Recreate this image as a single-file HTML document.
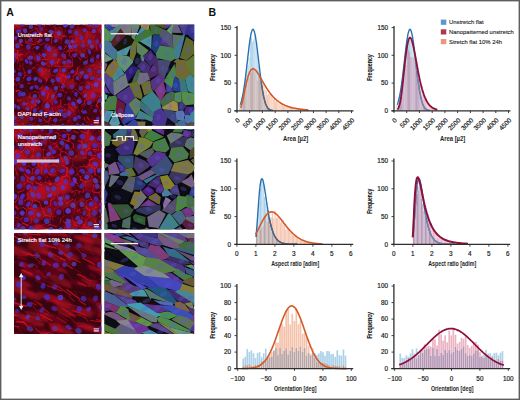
<!DOCTYPE html>
<html><head><meta charset="utf-8"><style>
html,body{margin:0;padding:0;background:#fff;width:520px;height:400px;overflow:hidden;font-family:"Liberation Sans",sans-serif}
svg{display:block}
</style></head><body>
<svg width="520" height="400" viewBox="0 0 520 400">
<defs><clipPath id="cp0"><rect x="14" y="24.5" width="87.6" height="101.2"/></clipPath><clipPath id="cq0"><rect x="104.4" y="24.5" width="89.9" height="101.2"/></clipPath><clipPath id="cp1"><rect x="14" y="129" width="87.6" height="100.6"/></clipPath><clipPath id="cq1"><rect x="104.4" y="129" width="89.9" height="100.6"/></clipPath><clipPath id="cp2"><rect x="14" y="233" width="87.6" height="101"/></clipPath><clipPath id="cq2"><rect x="104.4" y="233" width="89.9" height="101"/></clipPath><clipPath id="uc1"><path d="M239.5,110.8 L239.5,109.2 L240.7,109.2 L240.7,106.1 L241.8,106.1 L241.8,102.2 L243,102.2 L243,98.4 L244.1,98.4 L244.1,91 L245.3,91 L245.3,90.2 L246.4,90.2 L246.4,84.4 L247.6,84.4 L247.6,76.6 L248.7,76.6 L248.7,78.2 L249.9,78.2 L249.9,72.2 L251,72.2 L251,72.2 L252.1,72.2 L252.1,67.5 L253.3,67.5 L253.3,67 L254.4,67 L254.4,71.1 L255.6,71.1 L255.6,71.2 L256.7,71.2 L256.7,80.2 L257.9,80.2 L257.9,75.5 L259,75.5 L259,75.9 L260.2,75.9 L260.2,82.3 L261.3,82.3 L261.3,82.7 L262.4,82.7 L262.4,85.1 L263.6,85.1 L263.6,83.1 L264.7,83.1 L264.7,89.9 L265.9,89.9 L265.9,90.9 L267,90.9 L267,94.9 L268.2,94.9 L268.2,93.7 L269.3,93.7 L269.3,94 L270.5,94 L270.5,93.9 L271.6,93.9 L271.6,95.3 L272.8,95.3 L272.8,99.1 L273.9,99.1 L273.9,97.6 L275,97.6 L275,101.5 L276.2,101.5 L276.2,100.3 L277.3,100.3 L277.3,103.1 L278.5,103.1 L278.5,103.1 L279.6,103.1 L279.6,104.6 L280.8,104.6 L280.8,103.4 L281.9,103.4 L281.9,104.1 L283.1,104.1 L283.1,106 L284.2,106 L284.2,105.7 L285.4,105.7 L285.4,106.6 L286.5,106.6 L286.5,106.6 L287.6,106.6 L287.6,106.9 L288.8,106.9 L288.8,107.8 L289.9,107.8 L289.9,107.2 L291.1,107.2 L291.1,108.1 L292.2,108.1 L292.2,108.2 L293.4,108.2 L293.4,108.7 L294.5,108.7 L294.5,108.9 L295.7,108.9 L295.7,109 L296.8,109 L296.8,109 L298,109 L298,108.9 L299.1,108.9 L299.1,109 L300.2,109 L300.2,109.4 L301.4,109.4 L301.4,109.5 L302.5,109.5 L302.5,109.5 L303.7,109.5 L303.7,109.6 L304.8,109.6 L304.8,109.9 L306,109.9 L306,109.8 L307.1,109.8 L307.1,110 L308.3,110 L308.3,110 L309.4,110 L309.4,110 L310.6,110 L310.6,110.1 L311.7,110.1 L311.7,110.2 L312.8,110.2 L312.8,110.8Z"/></clipPath><clipPath id="uc2"><path d="M396.5,110.8 L396.5,110.2 L397.7,110.2 L397.7,108.7 L398.8,108.7 L398.8,105.1 L400,105.1 L400,101.9 L401.1,101.9 L401.1,92.6 L402.3,92.6 L402.3,87.3 L403.4,87.3 L403.4,79.1 L404.6,79.1 L404.6,68.6 L405.7,68.6 L405.7,64.8 L406.9,64.8 L406.9,42.3 L408,42.3 L408,49.6 L409.1,49.6 L409.1,52.1 L410.3,52.1 L410.3,56.4 L411.4,56.4 L411.4,57.1 L412.6,57.1 L412.6,57.4 L413.7,57.4 L413.7,58.2 L414.9,58.2 L414.9,60.5 L416,60.5 L416,61 L417.2,61 L417.2,68.6 L418.3,68.6 L418.3,81.5 L419.4,81.5 L419.4,82.6 L420.6,82.6 L420.6,84.8 L421.7,84.8 L421.7,94.4 L422.9,94.4 L422.9,93.3 L424,93.3 L424,98.5 L425.2,98.5 L425.2,99.4 L426.3,99.4 L426.3,102.9 L427.5,102.9 L427.5,103.8 L428.6,103.8 L428.6,105.4 L429.8,105.4 L429.8,107 L430.9,107 L430.9,107.1 L432,107.1 L432,107.8 L433.2,107.8 L433.2,108.7 L434.3,108.7 L434.3,109.2 L435.5,109.2 L435.5,109.3 L436.6,109.3 L436.6,109.8 L437.8,109.8 L437.8,109.9 L438.9,109.9 L438.9,110.2 L440.1,110.2 L440.1,110.3 L441.2,110.3 L441.2,110.4 L442.4,110.4 L442.4,110.5 L443.5,110.5 L443.5,110.6 L444.6,110.6 L444.6,110.6 L445.8,110.6 L445.8,110.7 L446.9,110.7 L446.9,110.7 L448.1,110.7 L448.1,110.7 L449.2,110.7 L449.2,110.7 L450.4,110.7 L450.4,110.8 L451.5,110.8 L451.5,110.8 L452.7,110.8 L452.7,110.8 L453.8,110.8 L453.8,110.8 L455,110.8 L455,110.8 L456.1,110.8 L456.1,110.8 L457.2,110.8 L457.2,110.8 L458.4,110.8 L458.4,110.8 L459.5,110.8 L459.5,110.8 L460.7,110.8 L460.7,110.8 L461.8,110.8 L461.8,110.8 L463,110.8 L463,110.8 L464.1,110.8 L464.1,110.8 L465.3,110.8 L465.3,110.8 L466.4,110.8 L466.4,110.8 L467.6,110.8 L467.6,110.8 L468.7,110.8 L468.7,110.8 L469.8,110.8 L469.8,110.8Z"/></clipPath><clipPath id="uc3"><path d="M255.9,244.4 L255.9,232.2 L257.2,232.2 L257.2,232.5 L258.6,232.5 L258.6,226.7 L259.9,226.7 L259.9,229.6 L261.2,229.6 L261.2,227.2 L262.6,227.2 L262.6,225.3 L263.9,225.3 L263.9,215.3 L265.2,215.3 L265.2,214.5 L266.5,214.5 L266.5,221.4 L267.9,221.4 L267.9,210.5 L269.2,210.5 L269.2,217.7 L270.5,217.7 L270.5,217 L271.9,217 L271.9,213.5 L273.2,213.5 L273.2,218.2 L274.5,218.2 L274.5,210.4 L275.9,210.4 L275.9,218 L277.2,218 L277.2,217.1 L278.5,217.1 L278.5,218.5 L279.8,218.5 L279.8,222.6 L281.2,222.6 L281.2,220.2 L282.5,220.2 L282.5,219.9 L283.8,219.9 L283.8,224.7 L285.2,224.7 L285.2,229.7 L286.5,229.7 L286.5,226.7 L287.8,226.7 L287.8,229.1 L289.2,229.1 L289.2,231.5 L290.5,231.5 L290.5,232.1 L291.8,232.1 L291.8,234.9 L293.1,234.9 L293.1,235.8 L294.5,235.8 L294.5,236.1 L295.8,236.1 L295.8,238.3 L297.1,238.3 L297.1,237.8 L298.5,237.8 L298.5,239.5 L299.8,239.5 L299.8,239.9 L301.1,239.9 L301.1,239.5 L302.5,239.5 L302.5,240.5 L303.8,240.5 L303.8,241.5 L305.1,241.5 L305.1,241.4 L306.4,241.4 L306.4,241.5 L307.8,241.5 L307.8,242 L309.1,242 L309.1,242.4 L310.4,242.4 L310.4,243 L311.8,243 L311.8,243 L313.1,243 L313.1,243.2 L314.4,243.2 L314.4,243.6 L315.8,243.6 L315.8,243.5 L317.1,243.5 L317.1,243.7 L318.4,243.7 L318.4,243.8 L319.7,243.8 L319.7,243.8 L321.1,243.8 L321.1,244 L322.4,244 L322.4,244.1 L323.7,244.1 L323.7,244.4Z"/></clipPath><clipPath id="uc4"><path d="M412.9,244.4 L412.9,226.1 L414.2,226.1 L414.2,202.6 L415.6,202.6 L415.6,186.4 L416.9,186.4 L416.9,184.1 L418.2,184.1 L418.2,190.6 L419.5,190.6 L419.5,183.9 L420.9,183.9 L420.9,188.1 L422.2,188.1 L422.2,205 L423.5,205 L423.5,210.9 L424.9,210.9 L424.9,210.9 L426.2,210.9 L426.2,219.5 L427.5,219.5 L427.5,215.5 L428.9,215.5 L428.9,220.2 L430.2,220.2 L430.2,223.6 L431.5,223.6 L431.5,229 L432.9,229 L432.9,229.1 L434.2,229.1 L434.2,232.9 L435.5,232.9 L435.5,234.2 L436.8,234.2 L436.8,236.7 L438.2,236.7 L438.2,237.9 L439.5,237.9 L439.5,237.1 L440.8,237.1 L440.8,239.1 L442.2,239.1 L442.2,238.2 L443.5,238.2 L443.5,239.6 L444.8,239.6 L444.8,240.2 L446.2,240.2 L446.2,240.2 L447.5,240.2 L447.5,241.4 L448.8,241.4 L448.8,242.1 L450.1,242.1 L450.1,242.2 L451.5,242.2 L451.5,242.2 L452.8,242.2 L452.8,242.7 L454.1,242.7 L454.1,242.8 L455.5,242.8 L455.5,242.7 L456.8,242.7 L456.8,243 L458.1,243 L458.1,243.2 L459.5,243.2 L459.5,243.4 L460.8,243.4 L460.8,243.4 L462.1,243.4 L462.1,243.3 L463.4,243.3 L463.4,243.7 L464.8,243.7 L464.8,243.5 L466.1,243.5 L466.1,243.6 L467.4,243.6 L467.4,243.8 L468.8,243.8 L468.8,243.8 L470.1,243.8 L470.1,243.9 L471.4,243.9 L471.4,244 L472.8,244 L472.8,244 L474.1,244 L474.1,243.9 L475.4,243.9 L475.4,244 L476.7,244 L476.7,244.1 L478.1,244.1 L478.1,244.1 L479.4,244.1 L479.4,244.1 L480.7,244.1 L480.7,244.4Z"/></clipPath><filter id="bl1" x="-10%" y="-10%" width="120%" height="120%"><feGaussianBlur stdDeviation="0.7"/></filter><filter id="bl3" x="-20%" y="-20%" width="140%" height="140%"><feGaussianBlur stdDeviation="1.6"/></filter><filter id="bl4" x="-5%" y="-5%" width="110%" height="110%"><feGaussianBlur stdDeviation="0.75"/></filter><filter id="bl2" x="-20%" y="-20%" width="140%" height="140%"><feGaussianBlur stdDeviation="0.6"/></filter></defs>
<rect width="520" height="400" fill="#fff"/>
<g clip-path="url(#cp0)">
<rect x="14" y="24.5" width="87.6" height="101.2" fill="#3e0512"/>
<g filter="url(#bl3)">
<circle cx="67.3" cy="112.9" r="4.2" fill="rgb(199,17,39)" fill-opacity="0.5"/>
<circle cx="45.3" cy="107.7" r="3.2" fill="rgb(180,16,36)" fill-opacity="0.5"/>
<circle cx="68.7" cy="128.4" r="5.7" fill="rgb(174,15,34)" fill-opacity="0.3"/>
<circle cx="104.1" cy="27.5" r="7.2" fill="rgb(202,18,40)" fill-opacity="0.5"/>
<circle cx="103.5" cy="65.1" r="4" fill="rgb(213,19,42)" fill-opacity="0.4"/>
<circle cx="11.1" cy="122.8" r="5.7" fill="rgb(207,18,41)" fill-opacity="0.3"/>
<circle cx="53.8" cy="108.6" r="7.9" fill="rgb(179,16,35)" fill-opacity="0.4"/>
<circle cx="89.1" cy="34.8" r="4" fill="rgb(214,19,42)" fill-opacity="0.5"/>
<circle cx="90.6" cy="23.4" r="5.2" fill="rgb(218,19,43)" fill-opacity="0.5"/>
<circle cx="18.4" cy="98.3" r="4.1" fill="rgb(165,14,33)" fill-opacity="0.3"/>
<circle cx="98.7" cy="46.5" r="5.3" fill="rgb(203,18,40)" fill-opacity="0.3"/>
<circle cx="82" cy="35.2" r="7.4" fill="rgb(181,16,36)" fill-opacity="0.5"/>
<circle cx="75.8" cy="31.9" r="3.7" fill="rgb(210,18,42)" fill-opacity="0.4"/>
<circle cx="50" cy="53.5" r="7.3" fill="rgb(170,15,34)" fill-opacity="0.4"/>
<circle cx="91.7" cy="44.5" r="5" fill="rgb(199,17,39)" fill-opacity="0.4"/>
<circle cx="100.1" cy="34.3" r="4" fill="rgb(165,14,33)" fill-opacity="0.4"/>
<circle cx="13.7" cy="48.9" r="8" fill="rgb(169,15,33)" fill-opacity="0.4"/>
<circle cx="100.1" cy="76.2" r="7.4" fill="rgb(224,20,44)" fill-opacity="0.4"/>
<circle cx="81.7" cy="88" r="3.1" fill="rgb(210,18,42)" fill-opacity="0.3"/>
<circle cx="27.5" cy="53.3" r="6.4" fill="rgb(163,14,32)" fill-opacity="0.4"/>
<circle cx="90.6" cy="96.8" r="5.9" fill="rgb(217,19,43)" fill-opacity="0.4"/>
<circle cx="18" cy="56.5" r="4.3" fill="rgb(205,18,41)" fill-opacity="0.5"/>
<circle cx="58.6" cy="33.1" r="5.2" fill="rgb(216,19,43)" fill-opacity="0.4"/>
<circle cx="97.4" cy="128.1" r="3.7" fill="rgb(220,19,44)" fill-opacity="0.3"/>
<circle cx="55.8" cy="57.4" r="7.6" fill="rgb(185,16,37)" fill-opacity="0.4"/>
<circle cx="100.3" cy="40.7" r="4.3" fill="rgb(192,17,38)" fill-opacity="0.3"/>
<circle cx="58.4" cy="36.2" r="4.6" fill="rgb(207,18,41)" fill-opacity="0.4"/>
<circle cx="37.7" cy="58" r="4.2" fill="rgb(215,19,43)" fill-opacity="0.5"/>
<circle cx="18.4" cy="28.7" r="5.1" fill="rgb(182,16,36)" fill-opacity="0.4"/>
<circle cx="52.6" cy="51.6" r="5.8" fill="rgb(197,17,39)" fill-opacity="0.4"/>
<circle cx="98.8" cy="85.2" r="6.7" fill="rgb(221,19,44)" fill-opacity="0.5"/>
<circle cx="90.1" cy="81.4" r="6.3" fill="rgb(178,16,35)" fill-opacity="0.4"/>
<circle cx="57.2" cy="62.7" r="5" fill="rgb(199,17,39)" fill-opacity="0.3"/>
<circle cx="43.8" cy="89.3" r="3.9" fill="rgb(171,15,34)" fill-opacity="0.5"/>
<circle cx="22.5" cy="128" r="3.2" fill="rgb(165,14,33)" fill-opacity="0.4"/>
<circle cx="76.1" cy="38.2" r="5.2" fill="rgb(195,17,39)" fill-opacity="0.4"/>
<circle cx="90.4" cy="39.9" r="7.5" fill="rgb(161,14,32)" fill-opacity="0.5"/>
<circle cx="71.9" cy="85" r="4.5" fill="rgb(162,14,32)" fill-opacity="0.4"/>
<circle cx="97.6" cy="92.6" r="7" fill="rgb(185,16,37)" fill-opacity="0.5"/>
<circle cx="104.9" cy="62.8" r="6.2" fill="rgb(179,16,35)" fill-opacity="0.4"/>
<circle cx="16.7" cy="21.1" r="6.9" fill="rgb(164,14,32)" fill-opacity="0.5"/>
<circle cx="72.9" cy="108.2" r="4.4" fill="rgb(214,19,42)" fill-opacity="0.5"/>
<circle cx="61" cy="77.9" r="5.9" fill="rgb(214,19,42)" fill-opacity="0.5"/>
<circle cx="69.4" cy="83.9" r="5.7" fill="rgb(192,17,38)" fill-opacity="0.5"/>
<circle cx="32.9" cy="104.2" r="3.3" fill="rgb(220,19,44)" fill-opacity="0.5"/>
<circle cx="71.7" cy="115.4" r="5.9" fill="rgb(166,14,33)" fill-opacity="0.4"/>
<circle cx="99.1" cy="29.4" r="3.2" fill="rgb(224,20,44)" fill-opacity="0.3"/>
<circle cx="11.3" cy="22.7" r="7.4" fill="rgb(161,14,32)" fill-opacity="0.5"/>
<circle cx="78.9" cy="72.7" r="5.4" fill="rgb(221,19,44)" fill-opacity="0.3"/>
<circle cx="14.3" cy="21.4" r="5.9" fill="rgb(185,16,37)" fill-opacity="0.5"/>
<circle cx="80.1" cy="48" r="7.6" fill="rgb(195,17,39)" fill-opacity="0.4"/>
<circle cx="45.4" cy="73.8" r="6.1" fill="rgb(224,20,44)" fill-opacity="0.5"/>
<circle cx="67.5" cy="65" r="4.3" fill="rgb(224,20,44)" fill-opacity="0.5"/>
<circle cx="41.4" cy="70.5" r="4.6" fill="rgb(224,20,44)" fill-opacity="0.4"/>
<circle cx="50.9" cy="61.2" r="6.3" fill="rgb(170,15,34)" fill-opacity="0.5"/>
<circle cx="62.6" cy="74.4" r="6.7" fill="rgb(219,19,43)" fill-opacity="0.3"/>
<circle cx="22.5" cy="119" r="7.6" fill="rgb(210,18,42)" fill-opacity="0.4"/>
<circle cx="42.6" cy="129" r="3.7" fill="rgb(223,20,44)" fill-opacity="0.3"/>
<circle cx="105.4" cy="114.5" r="4.1" fill="rgb(219,19,43)" fill-opacity="0.5"/>
<circle cx="93.9" cy="125.9" r="7.6" fill="rgb(187,16,37)" fill-opacity="0.4"/>
<circle cx="41.8" cy="31.1" r="5.3" fill="rgb(173,15,34)" fill-opacity="0.4"/>
<circle cx="88.6" cy="23" r="3.1" fill="rgb(215,19,43)" fill-opacity="0.5"/>
<circle cx="89.8" cy="70.7" r="6.8" fill="rgb(168,15,33)" fill-opacity="0.5"/>
<circle cx="77.6" cy="42.6" r="5.5" fill="rgb(167,15,33)" fill-opacity="0.4"/>
<circle cx="88.6" cy="94.1" r="6.1" fill="rgb(213,19,42)" fill-opacity="0.5"/>
<circle cx="47.5" cy="95.5" r="7.7" fill="rgb(198,17,39)" fill-opacity="0.5"/>
<circle cx="98.1" cy="65.8" r="4.6" fill="rgb(223,20,44)" fill-opacity="0.4"/>
<circle cx="88.5" cy="85.3" r="4" fill="rgb(174,15,34)" fill-opacity="0.4"/>
<circle cx="28" cy="102.9" r="8" fill="rgb(197,17,39)" fill-opacity="0.4"/>
<circle cx="51.7" cy="94.4" r="6.3" fill="rgb(184,16,36)" fill-opacity="0.3"/>
</g>
<g filter="url(#bl1)">
<path d="M110.5 115.8l-0.1 5.6M34.2 67.8l2.7 -3.5M110.5 115.8l-3.8 -2.4M108.2 125.2l0.5 2.8M36 125l10.2 -2.5M89.9 111.9l-0.4 -3M27.6 98.7l1.4 5.6M96.5 75.7l7 -0.7M97.9 35.4l3 1.7M94 73l0.9 -6.7M87.2 35.9l1.6 -0.7M69 119.5l4.9 -5.4M40.3 34.7l-3.9 -6M100.9 37.1l5 -1.9M16.7 53.1l-2.1 3.3M39.3 78l0.2 2.7M73.5 79l-0.8 1.5M85.7 42.9l1.5 2.6M37.1 71.7l1.5 0.9M34.1 81.4l1.2 1.5M34.7 111.1l0.9 1.5M20.4 36.6l2.4 0.9M69.9 43.9l-1.6 2.2M68.6 59.7l1.5 3M96.9 87.9l3.6 1.3M35.2 22.3l-2.4 2.8M83.6 82.9l-2.4 0M37.9 98.6l3.4 0.1" stroke="rgb(220,17,39)" stroke-width="0.9" stroke-opacity="0.4" stroke-linecap="round" fill="none"/>
<path d="M9.6 56.9l-0.3 -2.3M15.2 49.9l2.6 0.8M17.8 50.8l4.8 -1.2M18.5 21.7l-6.1 -4.4M97.2 126.3l6.5 4M9.6 82.5l-1.9 8.3M48.6 93.3l2.8 -2.1M42 50.2l3.5 0.9M45.5 33.6l-2.2 1.3M46.6 110.6l6.6 -3.4M103.3 69.3l4.2 -3M36.9 68.2l-2.9 2.3M47.5 115.6l1.4 0.8M95.2 97.7l-1.1 3.6M65.1 112.9l0.8 3.8M71.1 66.6l-0.7 1.3M24.3 84.4l-1.4 0.4M95.7 120.1l-0.2 2.2M65.7 119.2l-3.3 0.8M93.1 62.2l1 3.8M46.9 53l-1 3.9" stroke="rgb(200,16,36)" stroke-width="0.6" stroke-opacity="0.6" stroke-linecap="round" fill="none"/>
<path d="M9.3 54.6l6 -4.7M13.3 32.9l-0.2 -4.8M97.7 105.6l2.9 8M41.4 45l-6.3 -2.5M58.8 84.3l1.6 5.9M54.2 75.8l-2.1 -0.6M58 60.4l0.9 -1.1M59.4 66.1l8.1 0.3M41.6 116.3l4.5 -5.8M52.1 37l2.3 -1.2M69.6 20.6l3.2 -1.4M65 46.5l4.8 -3.1M69.1 52.8l3.9 -2.2M23.4 60.1l-1.5 0.4M40.9 108.4l2.4 1.6M93.7 67.8l3.8 1.3M29.8 79.3l0.2 1.8M52.8 20.6l-0.7 2.5M71.9 91l3.1 2.5M98.8 24.6l-0.7 2.8M47 54.4l-1.7 1.7M93 111.3l3.4 1M51.1 81l1.4 2.1M29.3 52.3l-3.2 1.7M41.5 68.4l-1.4 1.2M46.9 78l-0.8 2M90.7 103.6l-2.2 0.2M39.3 68.1l1.8 0.7M73 54l-1.6 3.4M53 113.1l-1.9 1.8M45.5 120.2l-1.5 0.5M11 121.8l1.6 2.8M67 120.6l2.3 1" stroke="rgb(200,16,36)" stroke-width="0.9" stroke-opacity="0.6" stroke-linecap="round" fill="none"/>
<path d="M11.6 43l3.7 6.9M13.1 28.1l4.2 -2.2M108 107.6l-4.8 -4M28.8 97.1l0.8 -3.8M95.7 19.6l-1.6 0.6M35.2 123.4l1.3 -7.4M30.4 113.5l-3.4 1.3M35.2 123.4l-9.2 -1.9M84.4 50.3l3.3 6.7M50.4 118.2l-3.8 -7.5M8.4 106.4l5.3 6M61.7 38.7l-0.3 3.7M55.5 40.7l3.4 0.9M31.3 62.6l-1.9 2.9M72.7 72.7l3.8 0.7M61.3 46.2l-1.7 1M91.8 73.6l-3.3 0.4M23.1 54.4l1.7 2" stroke="rgb(180,14,32)" stroke-width="0.6" stroke-opacity="0.8" stroke-linecap="round" fill="none"/>
<path d="M10.9 42.7l-1.9 -4.4M10.1 73.6l4.9 2.2M10 57.3l6.9 0.8M39.9 75.4l2.4 -0.1M35.5 130.5l0.5 -5.5M81.7 77.1l-4.8 -3.7M89.7 19.3l4.3 0.8M41.8 88.4l6.8 4.9M41.4 45l2.8 -2.4M75.9 89.3l5 4.2M72.6 80.9l0.8 -4.7M72.6 65.9l-3.9 1.3M56.8 97.8l-6.7 3.2M110.9 38.4l-5 -3.1M26.5 132.4l-6.1 -3.9M81.2 33.2l-4.8 5M69.6 36.9l2.6 -0.7M35.8 99.3l0.8 2.5M54.3 22.9l-0.2 1.7M89.2 43.8l-1.6 2.2M97 110.1l-3.3 1.9M27.1 41.1l3.8 1.1M48 30.9l1.5 1.7M95.4 21.4l3.1 0.8M46.5 23.7l-2.3 2M16.4 25.1l1.8 2M84.2 101.5l1.3 3.5M33 123.4l0.7 2.7M20.3 26.4l-1.7 1.9M93.3 82.5l-1 3.2M63.7 74.8l-3 1.3M28.4 106.7l-0.4 3.2M81.4 75.1l1.9 0.6M38.6 60l2.3 0.1M34.8 117.1l-0.5 1.9M36.3 104l-2.2 0.4M70.5 73.1l-1.9 0M71.1 126.6l1.7 0.4M61.3 119l-2.2 1.9M62.3 114.9l-1.4 1.4M49.4 46.6l1.2 2.5M56.6 96.5l-0.9 1.5" stroke="rgb(200,16,36)" stroke-width="0.9" stroke-opacity="0.8" stroke-linecap="round" fill="none"/>
<path d="M9 38.2l-20.8 -7.2M55.3 108l3.9 -2.2M35.1 42.5l0.1 -3.7M110.4 83.6l-4.3 -5.3M49.2 120.6l-2.7 1.3M45.4 25.3l-1.5 2.2M102.9 78.9l1.8 1.2M90.9 66.4l-0.7 1.5M85.4 86.2l1.3 1.4M79.5 38.8l2.9 0.9M58.5 27l3.7 1.3M57.8 96.1l1.2 1.1M49.9 60.6l-0.1 2.1M25.4 40.1l1.8 2.8M28.6 50.7l1.1 1.3M86.4 112.4l2 1.5" stroke="rgb(220,17,39)" stroke-width="0.6" stroke-opacity="0.8" stroke-linecap="round" fill="none"/>
<path d="M35.2 131.1l0.4 -0.5M86.7 130.1l0.8 0.9M23.3 67.8l-3.2 -1.7M26.5 26.5l1.3 -4.3M21.7 99l-3.7 1.4M18 100.6l5.1 7.6M36.5 116l-6.1 -2.5M56.3 83.7l-4.8 2.1M80.9 93.5l4.2 -2.6M70.1 92.5l5.8 -3.2M59.4 66.1l0.6 8.1M92.8 27.3l5.5 2.2M109.8 54.4l-2.1 4.7M84.8 41l-6.3 1.3M23.1 125.4l2 1M35 34.8l-3 0.2M60.6 67l-0.1 3.3M12.4 113.9l2.3 2.2M19.1 82.9l0.8 3.2M51.2 61.7l1.5 3.4M16 38.8l-0.2 1.8M67.6 51.1l-2 2.2M96.8 127.3l1.4 1M73.2 83.8l-1.7 3.1M58.3 68.2l-1.3 2.5M48.9 119.3l3 1.3M47.4 121.3l2.5 2" stroke="rgb(240,19,43)" stroke-width="0.6" stroke-opacity="0.6" stroke-linecap="round" fill="none"/>
<path d="M32.2 75.4l-7 -0.4M74.1 98.8l-5.2 4.3M89.7 19.3l-4.2 -13.2M8.4 106.4l1.7 -4.8M60.4 90.2l5.7 2.2M45.4 51.1l4 3.5M75 114.1l-1 -0M111.5 74.4l0.2 -6.1M18.3 121l-6.2 0.9M72.5 44.6l5.3 -2.9M76.3 38.2l1.4 3.5M73 105.6l0.9 1.2M14.9 126.6l1.6 0.3M78.3 109.5l1 3.8M96 41.7l0.8 3.8M57.6 61.8l-2.3 1.9M71.2 48.3l-0.8 1.4M19.9 100.3l1.9 0.4M19.9 65.1l0 3.7M14 72.9l-2.2 1.4M13.7 39.8l2 0.2M27.5 104.9l2.6 2.9M47.5 63.6l-3.2 0.6" stroke="rgb(200,16,36)" stroke-width="0.6" stroke-opacity="0.8" stroke-linecap="round" fill="none"/>
<path d="M25.2 75l-1.8 3.5M17.8 50.8l-0.9 7.3M25.6 42.7l7.6 1.7M111.3 99.2l-3.5 -1.3M73.3 76.2l3.6 -2.9M78.8 57.6l2.1 2.5M96.7 46.3l0.1 3.9M48.6 93.3l-1.7 5.8M21.3 111l-1.6 3.3M51.8 24.4l-2.3 0.8M58.7 66.1l-3.6 0.2M44.9 88.8l-0.2 1.7M17.7 99.8l1.1 1.8M30.1 83.3l-2.3 0.1M87.4 59.8l-0.5 2.6M52.3 62l-0.6 3.6M26.4 115.4l3.1 2.2M65.6 47.5l-1.8 1.8M91.8 74l-3 1.1M76.6 40.1l-2.3 2.1M68.8 49.3l-1.8 2.6M49.8 69.2l-0.8 2.3M25.5 103.2l2.2 2.7M15 82.9l-0.7 2.4M96.3 105.1l-0.1 2M53.8 41.3l1.9 1M18.6 123.7l-1.1 3.3M94.1 64.7l-3.1 1M34.5 67.3l-2.8 1.9M11.9 103.8l-0.7 3.7M103.5 108.1l0.5 1.7" stroke="rgb(240,19,43)" stroke-width="0.9" stroke-opacity="0.8" stroke-linecap="round" fill="none"/>
<path d="M33.9 83.3l-1.5 -0.6M18.5 21.7l3.2 -2.5M84.4 50.3l-4.9 -0.1" stroke="rgb(180,14,32)" stroke-width="0.9" stroke-opacity="0.3" stroke-linecap="round" fill="none"/>
<path d="M26.4 89.3l3.2 4.1M63.8 98.6l2.3 -6.1M56.4 114.6l-1.1 -6.5M30 31.8l-0.7 2.8M82.7 82.3l-5.6 1.7M86.3 22l-0.7 3.3M106.5 60l1 6.3M72.3 123.7l1.1 5.5M55.6 33l-3.5 0.5M10.7 85.2l1.5 0.7M51.5 94.4l-0.7 2.8M23.9 70.5l-1.2 1.8M41.3 42.5l0.8 1.4M95.7 65.3l0.8 3.6M45.2 35.1l1.7 0.5" stroke="rgb(180,14,32)" stroke-width="0.6" stroke-opacity="0.6" stroke-linecap="round" fill="none"/>
<path d="M34.6 91.6l-5 1.8M16.2 84.8l7.3 -4.1M110.4 121.3l-2.2 3.9M93.5 132.2l-5.9 -1.2M26.1 53l-0.7 3M23 46l-6.2 -4.3M36.8 64.3l7.6 4M74.9 99l2.8 6.4M25.6 42.7l-0.6 -6M43.3 34.9l-3 -0.2M72.6 80.9l-4.8 1.5M93.2 36.9l-4.4 -1.7M98.3 29.5l2.9 -3.1M22.6 111.7l-5.3 1.6M46.1 110.6l-4.5 -4.3M28.8 36.3l-1.6 0.7M90.9 105l0.6 3.6M66.7 35.7l-0.9 3.2M83.9 57.3l1.3 1.1M16.8 120.2l1.8 0.1M72.9 30.5l-2.6 0.4M53.7 99.1l-1.4 1.9M54.1 29l1.1 2.8M51.8 118.4l-2.5 0.3M84.3 57.3l1.5 0.9M83.5 118.5l-1.8 0.4" stroke="rgb(180,14,32)" stroke-width="0.9" stroke-opacity="0.6" stroke-linecap="round" fill="none"/>
<path d="M15.5 75.4l7.9 3.1M34.2 67.8l-7.3 -1M93.1 121.4l-5.6 1M12.4 17.3l-3.7 3.3M16.2 84.8l0.5 4.4M34.4 60.3l0.3 -7.2M21.7 19.2l-1.2 -50.3M58.8 84.3l5.2 -4M87.1 47.6l8.1 3.6M93.2 36.9l4.7 -1.5M55.3 108l-2.1 -0.8M59 116.2l2.3 4.4M69 119.5l-0.4 1.2M70.1 132.7l-4.9 -4.2M75 114.1l3.9 7.4M70.1 132.7l3.2 -3.5M61.3 42.4l3.7 4.1M73.7 30l4.2 -2.7M59.3 99.6l-1.4 1.7M47.6 121.8l0.7 2.3M99.8 70.5l-0.4 1.9M63.6 106.3l-3.3 1.3M100.8 67.2l-2.1 0.8M66.8 63.5l-2.8 2.1M82.6 93.8l-0 3.8M49.2 26.5l-3 0.1M72.4 69.1l2.6 2.9M86 103.3l-3.7 1.3M33.9 41l-3.1 2.1" stroke="rgb(200,16,36)" stroke-width="0.6" stroke-opacity="0.4" stroke-linecap="round" fill="none"/>
<path d="M23.3 67.8l2 7.2M33.2 44.4l1.9 -1.9M18 100.6l-0 -0.1M29 104.3l2.9 2.1M67.4 91.9l-1.3 0.6M30 31.8l5.7 -3.4M64.8 35.6l-3.2 3.1M44.9 76.1l0.7 3M51.6 46.2l2.2 1.8M97.3 58.2l1.6 0.6M49 120.4l0 3.6M96.1 99.7l1.7 2.7M66.2 113.5l-3.4 0.4M70.6 113.4l-2.6 0.9M69.8 42.7l0.1 2.9M78.1 122.2l-1.7 1.4M38.5 108.1l-2.3 0.8M69.8 30.1l1.1 3M82.9 89.7l1.1 3.5M89.4 72.9l0.2 1.6M13.7 87.9l1.1 3.5M76 94.6l0.6 1.9" stroke="rgb(180,14,32)" stroke-width="0.9" stroke-opacity="0.8" stroke-linecap="round" fill="none"/>
<path d="M33.9 83.3l2.6 -0.4M58 64.7l0 -4.3M21.6 28.3l0.6 7.2M51.4 91.2l4.5 1.6M54.2 75.8l5.8 -1.6M105.3 49.5l1.4 -4.2M87.4 57.8l0.4 -0.8M84.5 68.1l5.5 -2.9M89.4 28.9l-0.5 6.3M64.1 30.8l0.8 4.8M59.8 27.2l-3.9 1.5" stroke="rgb(180,14,32)" stroke-width="0.6" stroke-opacity="0.4" stroke-linecap="round" fill="none"/>
<path d="M108.2 125.2l-6.4 -3.7M20.2 61.7l-0.2 4.4M42.6 59.3l-3.6 -6.6M94.5 100.9l-5.1 -2.9M89.7 19.3l-3.5 2.7M63.8 98.6l-3.2 1.7M55.9 92.8l4.4 -2.5M89.1 92.2l-4 -1.3M93 55.4l4.5 6.7M102.2 59.3l-4.7 2.8M54.4 35.8l1.4 -7.1M108.2 44.6l-1.6 0.8M27.9 110.2l0.6 2.9M68 65.2l-1.7 0.7M93.2 60.4l1.4 3.1" stroke="rgb(220,17,39)" stroke-width="0.6" stroke-opacity="0.4" stroke-linecap="round" fill="none"/>
<path d="M8.7 68l-12.8 -2.3M84.3 119.7l0.1 -2.2M89.3 98l-4.9 2.8M22.6 111.7l4.4 3.1M59.2 105.8l6.6 3.2M46.4 81.9l0 -3.1M103.5 75l2.6 2.7M72.6 65.9l-0.4 -7.3M35.7 105.6l-0.2 -6M33.2 44.2l-2.1 1.9M66.5 59.8l-2.3 3.1M33.9 32.7l-0.1 2.2M50.6 115.3l2 0.1M46.6 65l2.8 1.5M79.6 51.8l2.1 1.9M87.5 31l-0.7 3.9M41.6 73.2l1.8 0.3M52.5 83.6l1 1.2M81.4 86.6l2.5 0.7M10.6 49.4l3.8 0.2M14.4 112.8l0.5 3.8M93.6 32.3l2.9 0.6M92.9 27.1l1.4 0.7M48 45.1l1.8 0.4M60.8 82.8l3.3 1.3M55.1 53.3l-0.2 3M42.4 69.5l-0.3 2.3M35 125.1l-0.9 2.8M65.1 50.7l-2.4 2.4M12.3 103.1l-0 3" stroke="rgb(240,19,43)" stroke-width="0.9" stroke-opacity="0.6" stroke-linecap="round" fill="none"/>
<path d="M16.9 58.1l3.3 3.6M25.8 121.6l-4.4 2.2M81.2 33.2l-1.9 -5.2" stroke="rgb(180,14,32)" stroke-width="0.6" stroke-opacity="0.3" stroke-linecap="round" fill="none"/>
<path d="M13.1 28.1l-0.3 -0.2M74.9 99l-0.8 -0.2M86.3 22l-5.9 -4.2M10 101.6l5.2 -2.5M44.3 42.6l5.8 1.2M89.8 74.7l-3.9 -2.2M92.8 27.3l-3.4 1.6M100.7 22.9l0.5 3.5M36.9 115.7l2.2 -8.8M21.4 123.8l-1.1 4.8M12.2 121.9l-0.6 8.3M109.8 54.4l4.9 -1.5M65.4 24.2l-3.2 0.2M65.4 28.9l-0.2 2.7M59.2 47.9l-1.5 1.8M46.6 53.5l0.9 3.7M70 122.2l2.3 0.7M94.5 91.8l-2.6 2.6M29.8 39.3l1.6 0.2M13.9 84.3l-1 1.4M68.5 103.8l-1 1.2M54.8 53.4l1.1 1.3M62.6 119.2l-1.5 2.5M31.2 53.1l3 1.4M59 90.6l2.4 1.8M69.4 120.4l2.2 0.1M22.7 86.3l-3.7 1.4M57.5 68.9l2.4 3.2" stroke="rgb(200,16,36)" stroke-width="0.9" stroke-opacity="0.4" stroke-linecap="round" fill="none"/>
<path d="M103.2 103.6l-5.5 2M47.1 59.6l2.3 -2.6M58 64.7l-7.2 3.1M21.6 28.3l4.9 -1.8M14.4 92.6l0.8 6.6M42 86l4.4 -4.1M106.1 78.3l-0 -0.6M100.9 37.1l0.7 4.5M45.5 33.6l1.1 -4.4M54.4 46.4l6.9 -4M106.5 60l1.1 -0.9M82.5 64.5l3.6 0.6M65.9 125.8l-1.1 2.7" stroke="rgb(180,14,32)" stroke-width="0.9" stroke-opacity="0.4" stroke-linecap="round" fill="none"/>
<path d="M87.5 122.4l-3.2 -2.7M38.1 92.3l-3.5 -0.7M70.2 108.1l-1.3 -0.6M84.5 100.9l-0.7 5M91.3 83l1.9 6.7M30.4 113.5l1.4 -7.1M72.2 58.5l-3 -3M58.9 59.4l6.9 -0.7M103.3 69.3l-7.3 -3.6M85.6 25.3l3.8 3.6M84.8 41l2.4 -5.1M41.5 106.3l3.1 -6.5M35.6 99.6l4.2 -2.8M38.1 92.3l1.6 4.5M86.7 48.4l2.8 1.3M32.3 86.3l-2.4 2.2M30.3 94.6l-0.7 3.7M56.7 22l-2.2 0.7M58.1 86.5l-3.4 0.7" stroke="rgb(240,19,43)" stroke-width="0.6" stroke-opacity="0.8" stroke-linecap="round" fill="none"/>
<path d="M41.8 88.4l0.2 -2.4M50.4 118.2l-1.2 2.4" stroke="rgb(240,19,43)" stroke-width="0.9" stroke-opacity="0.3" stroke-linecap="round" fill="none"/>
<path d="M47.1 59.6l-4.5 -0.3M68.9 103.1l-0 4.4M98.6 95.6l5.1 5.8M77.6 67.5l-0.7 5.9M46.6 121.9l-5 -5.5M51.1 43.7l1 -6.7M69.2 55.5l-0 -2.7M28.8 97.1l6.7 2.5M72.5 44.6l0.5 6.1M64.9 80.6l-1.4 3.3M22.7 58.5l-2.5 1.7M71.1 107.8l1.9 3.3M12.2 113l-0.6 2.4M88.9 76.8l-1.7 1.5M34.6 85.4l2.2 1M13.2 75.1l-2.2 0.5M11.5 47.6l0 1.9M48 101.4l-1.8 2.9M30.6 111.7l1.4 3.2M78.8 97.6l2.6 1.1M15.3 56.5l0.6 1.7M71 48l2.1 0.6M92.6 71.4l-1.2 1.7M60.2 103.5l1.3 2.4M72 41.7l-2.5 0.8M63.1 57.6l1.9 0.9M39.8 53.6l0.3 1.7M36.3 46.2l-2.4 1.6M99 99.4l-1.1 3.8M30.9 38.1l2.1 0.7M65.7 104.7l-1.9 0M69.1 48.1l1.1 1.7M37.8 57.9l-0.1 3.3M36.5 105.5l-3.5 1.8M78.8 100.4l-2.6 0.1" stroke="rgb(220,17,39)" stroke-width="0.9" stroke-opacity="0.8" stroke-linecap="round" fill="none"/>
<path d="M32.6 51.7l2.1 1.4M17.3 25.9l4.3 2.5M27.8 22.2l-6.1 -3M95.8 80.5l5 3.3M95.2 51.2l-2.2 4.2M64.3 19.8l-3.6 2.5M69.6 20.6l-5.3 -0.8M97.4 112.9l0.7 1.9M96.9 77.1l-2.1 1.5M78.3 25.8l0.6 3.9M71.3 41.2l-1.6 2.2" stroke="rgb(240,19,43)" stroke-width="0.6" stroke-opacity="0.4" stroke-linecap="round" fill="none"/>
<path d="M100.8 90.6l-1.3 0.8M99.5 91.4l-6.3 -1.7M41.6 116.3l-4.6 -0.6M30.9 20.8l3.7 2.2M47.7 19.3l3.7 0.9M54.4 35.8l7.2 2.9M69.8 43.4l2.6 1.2M49.4 58l-0.8 2M75.3 105.4l1.4 1.5M56.7 49.5l-3.6 1.7M75.2 83.3l1.4 0.8M35 35.8l-0.5 2.6M71.2 36l1.7 1.3M70.8 104.1l-1.2 3M91.2 22.2l-3.1 1.7M46.5 103l1.3 3.3M55.6 123.9l-2.6 1.5M97.9 106.1l-1.1 3.5M73.2 53.6l-1.1 1.4M34.1 47.3l-1.6 1.5M92.4 58.7l-1.7 0.2M47.4 62.6l-2.2 2M42.3 60.5l-0.9 3.9M85.3 57.1l1.7 0.5M102.7 82l1.9 2.1M83 103.5l-1.7 2.1M13.6 49.7l1.2 2.8M78.6 44.4l-2.5 0.5M54.4 37.6l1.6 0M74.7 48.6l2.2 1.9M36.8 38.5l-0.4 1.7" stroke="rgb(220,17,39)" stroke-width="0.9" stroke-opacity="0.6" stroke-linecap="round" fill="none"/>
<path d="M97.7 105.6l-2.5 -1.2M40.3 34.7l-5.1 4.1M109.8 88.5l0.6 -4.8M46.6 29.2l5.5 -2.1" stroke="rgb(200,16,36)" stroke-width="0.6" stroke-opacity="0.3" stroke-linecap="round" fill="none"/>
<path d="M81.1 107.1l2.7 -1.2M79.8 66.4l-2.2 1.1M46.2 122.5l0.4 -0.6M93.2 36.9l0.1 5.8M70.5 40.3l-3.1 1.4M61.6 113.8l-2.3 1.1M52.3 32.8l2.7 2.5M99.6 90.7l0.5 1.5M49.5 107.1l-2.8 1.6M64.9 46.2l2.4 0.9M54.4 125.3l3.1 1.6" stroke="rgb(240,19,43)" stroke-width="0.9" stroke-opacity="0.4" stroke-linecap="round" fill="none"/>
<path d="M96.5 75.7l-0.7 4.8M46.4 78.7l5.7 -3.5M93.3 42.7l3.4 3.6M84.8 41l2.6 4.7M55.8 28.7l-3.7 -1.6M44.1 25.5l-7.7 3.2M75.1 20.2l2.8 7.1M69.8 43.4l-0.3 -6.5M73 50.7l5.9 0.1M105.1 120.2l-2.7 0.5M92 28.1l2.1 0M68.9 104.2l-3.1 1.1M77.1 56.3l-1.6 1.3M71.2 63l-2.6 0.5" stroke="rgb(220,17,39)" stroke-width="0.6" stroke-opacity="0.6" stroke-linecap="round" fill="none"/>
<path d="M73.3 76.2l-5.5 -4M60 130.3l-3 -2.9" stroke="rgb(220,17,39)" stroke-width="0.6" stroke-opacity="0.3" stroke-linecap="round" fill="none"/>
<path d="M94.1 20.2l-1.3 7.1M100.7 22.9l6 -4.6M61.3 120.5l-4.3 5.3" stroke="rgb(240,19,43)" stroke-width="0.6" stroke-opacity="0.3" stroke-linecap="round" fill="none"/>
<path d="M52.2 130.9l4.8 -3.5" stroke="rgb(160,12,28)" stroke-width="0.6" stroke-opacity="0.4" stroke-linecap="round" fill="none"/>
<path d="M40.9 20l-6.4 3" stroke="rgb(200,16,36)" stroke-width="0.9" stroke-opacity="0.3" stroke-linecap="round" fill="none"/>
<path d="M110 19.7l1.9 6.9M85.6 25.3l-6.3 2.7" stroke="rgb(160,12,28)" stroke-width="0.6" stroke-opacity="0.8" stroke-linecap="round" fill="none"/>
<path d="M78.9 50.8l0.7 -0.5" stroke="rgb(160,12,28)" stroke-width="0.9" stroke-opacity="0.4" stroke-linecap="round" fill="none"/>
<path d="M45 57.2l-0.2 2.3M37.7 22.1l-1.2 3.7M29 36.6l1.5 2.4M39.8 41.9l-2.4 1.5M83.3 45l1.8 1.1M82.7 109.4l-1.4 2.5M69.2 62.3l2.7 0.1M103.5 121.1l-1.2 1.5M91.8 56.3l2 1.9M85.2 87.6l1.6 0.7M60.4 93.8l-2.5 0.9M54.1 26.3l2 2.3" stroke="rgb(220,17,39)" stroke-width="0.9" stroke-opacity="0.9" stroke-linecap="round" fill="none"/>
<path d="M61 76.8l-2 2.2M31.4 38.9l0.9 2.4M98 101.6l-1.6 3.2M61.5 87.3l1.8 3.3M52.1 124.4l-0.8 1.5M58.5 60.6l-1.1 2.8M62 36l3.2 0.2M41.3 87.6l-2.2 1.7M27.5 57.4l2 2.9M50.3 117.2l-0.4 1.6M27.9 103.2l-3.2 1.4M65.3 74.9l0.9 3.8M37.6 34.6l1.8 0.9" stroke="rgb(240,19,43)" stroke-width="0.9" stroke-opacity="0.9" stroke-linecap="round" fill="none"/>
<path d="M22.3 54.1l-3.6 1M71.6 50.8l-2.9 0.2M65.7 55l-1.5 2.4M17.9 90.2l-1.6 1.3M39.5 41.1l-2.3 0.5" stroke="rgb(240,19,43)" stroke-width="1.2" stroke-opacity="0.8" stroke-linecap="round" fill="none"/>
<path d="M99.4 38.8l-2.3 0.1M68.8 120.3l-1.9 3M13.7 24.3l-3 1.7" stroke="rgb(200,16,36)" stroke-width="1.2" stroke-opacity="0.4" stroke-linecap="round" fill="none"/>
<path d="M104.9 115.3l-3.5 0.2M88.5 42.9l2.7 2.3M93.9 92.2l-3.5 1.8M47.8 44.3l-2.7 0.5M46.5 69.7l-1 2M79.1 85.6l1.7 1.8M56.9 91l-1.9 1.9M38.5 117.3l1 1.8M34.8 27.4l3 2.5M52.4 60.9l1.5 2.3" stroke="rgb(200,16,36)" stroke-width="1.2" stroke-opacity="0.6" stroke-linecap="round" fill="none"/>
<path d="M80.7 76.9l-1.1 3.6M50.9 46.5l-1.7 2.4M28.5 45.5l0.7 2.2M19.7 43.6l2.6 1.8M102.3 34.1l-1 1.6M48.4 109.9l-0.6 3.5M92.5 96l-2.1 1.5M77.7 107.3l-3.4 0.2M103 97.6l-1.3 2.7" stroke="rgb(220,17,39)" stroke-width="0.6" stroke-opacity="0.9" stroke-linecap="round" fill="none"/>
<path d="M29 76.7l-0.3 3.1M35.6 44.2l-1.7 0.5M13.1 55.9l-3 0.9M18.4 59.9l-0.8 3.2M65.3 71.3l-2.9 2.1M51.1 78.3l1.1 1.1M12.1 101.3l2.1 0.5M60 106.6l-2.7 2.5M48.1 127.8l-1.5 1.6" stroke="rgb(200,16,36)" stroke-width="0.9" stroke-opacity="0.9" stroke-linecap="round" fill="none"/>
<path d="M27.5 36.7l1.8 1M44.2 127.7l2.7 0.9M82.1 57.6l-1.4 1.4M61.8 74.5l3.1 2.3" stroke="rgb(240,19,43)" stroke-width="0.6" stroke-opacity="0.9" stroke-linecap="round" fill="none"/>
<path d="M17.4 68.8l3.4 1.2M81 94.1l1.3 0.8M37.9 106l1.1 1.9M39.1 77.8l2.7 2.6M25.8 72.5l-2.8 1.1M53.2 79.6l2.5 0.6M73.9 32.7l-1 1.3M42.1 90.5l-2.3 0.7" stroke="rgb(200,16,36)" stroke-width="0.6" stroke-opacity="0.9" stroke-linecap="round" fill="none"/>
<path d="M23.3 123.5l-0.6 1.5M94 30.1l2.2 1.2M47.5 79.8l-1.5 1.3M60.7 100.2l0.2 3M60.7 78.1l0.7 3.4" stroke="rgb(240,19,43)" stroke-width="1.2" stroke-opacity="0.6" stroke-linecap="round" fill="none"/>
<path d="M87.9 82.5l1.9 2M52.2 102.2l-0 2.3M19.2 43.2l3.3 2.2M14.7 78.7l-1.1 2.2M65.1 110.2l-2.7 0.1" stroke="rgb(220,17,39)" stroke-width="1.2" stroke-opacity="0.8" stroke-linecap="round" fill="none"/>
<path d="M37.6 21.5l-1.4 1.7M67.6 110.8l1.8 0M54.1 59.5l-2.7 0.9M81.8 39.8l2 2.8" stroke="rgb(240,19,43)" stroke-width="1.2" stroke-opacity="0.4" stroke-linecap="round" fill="none"/>
<path d="M58.7 110.5l-2.7 0.8M62 84.1l0.8 2.6" stroke="rgb(220,17,39)" stroke-width="1.2" stroke-opacity="0.6" stroke-linecap="round" fill="none"/>
<path d="M49.4 87.6l1.5 2M23 63.4l-0.2 2.2M97.3 59.4l-1.4 2.8M95.3 34.3l-1 2.8M59.2 33.7l-0 2" stroke="rgb(180,14,32)" stroke-width="0.9" stroke-opacity="0.9" stroke-linecap="round" fill="none"/>
<path d="M58.6 66l2.4 0.7M91 104.9l1.7 0.8M38.4 76.8l0.6 3.1M89.5 31.6l2.8 2.7" stroke="rgb(180,14,32)" stroke-width="0.6" stroke-opacity="0.9" stroke-linecap="round" fill="none"/>
<path d="M42 34.2l-2.2 1.2M47.9 89.4l0.1 1.9" stroke="rgb(180,14,32)" stroke-width="1.2" stroke-opacity="0.6" stroke-linecap="round" fill="none"/>
<path d="M39.4 38.9l0.1 1.7M13.4 75.2l-0 3.2" stroke="rgb(180,14,32)" stroke-width="1.2" stroke-opacity="0.8" stroke-linecap="round" fill="none"/>
<path d="M52.1 108.2l1.5 3.4M38.6 32l2.8 0.1M19.8 90.3l-3.8 0.7M65.6 56.1l-0.2 2.2" stroke="rgb(200,16,36)" stroke-width="1.2" stroke-opacity="0.8" stroke-linecap="round" fill="none"/>
<path d="M55.4 32.1l1.3 1.7M63.2 65.7l-1 1.8" stroke="rgb(180,14,32)" stroke-width="1.2" stroke-opacity="0.4" stroke-linecap="round" fill="none"/>
<path d="M87 116.8l2.3 3.2" stroke="rgb(200,16,36)" stroke-width="1.2" stroke-opacity="0.9" stroke-linecap="round" fill="none"/>
</g>
<g filter="url(#bl2)">
<path d="M8.9 17.4A1.9 1.9 67 1 0 7.4 13.8A1.9 1.9 67 1 0 8.9 17.4ZM87 18.5A2.2 1.8 32 1 0 83.3 16.1A2.2 1.8 32 1 0 87 18.5ZM83.1 63.1A2.3 2 167 1 0 87.7 62.2A2.3 2 167 1 0 83.1 63.1ZM97.8 101A2.2 1.9 173 1 0 102.2 100.4A2.2 1.9 173 1 0 97.8 101ZM43.1 113.5A2.3 1.5 38 1 0 39.6 110.6A2.3 1.5 38 1 0 43.1 113.5ZM74.8 121.4A2.4 2.1 97 1 0 75.5 116.6A2.4 2.1 97 1 0 74.8 121.4ZM29.7 128A2 1.7 94 1 0 30 124A2 1.7 94 1 0 29.7 128ZM16.3 137.6A2.4 1.8 61 1 0 14.1 133.4A2.4 1.8 61 1 0 16.3 137.6ZM80.8 135.5A2.2 2.1 156 1 0 84.9 133.7A2.2 2.1 156 1 0 80.8 135.5Z" fill="rgb(75, 60, 195)" fill-opacity="0.80"/>
<path d="M17.4 19A1.9 1.9 78 1 0 16.6 15.2A1.9 1.9 78 1 0 17.4 19ZM23.5 26.1A2.1 1.7 64 1 0 21.8 22.4A2.1 1.7 64 1 0 23.5 26.1ZM67.9 32.2A2 2.1 157 1 0 71.7 30.7A2 2.1 157 1 0 67.9 32.2ZM21.3 96.3A2.6 2.1 69 1 0 19.5 91.5A2.6 2.1 69 1 0 21.3 96.3Z" fill="rgb(75, 45, 210)" fill-opacity="0.80"/>
<path d="M24.9 18.7A2.3 1.5 125 1 0 27.6 15A2.3 1.5 125 1 0 24.9 18.7ZM42.9 17.9A2.2 1.9 123 1 0 45.3 14.1A2.2 1.9 123 1 0 42.9 17.9ZM16.2 32.2A2.6 1.7 158 1 0 21 30.4A2.6 1.7 158 1 0 16.2 32.2ZM77.1 35.6A2.5 1.6 76 1 0 75.9 30.8A2.5 1.6 76 1 0 77.1 35.6ZM90.2 54.4A2.5 1.5 72 1 0 88.7 49.5A2.5 1.5 72 1 0 90.2 54.4ZM119.5 66.9A2.3 1.6 96 1 0 120 62.4A2.3 1.6 96 1 0 119.5 66.9ZM89.8 88.5A2.3 2 41 1 0 86.3 85.4A2.3 2 41 1 0 89.8 88.5ZM104.4 133.8A2 1.5 172 1 0 108.4 133.3A2 1.5 172 1 0 104.4 133.8Z" fill="rgb(75, 45, 180)" fill-opacity="0.90"/>
<path d="M35.6 19.9A2.1 1.5 107 1 0 36.9 16A2.1 1.5 107 1 0 35.6 19.9ZM36 49.2A2.1 1.6 134 1 0 39 46.2A2.1 1.6 134 1 0 36 49.2ZM45.4 56.2A2 1.8 34 1 0 42.2 53.9A2 1.8 34 1 0 45.4 56.2ZM110.2 65.1A2.4 1.7 124 1 0 112.9 61.1A2.4 1.7 124 1 0 110.2 65.1ZM61.4 70.7A2.3 1.9 165 1 0 66 69.5A2.3 1.9 165 1 0 61.4 70.7ZM17.6 81.5A2.3 1.8 98 1 0 18.2 77.1A2.3 1.8 98 1 0 17.6 81.5ZM33.6 79.9A2.2 1.8 150 1 0 37.4 77.7A2.2 1.8 150 1 0 33.6 79.9ZM104.7 87A2.4 1.8 106 1 0 106.1 82.3A2.4 1.8 106 1 0 104.7 87ZM10.7 125.4A2.1 1.9 31 1 0 7.1 123.2A2.1 1.9 31 1 0 10.7 125.4Z" fill="rgb(75, 60, 195)" fill-opacity="0.90"/>
<path d="M49 17.1A2.4 1.8 135 1 0 52.4 13.8A2.4 1.8 135 1 0 49 17.1ZM11.3 22A2.4 1.9 173 1 0 16 21.5A2.4 1.9 173 1 0 11.3 22ZM38.9 60.5A2.5 1.8 78 1 0 37.9 55.5A2.5 1.8 78 1 0 38.9 60.5ZM6.9 64.2A2.3 1.8 118 1 0 9.2 60.2A2.3 1.8 118 1 0 6.9 64.2ZM27.7 63.5A2.4 1.6 62 1 0 25.5 59.2A2.4 1.6 62 1 0 27.7 63.5ZM54.3 63.1A2.4 1.7 18 1 0 49.8 61.6A2.4 1.7 18 1 0 54.3 63.1ZM26.8 80A2.5 1.7 153 1 0 31.2 77.8A2.5 1.7 153 1 0 26.8 80ZM58.9 81.8A2.5 1.8 70 1 0 57.2 77.1A2.5 1.8 70 1 0 58.9 81.8ZM69.4 78.5A1.9 1.9 68 1 0 68 74.9A1.9 1.9 68 1 0 69.4 78.5ZM48.2 90A2.2 1.7 58 1 0 45.8 86.3A2.2 1.7 58 1 0 48.2 90ZM89.7 128.1A2.4 1.7 133 1 0 92.9 124.6A2.4 1.7 133 1 0 89.7 128.1Z" fill="rgb(75, 45, 210)" fill-opacity="0.90"/>
<path d="M61.2 18.1A2.1 1.7 44 1 0 58.2 15.1A2.1 1.7 44 1 0 61.2 18.1ZM91 43.5A2.4 2 51 1 0 87.9 39.7A2.4 2 51 1 0 91 43.5ZM18.3 48.1A2.5 1.9 71 1 0 16.7 43.4A2.5 1.9 71 1 0 18.3 48.1ZM118.3 50.9A2.4 1.8 97 1 0 119 46.1A2.4 1.8 97 1 0 118.3 50.9ZM14.6 73.1A2.1 2.1 57 1 0 12.3 69.6A2.1 2.1 57 1 0 14.6 73.1ZM53.8 88.3A2.1 1.8 177 1 0 57.9 88.1A2.1 1.8 177 1 0 53.8 88.3ZM12.5 120.2A2.5 1.7 132 1 0 15.8 116.5A2.5 1.7 132 1 0 12.5 120.2ZM23.8 118.1A2.3 1.6 20 1 0 19.4 116.5A2.3 1.6 20 1 0 23.8 118.1ZM63.6 128.7A2.6 2.1 74 1 0 62.2 123.7A2.6 2.1 74 1 0 63.6 128.7Z" fill="rgb(75, 60, 180)" fill-opacity="0.90"/>
<path d="M65.9 16.9A2.3 1.6 122 1 0 68.4 13.1A2.3 1.6 122 1 0 65.9 16.9ZM119.3 20.6A2.6 1.7 68 1 0 117.4 15.8A2.6 1.7 68 1 0 119.3 20.6ZM93.5 33.2A2.2 2 95 1 0 93.9 28.7A2.2 2 95 1 0 93.5 33.2ZM108.5 49.3A1.9 1.8 171 1 0 112.3 48.7A1.9 1.8 171 1 0 108.5 49.3ZM45.5 64.8A2.5 2 27 1 0 41 62.5A2.5 2 27 1 0 45.5 64.8ZM101.4 66A2 1.8 131 1 0 104 62.9A2 1.8 131 1 0 101.4 66ZM84 97.4A2 1.5 126 1 0 86.4 94.2A2 1.5 126 1 0 84 97.4ZM66.1 128.2A2.4 1.5 163 1 0 70.6 126.8A2.4 1.5 163 1 0 66.1 128.2ZM82.9 127.9A2.4 1.5 92 1 0 83.1 123.1A2.4 1.5 92 1 0 82.9 127.9Z" fill="rgb(90, 60, 210)" fill-opacity="0.80"/>
<path d="M75.9 15.3A2.1 1.8 137 1 0 79 12.5A2.1 1.8 137 1 0 75.9 15.3ZM104 41.7A2.4 2 142 1 0 107.9 38.7A2.4 2 142 1 0 104 41.7ZM99.3 46.4A2.3 2.1 171 1 0 103.8 45.8A2.3 2.1 171 1 0 99.3 46.4ZM97 58.4A2.2 1.6 111 1 0 98.6 54.3A2.2 1.6 111 1 0 97 58.4ZM41.3 94A2.1 1.9 162 1 0 45.2 92.8A2.1 1.9 162 1 0 41.3 94ZM74.9 105.9A2.5 2 55 1 0 72 101.8A2.5 2 55 1 0 74.9 105.9ZM121.3 110.4A2.2 1.6 11 1 0 117 109.5A2.2 1.6 11 1 0 121.3 110.4ZM97.6 121.4A2.4 1.7 94 1 0 98 116.6A2.4 1.7 94 1 0 97.6 121.4Z" fill="rgb(90, 45, 210)" fill-opacity="0.90"/>
<path d="M91.5 17.4A2.5 1.7 108 1 0 93.1 12.7A2.5 1.7 108 1 0 91.5 17.4ZM5.4 27.4A2.6 1.9 131 1 0 8.8 23.5A2.6 1.9 131 1 0 5.4 27.4ZM96.5 43.5A2.1 1.6 106 1 0 97.7 39.5A2.1 1.6 106 1 0 96.5 43.5ZM12.9 62.8A2.1 1.8 118 1 0 14.9 59.1A2.1 1.8 118 1 0 12.9 62.8ZM71.3 61.7A2.4 2.1 7 1 0 66.5 61A2.4 2.1 7 1 0 71.3 61.7ZM21.2 76.1A2.4 1.8 54 1 0 18.5 72.3A2.4 1.8 54 1 0 21.2 76.1ZM97.6 73A2 1.6 139 1 0 100.6 70.4A2 1.6 139 1 0 97.6 73ZM90.1 78.4A2.3 1.7 169 1 0 94.6 77.6A2.3 1.7 169 1 0 90.1 78.4ZM38.3 88.9A2.3 1.7 46 1 0 35.1 85.5A2.3 1.7 46 1 0 38.3 88.9ZM116.5 87.4A2.3 1.9 46 1 0 113.4 84.1A2.3 1.9 46 1 0 116.5 87.4ZM75.3 96.3A2.3 1.8 108 1 0 76.8 91.9A2.3 1.8 108 1 0 75.3 96.3ZM56.9 103.3A2.2 1.6 52 1 0 54.2 99.9A2.2 1.6 52 1 0 56.9 103.3ZM42.4 120.5A2.1 1.7 1 1 0 38.1 120.3A2.1 1.7 1 1 0 42.4 120.5ZM80.5 118.4A2 1.7 42 1 0 77.5 115.6A2 1.7 42 1 0 80.5 118.4Z" fill="rgb(75, 45, 195)" fill-opacity="0.80"/>
<path d="M100.4 20.1A2.5 1.9 106 1 0 101.8 15.2A2.5 1.9 106 1 0 100.4 20.1ZM32.7 28.1A2.2 1.8 35 1 0 29.2 25.6A2.2 1.8 35 1 0 32.7 28.1ZM70.7 28.4A2.5 2.1 123 1 0 73.4 24.1A2.5 2.1 123 1 0 70.7 28.4ZM90.7 48.2A2.1 1.9 123 1 0 93 44.7A2.1 1.9 123 1 0 90.7 48.2ZM79.4 73.5A2.4 1.7 163 1 0 84 72.1A2.4 1.7 163 1 0 79.4 73.5ZM9.7 79.8A2.4 2 114 1 0 11.7 75.4A2.4 2 114 1 0 9.7 79.8ZM35.8 98.1A2 2.1 60 1 0 33.9 94.6A2 2.1 60 1 0 35.8 98.1ZM52.2 98.6A2.4 1.5 110 1 0 53.9 94A2.4 1.5 110 1 0 52.2 98.6ZM108.8 96.3A2.5 1.9 126 1 0 111.8 92.3A2.5 1.9 126 1 0 108.8 96.3ZM100.6 126.6A2.4 1.9 169 1 0 105.4 125.7A2.4 1.9 169 1 0 100.6 126.6ZM27.4 136.5A2.4 2 170 1 0 32.2 135.7A2.4 2 170 1 0 27.4 136.5Z" fill="rgb(90, 60, 180)" fill-opacity="0.80"/>
<path d="M110.1 16.1A2.2 2.1 97 1 0 110.7 11.7A2.2 2.1 97 1 0 110.1 16.1ZM4.8 88.3A2.5 1.9 126 1 0 7.8 84.3A2.5 1.9 126 1 0 4.8 88.3ZM14.8 127A2.3 1.7 95 1 0 15.3 122.5A2.3 1.7 95 1 0 14.8 127Z" fill="rgb(75, 60, 165)" fill-opacity="0.80"/>
<path d="M37.8 26.3A2.2 1.7 140 1 0 41.2 23.5A2.2 1.7 140 1 0 37.8 26.3ZM6.2 43.4A2.3 1.9 18 1 0 1.9 42A2.3 1.9 18 1 0 6.2 43.4ZM5.6 113A2.2 1.8 157 1 0 9.8 111.3A2.2 1.8 157 1 0 5.6 113Z" fill="rgb(75, 45, 165)" fill-opacity="0.80"/>
<path d="M53.3 25.1A2.4 1.7 134 1 0 56.7 21.7A2.4 1.7 134 1 0 53.3 25.1ZM116.9 31.7A1.9 2.1 169 1 0 120.7 31A1.9 2.1 169 1 0 116.9 31.7ZM20.5 43.3A2.3 2 96 1 0 21.1 38.7A2.3 2 96 1 0 20.5 43.3ZM73.4 43.3A2 1.7 62 1 0 71.6 39.7A2 1.7 62 1 0 73.4 43.3ZM102.4 99.3A2 2 123 1 0 104.6 96.1A2 2 123 1 0 102.4 99.3ZM47.2 108.1A2.4 2.1 91 1 0 47.4 103.4A2.4 2.1 91 1 0 47.2 108.1ZM78 103.1A2.3 2 126 1 0 80.7 99.5A2.3 2 126 1 0 78 103.1ZM8.9 118.9A2.5 1.6 23 1 0 4.2 116.9A2.5 1.6 23 1 0 8.9 118.9ZM43.4 136.1A2.5 2 52 1 0 40.3 132.1A2.5 2 52 1 0 43.4 136.1ZM90.4 138.6A2.2 1.6 55 1 0 87.9 134.9A2.2 1.6 55 1 0 90.4 138.6Z" fill="rgb(90, 60, 195)" fill-opacity="0.90"/>
<path d="M63.4 26.5A2.5 1.9 149 1 0 67.7 24A2.5 1.9 149 1 0 63.4 26.5ZM100.1 31.8A2.6 1.7 174 1 0 105.2 31.3A2.6 1.7 174 1 0 100.1 31.8ZM53.5 72A2.5 1.8 148 1 0 57.8 69.4A2.5 1.8 148 1 0 53.5 72ZM100.9 133.6A2.3 2 57 1 0 98.4 129.7A2.3 2 57 1 0 100.9 133.6Z" fill="rgb(75, 60, 210)" fill-opacity="0.90"/>
<path d="M82 25A2.6 2 77 1 0 80.9 20A2.6 2 77 1 0 82 25ZM97.6 26.9A2.3 2 44 1 0 94.4 23.7A2.3 2 44 1 0 97.6 26.9ZM117.8 22.6A2.5 1.6 33 1 0 113.6 19.8A2.5 1.6 33 1 0 117.8 22.6ZM39.2 29.3A2 1.9 175 1 0 43.2 29A2 1.9 175 1 0 39.2 29.3ZM32.1 40.2A2.2 1.7 0 1 0 27.7 40.1A2.2 1.7 0 1 0 32.1 40.2ZM81.6 40.5A2.6 1.9 84 1 0 81.1 35.3A2.6 1.9 84 1 0 81.6 40.5ZM45.2 49A2.2 1.5 106 1 0 46.5 44.7A2.2 1.5 106 1 0 45.2 49ZM38.7 71.5A2 2 126 1 0 41.1 68.3A2 2 126 1 0 38.7 71.5ZM72.4 89A2.4 2 78 1 0 71.4 84.2A2.4 2 78 1 0 72.4 89ZM60.6 113.3A2.2 2 98 1 0 61.2 109A2.2 2 98 1 0 60.6 113.3ZM28.7 128.1A2.1 1.6 16 1 0 24.8 126.9A2.1 1.6 16 1 0 28.7 128.1ZM114.6 139A2.1 1.6 63 1 0 112.7 135.2A2.1 1.6 63 1 0 114.6 139Z" fill="rgb(75, 45, 180)" fill-opacity="0.80"/>
<path d="M92 26A2.3 2 48 1 0 89 22.6A2.3 2 48 1 0 92 26ZM65.7 55.9A2.4 2 10 1 0 61 54.9A2.4 2 10 1 0 65.7 55.9ZM115.2 58.7A2 1.9 3 1 0 111.3 58.5A2 1.9 3 1 0 115.2 58.7ZM81.1 90.5A1.9 2 77 1 0 80.3 86.8A1.9 2 77 1 0 81.1 90.5ZM65.6 117.7A2.6 1.8 59 1 0 63 113.3A2.6 1.8 59 1 0 65.6 117.7Z" fill="rgb(75, 45, 165)" fill-opacity="0.90"/>
<path d="M9 33.5A2.2 1.9 59 1 0 6.8 29.8A2.2 1.9 59 1 0 9 33.5ZM69.1 42.5A2.3 2 20 1 0 64.9 40.9A2.3 2 20 1 0 69.1 42.5ZM52.7 55.2A2.3 1.7 173 1 0 57.3 54.6A2.3 1.7 173 1 0 52.7 55.2ZM63.6 64.4A2 1.8 103 1 0 64.5 60.4A2 1.8 103 1 0 63.6 64.4ZM108.5 73.7A2.4 1.7 70 1 0 106.9 69.2A2.4 1.7 70 1 0 108.5 73.7ZM54.2 82.3A2.1 1.8 42 1 0 51.1 79.5A2.1 1.8 42 1 0 54.2 82.3ZM24.7 95.7A2 2 53 1 0 22.4 92.5A2 2 53 1 0 24.7 95.7ZM116.5 92.8A2.1 1.9 158 1 0 120.4 91.2A2.1 1.9 158 1 0 116.5 92.8ZM43.4 128.7A2.2 1.7 47 1 0 40.5 125.5A2.2 1.7 47 1 0 43.4 128.7ZM118.6 127.8A2 1.7 120 1 0 120.6 124.3A2 1.7 120 1 0 118.6 127.8Z" fill="rgb(75, 60, 180)" fill-opacity="0.80"/>
<path d="M25.7 32.9A2.3 1.6 73 1 0 24.5 28.6A2.3 1.6 73 1 0 25.7 32.9ZM53.6 32.8A2.5 1.8 26 1 0 49.1 30.7A2.5 1.8 26 1 0 53.6 32.8ZM6.3 56.9A2.3 1.8 20 1 0 2 55.3A2.3 1.8 20 1 0 6.3 56.9ZM85.2 55.5A2.5 2.1 4 1 0 80.1 55.1A2.5 2.1 4 1 0 85.2 55.5ZM5 75.2A2.3 1.5 117 1 0 7.1 71.2A2.3 1.5 117 1 0 5 75.2ZM10.3 89.4A2.1 1.8 110 1 0 11.8 85.4A2.1 1.8 110 1 0 10.3 89.4ZM45.9 117.8A2.4 1.5 86 1 0 45.6 113.1A2.4 1.5 86 1 0 45.9 117.8ZM62.8 133.2A2.4 1.7 143 1 0 66.7 130.3A2.4 1.7 143 1 0 62.8 133.2Z" fill="rgb(90, 60, 180)" fill-opacity="0.90"/>
<path d="M32.6 34.2A2.4 1.6 158 1 0 37.1 32.4A2.4 1.6 158 1 0 32.6 34.2ZM61.7 49.4A2.2 1.5 42 1 0 58.5 46.5A2.2 1.5 42 1 0 61.7 49.4ZM30.3 89.2A2.1 1.5 133 1 0 33.2 86.1A2.1 1.5 133 1 0 30.3 89.2ZM10.3 97.3A2.4 1.9 54 1 0 7.5 93.4A2.4 1.9 54 1 0 10.3 97.3ZM5.2 104.5A2.2 2 50 1 0 2.4 101.1A2.2 2 50 1 0 5.2 104.5ZM115.9 122.1A2.1 1.6 49 1 0 113.1 118.9A2.1 1.6 49 1 0 115.9 122.1ZM51 128.5A2 2 90 1 0 51.1 124.5A2 2 90 1 0 51 128.5Z" fill="rgb(90, 45, 210)" fill-opacity="0.80"/>
<path d="M60.3 35.1A2.4 1.7 51 1 0 57.4 31.4A2.4 1.7 51 1 0 60.3 35.1ZM28.3 57.8A2.4 1.8 178 1 0 33 57.6A2.4 1.8 178 1 0 28.3 57.8ZM36.5 102.3A2 2 153 1 0 40.1 100.6A2 2 153 1 0 36.5 102.3ZM101.8 109.9A2.1 1.8 112 1 0 103.4 106A2.1 1.8 112 1 0 101.8 109.9ZM3.3 136.7A2.1 1.8 104 1 0 4.4 132.5A2.1 1.8 104 1 0 3.3 136.7Z" fill="rgb(90, 60, 195)" fill-opacity="0.80"/>
<path d="M82.8 30.3A2 1.7 178 1 0 86.7 30.1A2 1.7 178 1 0 82.8 30.3ZM108 33.4A2.4 1.9 171 1 0 112.7 32.8A2.4 1.9 171 1 0 108 33.4ZM92.4 97.7A2.4 2.1 111 1 0 94.2 93.3A2.4 2.1 111 1 0 92.4 97.7ZM15.2 108.3A2.2 2.1 62 1 0 13.2 104.5A2.2 2.1 62 1 0 15.2 108.3ZM34.6 112.9A2.5 2 96 1 0 35.1 107.9A2.5 2 96 1 0 34.6 112.9ZM97.2 111.2A1.9 1.7 20 1 0 93.5 109.9A1.9 1.7 20 1 0 97.2 111.2ZM29.4 119A2 2.1 175 1 0 33.4 118.6A2 2.1 175 1 0 29.4 119ZM53.4 121.3A2.3 1.7 149 1 0 57.3 119A2.3 1.7 149 1 0 53.4 121.3ZM79 126.9A2 1.8 37 1 0 75.9 124.6A2 1.8 37 1 0 79 126.9ZM21.3 136.6A1.9 2 113 1 0 22.9 133A1.9 2 113 1 0 21.3 136.6Z" fill="rgb(90, 45, 195)" fill-opacity="0.80"/>
<path d="M14.5 39.4A1.9 1.7 125 1 0 16.8 36.3A1.9 1.7 125 1 0 14.5 39.4ZM73.2 57.1A2.5 1.6 133 1 0 76.7 53.4A2.5 1.6 133 1 0 73.2 57.1ZM92.3 62.6A2.3 2.1 83 1 0 91.7 58A2.3 2.1 83 1 0 92.3 62.6ZM114.3 79.8A2.1 1.7 23 1 0 110.5 78.2A2.1 1.7 23 1 0 114.3 79.8ZM62.1 95.1A2.3 1.7 0 1 0 57.6 95.1A2.3 1.7 0 1 0 62.1 95.1ZM86.8 103.6A2.6 2 161 1 0 91.7 101.9A2.6 2 161 1 0 86.8 103.6ZM49.2 114.2A2.3 2.1 142 1 0 52.8 111.4A2.3 2.1 142 1 0 49.2 114.2ZM82.1 112.5A2.3 1.5 170 1 0 86.6 111.7A2.3 1.5 170 1 0 82.1 112.5Z" fill="rgb(75, 45, 195)" fill-opacity="0.90"/>
<path d="M38.5 40.8A2 1.5 165 1 0 42.4 39.8A2 1.5 165 1 0 38.5 40.8ZM32.2 63.9A1.9 1.8 33 1 0 29 61.7A1.9 1.8 33 1 0 32.2 63.9ZM42.3 81.8A2.3 1.6 22 1 0 38.1 80A2.3 1.6 22 1 0 42.3 81.8ZM76.3 79.7A2 1.6 128 1 0 78.8 76.6A2 1.6 128 1 0 76.3 79.7ZM22.2 88.3A2.1 2 79 1 0 21.4 84.1A2.1 2 79 1 0 22.2 88.3ZM61.8 87.7A2.1 1.7 135 1 0 64.8 84.8A2.1 1.7 135 1 0 61.8 87.7ZM29.8 109.7A2.3 1.7 20 1 0 25.4 108.1A2.3 1.7 20 1 0 29.8 109.7Z" fill="rgb(90, 45, 180)" fill-opacity="0.80"/>
<path d="M45 39.6A2.4 2 176 1 0 49.8 39.2A2.4 2 176 1 0 45 39.6ZM54.8 42.6A2.2 1.7 119 1 0 57 38.8A2.2 1.7 119 1 0 54.8 42.6ZM15.6 56.4A2 1.7 58 1 0 13.6 53A2 1.7 58 1 0 15.6 56.4ZM28.5 73.7A2.3 2 114 1 0 30.4 69.5A2.3 2 114 1 0 28.5 73.7ZM117 73.3A2.2 1.7 42 1 0 113.8 70.3A2.2 1.7 42 1 0 117 73.3ZM22.2 103.9A2 1.7 175 1 0 26.2 103.6A2 1.7 175 1 0 22.2 103.9ZM32 103.4A2 1.8 117 1 0 33.9 99.8A2 1.8 117 1 0 32 103.4ZM19.4 109.6A2.2 1.7 69 1 0 17.8 105.5A2.2 1.7 69 1 0 19.4 109.6ZM67.6 115.4A2.5 2 123 1 0 70.4 111.3A2.5 2 123 1 0 67.6 115.4ZM49.3 133.6A1.9 2 43 1 0 46.5 131A1.9 2 43 1 0 49.3 133.6ZM75.5 136.6A2.4 2.1 87 1 0 75.3 131.7A2.4 2.1 87 1 0 75.5 136.6Z" fill="rgb(90, 45, 180)" fill-opacity="0.90"/>
<path d="M10.6 51.8A2.4 1.8 87 1 0 10.4 47.1A2.4 1.8 87 1 0 10.6 51.8ZM48.6 51.5A2.6 2.1 102 1 0 49.7 46.5A2.6 2.1 102 1 0 48.6 51.5ZM73.6 47.7A2.1 1.7 134 1 0 76.5 44.7A2.1 1.7 134 1 0 73.6 47.7ZM102.7 55.8A2.1 1.5 143 1 0 106.1 53.3A2.1 1.5 143 1 0 102.7 55.8ZM70.4 72.2A2 1.8 165 1 0 74.3 71.2A2 1.8 165 1 0 70.4 72.2ZM84.7 78.7A2.5 2 122 1 0 87.3 74.5A2.5 2 122 1 0 84.7 78.7ZM97.4 79.6A2.4 1.5 169 1 0 102.2 78.7A2.4 1.5 169 1 0 97.4 79.6ZM113.3 101.8A2.4 2 175 1 0 118.1 101.4A2.4 2 175 1 0 113.3 101.8ZM105.4 122.6A2.4 2 113 1 0 107.4 118.1A2.4 2 113 1 0 105.4 122.6Z" fill="rgb(90, 45, 195)" fill-opacity="0.90"/>
<path d="M26.2 47.2A2.3 2.1 172 1 0 30.6 46.6A2.3 2.1 172 1 0 26.2 47.2ZM84 47.2A2.3 1.8 60 1 0 81.8 43.2A2.3 1.8 60 1 0 84 47.2ZM91 71.9A2.1 2 44 1 0 88 69A2.1 2 44 1 0 91 71.9ZM70.2 100.4A2.2 1.9 56 1 0 67.8 96.7A2.2 1.9 56 1 0 70.2 100.4ZM114.1 112A2.3 1.8 56 1 0 111.5 108.1A2.3 1.8 56 1 0 114.1 112ZM54.8 135.5A2.5 1.9 120 1 0 57.3 131.2A2.5 1.9 120 1 0 54.8 135.5Z" fill="rgb(90, 45, 165)" fill-opacity="0.80"/>
<path d="M71.6 48.4A2.3 1.6 51 1 0 68.8 44.8A2.3 1.6 51 1 0 71.6 48.4ZM95.7 86.8A2.2 2 102 1 0 96.6 82.6A2.2 2 102 1 0 95.7 86.8Z" fill="rgb(90, 60, 210)" fill-opacity="0.90"/>
<path d="M109.2 103.6A2.3 2 34 1 0 105.4 100.9A2.3 2 34 1 0 109.2 103.6Z" fill="rgb(90, 45, 165)" fill-opacity="0.90"/>
</g>
</g>
<g clip-path="url(#cq0)">
<rect x="104.4" y="24.5" width="89.9" height="101.2" fill="#0a0814"/>
<g filter="url(#bl4)">
<path d="M174.2,75.7 L175.9,62.8 L173.2,62.1 L177.9,58.1 L179,59.4 L187.5,60.6 L190.6,74.9 L185.4,79.6 L179.3,79.4Z" fill="rgb(111,105,49)"/>
<path d="M136,40.9 L137.2,52.5 L141.7,56.4 L144.1,55.2 L148.7,50.6 L138.2,42.6Z" fill="rgb(89,139,73)"/>
<path d="M194.5,41.2 L199.7,35.1 L200.4,10.5 L189.8,18.8 L184.1,35 L187.6,34.5Z" fill="rgb(51,51,140)"/>
<path d="M175,26.5 L172.9,25.4 L170.2,17.6 L177,19.5 L176.8,23.5Z" fill="rgb(101,84,59)"/>
<path d="M91.4,91 L90.4,88.7 L99.8,75.2 L104.2,85.4Z" fill="rgb(117,51,90)"/>
<path d="M233.3,44.9 L232.2,23 L222.1,4.8 L209.6,-5.5 L201.8,11.1 L199.2,37.5 L199.6,36.8Z" fill="rgb(58,123,114)"/>
<path d="M185.5,132.4 L184.9,135.4 L177.4,138.8 L175.3,128.5 L175.2,122.2 L177.4,122.9Z" fill="rgb(116,119,39)"/>
<path d="M178.2,78.3 L185.1,79.3 L188,92.1 L182.8,93.8 L180.3,91.6Z" fill="rgb(56,121,119)"/>
<path d="M98.1,55.4 L105.9,62.2 L113.1,59.1 L101.2,50.7Z" fill="rgb(107,153,117)"/>
<path d="M153.4,91.8 L144.2,95.6 L140.6,83.1 L149.8,80.6 L152.2,90.7Z" fill="rgb(107,110,50)"/>
<path d="M136.3,18 L132.8,20.7 L126.5,14.6 L119.5,-29.3 L123.8,-29.4 L138.4,-32.5 L143.1,-32 L145.4,2.5Z" fill="rgb(12,10,18)"/>
<path d="M194.4,139.6 L199.2,132.9 L218.4,119.9 L230.4,124 L229.7,136.7 L225.7,157.1 L211.5,170.8 L201.2,173.8 L195.4,150.5Z" fill="rgb(78,161,165)"/>
<path d="M161.9,77.8 L162.2,78.1 L165.3,79.8 L173.5,63 L171.7,60.7 L172.7,61.5Z" fill="rgb(12,10,18)"/>
<path d="M184.4,116.6 L191.6,114 L198,107.1 L198.2,106.6 L185.9,106.8 L184.2,112Z" fill="rgb(68,42,129)"/>
<path d="M148,22.1 L148.5,22.5 L140,22.9 L136.4,19.2 L145.7,1.3 L150.5,14.2Z" fill="rgb(108,106,51)"/>
<path d="M111.7,77.8 L119,64.8 L123.9,72.7 L125.1,73.3 L114,81.6Z" fill="rgb(65,141,140)"/>
<path d="M160.4,73.4 L147.8,79.5 L147.5,72.8 L151.3,68 L156.5,58.8 L157.8,60.9Z" fill="rgb(78,41,101)"/>
<path d="M74.8,148.3 L90.2,165.3 L94.7,165.7 L101.1,131.1 L99.3,123 L72.1,133.3Z" fill="rgb(124,38,51)"/>
<path d="M190.3,74.1 L185.2,79.3 L187.9,91 L195.7,95.1 L197.4,82.3 L198,81Z" fill="rgb(63,136,145)"/>
<path d="M163.8,80 L171.1,60.4 L157.3,59.7 L159.1,73.3Z" fill="rgb(70,72,113)"/>
<path d="M183.4,34.1 L172,50.3 L174.9,59.3 L179.2,58.3 L184.7,36.3 L184.8,32.9 L183.4,34.4Z" fill="rgb(65,124,147)"/>
<path d="M136.5,42.6 L136.5,52.2 L132.5,62.9 L129.8,56.7 L130.3,44.9 L134.2,40.4 L132.7,39.1Z" fill="rgb(111,111,47)"/>
<path d="M208.7,62.3 L214.6,64 L235.3,66 L237.1,71.7 L236.4,89.3 L198.2,83.1 L195.6,79.6Z" fill="rgb(79,124,150)"/>
<path d="M196.5,52.9 L185.3,62.1 L190.8,74.5 L196.4,79 L207.8,63.3Z" fill="rgb(95,120,55)"/>
<path d="M190.9,19.2 L176.8,4.5 L178.3,17.4Z" fill="rgb(107,65,147)"/>
<path d="M108.8,123.4 L114.5,129.5 L120.1,123.6 L114.9,108.1 L114.5,111.9Z" fill="rgb(85,156,166)"/>
<path d="M145.9,120.6 L153.1,121 L152.5,123.8 L146.1,149 L142,138.7Z" fill="rgb(12,10,18)"/>
<path d="M99.5,12.3 L100.1,22.2 L99.6,39.7 L67.8,39 L63.1,38 L63.8,34.7 L66.5,13.3 L76.4,-4.9 L88.3,-12.8 L99.5,12.4Z" fill="rgb(72,41,89)"/>
<path d="M110.5,92.4 L115.8,96.6 L113.6,81 L111.8,77.2 L105.2,72.9 L102.2,74.6 L102.1,75.7 L106.4,85.9Z" fill="rgb(79,68,139)"/>
<path d="M170.4,17.9 L172.5,25 L166.5,28.5 L165.5,28.8 L163.3,27.6 L164.6,18.9 L167,15Z" fill="rgb(86,54,137)"/>
<path d="M174.2,100.5 L174.3,92.7 L180.3,92.1 L181.7,92.2 L181.8,101.7 L178.2,102.8Z" fill="rgb(79,144,73)"/>
<path d="M234.2,46.2 L198.2,38.2 L215.4,62.4 L236.7,64 L237.2,47.7Z" fill="rgb(60,112,64)"/>
<path d="M131,85.2 L116.8,94.6 L116.1,97.3 L125.7,103.6 L127,106 L135.8,96.6Z" fill="rgb(76,49,135)"/>
<path d="M135.5,97.3 L128.1,104.4 L135.7,116.7 L140.2,109.2 L140.7,101.3 L138.4,99.7Z" fill="rgb(96,127,91)"/>
<path d="M152.3,118 L155.9,113.5 L140.4,100.6 L139.3,108Z" fill="rgb(60,111,115)"/>
<path d="M111,27.6 L112.4,27.5 L119.2,26.4 L117.6,23.2 L117,21.2 L111.2,17.7Z" fill="rgb(155,127,155)"/>
<path d="M102.7,120.3 L101.6,120.2 L99,124.6 L100.6,129.8 L112.7,137.7 L114.3,129.9 L108.8,122.5Z" fill="rgb(80,44,42)"/>
<path d="M151,34.2 L151.8,34.9 L151.3,49.8 L149.9,47.5 L138.1,40.4Z" fill="rgb(76,151,151)"/>
<path d="M117.3,20.2 L105.4,-25.5 L104.9,-25.9 L119.6,-29.4 L124.5,13.7 L118.5,23.2Z" fill="rgb(116,105,61)"/>
<path d="M165.3,83.1 L163.7,80.9 L164.8,79 L165,78.7 L174.5,77.3 L172.2,89Z" fill="rgb(74,142,62)"/>
<path d="M139.5,56.2 L141.3,61.6 L144.3,61.1 L143.9,55.4Z" fill="rgb(91,146,72)"/>
<path d="M184.7,121 L187.2,124.5 L192,122.1 L191,115.2 L185,115Z" fill="rgb(74,126,176)"/>
<path d="M176.6,112.2 L162.6,108.3 L165.2,116 L176.1,124.6 L175.9,123.8 L178.2,121.1Z" fill="rgb(58,70,120)"/>
<path d="M131.6,44.7 L116.7,51.4 L116.8,54.7 L126.7,55.4Z" fill="rgb(76,151,153)"/>
<path d="M185.1,131 L184.9,134.2 L195.7,153.8 L193.4,138.6 L192,130 L187.7,126.5Z" fill="rgb(134,128,119)"/>
<path d="M194.8,53.3 L193.3,41.3 L186.1,36.7 L179.8,58 L186.7,60.6Z" fill="rgb(95,103,46)"/>
<path d="M129.7,85.1 L131,84.2 L137.3,68.8 L140.9,70.1 L136.7,82Z" fill="rgb(59,105,52)"/>
<path d="M134.1,39.4 L131.6,34.2 L123.2,32.6 L113.1,46.1 L117.5,51.5 L131.7,44.9Z" fill="rgb(19,19,14)"/>
<path d="M175.8,137.7 L166.9,170.5 L163.8,133.2 L175.6,128.3Z" fill="rgb(124,90,62)"/>
<path d="M100,22.6 L100.7,38.3 L101.3,39.7 L109.5,42 L110.6,32.6Z" fill="rgb(84,149,71)"/>
<path d="M100.4,12.3 L89.8,-11.7 L90.9,-16.6 L104.2,-26 L115.9,22 L111,18.5Z" fill="rgb(91,148,116)"/>
<path d="M94.1,70.8 L60.5,77.2 L57.9,57.1 L64.7,38.1 L66.2,39.3 L89.1,56.4Z" fill="rgb(53,60,128)"/>
<path d="M184.3,133.3 L195.7,150.7 L200.5,174.5 L195.4,178.8 L177.5,181 L167.2,178.8 L166.6,171.3 L175.9,138Z" fill="rgb(76,52,154)"/>
<path d="M175.9,125.7 L165.8,117.4 L165.6,131.9 L163,133 L175.5,126.5Z" fill="rgb(24,14,33)"/>
<path d="M178.2,111.5 L177.7,102.9 L173.6,100.2 L160.9,107.2 L161.8,106.7 L162.4,108.7 L176.8,111.5Z" fill="rgb(160,141,69)"/>
<path d="M178.4,121 L176.4,124.7 L186.2,129.5 L187.9,128.1 L185.7,123.4 L185,118.5Z" fill="rgb(64,111,141)"/>
<path d="M145.7,121.6 L135.9,121.6 L142.8,137.7Z" fill="rgb(123,119,54)"/>
<path d="M152.7,91.2 L164.6,80.4 L165.6,80.3 L164.1,78.2 L160.5,72.9 L149.9,81.6 L149.7,79.8Z" fill="rgb(84,54,129)"/>
<path d="M111.4,42.3 L112.7,46 L117.5,50.9 L117,52.3 L116.6,57.9 L114.4,60.5 L102.5,50 L100.5,40.1 L110.5,41.4Z" fill="rgb(68,118,146)"/>
<path d="M102.2,121.2 L101.7,120.9 L93.3,107 L102.1,103.4 L107.1,111.8Z" fill="rgb(136,59,154)"/>
<path d="M162.3,107.3 L160.2,101.1 L166.1,93.9 L171.5,91.3 L174.2,92.1 L173.9,100.2Z" fill="rgb(68,105,74)"/>
<path d="M150.5,50.2 L151,50.6 L153.7,54.6 L158.7,59.5 L150.6,66.6 L144.7,59.3 L142.5,56.1Z" fill="rgb(67,42,110)"/>
<path d="M165.4,20.1 L149.4,11.8 L150.1,23.2 L164.7,28.8Z" fill="rgb(81,81,29)"/>
<path d="M178,109.7 L178.3,103.3 L181.5,101.2 L186.6,105.7 L182.6,111.1Z" fill="rgb(56,51,110)"/>
<path d="M172.7,48 L159.5,44.5 L161.2,33.8 L162.1,35.1Z" fill="rgb(78,51,132)"/>
<path d="M144.5,147.7 L148.2,176.2 L148.1,178 L159.7,179.3 L163.6,180 L165.4,170.8 L162.2,131.6 L163,131.5 L152.5,124.4Z" fill="rgb(78,67,180)"/>
<path d="M152.8,35 L161.8,35.3 L160.2,45.2 L155.5,54 L151.6,49.1Z" fill="rgb(35,59,130)"/>
<path d="M119.3,27 L118.1,29.1 L124.7,34.7 L130.9,35.4 L131.8,21.3 L125.6,15.6 L117.8,23.9Z" fill="rgb(125,121,126)"/>
<path d="M95.7,108.4 L100.3,119.9 L99.9,124.4 L71.3,133.5 L66,126 L62.5,103.1 L65,97.6 L77,96.6 L83.3,100.1Z" fill="rgb(128,130,47)"/>
<path d="M146.4,28.9 L141.4,27 L135.2,37.8Z" fill="rgb(65,155,149)"/>
<path d="M113.4,28.3 L109.5,30.1 L109.7,40.4 L111.9,42.2 L121.7,26.5 L119.1,25.2Z" fill="rgb(81,134,122)"/>
<path d="M142.6,95.7 L141.6,99.6 L134.7,96.7 L129,84.7 L130,83.3 L138.6,81 L139.7,85.2Z" fill="rgb(105,109,47)"/>
<path d="M186.8,127.7 L193.5,129.4 L194.7,127.2 L198,122.3 L192.1,121.5 L185.9,124Z" fill="rgb(91,71,50)"/>
<path d="M120.7,28.3 L125.7,36 L114.2,47.1 L110.5,42.2Z" fill="rgb(83,32,37)"/>
<path d="M94.9,57.1 L99.4,55.3 L102.5,51.1 L101.1,39.7 L99.5,38.5 L68.2,40.4 L90.2,53.9Z" fill="rgb(80,68,109)"/>
<path d="M122.1,122.8 L114.4,108.7 L117,98.6 L125.1,103.8 L123,123.6Z" fill="rgb(108,24,58)"/>
<path d="M117.6,176.5 L126.1,179.8 L142.6,180.7 L147.5,179.1 L146.2,174.8 L126.8,126.3 L125.1,124.2Z" fill="rgb(74,124,137)"/>
<path d="M176.2,76.9 L174.5,63.8 L165.3,78.6 L174,78.2Z" fill="rgb(75,132,76)"/>
<path d="M151.8,33.8 L152.3,34.5 L161.1,34.8 L162.8,35 L163.2,30.3 L163,29 L150.9,23.2 L150.1,23.2 L150.2,29.3Z" fill="rgb(61,109,49)"/>
<path d="M190.1,17 L178.1,6.8 L171.6,-29.7 L171.3,-29.7 L189.5,-24.4 L204.1,-10.6 L209.1,-6.3 L199.6,7.9 L189.1,17.9Z" fill="rgb(81,42,137)"/>
<path d="M164.9,29.8 L172.4,33.2 L173.2,48.6 L172.8,49.4 L159.5,35.7 L162,28.8Z" fill="rgb(83,86,109)"/>
<path d="M135.2,37.2 L135.3,39.9 L133.1,39 L131.5,37.2 L131,22.6 L136.7,18.6 L139.3,22.4 L139.5,26.8Z" fill="rgb(108,134,114)"/>
<path d="M199.3,104 L195.6,93.9 L186.7,91.9 L181.7,92.5 L182.3,101.9 L185.7,105.3Z" fill="rgb(86,143,73)"/>
<path d="M100,14.2 L100.3,22.4 L109.1,31.2 L113.9,29 L111.9,26.3Z" fill="rgb(50,62,157)"/>
<path d="M99.6,73.7 L101.3,75 L100.7,76 L90.4,88.3 L79.6,95.1 L64.4,94.8 L61.1,78.1 L61.8,77.7 L92.6,71.9Z" fill="rgb(71,70,154)"/>
<path d="M95.5,108.2 L103.1,104.3 L105.9,98.6 L81.3,97.4Z" fill="rgb(75,150,173)"/>
<path d="M173.3,90.5 L175,91.6 L180.4,91.7 L179.9,82 L175.1,75.8 L173.7,78.8 L172.3,87.8Z" fill="rgb(38,63,149)"/>
<path d="M145.3,29.4 L148.8,28.1 L153.2,34.4 L137.9,42.3 L135.4,42.6 L133.9,40.3 L135,38.1Z" fill="rgb(65,117,50)"/>
<path d="M103.3,120.5 L105.9,111.1 L113.9,111 L108.1,122.5Z" fill="rgb(72,154,159)"/>
<path d="M160.7,105.9 L160.7,100.8 L152.6,91 L143.6,97 L140.8,100.4 L140.6,100.3 L154.5,113.4 L161.7,108.7Z" fill="rgb(59,129,136)"/>
<path d="M106.1,110.9 L103.2,105.3 L107.9,98.1 L109.4,95.6 L109.6,96.4 L115.1,95.6 L115.5,95.8 L117.1,98.6 L115.7,109.8 L113.1,110Z" fill="rgb(71,127,61)"/>
<path d="M175.2,24.5 L171.7,25.1 L166.6,30.4 L171.5,34.2 L172,33.1Z" fill="rgb(97,168,88)"/>
<path d="M146.3,29.9 L149.1,29 L149.9,22 L140,22.9 L140.9,27.1Z" fill="rgb(158,143,44)"/>
<path d="M142.3,139.5 L146,147.8 L145.8,174.9 L126.6,125.3 L133.5,119.1 L136.7,120.7Z" fill="rgb(56,66,161)"/>
<path d="M129.2,56.6 L117,53.9 L116.1,59.3 L117.8,64.7 L124.6,72.2 L132.9,62.8 L133.2,61.7Z" fill="rgb(98,144,116)"/>
<path d="M171.7,47.7 L173.5,47.7 L159.9,45.2 L155.7,53.7 L157.3,60.3 L157.1,58.3 L171.5,61.2 L173.7,59.5 L175,59.2 L174.3,49.4Z" fill="rgb(73,131,90)"/>
<path d="M127.3,82.4 L124.4,73.2 L124.6,72.5 L133.7,63.2 L135.3,65.9 L138.9,68.4Z" fill="rgb(46,27,116)"/>
<path d="M82,99.3 L78.3,96.4 L91,89.9 L94.4,90.6 L107.5,95.1 L106.8,99.4Z" fill="rgb(78,167,150)"/>
<path d="M111.3,173.6 L108.7,173.3 L97,166.2 L101.9,130.7 L113.2,137.1Z" fill="rgb(106,65,168)"/>
<path d="M196.9,54.4 L194.9,39.8 L199.2,35.8 L200.4,37.8 L216.4,62.3 L206.7,62.7Z" fill="rgb(111,132,53)"/>
<path d="M197.9,132.9 L220.2,117.7 L208.9,113.5 L199.1,122.9 L195.3,128.3Z" fill="rgb(98,126,117)"/>
<path d="M169.6,17 L177.9,20.5 L179.5,18.2 L176.9,5 L172.3,-30.6 L164.8,-30.1 L167.7,15.4Z" fill="rgb(72,103,83)"/>
<path d="M130.3,84 L127.9,83.2 L125.5,73.6 L113.1,81.9 L114.2,95.3 L115.6,94.8 L129.3,85Z" fill="rgb(111,122,125)"/>
<path d="M198,105.6 L208.3,112 L218.1,117.3 L232.2,120.5 L233.6,115.2 L238.8,92.7 L236.7,90.2 L196.5,83 L196,95.1 L198.6,104.9Z" fill="rgb(68,124,79)"/>
<path d="M182.6,33.4 L184.3,35.1 L190.2,18.6 L189.1,19.1 L177.8,18.1 L178.4,20.8 L177.6,22.5Z" fill="rgb(76,64,142)"/>
<path d="M181.9,33 L171.1,32.7 L173.6,25.1 L176.9,22.3 L182.1,33.9Z" fill="rgb(104,101,108)"/>
<path d="M139.4,61.8 L137.1,66.4 L139.6,68.8 L139.9,71 L147.7,73.7 L150.9,67.1 L145,60.9Z" fill="rgb(68,46,115)"/>
<path d="M122.8,124.6 L114.5,130.6 L113.5,137.9 L114.8,175.2 L119.3,176.9 L124.3,124.4 L124.4,124.5Z" fill="rgb(10,14,29)"/>
<path d="M109.3,93.6 L93.4,90.2 L105.1,85.6 L110.7,94.4Z" fill="rgb(87,52,140)"/>
<path d="M195.6,139.6 L199.8,133.3 L194.7,128.7 L192.9,130.2Z" fill="rgb(64,139,57)"/>
<path d="M145.6,119.5 L152.3,122 L153.6,117.9 L139.3,109.9 L136.1,117.7 L133.9,119 L136.9,119.1Z" fill="rgb(63,132,129)"/>
<path d="M108.3,65.7 L104.7,72.5 L112.3,78.2 L119.1,65.4 L115.4,59.2 L114.4,59.2Z" fill="rgb(130,113,48)"/>
<path d="M135.9,116.4 L128.3,104.1 L125.9,104.6 L122.3,123.3 L124.4,125.3 L125.2,123.7 L135.7,118.3Z" fill="rgb(50,63,160)"/>
<path d="M167.2,15.8 L164.1,-30.2 L156.5,-31.7 L142.3,-31.4 L146,1.8 L150,13.7 L165,20Z" fill="rgb(133,123,57)"/>
<path d="M99.6,13.8 L111.4,27 L112.6,17.9 L98,12.8Z" fill="rgb(58,136,134)"/>
<path d="M190.1,113.8 L198.7,106 L208.2,114.4 L197.8,122 L191.5,122.2Z" fill="rgb(61,135,152)"/>
<path d="M177.7,110.8 L183.2,110.6 L184.8,114.6 L183.7,120.5 L176.7,119.8 L175.7,112.3Z" fill="rgb(89,121,172)"/>
<path d="M182.9,35.5 L173.7,49.9 L173.1,46.3 L172.5,33.9 L172.6,34.5Z" fill="rgb(87,118,97)"/>
<path d="M150.8,79.1 L150,80 L147.6,72.9 L139.6,72.3 L136.7,81.5 L139.1,85.3Z" fill="rgb(112,108,122)"/>
<path d="M166,91.8 L160.5,101.6 L154.8,90.9 L153.8,90.7 L163.8,80.6 L163.8,83.1Z" fill="rgb(127,56,128)"/>
<path d="M162.4,107.2 L153.8,111.6 L153.4,118 L151.7,121.3 L152.3,123.6 L163.3,132 L167.6,117 L161.9,108.9Z" fill="rgb(74,52,141)"/>
<path d="M166.2,92.7 L173.8,90.8 L171.1,87.4 L166,83.7Z" fill="rgb(61,60,153)"/>
<path d="M99.5,75.3 L99.3,75.7 L104.7,71.7 L107.4,64.3 L99,56.2 L94.5,56.2Z" fill="rgb(109,91,112)"/>
<path d="M134.6,63.7 L132.1,65.6 L136,67 L141.8,60.8 L140.3,55.2 L137.5,53Z" fill="rgb(17,25,26)"/>
<path d="M98.7,73.7 L95.9,57.9 L91.2,57.5 L93.7,69.9Z" fill="rgb(15,10,10)"/>
<path d="M180.8 65.2A3 1.8 100 1 0 179.8 71A3 1.8 100 1 0 180.8 65.2ZM141.5 46.5A3.2 2.1 100 1 0 140.4 52.9A3.2 2.1 100 1 0 141.5 46.5ZM193.3 25.7A3.6 1.9 100 1 0 192.1 32.7A3.6 1.9 100 1 0 193.3 25.7ZM175 19A3.6 1.7 100 1 0 173.8 26A3.6 1.7 100 1 0 175 19ZM97 81.7A3.4 2.2 100 1 0 95.9 88.4A3.4 2.2 100 1 0 97 81.7ZM214.6 18.5A3.3 2 100 1 0 213.4 25.1A3.3 2 100 1 0 214.6 18.5ZM179.8 127.2A2.9 2.2 100 1 0 178.8 132.8A2.9 2.2 100 1 0 179.8 127.2ZM183.3 84.5A2.5 1.6 100 1 0 182.4 89.5A2.5 1.6 100 1 0 183.3 84.5ZM105.1 54.2A2.7 2.1 100 1 0 104.1 59.5A2.7 2.1 100 1 0 105.1 54.2ZM148.6 85.2A3.2 1.7 100 1 0 147.5 91.5A3.2 1.7 100 1 0 148.6 85.2ZM133.8 -11.4A3 1.9 100 1 0 132.7 -5.5A3 1.9 100 1 0 133.8 -11.4ZM212.3 142.2A2.9 1.7 100 1 0 211.3 147.9A2.9 1.7 100 1 0 212.3 142.2ZM168.4 67.5A2.7 2 100 1 0 167.4 72.9A2.7 2 100 1 0 168.4 67.5ZM190.9 107.7A2.8 1.9 100 1 0 189.9 113.3A2.8 1.9 100 1 0 190.9 107.7ZM145.4 13.9A3.2 2.2 100 1 0 144.3 20.2A3.2 2.2 100 1 0 145.4 13.9ZM119.4 70.4A3.6 2 100 1 0 118.1 77.6A3.6 2 100 1 0 119.4 70.4ZM154.1 65.9A3.1 2.3 100 1 0 153 71.9A3.1 2.3 100 1 0 154.1 65.9ZM89.2 141.9A2.6 1.8 100 1 0 88.3 147A2.6 1.8 100 1 0 89.2 141.9ZM192.9 81.2A2.6 1.8 100 1 0 191.9 86.4A2.6 1.8 100 1 0 192.9 81.2ZM163.3 65.9A2.5 1.9 100 1 0 162.4 70.8A2.5 1.9 100 1 0 163.3 65.9ZM181 40.3A3.4 2.1 100 1 0 179.8 47A3.4 2.1 100 1 0 181 40.3ZM133.6 45.9A2.6 1.7 100 1 0 132.7 50.9A2.6 1.7 100 1 0 133.6 45.9ZM218.6 70.4A3.3 1.8 100 1 0 217.4 76.9A3.3 1.8 100 1 0 218.6 70.4ZM196 63A3.5 1.6 100 1 0 194.8 69.8A3.5 1.6 100 1 0 196 63ZM182.6 10.3A3.4 2 100 1 0 181.4 17.1A3.4 2 100 1 0 182.6 10.3ZM115 116.6A2.7 2 100 1 0 114.1 122A2.7 2 100 1 0 115 116.6ZM148.5 127.5A3.2 1.8 100 1 0 147.4 133.7A3.2 1.8 100 1 0 148.5 127.5ZM83.1 15.9A3.5 1.9 100 1 0 81.9 22.8A3.5 1.9 100 1 0 83.1 15.9ZM109.1 78.5A3.6 1.9 100 1 0 107.8 85.6A3.6 1.9 100 1 0 109.1 78.5ZM167.7 19.9A3.3 1.9 100 1 0 166.6 26.3A3.3 1.9 100 1 0 167.7 19.9ZM178.9 94.3A2.7 2.2 100 1 0 178 99.6A2.7 2.2 100 1 0 178.9 94.3ZM224.8 49A2.8 2.1 100 1 0 223.8 54.5A2.8 2.1 100 1 0 224.8 49ZM125.9 94.6A2.7 2 100 1 0 124.9 99.9A2.7 2 100 1 0 125.9 94.6ZM136.9 101.9A2.9 2.2 100 1 0 135.9 107.6A2.9 2.2 100 1 0 136.9 101.9ZM147.5 107.1A3 2.2 100 1 0 146.5 112.9A3 2.2 100 1 0 147.5 107.1ZM115.3 20.4A3.6 1.9 100 1 0 114.1 27.5A3.6 1.9 100 1 0 115.3 20.4ZM106.2 123.7A2.8 2.1 100 1 0 105.2 129.2A2.8 2.1 100 1 0 106.2 123.7ZM148.9 38.9A2.5 1.9 100 1 0 148 43.9A2.5 1.9 100 1 0 148.9 38.9ZM115.6 -6.9A3 1.8 100 1 0 114.5 -1A3 1.8 100 1 0 115.6 -6.9ZM168.1 78.7A2.7 1.9 100 1 0 167.1 84A2.7 1.9 100 1 0 168.1 78.7ZM142.8 55.4A3.3 2.1 100 1 0 141.7 61.8A3.3 2.1 100 1 0 142.8 55.4ZM188.6 116.2A3.4 1.9 100 1 0 187.4 122.9A3.4 1.9 100 1 0 188.6 116.2ZM173 114.3A3.4 1.7 100 1 0 171.8 121.1A3.4 1.7 100 1 0 173 114.3ZM123.5 48.2A3.4 1.9 100 1 0 122.3 55A3.4 1.9 100 1 0 123.5 48.2ZM190.4 132.6A3.2 1.9 100 1 0 189.3 138.8A3.2 1.9 100 1 0 190.4 132.6ZM188.7 46.5A3.5 1.9 100 1 0 187.5 53.4A3.5 1.9 100 1 0 188.7 46.5ZM135.6 75.2A2.9 1.8 100 1 0 134.6 80.9A2.9 1.8 100 1 0 135.6 75.2ZM125.8 38.1A3.4 1.7 100 1 0 124.6 44.8A3.4 1.7 100 1 0 125.8 38.1ZM171.1 138.9A3.6 2.3 100 1 0 169.9 145.9A3.6 2.3 100 1 0 171.1 138.9ZM104.9 32.3A2.8 2.2 100 1 0 104 37.8A2.8 2.2 100 1 0 104.9 32.3ZM102.5 -3.1A2.9 2.2 100 1 0 101.5 2.6A2.9 2.2 100 1 0 102.5 -3.1ZM72.6 53.3A3.2 1.9 100 1 0 71.5 59.6A3.2 1.9 100 1 0 72.6 53.3ZM183.3 160.7A2.6 2.3 100 1 0 182.4 165.9A2.6 2.3 100 1 0 183.3 160.7ZM169.6 124.4A2.6 2.3 100 1 0 168.7 129.4A2.6 2.3 100 1 0 169.6 124.4ZM170.8 103.4A3.6 1.7 100 1 0 169.6 110.5A3.6 1.7 100 1 0 170.8 103.4ZM183.7 121.5A2.7 2.3 100 1 0 182.8 126.9A2.7 2.3 100 1 0 183.7 121.5ZM141.9 124.3A2.7 2.2 100 1 0 141 129.6A2.7 2.2 100 1 0 141.9 124.3ZM158.6 78.1A2.6 1.9 100 1 0 157.7 83.2A2.6 1.9 100 1 0 158.6 78.1ZM112 45.8A3.3 2.1 100 1 0 110.9 52.3A3.3 2.1 100 1 0 112 45.8ZM101.7 110.2A2.7 1.7 100 1 0 100.8 115.5A2.7 1.7 100 1 0 101.7 110.2ZM168.6 94.7A3 2.2 100 1 0 167.5 100.6A3 2.2 100 1 0 168.6 94.7ZM150.9 53.2A3.5 2.2 100 1 0 149.6 60.2A3.5 2.2 100 1 0 150.9 53.2ZM158 17.5A3.5 2.2 100 1 0 156.8 24.4A3.5 2.2 100 1 0 158 17.5ZM182 102.8A3.4 1.8 100 1 0 180.8 109.6A3.4 1.8 100 1 0 182 102.8ZM164.4 37.6A2.8 1.6 100 1 0 163.4 43.1A2.8 1.6 100 1 0 164.4 37.6ZM156.9 154.7A3 1.7 100 1 0 155.8 160.7A3 1.7 100 1 0 156.9 154.7ZM156.9 40.5A3.2 2.1 100 1 0 155.8 46.9A3.2 2.1 100 1 0 156.9 40.5ZM124.5 24A2.8 2 100 1 0 123.6 29.5A2.8 2 100 1 0 124.5 24ZM80.7 108.6A3.6 2.2 100 1 0 79.5 115.8A3.6 2.2 100 1 0 80.7 108.6ZM141.6 27.8A3.5 1.6 100 1 0 140.4 34.7A3.5 1.6 100 1 0 141.6 27.8ZM114.8 29A3.2 1.7 100 1 0 113.6 35.3A3.2 1.7 100 1 0 114.8 29ZM137.2 86A3.5 2 100 1 0 136 92.9A3.5 2 100 1 0 137.2 86ZM192.4 121.9A3.5 1.8 100 1 0 191.2 128.8A3.5 1.8 100 1 0 192.4 121.9ZM118.3 35.4A3 2.1 100 1 0 117.3 41.4A3 2.1 100 1 0 118.3 35.4ZM94.2 45.3A2.8 1.7 100 1 0 93.2 50.7A2.8 1.7 100 1 0 94.2 45.3ZM120.9 108.2A3.4 2.2 100 1 0 119.7 114.8A3.4 2.2 100 1 0 120.9 108.2ZM133.6 160.3A2.8 1.8 100 1 0 132.6 165.8A2.8 1.8 100 1 0 133.6 160.3ZM173 71.9A2.5 1.8 100 1 0 172.1 76.9A2.5 1.8 100 1 0 173 71.9ZM156.7 27.3A3.1 1.8 100 1 0 155.6 33.4A3.1 1.8 100 1 0 156.7 27.3ZM189.8 -9.2A3.6 1.6 100 1 0 188.5 -2.1A3.6 1.6 100 1 0 189.8 -9.2ZM168 34.6A3 2 100 1 0 166.9 40.6A3 2 100 1 0 168 34.6ZM135.7 27.9A2.6 1.9 100 1 0 134.8 33A2.6 1.9 100 1 0 135.7 27.9ZM189.1 95.3A3 2 100 1 0 188 101.2A3 2 100 1 0 189.1 95.3ZM107.6 21.7A3 1.7 100 1 0 106.5 27.6A3 1.7 100 1 0 107.6 21.7ZM84 78.4A2.8 2 100 1 0 83 83.9A2.8 2 100 1 0 84 78.4ZM97 99.3A2.9 1.6 100 1 0 96 104.9A2.9 1.6 100 1 0 97 99.3ZM176.1 82.8A2.7 2.2 100 1 0 175.2 88.1A2.7 2.2 100 1 0 176.1 82.8ZM141.9 33.6A2.9 1.8 100 1 0 140.9 39.4A2.9 1.8 100 1 0 141.9 33.6ZM108.4 112.9A3.4 2.2 100 1 0 107.2 119.6A3.4 2.2 100 1 0 108.4 112.9ZM152.4 99.2A3 1.8 100 1 0 151.4 105.1A3 1.8 100 1 0 152.4 99.2ZM111.7 99.1A2.6 2 100 1 0 110.8 104.2A2.6 2 100 1 0 111.7 99.1ZM171.9 26.9A2.6 1.7 100 1 0 171 32A2.6 1.7 100 1 0 171.9 26.9ZM145.8 22.9A3.4 2.2 100 1 0 144.6 29.5A3.4 2.2 100 1 0 145.8 22.9ZM139 134.8A3.1 2.2 100 1 0 137.9 140.9A3.1 2.2 100 1 0 139 134.8ZM125 58.2A3.5 2.1 100 1 0 123.8 65A3.5 2.1 100 1 0 125 58.2ZM167.5 51.3A3 2 100 1 0 166.4 57.2A3 2 100 1 0 167.5 51.3ZM131.3 67.8A3.2 1.9 100 1 0 130.2 74.1A3.2 1.9 100 1 0 131.3 67.8ZM93.8 92.6A2.5 1.6 100 1 0 92.9 97.6A2.5 1.6 100 1 0 93.8 92.6ZM106.9 153.3A2.9 2 100 1 0 105.9 159.1A2.9 2 100 1 0 106.9 153.3ZM202.9 46.3A2.6 2 100 1 0 202 51.4A2.6 2 100 1 0 202.9 46.3ZM204.8 120.2A2.9 2.3 100 1 0 203.7 125.9A2.9 2.3 100 1 0 204.8 120.2ZM173.2 -1.1A3.3 2 100 1 0 172.1 5.5A3.3 2 100 1 0 173.2 -1.1ZM122.8 82.2A3.2 2 100 1 0 121.7 88.6A3.2 2 100 1 0 122.8 82.2ZM216.2 100.8A2.9 2.2 100 1 0 215.2 106.5A2.9 2.2 100 1 0 216.2 100.8ZM183.4 20.9A3.1 2 100 1 0 182.3 27A3.1 2 100 1 0 183.4 20.9ZM177.7 25.9A3.5 2.2 100 1 0 176.5 32.9A3.5 2.2 100 1 0 177.7 25.9ZM143.4 63.9A3.2 2.3 100 1 0 142.3 70.3A3.2 2.3 100 1 0 143.4 63.9ZM119.6 138.9A3.2 2.1 100 1 0 118.5 145.2A3.2 2.1 100 1 0 119.6 138.9ZM105.1 88.2A2.8 2.2 100 1 0 104.1 93.8A2.8 2.2 100 1 0 105.1 88.2ZM196.4 129.6A3.4 1.9 100 1 0 195.2 136.3A3.4 1.9 100 1 0 196.4 129.6ZM143.1 114.8A3.1 1.9 100 1 0 142 120.9A3.1 1.9 100 1 0 143.1 114.8ZM113 63.2A3.6 1.9 100 1 0 111.8 70.2A3.6 1.9 100 1 0 113 63.2ZM128.8 113.2A3.4 1.8 100 1 0 127.7 119.8A3.4 1.8 100 1 0 128.8 113.2ZM156.5 -9.4A3.4 2.1 100 1 0 155.3 -2.6A3.4 2.1 100 1 0 156.5 -9.4ZM106 14.5A3.4 1.8 100 1 0 104.8 21.3A3.4 1.8 100 1 0 106 14.5ZM197.7 113.1A2.6 2.2 100 1 0 196.8 118.3A2.6 2.2 100 1 0 197.7 113.1ZM180.9 111.3A3.6 1.7 100 1 0 179.7 118.3A3.6 1.7 100 1 0 180.9 111.3ZM175.4 37.4A2.6 1.7 100 1 0 174.5 42.6A2.6 1.7 100 1 0 175.4 37.4ZM144.5 75.5A3.1 1.6 100 1 0 143.4 81.6A3.1 1.6 100 1 0 144.5 75.5ZM161 86.2A3.6 2.3 100 1 0 159.8 93.3A3.6 2.3 100 1 0 161 86.2ZM158.9 114.1A3.4 1.9 100 1 0 157.7 120.8A3.4 1.9 100 1 0 158.9 114.1ZM169.8 85.7A3 2 100 1 0 168.7 91.6A3 2 100 1 0 169.8 85.7ZM101.2 64A2.6 1.7 100 1 0 100.2 69.2A2.6 1.7 100 1 0 101.2 64ZM137.6 57.8A3.2 2.1 100 1 0 136.5 64A3.2 2.1 100 1 0 137.6 57.8ZM95.4 61.5A3.3 2 100 1 0 94.3 68A3.3 2 100 1 0 95.4 61.5Z" fill="rgb(95,85,220)" fill-opacity="0.3"/>
</g>
</g>
<g clip-path="url(#cp1)">
<rect x="14" y="129" width="87.6" height="100.6" fill="#440616"/>
<g filter="url(#bl3)">
<circle cx="42.8" cy="187.5" r="5.4" fill="rgb(206,18,41)" fill-opacity="0.5"/>
<circle cx="91" cy="167.1" r="4.9" fill="rgb(220,19,44)" fill-opacity="0.4"/>
<circle cx="86.5" cy="135.1" r="5.3" fill="rgb(193,17,38)" fill-opacity="0.5"/>
<circle cx="93.9" cy="141.6" r="6.1" fill="rgb(200,18,40)" fill-opacity="0.3"/>
<circle cx="89.7" cy="185.1" r="7.8" fill="rgb(172,15,34)" fill-opacity="0.4"/>
<circle cx="40.9" cy="194.8" r="6" fill="rgb(193,17,38)" fill-opacity="0.4"/>
<circle cx="58.2" cy="165.4" r="7.5" fill="rgb(189,17,37)" fill-opacity="0.4"/>
<circle cx="34.7" cy="152.6" r="7.8" fill="rgb(180,16,36)" fill-opacity="0.5"/>
<circle cx="66.9" cy="231.5" r="3.8" fill="rgb(221,19,44)" fill-opacity="0.5"/>
<circle cx="64.3" cy="202" r="6.6" fill="rgb(189,17,37)" fill-opacity="0.5"/>
<circle cx="31.9" cy="127.3" r="6.4" fill="rgb(190,17,38)" fill-opacity="0.5"/>
<circle cx="35.2" cy="213.8" r="7.9" fill="rgb(218,19,43)" fill-opacity="0.5"/>
<circle cx="25.2" cy="142.9" r="4.1" fill="rgb(183,16,36)" fill-opacity="0.3"/>
<circle cx="24.4" cy="127" r="7.7" fill="rgb(183,16,36)" fill-opacity="0.5"/>
<circle cx="53.5" cy="205.7" r="7" fill="rgb(184,16,36)" fill-opacity="0.4"/>
<circle cx="19.3" cy="156" r="4.1" fill="rgb(180,16,36)" fill-opacity="0.4"/>
<circle cx="65" cy="161.1" r="4.6" fill="rgb(214,19,42)" fill-opacity="0.3"/>
<circle cx="10.5" cy="131.2" r="7.3" fill="rgb(201,18,40)" fill-opacity="0.5"/>
<circle cx="101.6" cy="148.7" r="7.6" fill="rgb(175,15,35)" fill-opacity="0.4"/>
<circle cx="75.1" cy="211.6" r="4.2" fill="rgb(191,17,38)" fill-opacity="0.3"/>
<circle cx="37.5" cy="231.5" r="7.5" fill="rgb(197,17,39)" fill-opacity="0.5"/>
<circle cx="96.3" cy="161" r="7.9" fill="rgb(189,17,37)" fill-opacity="0.3"/>
<circle cx="60.7" cy="189.5" r="6.5" fill="rgb(203,18,40)" fill-opacity="0.3"/>
<circle cx="71.1" cy="225.1" r="6.4" fill="rgb(223,20,44)" fill-opacity="0.4"/>
<circle cx="87.5" cy="140.2" r="7.5" fill="rgb(188,16,37)" fill-opacity="0.5"/>
<circle cx="40.7" cy="192.8" r="7.2" fill="rgb(206,18,41)" fill-opacity="0.5"/>
<circle cx="102.8" cy="134.6" r="3.5" fill="rgb(195,17,39)" fill-opacity="0.5"/>
<circle cx="75.6" cy="158.6" r="3.5" fill="rgb(189,17,37)" fill-opacity="0.4"/>
<circle cx="54.8" cy="192.3" r="4.4" fill="rgb(217,19,43)" fill-opacity="0.4"/>
<circle cx="20.2" cy="162.9" r="7.7" fill="rgb(170,15,34)" fill-opacity="0.4"/>
<circle cx="98.6" cy="162.8" r="7.2" fill="rgb(162,14,32)" fill-opacity="0.5"/>
<circle cx="32.7" cy="144.6" r="6.7" fill="rgb(224,20,44)" fill-opacity="0.5"/>
<circle cx="81.9" cy="224.3" r="7.9" fill="rgb(195,17,39)" fill-opacity="0.3"/>
<circle cx="91.2" cy="168" r="4.6" fill="rgb(192,17,38)" fill-opacity="0.3"/>
<circle cx="11.8" cy="153.7" r="6" fill="rgb(208,18,41)" fill-opacity="0.5"/>
<circle cx="88.2" cy="227.2" r="6.2" fill="rgb(207,18,41)" fill-opacity="0.4"/>
<circle cx="17.8" cy="131.7" r="6.8" fill="rgb(173,15,34)" fill-opacity="0.5"/>
<circle cx="54.4" cy="125.8" r="5.8" fill="rgb(188,16,37)" fill-opacity="0.3"/>
<circle cx="35" cy="158.3" r="4.7" fill="rgb(205,18,41)" fill-opacity="0.3"/>
<circle cx="52.4" cy="190.9" r="7.7" fill="rgb(167,15,33)" fill-opacity="0.3"/>
<circle cx="28.3" cy="149" r="3.8" fill="rgb(164,14,32)" fill-opacity="0.4"/>
<circle cx="31.4" cy="177.1" r="6.2" fill="rgb(183,16,36)" fill-opacity="0.3"/>
<circle cx="19.1" cy="153.6" r="3.9" fill="rgb(191,17,38)" fill-opacity="0.5"/>
<circle cx="78.5" cy="147.1" r="3.2" fill="rgb(164,14,32)" fill-opacity="0.4"/>
<circle cx="44.8" cy="199.1" r="3.4" fill="rgb(176,15,35)" fill-opacity="0.5"/>
<circle cx="64.3" cy="181.1" r="7.5" fill="rgb(167,15,33)" fill-opacity="0.3"/>
<circle cx="64.1" cy="186.4" r="7.9" fill="rgb(223,20,44)" fill-opacity="0.4"/>
<circle cx="82.5" cy="200.7" r="3.7" fill="rgb(199,17,39)" fill-opacity="0.4"/>
<circle cx="44.3" cy="142" r="3" fill="rgb(215,19,43)" fill-opacity="0.5"/>
<circle cx="81.9" cy="156.3" r="5.1" fill="rgb(171,15,34)" fill-opacity="0.5"/>
<circle cx="90.2" cy="209.6" r="7.7" fill="rgb(176,15,35)" fill-opacity="0.5"/>
<circle cx="22.1" cy="183.2" r="3.6" fill="rgb(195,17,39)" fill-opacity="0.4"/>
<circle cx="43.2" cy="163" r="6.6" fill="rgb(191,17,38)" fill-opacity="0.4"/>
<circle cx="20.8" cy="155.7" r="7.2" fill="rgb(223,20,44)" fill-opacity="0.4"/>
<circle cx="93.2" cy="219.9" r="4.1" fill="rgb(177,15,35)" fill-opacity="0.5"/>
<circle cx="39.3" cy="228.7" r="4.8" fill="rgb(207,18,41)" fill-opacity="0.5"/>
<circle cx="30.4" cy="219" r="4.6" fill="rgb(167,15,33)" fill-opacity="0.3"/>
<circle cx="53.2" cy="193.7" r="4.4" fill="rgb(214,19,42)" fill-opacity="0.4"/>
<circle cx="91" cy="128.6" r="4.3" fill="rgb(170,15,34)" fill-opacity="0.4"/>
<circle cx="43.5" cy="167.9" r="7.3" fill="rgb(197,17,39)" fill-opacity="0.5"/>
<circle cx="47.3" cy="212.8" r="5.5" fill="rgb(208,18,41)" fill-opacity="0.5"/>
<circle cx="68.5" cy="172.3" r="4.3" fill="rgb(219,19,43)" fill-opacity="0.5"/>
<circle cx="86.4" cy="149" r="5.2" fill="rgb(217,19,43)" fill-opacity="0.4"/>
<circle cx="87.8" cy="183.5" r="4.1" fill="rgb(184,16,36)" fill-opacity="0.3"/>
<circle cx="74.3" cy="203.9" r="3.1" fill="rgb(179,16,35)" fill-opacity="0.5"/>
<circle cx="29.2" cy="183.3" r="7" fill="rgb(197,17,39)" fill-opacity="0.3"/>
<circle cx="96.9" cy="206.1" r="5.8" fill="rgb(181,16,36)" fill-opacity="0.4"/>
<circle cx="47.4" cy="137.9" r="3.6" fill="rgb(162,14,32)" fill-opacity="0.3"/>
<circle cx="33.5" cy="194" r="5.9" fill="rgb(198,17,39)" fill-opacity="0.5"/>
<circle cx="19.1" cy="167.2" r="3.4" fill="rgb(187,16,37)" fill-opacity="0.3"/>
<circle cx="16.3" cy="136.3" r="4.9" fill="rgb(209,18,41)" fill-opacity="0.4"/>
<circle cx="80.9" cy="150.3" r="4.4" fill="rgb(190,17,38)" fill-opacity="0.3"/>
<circle cx="52.9" cy="188.4" r="7.1" fill="rgb(163,14,32)" fill-opacity="0.5"/>
<circle cx="64.5" cy="187.8" r="3.3" fill="rgb(217,19,43)" fill-opacity="0.4"/>
<circle cx="62.2" cy="183.5" r="7.6" fill="rgb(199,17,39)" fill-opacity="0.5"/>
<circle cx="32.2" cy="196.9" r="5.9" fill="rgb(193,17,38)" fill-opacity="0.5"/>
<circle cx="62.6" cy="161.6" r="6.2" fill="rgb(165,14,33)" fill-opacity="0.4"/>
<circle cx="53.3" cy="148.2" r="5.8" fill="rgb(203,18,40)" fill-opacity="0.3"/>
<circle cx="38.4" cy="131.7" r="6" fill="rgb(165,14,33)" fill-opacity="0.4"/>
<circle cx="52.8" cy="174.1" r="3.2" fill="rgb(221,19,44)" fill-opacity="0.4"/>
</g>
<g filter="url(#bl1)">
<path d="M18.1 129.3l-3.6 4.7M86.7 140.5l3.1 2.8M62.6 176.9l-5.4 -3.4M32.7 173.4l3.1 2.3M99.6 161l-5.4 -2.9M92.1 228.7l3.3 -6.2M19.4 228.9l-5.9 -3.9M32.7 173.4l-5.1 3.3M25.3 200.4l-1.8 7.1M106.8 166.3l-3.2 0.9M48 215l-1.9 1.4M71.1 151.7l3 1.3M36.6 128.4l-3.1 1.8M72.8 168.4l-2.7 0.1" stroke="rgb(180,14,32)" stroke-width="0.9" stroke-opacity="0.4" stroke-linecap="round" fill="none"/>
<path d="M18.1 129.3l-0.1 -3.1M25.1 134l-7.1 -4.6M15.8 206.9l-5.4 1.9M22.8 140.7l4.7 4.1M18.3 198.6l-0.2 -6.5M20.4 233.9l-7.5 0.3M31.9 157.1l1.8 -7M76.1 190.3l-3.2 1.4M96.7 207.8l-0.6 -0.5M77.4 174.4l3.1 2.9M98.5 150.1l-2.8 1.3M84.4 227l1.5 -7.7M62.9 193.2l1.7 7.5M82.4 217.7l-8.2 5.5M34.2 216.7l-2.6 1.8M51 200.6l-6.7 -3.5M51.1 191.7l-6.9 1.8M58.9 192.4l-3.1 2.1M61.9 209.1l-1.4 3M93.8 193.7l0.4 3.3M95.9 205.4l-1.1 3.4M55.5 143.4l-3.2 0.9M52.6 213.9l1.5 0.9M20 154.4l-1.9 3M19.6 187.9l2.1 1.4M91.8 155.5l0.6 2.6M103 169.4l-0.7 3.5M66.3 183.9l-1.5 2M81.2 170.1l3.5 1.4M41 158.7l1.7 2.8M33.1 172.8l-2 0.6" stroke="rgb(200,16,36)" stroke-width="0.9" stroke-opacity="0.6" stroke-linecap="round" fill="none"/>
<path d="M15.7 124.1l-7.3 2.5M82 141.8l4.7 -1.3M72.2 159l-1.4 -0.6M95.2 233.7l0.3 -0.1M77.9 210.1l-0.8 -8.1M31.6 218.5l-5 -3.5M91.8 150.3l-1.8 3.2M76.3 190.3l-1.6 2.6M90.8 168.5l-3 0.5" stroke="rgb(200,16,36)" stroke-width="0.6" stroke-opacity="0.4" stroke-linecap="round" fill="none"/>
<path d="M15.7 124.1l2.3 2.1M55.4 143.8l1 2.4M73.2 126.6l4.2 -4.9M107.6 211.3l-0.4 3.1M77.4 174.4l-0.3 -6.1M28.1 198.3l4.8 2.3M36.2 182.6l-0.4 -7M41.7 173.7l4.1 3.8M77 202.1l-4.2 -2.8M63.1 208.5l0.9 7.5M27.1 225l-0.2 7.5M57.8 201l-3.1 -3M103.3 188.7l6.8 6.2M91.1 175.7l-1.5 1.1M15.9 177.6l-1.5 0.4M43.8 208.3l2.3 0.4M94.4 189.5l0.3 2.1M84.6 205.6l1.9 1.3M96.2 138.7l1.3 1.1M26.4 139.6l-3.5 0.5M46.2 133.6l2.8 1.3M63 146.5l-2 3.3M66.6 157.3l3.1 0.3M104.4 227.9l0.2 1.8" stroke="rgb(220,17,39)" stroke-width="0.9" stroke-opacity="0.4" stroke-linecap="round" fill="none"/>
<path d="M8.4 126.6l-1.5 6.2M43.7 156.9l-0.5 -6.8M55.4 143.8l-5.4 -1.8M72.2 159l4.7 -3.3M72.4 165.6l-0.2 -6.6M21.5 234.6l12.6 907.4M10.4 208.8l-0 7.2M28.8 166l3.9 3M108.1 144.9l-3.5 -4.2M86.7 167l0.2 5.6M104 151.9l-5.6 -1.8M100.8 226.4l-5.4 -3.8M31.1 190.6l5.2 1.6M17.9 174.5l-0.2 6.4M82.4 217.7l-5.1 -6.8M61.1 219.1l2.9 -3.2M19.9 219.1l6.7 -4.1M66.9 160l3.6 0.6M15 224.8l2.1 3M70.1 147.8l-0.7 3.8M29.3 140.3l0.9 3.8M94.8 220.3l-0 1.7" stroke="rgb(180,14,32)" stroke-width="0.9" stroke-opacity="0.6" stroke-linecap="round" fill="none"/>
<path d="M23.7 123.6l-0.5 -139.8M58.6 133.7l0.6 4.8M63.3 130.7l5.7 3.8M15.3 202l-7 -4.3M39.5 138.2l0.2 -3.5M50.6 123.6l2.8 1.7M8.6 148.3l1.6 -5.2M73.2 143.9l-5 -3.2M107.1 214.4l-3.2 2.4M32.7 168.9l6.1 -2.6M57.8 184.8l1 7.6M111.4 134.5l-2.4 -1.1M85.8 235.3l8.6 -2.4M26.6 215l-0 -5.3M55.4 232.8l-4.3 2.2M55.4 232.8l0.6 -6.2M83.1 164.4l2.7 2.6M36.9 185.9l2.4 0.5M51.8 156.1l-2 1.8M45.9 139.9l1.7 2.3M104.5 161.4l-1.6 0.1M18.7 197.7l1.7 3.1M35 188.5l-0.2 1.8M41.8 141.3l-1.5 3.6M82.3 225l3.7 1" stroke="rgb(180,14,32)" stroke-width="0.9" stroke-opacity="0.8" stroke-linecap="round" fill="none"/>
<path d="M14.5 134l2 7.4" stroke="rgb(160,12,28)" stroke-width="1.2" stroke-opacity="0.8" stroke-linecap="round" fill="none"/>
<path d="M22.8 140.7l-6.4 0.7M56.5 146.1l-6 5.2M85.9 157.4l0.6 -6.8M25.3 200.4l2.8 -2.1M23.8 157.1l5.3 1.6M60.7 182.8l-2.9 2M79.9 166.7l6.8 0.3M110.1 160.5l3.1 -1.1M27.6 176.7l0 4.6M93.9 192.3l-1.1 -1.2M23.5 207.5l3.1 2.1M92.8 191.2l0.7 -6.8M51.1 234.9l-10.9 136M109.6 183.7l-0.1 -6.9M36.3 228.8l3.3 1.1M68.2 134.5l-3.9 0.1M47.5 188.2l0.8 1.6M21.3 158.1l3.2 2M82.1 182.6l2.1 1.4M17.4 221.9l-0.5 2.4M68.5 171.5l2.2 2.9M55.4 127.7l2.7 2.9M13.7 174.9l0.8 3.2M78.3 230.9l-2.7 0.3M22.6 217.3l-1.4 2.3M73.3 230.1l2.8 2.6M92.9 181.4l1.8 1.4M51.2 195.8l0 4M36.3 157.7l2.7 1M45.9 157l3.7 1M25.5 173.9l0.6 2.9M26.3 208.1l-1.9 0.4M76 199l-1.2 1.4M56.4 215.2l-1.5 1.5M18.9 223.3l-1.7 3.1M17.5 135.5l-3.6 0M88.6 214.3l-2.9 2.5M73.5 127.8l-1.4 1.4M41.1 181.2l-1.6 3.4M33.6 157.3l-2.5 0.4" stroke="rgb(200,16,36)" stroke-width="0.9" stroke-opacity="0.8" stroke-linecap="round" fill="none"/>
<path d="M67.8 124.3l-3.8 1.7M16.5 141.4l-0.3 0.4M89 164.9l5.8 3.7M11.1 226l2.4 -1M74.2 223.2l-0.2 -0.2M54.8 198l-3.8 2.6M51.1 234.9l-7.1 -4M101.6 151.4l-0.8 1.5M49 180.3l1.4 3.5M95.2 155.5l-3.8 0" stroke="rgb(200,16,36)" stroke-width="1.2" stroke-opacity="0.8" stroke-linecap="round" fill="none"/>
<path d="M64 126l-3.3 -2.6" stroke="rgb(160,12,28)" stroke-width="1.2" stroke-opacity="0.6" stroke-linecap="round" fill="none"/>
<path d="M58.6 133.7l4.7 -3M89.7 143.4l0.3 4.7M27 133.2l1.2 -8.2M36.8 132.2l2.9 2.6M69 134.5l5.3 -3.3M95.7 141l0 -7.2M23.8 157.1l-2.1 -5.1M19 165.2l0.9 -4.8M86.3 201l0.3 6.8M85.8 235.3l-3.4 -3M79.9 166.7l-2.8 1.6M94.2 158.1l1.5 -6.7M25.8 167.5l-1.9 6.3M66.9 203.3l-0.3 1.7M54.4 208.9l-3.9 -3.7M41.4 189.5l2.8 3.9M24.7 200.2l0.4 1.6M23 213.8l0.6 1.7M26.1 131.6l-1.1 3.5M26.2 158l-0.8 1.8M71.8 149l0.4 2.1M21.4 126.5l0.2 2.2M20.2 126.3l-0.8 3M87.7 197l-1.4 1.1M101.1 142.4l0.3 3.5M65.3 200.6l1.7 2.8M33.2 193.5l-1.1 1.5M43.1 227.7l-3 1.7" stroke="rgb(200,16,36)" stroke-width="0.9" stroke-opacity="0.4" stroke-linecap="round" fill="none"/>
<path d="M69 134.5l-0.8 6.1M59.9 154.4l2.8 7.1M21.7 152.1l5.9 -6.7M87.7 133.4l1.5 -7.4M108.4 149.3l-4.4 2.7M36.2 182.6l5.5 2.5M77.9 210.1l-0.6 0.8M70.4 138.1l-2.2 3.3M92 165.5l-0.9 2.9" stroke="rgb(220,17,39)" stroke-width="1.2" stroke-opacity="0.8" stroke-linecap="round" fill="none"/>
<path d="M68.2 140.7l-0.6 0.2M89.7 143.4l5.9 -2.4M104.9 207.8l-8.2 0M85.9 157.4l3.8 3M23.2 223.4l-3.8 5.5M27.1 225l4 -2.2M50.5 205.3l-8.1 3.4M38.1 192.6l-1.7 2.4M47.7 168.3l-2.2 0.6M70.6 187.7l1.9 2.7M14.3 222.1l-0.9 2.9M59.9 192l-2 0.3M94.4 147.5l-0.3 1.6M28.5 170.6l-3.3 0.5M44.5 164.7l1.2 2.8M39.2 146.1l1.3 3.5M89.8 213.9l-3.2 1.8" stroke="rgb(200,16,36)" stroke-width="0.6" stroke-opacity="0.8" stroke-linecap="round" fill="none"/>
<path d="M59.2 138.5l8.4 2.4M82 141.8l0.2 7.2M31.3 140.7l6.1 -0.1M41.3 167.8l0.4 5.9M35 200.2l4.6 1.8M45.3 182.3l5.3 2.1M86.9 172.7l5.3 3.7M58.4 234.5l-3 -1.8M70.3 220l-1 2.8M16.1 206.1l1.1 3.1M46.2 155l2.1 2M94.3 180.1l1.8 1.4M62.9 220.9l2.6 2.5M52 216.1l1.6 1M102.5 187l-2.8 1" stroke="rgb(240,19,43)" stroke-width="0.9" stroke-opacity="0.8" stroke-linecap="round" fill="none"/>
<path d="M73.3 147.3l3.5 4.2M98.3 125.4l0.6 6.1M108.4 149.3l3.9 1.9" stroke="rgb(240,19,43)" stroke-width="1.2" stroke-opacity="0.3" stroke-linecap="round" fill="none"/>
<path d="M73.3 147.3l-0.1 -3.4M78.1 140.7l3.9 1.1M23.7 123.6l4.5 1.4M45.2 157.9l1.2 8M91.1 199l5.2 5.1M89.2 209.8l0.2 7.5M82.3 232.4l-3 2.3M84.4 227l7.7 1.7M20.4 233.9l-1.1 -5M54.6 175l-5.2 -0.2M93.9 192.3l4.9 0.4M61.1 219.1l-0.4 0.3M42.3 208.6l2.7 6.5M92.3 227.6l0.1 2.5" stroke="rgb(240,19,43)" stroke-width="1.2" stroke-opacity="0.6" stroke-linecap="round" fill="none"/>
<path d="M82.2 149l4.3 1.6M36.9 148.9l0.5 -8.3M49.1 135.4l-3.5 -2.5M10.1 143.1l6 -1.3M98.9 131.4l6.6 3.5M41.7 185.1l-0.3 4.4M19 165.2l-4 3.2M92.2 176.3l2.9 -1.3M60.7 219.5l-7.5 -4.3M78.7 215.4l-0.6 1.9M45.1 195l-1.9 1.9M19.5 177.5l0.8 3" stroke="rgb(180,14,32)" stroke-width="0.6" stroke-opacity="0.4" stroke-linecap="round" fill="none"/>
<path d="M86.5 150.6l3.6 -2.5M67.3 168.1l-0.6 7.5M66.8 175.6l-4.1 1.3M81.1 179.7l4.2 2.4M89.6 160.4l4.5 -2.3M23.2 223.4l3.9 1.6M94.8 168.6l0.3 6.4M48.3 173l2.3 1.4" stroke="rgb(240,19,43)" stroke-width="1.2" stroke-opacity="0.8" stroke-linecap="round" fill="none"/>
<path d="M103.3 121.9l7.4 3.8M27 133.2l3.8 1.1M43.9 149.6l2.3 -5.4M36.9 148.9l6.4 1.2M60.7 123.4l-7.3 1.9M53.4 157.7l0.5 7.1M104.6 140.7l0.9 -5.8M69.1 233.2l0.8 -0.5M104.9 207.8l0.5 -7.1M101.6 199.1l3.9 1.6M26.9 232.5l4.9 2.1" stroke="rgb(200,16,36)" stroke-width="1.2" stroke-opacity="0.4" stroke-linecap="round" fill="none"/>
<path d="M15.3 202l0.5 4.9M77.5 132.9l3.9 -1.5M82.3 192.2l3.7 -2.3M16.8 173.4l-9.2 4.5M58.3 207.4l-0.5 -6.4M64 216l7.9 -0.1M63.6 226.1l7.4 -2.9M18.7 206.8l-3.1 0.1M52.7 169.7l0.1 3.4M99.5 176.7l-0.9 2.7M93.5 146l-1.7 3.4" stroke="rgb(220,17,39)" stroke-width="0.6" stroke-opacity="0.4" stroke-linecap="round" fill="none"/>
<path d="M13 234.2l-2.4 -1.9M67.6 140.8l-6.8 9.3M17.2 150.5l4.5 1.6M110.7 125.7l-1.7 7.6M89.4 217.3l-3.5 2M70 232.7l4.6 -8.3M31.8 234.6l3.8 -8.6M109.5 176.8l-6.5 -2.4M85.5 224.1l-2.5 2M101.7 212.3l-1.5 2.9M96.5 163.9l-0.1 3.8M62.8 179.1l0.5 3.8M94.5 127.3l-1.2 2.6M81.9 182.4l2.4 2.9M89.5 225.5l-2.5 1.6M48.2 224.5l1.3 1.2M29.8 177.8l2.5 1.2M103.1 137.4l-0.9 1.3M43.8 207.7l-1 1.3" stroke="rgb(240,19,43)" stroke-width="0.6" stroke-opacity="0.6" stroke-linecap="round" fill="none"/>
<path d="M59.2 138.5l-3.7 5.3M80.5 177.2l6.4 -4.6M100.8 165.4l-6 3.2M17.9 208.3l5.6 -0.8M106.8 166.3l5.9 4.1M29.7 131.3l0.9 2.5M33.2 208.1l-1.4 1.7M34.5 193.2l-3.2 1.3M38.4 179l0.3 1.8M81.7 199.3l-2.7 2.1M31.7 176.8l-2.3 2.1M88.4 218.3l-1.8 2.9M88.7 144.9l0.1 2.4" stroke="rgb(220,17,39)" stroke-width="0.6" stroke-opacity="0.8" stroke-linecap="round" fill="none"/>
<path d="M60.8 150.2l-4.3 -4M8.7 159.1l3.6 -2.3M38.8 166.4l-1 -6.3M33.7 150.1l-6.1 -4.8M35.4 211l-4.9 -2.6M31.6 218.5l-0.6 4.3M98.8 192.8l2.8 6.3M41.6 234l2.3 -3.1M98.8 192.8l4.5 -4M21.5 141.4l0.6 1.7" stroke="rgb(240,19,43)" stroke-width="1.2" stroke-opacity="0.4" stroke-linecap="round" fill="none"/>
<path d="M53.2 157.6l-2.7 -6.2M31.3 140.7l-0.5 -6.4M28.1 198.3l-0.9 -5.6M87.7 133.4l-6.3 -2M69.2 190.2l3.7 1.5M91.1 199l-4.7 2M108.4 149.3l-0.3 -4.3M32.6 183.5l-1.5 7.1M45 215.1l5.2 1.2M28.1 207.8l2.6 1M79.2 209.1l1.2 3.6M29.7 188.6l-2.7 1.2M73.7 192.1l-2.7 0.3M83.3 224.5l0.1 1.8M50.2 182.4l1.5 2.5M64.1 174.2l-1.4 0.7M77.4 185l1.9 1.2M50.1 218l-0 1.5M53.7 189.2l1.6 0M45.3 224.9l-2.6 0.2M95.9 222.9l2 1.8M31.3 191.1l0.4 3.1" stroke="rgb(240,19,43)" stroke-width="0.9" stroke-opacity="0.6" stroke-linecap="round" fill="none"/>
<path d="M53.2 157.6l-8.1 0.3M103.3 121.9l-5 3.5M74.3 131.2l3.3 1.7M19.9 160.3l-7.7 -3.5M66.8 175.6l2.6 1.6M57.8 184.8l-3.2 -1.2M90.7 127.4l-3.6 0.3M36.8 170.9l-2.2 3.1" stroke="rgb(180,14,32)" stroke-width="1.2" stroke-opacity="0.8" stroke-linecap="round" fill="none"/>
<path d="M43.7 156.9l1.4 1.1M58.6 133.7l-2.7 -1.4M18.3 198.6l-3 3.4M17.2 150.5l-3 1.9M12.3 156.8l1.9 -4.5M67.3 168.1l-5.3 -2.9M53.9 164.8l3.6 2.2M18.2 192.1l5.6 -1.6M69.4 177.2l0.6 3M86.1 123.4l-4 1.2M89.2 209.8l-2.6 -2M15 168.4l1.8 5M8.7 159.1l-0.6 6.6M32.6 183.5l-5 -2.2M72.9 199.3l-6 4M10.4 216.1l7.5 1.8M85.3 182.1l5.1 -1.6M104 186.4l-3.7 -4.2" stroke="rgb(220,17,39)" stroke-width="1.2" stroke-opacity="0.6" stroke-linecap="round" fill="none"/>
<path d="M43.3 150l0.6 -0.5M61.4 151.6l4.3 0.6M70.8 158.4l-8.1 3.1M60.8 150.2l0.6 1.5M32.8 200.6l-2.3 7.8M41.6 208.2l-2 -6.2M15.8 206.9l2.1 1.4M50.5 205.3l0.5 -4.7M56 226.5l-6 -2M104 186.4l5.6 -2.7M61 134.8l-1.8 1.1M33.3 228l-1.4 1.9M11.6 178.2l-1.1 2.5M49.5 152.4l-1.7 2.3M61.8 177.1l-0.4 2.8M27.5 193.8l-1.1 1.1M51 212.9l-0 3.8M83.2 189.5l0.2 2.6M91.6 157.9l1.8 0.6M56.7 175.4l1.4 1.4M27.1 177.4l3.3 1.4M21.2 224l-2.2 3.2M32 156.3l2.1 0.4" stroke="rgb(220,17,39)" stroke-width="0.9" stroke-opacity="0.8" stroke-linecap="round" fill="none"/>
<path d="M50.5 151.4l-6.6 -1.8M32 123.5l-3.8 1.5M43.7 156.9l-6 3.2M74.3 131.2l-1 -4.6M10.6 232.4l0.5 -6.3M41.4 189.5l-5.1 2.7M50.6 184.4l4.1 -0.8M83.5 199.2l-6.5 2.9M30.6 208.4l-3.9 1.2M31.8 234.6l9.8 -0.6M95.1 175l4.5 1.5" stroke="rgb(180,14,32)" stroke-width="1.2" stroke-opacity="0.4" stroke-linecap="round" fill="none"/>
<path d="M36.3 126.6l-4.3 -3.1M53.9 164.8l-5.2 1.8M61.4 151.6l-1.4 2.8M65.6 152.3l5.1 6.2M32.7 173.4l0.1 -4.5M81.1 179.7l-0.6 -2.5M89.6 160.4l-0.6 4.5M99.6 161l1.2 4.3M95 219.5l0.4 3M23.9 173.8l3.6 2.9M16.8 173.4l1.1 1.1M83.1 228.1l-8.5 -3.6M90.5 180.5l1.8 -4.2M41.7 219.3l3.4 -4.2" stroke="rgb(200,16,36)" stroke-width="1.2" stroke-opacity="0.6" stroke-linecap="round" fill="none"/>
<path d="M25.1 134l1.9 -0.8" stroke="rgb(240,19,43)" stroke-width="0.6" stroke-opacity="0.3" stroke-linecap="round" fill="none"/>
<path d="M31.3 140.7l-3.8 4.2M106.9 230.3l0.1 -2.6M14.3 183.6l3.4 -2.8M41.7 185.1l3.6 -2.8M56 226.5l4.3 -3.6M50.7 161l1.1 2.6M93.3 138.7l1.6 0.2M14.6 220.2l3.8 0.3M66.3 160.3l0.8 1.9" stroke="rgb(180,14,32)" stroke-width="0.6" stroke-opacity="0.6" stroke-linecap="round" fill="none"/>
<path d="M43 122.6l-6.7 4M99.3 216.6l4.7 0.2M18.3 198.6l6.9 1.8M99.2 143.2l-3.6 -2.1M23.8 190.5l0.5 -6.9M64.6 200.8l-6.8 0.2M60.7 219.5l-0.4 3.5M93 165.2l-0.8 1.6" stroke="rgb(180,14,32)" stroke-width="1.2" stroke-opacity="0.6" stroke-linecap="round" fill="none"/>
<path d="M46.2 144.1l-6.7 -5.9M47.6 124.6l-1.9 8.3M8.4 197.8l1.8 -4.8M73.3 147.3l-7.6 5M86 189.9l-0.7 -7.8M27.1 192.7l4 -2.1M24.3 183.6l3.3 -2.3M79.4 234.7l-9.4 -1.9M71.9 215.9l2.1 7.1M35.4 211l-1.2 5.7M21.5 234.6l5.4 -2.1M58.3 207.4l-3.9 1.5M50 224.6l0.2 -8.3M85.5 153.4l-1.7 2.1M46.6 185.3l-0.2 2.7M58.7 168.3l-0.3 3.2M62.4 228.4l0.5 1.6" stroke="rgb(240,19,43)" stroke-width="0.9" stroke-opacity="0.4" stroke-linecap="round" fill="none"/>
<path d="M50.6 123.6l-3 1M85.9 157.4l-5.3 0.4M53.4 157.7l6.5 -3.3M25.8 167.5l3 -1.5M89.2 126l-3.1 -2.7M70 180.2l7.4 3.7M89 164.9l-2.3 2.1M82.3 232.4l0.7 -4.2M57.2 173.5l-2.6 1.5M85.9 219.3l-3.5 -1.6M50 224.6l-6.5 3.4M103.3 188.7l0.7 -2.3" stroke="rgb(220,17,39)" stroke-width="1.2" stroke-opacity="0.4" stroke-linecap="round" fill="none"/>
<path d="M55.9 132.4l-6.8 3M41.3 167.8l5 -1.9M27.5 144.8l0.1 0.5M87.8 133.6l-0.1 -0.2M81.1 179.7l-3.6 4.2M45.8 177.5l-0.5 4.7M73.7 186.2l1.4 1.6M26.8 169.3l-2.2 1.5M58.5 142.3l0.8 1.4M77 225.4l-0.6 3.6M67.3 125.1l-1.2 2.9M91.1 212.9l-3.2 1.3M31.6 204.7l-3 1.9" stroke="rgb(220,17,39)" stroke-width="0.6" stroke-opacity="0.6" stroke-linecap="round" fill="none"/>
<path d="M43 122.6l4.6 2M16.2 141.8l1 8.7M77.4 121.7l4.7 2.9M86.6 207.8l-8.8 2.3M103.6 152.5l-0.6 1.5M32.4 160.2l2.3 2.3" stroke="rgb(240,19,43)" stroke-width="0.6" stroke-opacity="0.4" stroke-linecap="round" fill="none"/>
<path d="M39.7 134.7l6 -1.8" stroke="rgb(160,12,28)" stroke-width="0.9" stroke-opacity="0.6" stroke-linecap="round" fill="none"/>
<path d="M50 142l-0.9 -6.6M62.6 176.9l-1.9 5.9M95.9 124.1l-6.8 1.9M96.1 207.3l-6.8 2.5M108.1 144.9l5.4 -3M82.3 192.2l-6.2 -1.9M8 165.7l-7.2 4.8M66.8 231.9l-3.2 -5.8M23.2 223.4l-3.2 -4.3M41.6 208.2l0.8 0.5M96.2 204l5.3 -4.9M108.6 199.5l-3.1 1.2M35.6 226l5.9 -0.2M33.5 190.3l0.5 3.7M65.4 144.1l1.5 1.3M93.6 149.4l1 2.6M14.9 152.2l2.6 0.1M28.4 207.2l-0.5 2.2M37.8 226.6l-0.8 2.7M20.6 130l0.5 3.4M96.6 126.1l-0.9 2.9M67.6 167.2l-2.9 1.5M76.7 223.1l-1.5 3.2M93.4 209.3l2.2 2.5" stroke="rgb(220,17,39)" stroke-width="0.9" stroke-opacity="0.6" stroke-linecap="round" fill="none"/>
<path d="M18.2 192.1l-3 -1.5M19.9 160.3l3.9 -3.2M110.1 160.5l-5.9 -3.6M63.1 208.5l3.6 -3.5M66.7 204.9l8.4 6.8" stroke="rgb(180,14,32)" stroke-width="1.2" stroke-opacity="0.3" stroke-linecap="round" fill="none"/>
<path d="M62.1 165.2l0.6 -3.7M68 186.6l2 -6.4M72.4 165.6l4.7 2.7M18 217.9l0.6 0.9M18 217.9l-0.1 -9.6M86.9 211.4l1.8 0.8M23.4 143.1l-0.5 2.4M47.8 181.2l1.6 2" stroke="rgb(180,14,32)" stroke-width="0.6" stroke-opacity="0.8" stroke-linecap="round" fill="none"/>
<path d="M86.7 140.5l1.2 -6.9M96.2 204l-0.2 3.3M100.3 182.2l-0.7 -5.7" stroke="rgb(200,16,36)" stroke-width="0.9" stroke-opacity="0.3" stroke-linecap="round" fill="none"/>
<path d="M20.4 233.9l1 0.7" stroke="rgb(220,17,39)" stroke-width="0.6" stroke-opacity="0.3" stroke-linecap="round" fill="none"/>
<path d="M107 227.6l-1.3 -1.2M50.6 184.4l0.5 7.3M54.4 208.9l-1.2 6.2" stroke="rgb(200,16,36)" stroke-width="1.2" stroke-opacity="0.3" stroke-linecap="round" fill="none"/>
<path d="M31.9 157.1l-2.8 1.6M99.2 143.2l-0.8 6.9M95.5 233.6l5.3 -7.3M55.8 194.5l-4.7 -2.8M31.8 234.6l7.8 115.4M29 225.2l-2.8 0.2M102.1 158.4l-0.8 3M24.1 167.4l1.7 3.1M51.5 184l-2.1 0.5M75.7 192.7l-1.8 3.2M89.7 139.6l-2 0.6" stroke="rgb(240,19,43)" stroke-width="0.6" stroke-opacity="0.8" stroke-linecap="round" fill="none"/>
<path d="M28.8 166l0.3 -7.3" stroke="rgb(180,14,32)" stroke-width="0.6" stroke-opacity="0.3" stroke-linecap="round" fill="none"/>
<path d="M60.7 182.8l7.3 3.8M81.4 131.5l0.7 -6.9M95.2 233.7l-0.9 -0.7" stroke="rgb(240,19,43)" stroke-width="0.9" stroke-opacity="0.3" stroke-linecap="round" fill="none"/>
<path d="M35.8 175.7l6 -1.9M99.3 216.6l-4.3 2.9" stroke="rgb(180,14,32)" stroke-width="0.9" stroke-opacity="0.3" stroke-linecap="round" fill="none"/>
<path d="M95.7 133.8l3.2 -2.4M84.4 227l-1.4 1.1M8.6 181.9l-1 -4M19.9 219.1l-1.4 -0.4M100.8 165.4l2.8 1.9M85.2 146.3l3.2 0.8M43.3 134.5l-0.7 2.3M70.9 186.9l-1.5 1.4M44.7 209.8l-0.6 2.2M48.5 184.6l1.3 0.8M45.5 189.1l0.8 3M31.8 186.6l1.4 0.9M16.9 174.7l-0.6 1.5M104.8 227.5l-3 0.9" stroke="rgb(200,16,36)" stroke-width="0.6" stroke-opacity="0.6" stroke-linecap="round" fill="none"/>
<path d="M99.2 143.2l5.3 -2.4" stroke="rgb(160,12,28)" stroke-width="0.9" stroke-opacity="0.8" stroke-linecap="round" fill="none"/>
<path d="M90.1 148l5.6 3.3M69.1 233.2l-2.4 -1.2" stroke="rgb(200,16,36)" stroke-width="0.6" stroke-opacity="0.3" stroke-linecap="round" fill="none"/>
<path d="M64.6 200.8l2.3 2.5M71.9 215.9l3.1 -4.1" stroke="rgb(220,17,39)" stroke-width="0.9" stroke-opacity="0.3" stroke-linecap="round" fill="none"/>
<path d="M86 189.9l6.8 1.3" stroke="rgb(220,17,39)" stroke-width="1.2" stroke-opacity="0.3" stroke-linecap="round" fill="none"/>
<path d="M80.6 176.7l-0.4 3.6M57.1 143.7l-0.1 2.4M49.9 133.2l-3.3 1.3M78.4 173.8l-2.6 1.7M60.5 212.1l-0.8 2.3M24.6 145.7l1.9 3M71.2 225.4l-2.5 1.6M61.4 202l2.5 2M27.1 155.5l-0.9 1.3" stroke="rgb(200,16,36)" stroke-width="0.9" stroke-opacity="0.9" stroke-linecap="round" fill="none"/>
<path d="M79.4 191.3l-0.6 2.3M26 145l2.8 0.9M46.6 176.3l1.4 1.3M48.5 228.2l-3.2 0.2M20.4 129.4l1.6 1.1M22.2 146.2l-2.2 0M52 218.5l1.6 1.8M80.2 169.9l-1 1.7" stroke="rgb(220,17,39)" stroke-width="0.9" stroke-opacity="0.9" stroke-linecap="round" fill="none"/>
<path d="M89.9 201.4l1.1 1.5M25.2 230.7l1 1.2M22.7 131.6l1.8 1.7M72.3 220.2l0.9 1.2M70.8 165.7l1.3 3.1" stroke="rgb(200,16,36)" stroke-width="0.6" stroke-opacity="0.9" stroke-linecap="round" fill="none"/>
<path d="M89.9 195.9l0.8 1.9M57.7 195.5l-0.6 3.5M76.4 178.2l-2 0.7" stroke="rgb(180,14,32)" stroke-width="0.9" stroke-opacity="0.9" stroke-linecap="round" fill="none"/>
<path d="M76.7 155.9l-1.2 1M74.7 182.2l2.8 1.3M13 155.6l1 2.2M96.6 149.3l-3.8 0.6M86.1 206.6l1.6 2.7" stroke="rgb(240,19,43)" stroke-width="0.9" stroke-opacity="0.9" stroke-linecap="round" fill="none"/>
<path d="M71.6 126.1l-0 3.7M100 204.2l-2.5 2.4M13 195.4l3.3 0.9M55.3 170.5l-0.3 2.4" stroke="rgb(240,19,43)" stroke-width="0.6" stroke-opacity="0.9" stroke-linecap="round" fill="none"/>
<path d="M65.3 147.2l0.4 2.5M103.9 142.2l-1.3 2.1M42.8 187.2l0.2 2.3M81.9 221.1l-0.1 1.5" stroke="rgb(180,14,32)" stroke-width="0.6" stroke-opacity="0.9" stroke-linecap="round" fill="none"/>
<path d="M74.9 205.4l0.1 3.8M21.2 131.2l2.1 0.8" stroke="rgb(200,16,36)" stroke-width="1.2" stroke-opacity="0.9" stroke-linecap="round" fill="none"/>
<path d="M12.3 166.9l-1.8 2.5" stroke="rgb(220,17,39)" stroke-width="0.6" stroke-opacity="0.9" stroke-linecap="round" fill="none"/>
</g>
<g filter="url(#bl2)">
<path d="M9.3 125.2A2.6 2.1 95 1 0 9.8 120.1A2.6 2.1 95 1 0 9.3 125.2ZM3.3 129.5A2.5 2.2 113 1 0 5.3 124.9A2.5 2.2 113 1 0 3.3 129.5ZM51.5 138.9A2.8 2.2 146 1 0 56.2 135.8A2.8 2.2 146 1 0 51.5 138.9ZM98.1 188.5A2.5 2.1 68 1 0 96.3 183.9A2.5 2.1 68 1 0 98.1 188.5ZM86.9 198.2A2.8 2.4 102 1 0 88.2 192.6A2.8 2.4 102 1 0 86.9 198.2ZM65.1 223.8A2.5 1.8 162 1 0 69.9 222.2A2.5 1.8 162 1 0 65.1 223.8ZM99 241A2.9 1.9 104 1 0 100.4 235.4A2.9 1.9 104 1 0 99 241Z" fill="rgb(75, 60, 180)" fill-opacity="0.80"/>
<path d="M17.5 119.9A2.8 1.8 179 1 0 23.2 119.8A2.8 1.8 179 1 0 17.5 119.9ZM63.6 145.1A2.6 1.8 52 1 0 60.5 141A2.6 1.8 52 1 0 63.6 145.1ZM111.7 147.8A2.8 2.1 129 1 0 115.2 143.4A2.8 2.1 129 1 0 111.7 147.8ZM55.5 190.5A2.6 2.2 47 1 0 52 186.7A2.6 2.2 47 1 0 55.5 190.5ZM34.5 197A2.9 1.8 54 1 0 31.2 192.3A2.9 1.8 54 1 0 34.5 197ZM115.8 206A2.8 2.2 92 1 0 116 200.5A2.8 2.2 92 1 0 115.8 206ZM9.9 221.9A2.7 2.3 137 1 0 14 218.2A2.7 2.3 137 1 0 9.9 221.9ZM87.7 224A2.5 2.1 179 1 0 92.7 223.9A2.5 2.1 179 1 0 87.7 224ZM18.7 230.2A2.8 1.8 10 1 0 13.2 229.2A2.8 1.8 10 1 0 18.7 230.2ZM79.3 231A2.7 1.8 15 1 0 74 229.5A2.7 1.8 15 1 0 79.3 231ZM38.9 239.1A2.2 1.9 41 1 0 35.5 236.2A2.2 1.9 41 1 0 38.9 239.1Z" fill="rgb(75, 60, 180)" fill-opacity="0.90"/>
<path d="M24.5 120A2.5 2 177 1 0 29.6 119.7A2.5 2 177 1 0 24.5 120ZM54.5 121.1A2.4 1.9 164 1 0 59.2 119.9A2.4 1.9 164 1 0 54.5 121.1ZM110.7 142.3A2.2 1.8 83 1 0 110.1 137.8A2.2 1.8 83 1 0 110.7 142.3ZM7.8 147.6A2.9 1.9 42 1 0 3.6 143.6A2.9 1.9 42 1 0 7.8 147.6ZM56.2 161.5A2.2 2.2 159 1 0 60.3 160A2.2 2.2 159 1 0 56.2 161.5ZM10.2 178.6A2.7 2 168 1 0 15.5 177.6A2.7 2 168 1 0 10.2 178.6ZM115.5 181.7A2.5 2.1 65 1 0 113.4 177.2A2.5 2.1 65 1 0 115.5 181.7ZM27.1 189.1A2.7 2.2 124 1 0 30.2 184.6A2.7 2.2 124 1 0 27.1 189.1ZM28.3 213.4A2.8 2.1 173 1 0 33.8 212.8A2.8 2.1 173 1 0 28.3 213.4ZM71 226.4A2.6 2.4 15 1 0 66.1 225A2.6 2.4 15 1 0 71 226.4Z" fill="rgb(90, 45, 180)" fill-opacity="0.90"/>
<path d="M39.6 121.6A2.4 2.1 24 1 0 35.1 119.5A2.4 2.1 24 1 0 39.6 121.6ZM69.3 122.1A2.8 2 164 1 0 74.6 120.6A2.8 2 164 1 0 69.3 122.1ZM90.4 139.9A2.4 1.9 135 1 0 93.8 136.6A2.4 1.9 135 1 0 90.4 139.9ZM106.4 157.5A2.9 2 137 1 0 110.7 153.5A2.9 2 137 1 0 106.4 157.5ZM13.9 164.2A3 2.4 116 1 0 16.5 158.9A3 2.4 116 1 0 13.9 164.2ZM88.9 178.1A2.4 2.1 26 1 0 84.7 176A2.4 2.1 26 1 0 88.9 178.1ZM60.9 232.8A2.7 2.4 82 1 0 60.2 227.4A2.7 2.4 82 1 0 60.9 232.8ZM103 231.7A2.7 2 31 1 0 98.4 228.9A2.7 2 31 1 0 103 231.7Z" fill="rgb(90, 60, 195)" fill-opacity="0.90"/>
<path d="M43.9 118.8A2.9 2.1 161 1 0 49.4 116.9A2.9 2.1 161 1 0 43.9 118.8ZM84.6 122.5A2.9 1.8 49 1 0 80.9 118.1A2.9 1.8 49 1 0 84.6 122.5ZM76 182.4A2.8 1.8 62 1 0 73.4 177.4A2.8 1.8 62 1 0 76 182.4ZM110.1 192.3A2.2 2.2 81 1 0 109.4 187.9A2.2 2.2 81 1 0 110.1 192.3ZM5.1 195.6A2.5 1.8 78 1 0 4.1 190.6A2.5 1.8 78 1 0 5.1 195.6ZM47.2 196.6A2.7 1.9 154 1 0 52.1 194.3A2.7 1.9 154 1 0 47.2 196.6ZM62.7 199.5A2.4 2.1 23 1 0 58.3 197.6A2.4 2.1 23 1 0 62.7 199.5ZM66.4 212.9A2.7 2.4 133 1 0 70 209A2.7 2.4 133 1 0 66.4 212.9Z" fill="rgb(90, 60, 210)" fill-opacity="0.90"/>
<path d="M88.4 123.8A2.8 2 130 1 0 92.1 119.5A2.8 2 130 1 0 88.4 123.8ZM59.7 129.7A2.2 2 62 1 0 57.7 125.8A2.2 2 62 1 0 59.7 129.7ZM10.8 149.9A2.8 2.2 127 1 0 14.2 145.4A2.8 2.2 127 1 0 10.8 149.9ZM51.6 152.2A2.2 2.1 172 1 0 56 151.6A2.2 2.1 172 1 0 51.6 152.2ZM32.8 165.7A2.3 2.2 120 1 0 35.1 161.7A2.3 2.2 120 1 0 32.8 165.7ZM8.5 189.5A2.6 2.3 124 1 0 11.5 185.3A2.6 2.3 124 1 0 8.5 189.5ZM20.6 198.8A3 1.8 125 1 0 24.1 194A3 1.8 125 1 0 20.6 198.8ZM92.7 205.7A2.2 2.4 48 1 0 89.7 202.4A2.2 2.4 48 1 0 92.7 205.7ZM119 239.4A3 1.9 36 1 0 114.2 235.9A3 1.9 36 1 0 119 239.4Z" fill="rgb(75, 45, 210)" fill-opacity="0.90"/>
<path d="M100.1 119.6A2.3 2.1 33 1 0 96.3 117.1A2.3 2.1 33 1 0 100.1 119.6ZM105.5 171.9A2.3 2.2 167 1 0 110 171A2.3 2.2 167 1 0 105.5 171.9ZM77.7 223.5A2.9 2 149 1 0 82.6 220.6A2.9 2 149 1 0 77.7 223.5ZM20.7 229.7A2.6 2 146 1 0 25 226.8A2.6 2 146 1 0 20.7 229.7Z" fill="rgb(90, 60, 195)" fill-opacity="0.80"/>
<path d="M107.3 120.9A2.3 2 144 1 0 110.9 118.3A2.3 2 144 1 0 107.3 120.9ZM43 131.3A2.9 1.9 70 1 0 41.1 125.8A2.9 1.9 70 1 0 43 131.3ZM88.1 154.8A2.3 2.1 147 1 0 92.1 152.3A2.3 2.1 147 1 0 88.1 154.8ZM0.5 181.2A2.6 2.1 166 1 0 5.5 180A2.6 2.1 166 1 0 0.5 181.2ZM67.6 183.4A2.4 2.3 36 1 0 63.7 180.5A2.4 2.3 36 1 0 67.6 183.4ZM102 180.6A2.9 2.3 159 1 0 107.4 178.6A2.9 2.3 159 1 0 102 180.6ZM108.1 195.3A2.9 2.3 6 1 0 102.3 194.7A2.9 2.3 6 1 0 108.1 195.3ZM21.1 205.2A2.8 2.4 83 1 0 20.5 199.7A2.8 2.4 83 1 0 21.1 205.2ZM114.6 215.1A2.6 2.4 68 1 0 112.7 210.2A2.6 2.4 68 1 0 114.6 215.1ZM92.5 237.5A3 2 15 1 0 86.8 235.9A3 2 15 1 0 92.5 237.5Z" fill="rgb(90, 45, 180)" fill-opacity="0.80"/>
<path d="M112.4 120.3A2.4 1.9 159 1 0 116.9 118.6A2.4 1.9 159 1 0 112.4 120.3ZM39.5 157A2.3 2.3 64 1 0 37.5 152.8A2.3 2.3 64 1 0 39.5 157ZM36.9 189.5A2.4 2 33 1 0 32.8 186.8A2.4 2 33 1 0 36.9 189.5ZM18.5 227.7A2.3 1.8 96 1 0 19 223.1A2.3 1.8 96 1 0 18.5 227.7ZM60.2 237.4A2.6 2.1 168 1 0 65.2 236.4A2.6 2.1 168 1 0 60.2 237.4ZM75.1 240.3A2.6 1.7 90 1 0 75.1 235A2.6 1.7 90 1 0 75.1 240.3ZM85.5 240A3 2.1 33 1 0 80.5 236.8A3 2.1 33 1 0 85.5 240ZM112 236.2A2.6 2.3 6 1 0 106.9 235.6A2.6 2.3 6 1 0 112 236.2Z" fill="rgb(75, 45, 180)" fill-opacity="0.90"/>
<path d="M12.6 131.1A2.2 2 68 1 0 11 127A2.2 2 68 1 0 12.6 131.1ZM33 130.4A2.3 2 21 1 0 28.7 128.7A2.3 2 21 1 0 33 130.4ZM68.2 149.5A2.9 2.2 67 1 0 66 144.1A2.9 2.2 67 1 0 68.2 149.5ZM100.6 147.3A2.5 2.1 157 1 0 105.2 145.4A2.5 2.1 157 1 0 100.6 147.3ZM46.8 162.5A2.4 2.1 152 1 0 51.1 160.3A2.4 2.1 152 1 0 46.8 162.5ZM50.8 173.1A2.9 1.9 119 1 0 53.7 168.1A2.9 1.9 119 1 0 50.8 173.1ZM69.4 172.8A2.6 2.3 155 1 0 74.1 170.7A2.6 2.3 155 1 0 69.4 172.8ZM108.7 223.9A2.9 2.2 90 1 0 108.8 218.1A2.9 2.2 90 1 0 108.7 223.9Z" fill="rgb(75, 45, 195)" fill-opacity="0.90"/>
<path d="M26.3 130.5A2.7 1.7 44 1 0 22.4 126.8A2.7 1.7 44 1 0 26.3 130.5ZM85.2 129.9A2.2 2 85 1 0 84.8 125.6A2.2 2 85 1 0 85.2 129.9ZM33.8 140.3A2.4 2 91 1 0 33.9 135.5A2.4 2 91 1 0 33.8 140.3ZM100.9 139.8A2.2 2.4 41 1 0 97.6 136.9A2.2 2.4 41 1 0 100.9 139.8ZM24 171.2A2.8 1.9 34 1 0 19.4 168A2.8 1.9 34 1 0 24 171.2ZM36.4 174.5A3 2.2 107 1 0 38.2 168.8A3 2.2 107 1 0 36.4 174.5ZM39.1 198.4A2.8 1.8 83 1 0 38.5 192.9A2.8 1.8 83 1 0 39.1 198.4ZM65.7 198.9A2.5 2 132 1 0 69 195.2A2.5 2 132 1 0 65.7 198.9ZM9.6 206.1A2.7 2 100 1 0 10.5 200.8A2.7 2 100 1 0 9.6 206.1ZM26.2 206.4A2.9 1.9 134 1 0 30.3 202.2A2.9 1.9 134 1 0 26.2 206.4ZM103.5 205.2A2.3 1.9 15 1 0 99 203.9A2.3 1.9 15 1 0 103.5 205.2ZM11.1 214.7A2.9 1.9 149 1 0 16 211.8A2.9 1.9 149 1 0 11.1 214.7ZM120 224.5A2.5 1.7 37 1 0 116.1 221.5A2.5 1.7 37 1 0 120 224.5ZM90.8 232.8A2.4 2.2 13 1 0 86.1 231.6A2.4 2.2 13 1 0 90.8 232.8Z" fill="rgb(90, 45, 195)" fill-opacity="0.80"/>
<path d="M50.7 133.4A2.9 1.8 92 1 0 51 127.7A2.9 1.8 92 1 0 50.7 133.4ZM104.2 130.5A2.7 1.9 103 1 0 105.4 125.3A2.7 1.9 103 1 0 104.2 130.5ZM43.7 140.5A2.4 2 125 1 0 46.6 136.6A2.4 2 125 1 0 43.7 140.5ZM84.3 138.5A2.8 2.4 43 1 0 80.2 134.6A2.8 2.4 43 1 0 84.3 138.5ZM92.8 146.9A2.6 2.4 146 1 0 97.1 144A2.6 2.4 146 1 0 92.8 146.9ZM12.9 174.6A2.5 2.2 24 1 0 8.4 172.6A2.5 2.2 24 1 0 12.9 174.6ZM84.8 173.4A2.9 2.1 44 1 0 80.6 169.3A2.9 2.1 44 1 0 84.8 173.4ZM41.6 178.6A2.2 1.9 15 1 0 37.2 177.3A2.2 1.9 15 1 0 41.6 178.6ZM16.9 187.3A2.8 2.3 157 1 0 22 185.1A2.8 2.3 157 1 0 16.9 187.3ZM74.5 185.6A2.4 2.4 38 1 0 70.7 182.6A2.4 2.4 38 1 0 74.5 185.6ZM97.1 201.6A2.7 2.2 69 1 0 95.1 196.4A2.7 2.2 69 1 0 97.1 201.6ZM111.7 198.3A2.2 1.9 168 1 0 116.1 197.4A2.2 1.9 168 1 0 111.7 198.3ZM56.6 206.1A2.7 1.7 63 1 0 54.2 201.2A2.7 1.7 63 1 0 56.6 206.1ZM29 219.8A2.7 2.2 2 1 0 23.7 219.6A2.7 2.2 2 1 0 29 219.8Z" fill="rgb(75, 45, 195)" fill-opacity="0.80"/>
<path d="M66.1 129.9A2.5 2 168 1 0 70.9 128.9A2.5 2 168 1 0 66.1 129.9ZM113.8 132.7A2.8 1.8 118 1 0 116.4 127.8A2.8 1.8 118 1 0 113.8 132.7ZM82.9 147.4A2.3 2.4 147 1 0 86.9 144.9A2.3 2.4 147 1 0 82.9 147.4ZM46.4 155.1A2.4 2.2 158 1 0 50.9 153.3A2.4 2.2 158 1 0 46.4 155.1ZM71.6 207.6A2.7 2 119 1 0 74.2 203A2.7 2 119 1 0 71.6 207.6Z" fill="rgb(90, 60, 180)" fill-opacity="0.90"/>
<path d="M79.5 129.8A2.8 1.8 73 1 0 77.8 124.3A2.8 1.8 73 1 0 79.5 129.8ZM36.4 144.1A2.6 2.2 17 1 0 31.5 142.6A2.6 2.2 17 1 0 36.4 144.1ZM67.6 158.5A2.2 1.8 14 1 0 63.4 157.4A2.2 1.8 14 1 0 67.6 158.5ZM82.5 207A2.7 2.2 74 1 0 81 201.8A2.7 2.2 74 1 0 82.5 207ZM70.5 222.7A2.8 2 40 1 0 66.2 219.1A2.8 2 40 1 0 70.5 222.7ZM98.9 223.3A2.2 2.2 156 1 0 102.9 221.5A2.2 2.2 156 1 0 98.9 223.3ZM37.9 233.1A2.4 2.1 63 1 0 35.7 228.8A2.4 2.1 63 1 0 37.9 233.1Z" fill="rgb(90, 60, 180)" fill-opacity="0.80"/>
<path d="M12.6 139.7A2.8 2.2 39 1 0 8.3 136.2A2.8 2.2 39 1 0 12.6 139.7ZM24.2 166.1A2.8 2.2 83 1 0 23.6 160.5A2.8 2.2 83 1 0 24.2 166.1ZM67.8 164.5A2.2 1.9 72 1 0 66.5 160.2A2.2 1.9 72 1 0 67.8 164.5ZM119.7 172.6A2.4 2 20 1 0 115.3 170.9A2.4 2 20 1 0 119.7 172.6ZM55.2 181.4A2.9 1.9 132 1 0 59.3 177.1A2.9 1.9 132 1 0 55.2 181.4ZM12.7 198.9A2.8 2.4 124 1 0 15.8 194.3A2.8 2.4 124 1 0 12.7 198.9ZM37.2 206.4A2.5 2.2 6 1 0 32.2 205.9A2.5 2.2 6 1 0 37.2 206.4ZM61.4 205.4A2.3 1.9 70 1 0 59.9 201.2A2.3 1.9 70 1 0 61.4 205.4ZM102.2 213.2A2.4 1.8 68 1 0 100.4 208.8A2.4 1.8 68 1 0 102.2 213.2ZM48.6 229.2A2.3 1.7 178 1 0 53.1 229.1A2.3 1.7 178 1 0 48.6 229.2ZM14.5 240A2.4 2.1 139 1 0 18 236.9A2.4 2.1 139 1 0 14.5 240Z" fill="rgb(75, 60, 195)" fill-opacity="0.90"/>
<path d="M22.8 135.5A2.9 2 2 1 0 17.1 135.2A2.9 2 2 1 0 22.8 135.5ZM19.3 157.9A2.5 2.3 51 1 0 16.2 153.9A2.5 2.3 51 1 0 19.3 157.9ZM97.8 165.1A2.6 2.2 23 1 0 92.9 163.1A2.6 2.2 23 1 0 97.8 165.1ZM49.1 191.3A2.5 1.8 64 1 0 47 186.7A2.5 1.8 64 1 0 49.1 191.3ZM3.6 230.3A2.6 1.7 147 1 0 8 227.5A2.6 1.7 147 1 0 3.6 230.3ZM46.2 240.4A2.6 2.1 84 1 0 45.7 235.2A2.6 2.1 84 1 0 46.2 240.4Z" fill="rgb(90, 45, 195)" fill-opacity="0.90"/>
<path d="M25.8 138.6A2.6 2.2 173 1 0 31 138A2.6 2.2 173 1 0 25.8 138.6ZM30 173.5A2.7 2.1 45 1 0 26.2 169.6A2.7 2.1 45 1 0 30 173.5Z" fill="rgb(90, 45, 210)" fill-opacity="0.90"/>
<path d="M62.2 137.7A2.4 2.2 138 1 0 65.8 134.5A2.4 2.2 138 1 0 62.2 137.7ZM116.8 140.5A2.4 2.1 48 1 0 113.5 136.9A2.4 2.1 48 1 0 116.8 140.5ZM84 154.9A2.6 1.9 51 1 0 80.8 150.8A2.6 1.9 51 1 0 84 154.9ZM101 158.4A3 2 64 1 0 98.5 153.1A3 2 64 1 0 101 158.4ZM110.9 231.4A2.2 2.3 167 1 0 115.2 230.4A2.2 2.3 167 1 0 110.9 231.4Z" fill="rgb(90, 45, 210)" fill-opacity="0.80"/>
<path d="M75.5 137.6A2.2 2.3 11 1 0 71.2 136.8A2.2 2.3 11 1 0 75.5 137.6ZM97.5 182.9A3 1.9 46 1 0 93.4 178.6A3 1.9 46 1 0 97.5 182.9ZM9.7 214.5A2.7 2.1 27 1 0 4.9 211.9A2.7 2.1 27 1 0 9.7 214.5Z" fill="rgb(90, 60, 165)" fill-opacity="0.90"/>
<path d="M21.3 149.2A2.7 1.9 86 1 0 20.9 143.9A2.7 1.9 86 1 0 21.3 149.2ZM80.3 188.3A2.7 2.2 123 1 0 83.3 183.8A2.7 2.2 123 1 0 80.3 188.3ZM83.6 215.7A2.5 1.8 101 1 0 84.6 210.7A2.5 1.8 101 1 0 83.6 215.7Z" fill="rgb(75, 45, 165)" fill-opacity="0.80"/>
<path d="M43.2 144.1A2.7 2 6 1 0 37.9 143.5A2.7 2 6 1 0 43.2 144.1ZM11.9 238.4A2.6 1.8 5 1 0 6.7 237.9A2.6 1.8 5 1 0 11.9 238.4Z" fill="rgb(75, 45, 165)" fill-opacity="0.90"/>
<path d="M51.7 150.5A2.8 1.7 60 1 0 49 145.5A2.8 1.7 60 1 0 51.7 150.5Z" fill="rgb(90, 45, 165)" fill-opacity="0.90"/>
<path d="M78.3 149A2.8 2 112 1 0 80.4 143.8A2.8 2 112 1 0 78.3 149ZM47 173A2.2 2.1 58 1 0 44.7 169.2A2.2 2.1 58 1 0 47 173ZM60.2 172.4A2.6 1.8 149 1 0 64.6 169.7A2.6 1.8 149 1 0 60.2 172.4ZM31.5 231.2A2.8 2.2 82 1 0 30.8 225.7A2.8 2.2 82 1 0 31.5 231.2ZM25.8 240.6A2.5 2.1 115 1 0 27.9 236.1A2.5 2.1 115 1 0 25.8 240.6Z" fill="rgb(75, 45, 210)" fill-opacity="0.80"/>
<path d="M11.8 152.6A2.7 2.4 9 1 0 6.5 151.8A2.7 2.4 9 1 0 11.8 152.6ZM115.8 156.9A2.5 1.8 114 1 0 117.9 152.3A2.5 1.8 114 1 0 115.8 156.9ZM93 173.1A3 2.4 46 1 0 88.9 168.9A3 2.4 46 1 0 93 173.1ZM23.5 181A2.8 1.9 72 1 0 21.9 175.7A2.8 1.9 72 1 0 23.5 181ZM117.7 191.8A2.6 2.3 84 1 0 117.2 186.6A2.6 2.3 84 1 0 117.7 191.8ZM48.8 212.6A2.3 1.8 100 1 0 49.7 208A2.3 1.8 100 1 0 48.8 212.6ZM56.9 214A2.6 2.2 132 1 0 60.4 210.2A2.6 2.2 132 1 0 56.9 214ZM96.9 214A2.6 2.4 23 1 0 92.2 211.9A2.6 2.4 23 1 0 96.9 214ZM34.3 222.1A2.4 2.3 152 1 0 38.6 219.9A2.4 2.3 152 1 0 34.3 222.1Z" fill="rgb(75, 45, 180)" fill-opacity="0.80"/>
<path d="M29.2 153.6A2.6 2.2 40 1 0 25.3 150.3A2.6 2.2 40 1 0 29.2 153.6Z" fill="rgb(90, 45, 165)" fill-opacity="0.80"/>
<path d="M74.1 153.2A2.9 2.4 1 1 0 68.4 153.1A2.9 2.4 1 1 0 74.1 153.2Z" fill="rgb(75, 60, 165)" fill-opacity="0.80"/>
<path d="M3 162.3A2.3 2.3 59 1 0 0.6 158.3A2.3 2.3 59 1 0 3 162.3ZM43.4 164.6A2.4 1.8 68 1 0 41.6 160.1A2.4 1.8 68 1 0 43.4 164.6ZM98.7 173.1A2.5 1.8 93 1 0 99 168.1A2.5 1.8 93 1 0 98.7 173.1ZM43.7 202.7A2.3 2 177 1 0 48.3 202.5A2.3 2 177 1 0 43.7 202.7ZM20.7 214.9A2.4 2 133 1 0 23.9 211.4A2.4 2 133 1 0 20.7 214.9ZM99.8 228.2A2.8 1.9 10 1 0 94.4 227.2A2.8 1.9 10 1 0 99.8 228.2Z" fill="rgb(75, 60, 210)" fill-opacity="0.90"/>
<path d="M107.6 162.1A2.8 1.9 11 1 0 102.1 161A2.8 1.9 11 1 0 107.6 162.1ZM110.5 206.9A2.3 2.4 48 1 0 107.4 203.4A2.3 2.4 48 1 0 110.5 206.9ZM75.6 219.6A2.4 1.9 144 1 0 79.6 216.7A2.4 1.9 144 1 0 75.6 219.6ZM44.3 222A2.6 2.4 163 1 0 49.2 220.5A2.6 2.4 163 1 0 44.3 222ZM57.7 239.9A2.4 2.1 32 1 0 53.6 237.2A2.4 2.1 32 1 0 57.7 239.9Z" fill="rgb(75, 60, 195)" fill-opacity="0.80"/>
<path d="M109.1 165.8A2.8 2.3 173 1 0 114.7 165.2A2.8 2.3 173 1 0 109.1 165.8ZM30.7 180.3A2.6 2 131 1 0 34.2 176.4A2.6 2 131 1 0 30.7 180.3ZM63.3 190A2.6 1.9 78 1 0 62.3 184.8A2.6 1.9 78 1 0 63.3 190Z" fill="rgb(75, 60, 210)" fill-opacity="0.80"/>
<path d="M40.6 216.2A2.5 2 37 1 0 36.6 213.2A2.5 2 37 1 0 40.6 216.2Z" fill="rgb(90, 60, 210)" fill-opacity="0.80"/>
</g>
</g>
<g clip-path="url(#cq1)">
<rect x="104.4" y="129" width="89.9" height="100.6" fill="#0a0814"/>
<g filter="url(#bl4)">
<path d="M172.5,194.8 L167.5,189.3 L164.6,189.2 L161.6,193.2 L162.5,196.6 L167.4,196.3Z" fill="rgb(67,137,149)"/>
<path d="M101.6,171.6 L94,182.5 L74.5,183.2 L94.6,170.5Z" fill="rgb(62,127,129)"/>
<path d="M104.7,204.8 L106.7,202.4 L105.5,200.3 L55,198.9 L55.1,206 L58.7,220.8 L62.8,224.4 L89.3,215.6Z" fill="rgb(45,58,123)"/>
<path d="M196.3,213.8 L186.4,217.8 L181.3,210.2 L186.5,207.7 L188.5,206.3Z" fill="rgb(115,52,121)"/>
<path d="M160.5,193.5 L155.8,192.1 L155.8,189.8 L160.1,183 L166,188.4Z" fill="rgb(83,47,124)"/>
<path d="M108.7,186.1 L110.9,175.1 L119.5,176.2 L120.6,176.8 L110.2,187.2Z" fill="rgb(103,112,110)"/>
<path d="M170.4,231.9 L184.9,249.1 L188.7,234.8 L179.6,226 L179.9,226.8Z" fill="rgb(93,87,109)"/>
<path d="M122,186.5 L111,189.2 L111.1,187.5 L120.5,175.1 L126.3,177.3 L128.2,179.1Z" fill="rgb(12,10,18)"/>
<path d="M140.7,189.7 L133.3,189.9 L136.3,175.7 L139.2,177.1 L138.3,175.9 L141.5,180.8 L146.3,184.5 L141.5,190.1Z" fill="rgb(41,54,111)"/>
<path d="M135.3,232.8 L144.2,247.3 L155.2,231.9 L146.5,227.6 L143.2,229.3Z" fill="rgb(111,105,109)"/>
<path d="M186.8,252.9 L206.5,232 L205.1,260 L192.5,263.2 L186.1,261.8Z" fill="rgb(66,94,66)"/>
<path d="M199.1,203.2 L200,194.4 L193.2,196.6 L198.3,203.8Z" fill="rgb(12,10,18)"/>
<path d="M124.5,169.5 L126.3,169 L118.5,161.7 L116.4,161.9 L120.7,171.5Z" fill="rgb(69,50,138)"/>
<path d="M112.7,134.4 L123.1,126 L127.6,126.4 L127,135.6 L113.7,138.4Z" fill="rgb(55,107,116)"/>
<path d="M139.1,129.7 L134.6,125.4 L131.9,124 L133.2,124.3 L141.5,124.5 L141.7,127Z" fill="rgb(49,95,115)"/>
<path d="M93.9,144.8 L61.4,141.2 L52.3,155.2 L51.3,159.3 L97.2,153.6 L101,148.1Z" fill="rgb(66,50,112)"/>
<path d="M123.4,122.8 L129.1,123.5 L129.6,122.6 L131,121.4 L130.7,121.7 L133.6,89 L127.2,88.1 L125.2,88.2 L119.8,120.4Z" fill="rgb(88,80,85)"/>
<path d="M195.8,229.9 L195.8,227.6 L209.4,218.7 L237,214.7 L236.9,221.5 L207.7,231.5Z" fill="rgb(63,55,133)"/>
<path d="M186.5,139.3 L184.3,146.1 L191,150.7 L199.2,140.5 L190.7,137.3Z" fill="rgb(92,118,102)"/>
<path d="M144,136.9 L148.3,132 L151.7,130.2 L163.8,136.7 L164.8,136.6 L152.8,141.6Z" fill="rgb(64,129,56)"/>
<path d="M142.1,180.8 L156.8,172.6 L150.7,169.5 L137.7,176.4Z" fill="rgb(112,87,122)"/>
<path d="M199.4,204.5 L201,196.1 L206.2,189.4 L205.8,190.6 L238.1,188.6 L234.9,201.6 L204.5,205Z" fill="rgb(78,91,86)"/>
<path d="M163.9,118.1 L153.1,106.1 L152.4,110.8 L152,117.8 L151.5,118.4 L161.9,120.4Z" fill="rgb(118,130,56)"/>
<path d="M197.3,128 L201.8,140.6 L203.3,139.4 L206.8,121.5 L197.4,126.4Z" fill="rgb(81,41,126)"/>
<path d="M205.7,256.3 L214.1,256.3 L228.9,243.2 L234.1,226.4 L233.3,221.5 L207.4,233.3 L207.6,233.9Z" fill="rgb(36,56,117)"/>
<path d="M95.7,185.5 L105.2,189.1 L106.2,190.2 L107.8,193.8 L105.8,200.1 L56.3,196.3 L56.9,190.5 L56.6,188.8 L76.4,185Z" fill="rgb(50,53,124)"/>
<path d="M103.6,239.7 L110.5,234.1 L107.6,231.8 L94.7,235.4Z" fill="rgb(56,129,120)"/>
<path d="M169.4,143.5 L181.7,136 L187.4,138.2 L183.5,146.7 L169.6,147.4Z" fill="rgb(56,51,84)"/>
<path d="M108.9,221.2 L105.7,207.7 L90.4,218.1 L106.4,223.4Z" fill="rgb(86,101,87)"/>
<path d="M131.3,140.1 L126.1,136.1 L127.9,123.9 L131.1,123.1 L131.9,126.6Z" fill="rgb(61,49,113)"/>
<path d="M112.1,202.3 L127,203.5 L131.8,191.9 L120.5,190.2 L111.2,191.8 L110.3,198.8 L110.9,202.6Z" fill="rgb(12,10,18)"/>
<path d="M165.9,214.1 L157.1,230.8 L157.6,228 L148.9,226.7 L147.2,217.1 L159,210.1 L161.7,211.5Z" fill="rgb(112,103,130)"/>
<path d="M94.2,144.1 L59.8,138.9 L60.6,134.9 L71.8,121.5 L84.6,109 L95.1,118.4 L101.6,126.7Z" fill="rgb(117,105,130)"/>
<path d="M144.7,127.2 L149.1,120.5 L139.5,123.5 L142.7,128Z" fill="rgb(98,93,117)"/>
<path d="M158.8,195.5 L155.7,192.8 L148.9,196.4 L148.3,198.3 L158.5,204.3 L159.7,204.5 L160.8,197.3Z" fill="rgb(113,105,43)"/>
<path d="M102,170.9 L107.3,170.6 L109.1,177.5 L105.3,185.7 L96.4,180.9Z" fill="rgb(70,88,126)"/>
<path d="M133.3,190.9 L132,192.8 L121.4,188.5 L128.6,177 L135.8,176.8Z" fill="rgb(85,93,99)"/>
<path d="M148.3,199.2 L139.7,206.4 L158.2,205.8Z" fill="rgb(111,54,124)"/>
<path d="M130.6,220.6 L130.7,216.6 L122.8,220.1 L121.7,227.3 L130.7,228.8Z" fill="rgb(75,110,83)"/>
<path d="M140.1,190.8 L133.4,208.2 L135.3,209.3 L138.4,207.5 L146.6,197.5 L148,198.5 L140.4,189.8Z" fill="rgb(114,114,109)"/>
<path d="M144.8,225.3 L145.1,225.4 L145.5,217.1 L135,214.1 L132.9,216.7 L134,221.2Z" fill="rgb(45,93,40)"/>
<path d="M103.9,240.1 L110.3,269.5 L107.2,269 L86.9,267.4 L71,255.3 L64.8,240.1 L92.1,234.4Z" fill="rgb(12,10,18)"/>
<path d="M162.4,234.2 L164.7,266.5 L152.2,268.2 L143.9,267.4 L147,248 L158.5,232.3 L159.1,233.6Z" fill="rgb(91,36,108)"/>
<path d="M101.4,170.4 L107.9,166.4 L108.8,164.5 L97.2,159.7 L92.9,162.9 L96,168.3Z" fill="rgb(92,113,111)"/>
<path d="M152,148.5 L153.5,142 L163.8,138.2 L164.9,137.7 L167.5,143.8 L169.6,148.7 L165.6,152.5 L155.9,150.9Z" fill="rgb(71,126,64)"/>
<path d="M93,235.7 L64.1,240.1 L62,237.9 L61.1,226 L89.2,216.8 L107.3,223.7 L108.7,229.8Z" fill="rgb(77,119,97)"/>
<path d="M156.9,151.1 L165.6,153.6 L166,157.3 L151.9,167 L146.3,159.9Z" fill="rgb(85,53,145)"/>
<path d="M194.8,215.7 L185.8,216.9 L185.8,220.9 L194.6,224.2 L196.4,218.6 L195.8,215.3Z" fill="rgb(101,109,113)"/>
<path d="M130.9,139.7 L116.9,146.8 L112,143.7 L112.4,140.4 L124.9,135.8 L130.1,140.2Z" fill="rgb(110,96,29)"/>
<path d="M94.9,144.8 L101.1,127.9 L111.3,135.9 L111,138.5 L109.4,145.4 L99.9,147.3Z" fill="rgb(75,123,69)"/>
<path d="M125.1,168.9 L125.3,168.8 L131.8,167.7 L135.5,174.2 L135.7,175.6 L128.8,177.3 L126.7,175.9 L125.1,170.9Z" fill="rgb(98,113,30)"/>
<path d="M138.1,157.8 L135,155.9 L133.7,167.6 L138.4,174.2 L137.6,175.2 L148.4,167.4 L150.6,165.1 L144.6,160.4Z" fill="rgb(71,56,101)"/>
<path d="M168.1,122 L164.7,129.8 L158.7,126.4 L161.6,121.6Z" fill="rgb(57,57,118)"/>
<path d="M103,239 L112.4,268.5 L110,270.7 L118.4,244.2 L114.2,233.2 L112.2,232.4Z" fill="rgb(88,91,102)"/>
<path d="M96.2,158.4 L94.8,155.3 L59.2,157.5 L59.2,166.1 L92.4,161.8Z" fill="rgb(83,55,127)"/>
<path d="M191.7,130.2 L196,127.8 L196.9,125.2 L185.9,123.1 L185.6,129.4Z" fill="rgb(49,111,111)"/>
<path d="M150,147 L153.3,141.9 L144.3,137.4 L138.8,137.3 L137.9,142.6 L133.3,154.1 L135.1,154.6 L137.1,155.5Z" fill="rgb(117,130,57)"/>
<path d="M161.8,123 L158.4,126.1 L153.8,125.1 L150.6,119.1 L160.9,121.9Z" fill="rgb(99,43,54)"/>
<path d="M181.4,194.4 L178.1,184.2 L181.8,182.4 L190.9,187.3 L184.9,195.6Z" fill="rgb(12,10,18)"/>
<path d="M171.7,215 L180.2,225.6 L178.7,225.6 L185.8,221.7 L186,217.5 L181.6,211.1 L177.8,210.5Z" fill="rgb(66,104,122)"/>
<path d="M189.7,208 L184.9,206.5 L186.6,194.6 L192,196 L198.2,204.1Z" fill="rgb(67,113,60)"/>
<path d="M134.4,155.4 L118.6,155.6 L117.8,159.8 L125.7,168.2 L133.6,167.8 L133.6,155.7Z" fill="rgb(51,81,104)"/>
<path d="M110,222 L120.7,219.6 L111.2,203.6 L108.4,202.6 L107.9,204.6Z" fill="rgb(131,61,120)"/>
<path d="M95.5,170.6 L90.8,162.7 L55.1,169.5 L54.7,172.4 L57,186.2 L74.5,182.8Z" fill="rgb(64,51,101)"/>
<path d="M130.8,120.9 L134.4,92.6 L146.5,90 L151.6,92.6 L148.9,108.6 L148.2,110.5Z" fill="rgb(105,125,45)"/>
<path d="M150.2,169.1 L150.3,169.1 L156.7,174.7 L157.8,176.4 L161,174.9 L168.4,174.1 L170.5,169.6 L172.7,164.8 L166.4,155.8Z" fill="rgb(61,80,120)"/>
<path d="M159.5,127.2 L153.4,125.5 L151.5,128.6 L163.7,135.2 L165,130.7Z" fill="rgb(97,42,127)"/>
<path d="M190.1,135.9 L200.5,139.7 L200.3,140.5 L197.8,128.2 L192.5,130.5Z" fill="rgb(46,47,86)"/>
<path d="M186.7,138.3 L181.8,135 L183.7,131.6 L182,129 L191.7,131.6 L190.3,136.8Z" fill="rgb(89,46,136)"/>
<path d="M151.8,147.8 L138.5,154.1 L148.1,159.1 L154.6,151.9Z" fill="rgb(83,91,88)"/>
<path d="M114.8,157.9 L116.4,156.6 L111.8,148.8 L109.5,147.3 L100.8,148.8 L98.6,155.3 L98.1,158.5 L108.1,163.1 L114.6,161.6Z" fill="rgb(12,10,18)"/>
<path d="M152.9,189.4 L146.7,184.9 L147.7,186 L142,191 L148.2,196.4 L154.3,192.5Z" fill="rgb(83,31,127)"/>
<path d="M186.8,252.1 L184.1,249.1 L190.2,234 L195.4,231 L208.6,231.2 L207.5,233.4Z" fill="rgb(82,47,123)"/>
<path d="M188.5,194.5 L192.2,196.8 L198.4,193.9 L204.8,188.7 L195.9,185.8 L191.4,187.4 L188.5,196.6Z" fill="rgb(49,66,146)"/>
<path d="M167.9,214 L158.5,229.5 L163.5,231.9 L168.8,231.9 L179.1,225.6 L170.2,213.6Z" fill="rgb(62,130,133)"/>
<path d="M182.1,251 L183.1,248.5 L169.8,235 L163.5,234.1 L166.9,264.8 L170.7,265.3 L182.5,259.5Z" fill="rgb(83,95,152)"/>
<path d="M188.5,177.7 L180.7,181.8 L191.7,187.7 L195.4,184.9 L191.5,174.2Z" fill="rgb(120,99,121)"/>
<path d="M169,122.2 L164.2,131.5 L164.5,135.7 L166.4,136.4 L164,135.5 L173,132.6 L180.2,118.1 L181.3,117.8 L174.3,119.8Z" fill="rgb(12,10,18)"/>
<path d="M169.6,122.5 L160.9,120.3 L160.1,123.5 L162.8,117.3 L174.3,119.2Z" fill="rgb(84,112,100)"/>
<path d="M133.5,232.8 L145.1,228.5 L131.2,221.2 L129.3,230.9 L133.5,232.8Z" fill="rgb(12,10,18)"/>
<path d="M141.4,192.2 L134.4,206.2 L129.9,203.6 L134.4,191.7 L135.2,191.6Z" fill="rgb(129,117,43)"/>
<path d="M158.2,175.1 L157.3,174 L143.2,180.5 L146.8,183.8 L145.8,184.3Z" fill="rgb(45,120,125)"/>
<path d="M195.2,215.1 L190,207 L199.3,204.6 L200,204.5 L203.1,206.1 L196,213.4Z" fill="rgb(90,118,103)"/>
<path d="M173.9,120.4 L181.1,115.7 L191.6,91.2 L191.4,89.7 L170.8,86.1 L155.5,87.3 L153.9,105.4 L163.9,117.3Z" fill="rgb(63,49,110)"/>
<path d="M194.2,223.7 L194.7,225.4 L195,228.4 L189.3,232.4 L181.8,223.6 L185.4,219.3Z" fill="rgb(90,27,58)"/>
<path d="M147,215.2 L160.7,209.4 L160.6,205.8 L158.6,204.9 L140.1,207.4 L136.6,209.6 L135.9,211.2Z" fill="rgb(51,53,91)"/>
<path d="M156.1,188.6 L147.5,185.1 L156.9,176.8 L159.7,176.2 L160.9,182.9Z" fill="rgb(69,43,109)"/>
<path d="M167.7,212.9 L171,214.4 L176,211.1 L176.7,197.5 L173.6,200 L161.6,210.3Z" fill="rgb(83,78,104)"/>
<path d="M179.7,195.5 L171,193.4 L169.2,187.3 L176.1,184.5 L177.2,184.2 L180.3,195Z" fill="rgb(72,63,119)"/>
<path d="M119.8,172.3 L115.4,161.6 L108,165.7 L108.5,169.9 L108.5,175.1 L117.8,173.7 L118.5,174.1Z" fill="rgb(120,86,126)"/>
<path d="M194.1,173.3 L196.4,170 L200.9,169.6 L206.4,187.3 L207,185.8 L196.3,185Z" fill="rgb(35,123,127)"/>
<path d="M119.6,119.2 L124.6,89.5 L108,94.4 L89.6,104.5 L87.8,111.6 L96.5,116.7Z" fill="rgb(113,117,121)"/>
<path d="M163.7,209.4 L163.5,208 L163.1,204.5 L165.5,197.1 L168.1,198.3 L171.3,200.5Z" fill="rgb(140,117,146)"/>
<path d="M133.9,232.8 L145,250.1 L141.6,270.6 L128.7,271.7 L113.6,269.5 L118.9,244.6 L134.1,233.7Z" fill="rgb(80,111,88)"/>
<path d="M125.6,170.7 L120.3,171.9 L120.4,172.3 L124.2,169.2Z" fill="rgb(101,41,99)"/>
<path d="M205.1,141.1 L207,120.5 L222.1,104.4 L226.1,104.7 L239.9,118.1 L246.4,134.7 L242.7,145.7 L221.9,144.4Z" fill="rgb(52,70,139)"/>
<path d="M175.8,196.4 L178.2,196.1 L170.6,194.8 L168.8,195.3 L171.6,198.6Z" fill="rgb(12,10,18)"/>
<path d="M126.9,170.6 L127.1,175.9 L120.4,175.8 L119.5,174.2 L121,173.1Z" fill="rgb(53,117,135)"/>
<path d="M166.7,135.5 L171.2,132.4 L180.5,133.6 L183.4,135.3 L170.4,143.7Z" fill="rgb(103,123,108)"/>
<path d="M188.4,174.7 L171.9,169.1 L169,176.3 L175.7,184.6 L178.5,183.4 L181.7,181.9Z" fill="rgb(59,52,95)"/>
<path d="M138.3,137.8 L136,131.6 L132.5,126.7 L130.2,138.8 L132.4,138.3 L136.8,141.2Z" fill="rgb(115,114,48)"/>
<path d="M195.9,223.2 L195.5,224.6 L208.2,218.5 L196.7,217.9Z" fill="rgb(78,58,113)"/>
<path d="M206,185.6 L238.4,186.1 L239.1,183.7 L240.6,169.6 L239.3,163.7 L200,170.3Z" fill="rgb(64,81,142)"/>
<path d="M133.3,210.2 L134,208.3 L132.1,208.9 L128,204.2 L111.1,204.6 L120,217 L121.5,219.1 L129.9,216Z" fill="rgb(53,85,52)"/>
<path d="M181.7,116.9 L182.5,121.9 L183.3,129 L181.9,132.4 L172.4,132.2Z" fill="rgb(63,117,62)"/>
<path d="M112,134.6 L123.5,126.1 L119.8,121.1 L95.8,118.9 L102.5,127.3Z" fill="rgb(12,10,18)"/>
<path d="M111.5,229.6 L115.8,231 L120.6,228.8 L121,221.3 L118.5,220 L111.2,222.3 L108.3,224.5 L107.4,228.5Z" fill="rgb(12,10,18)"/>
<path d="M188.2,174.5 L170.7,170.9 L174.3,163.1 L188,159.9 L196.2,167.6 L192,172.5Z" fill="rgb(124,119,65)"/>
<path d="M197.1,214.8 L196.8,216.9 L209.5,219.6 L237.5,214.2 L241.4,205 L239.6,205.2 L206.1,206.4Z" fill="rgb(44,102,106)"/>
<path d="M153.4,126.4 L151.4,130.7 L147.5,132.3 L143.4,128.9 L148.4,120.7 L151.2,118.9 L150.8,119.3Z" fill="rgb(142,134,60)"/>
<path d="M132.3,154.5 L120.3,155.2 L115.3,148.9 L130.3,138.5 L134.9,142.1Z" fill="rgb(64,46,124)"/>
<path d="M132.7,232.9 L119.3,244.8 L114.6,233.5 L121.4,228.8 L132.4,229.7Z" fill="rgb(58,54,109)"/>
<path d="M142.1,138.3 L139.1,132.3 L140.9,126.4 L144.7,127.6 L148.5,130.5 L143.7,136.7Z" fill="rgb(107,101,49)"/>
<path d="M164.5,190.1 L161.5,182 L159.8,176.6 L167.6,174.9 L174.8,185.2 L170.3,188.9Z" fill="rgb(134,130,42)"/>
<path d="M189.7,150.9 L189.7,159.1 L220,144.1 L204.7,140.3 L200.9,141.3 L201.1,141.9Z" fill="rgb(77,73,35)"/>
<path d="M169.4,154.6 L171.2,147.6 L183,146.8 L188.9,153.8 L187.6,158.4 L188.6,158.3 L174.3,162.6 L168.4,156.6Z" fill="rgb(76,121,74)"/>
<path d="M183,116.8 L185.7,120.7 L196.9,125.4 L206.6,120.9 L220.6,104.2 L210.2,95.7 L192.1,92.3 L183.1,117.2Z" fill="rgb(100,90,48)"/>
<path d="M175.6,211.8 L180.3,210.2 L186.8,206 L186.8,196 L185.3,196.4 L180.6,195.9 L178.4,195 L176.6,197.6Z" fill="rgb(76,131,65)"/>
<path d="M147.7,120.3 L141.2,122.5 L132.1,121.7 L131.9,122.4 L150.9,111.8 L149.6,119.2Z" fill="rgb(82,102,83)"/>
<path d="M192.6,159.1 L190.7,160.2 L197.5,168.4 L199.5,168 L240.3,160.3 L242.2,153.7 L239.5,148.2 L219.4,146.1Z" fill="rgb(95,100,54)"/>
<path d="M168.9 194.3A3.1 2.1 20 1 0 163.1 192.2A3.1 2.1 20 1 0 168.9 194.3ZM93.9 177.9A2.9 1.8 20 1 0 88.5 176A2.9 1.8 20 1 0 93.9 177.9ZM83 210.3A3.5 2.2 20 1 0 76.4 208A3.5 2.2 20 1 0 83 210.3ZM190.8 212.3A3.2 1.8 20 1 0 184.8 210.1A3.2 1.8 20 1 0 190.8 212.3ZM162.9 190.5A3.4 2 20 1 0 156.4 188.2A3.4 2 20 1 0 162.9 190.5ZM116.3 181.2A2.5 1.8 20 1 0 111.6 179.4A2.5 1.8 20 1 0 116.3 181.2ZM183.2 234.6A2.6 1.8 20 1 0 178.3 232.8A2.6 1.8 20 1 0 183.2 234.6ZM123.1 183.6A3.5 2.2 20 1 0 116.6 181.3A3.5 2.2 20 1 0 123.1 183.6ZM142.5 184A3.1 1.9 20 1 0 136.7 181.9A3.1 1.9 20 1 0 142.5 184ZM147.6 234.8A2.9 2.3 20 1 0 142.2 232.8A2.9 2.3 20 1 0 147.6 234.8ZM198 254.9A2.8 2.1 20 1 0 192.7 253A2.8 2.1 20 1 0 198 254.9ZM200.2 200.4A2.8 1.7 20 1 0 195.1 198.6A2.8 1.7 20 1 0 200.2 200.4ZM123.8 167.7A2.7 1.9 20 1 0 118.7 165.8A2.7 1.9 20 1 0 123.8 167.7ZM123.9 133.3A3.3 1.9 20 1 0 117.8 131A3.3 1.9 20 1 0 123.9 133.3ZM139.5 126.7A2.7 2.3 20 1 0 134.5 124.9A2.7 2.3 20 1 0 139.5 126.7ZM78.9 151.4A2.9 2 20 1 0 73.4 149.4A2.9 2 20 1 0 78.9 151.4ZM130.5 111.9A3 2 20 1 0 124.9 109.9A3 2 20 1 0 130.5 111.9ZM216.4 224.9A2.8 1.9 20 1 0 211.2 223A2.8 1.9 20 1 0 216.4 224.9ZM193.1 143.8A3 2.1 20 1 0 187.5 141.8A3 2.1 20 1 0 193.1 143.8ZM156.9 136.6A2.8 1.7 20 1 0 151.6 134.7A2.8 1.7 20 1 0 156.9 136.6ZM149.6 175.8A3 2.1 20 1 0 144 173.8A3 2.1 20 1 0 149.6 175.8ZM215.2 197.4A2.5 1.7 20 1 0 210.5 195.7A2.5 1.7 20 1 0 215.2 197.4ZM159 116.5A3.4 2.3 20 1 0 152.6 114.1A3.4 2.3 20 1 0 159 116.5ZM204.4 132.3A3.3 2.3 20 1 0 198.2 130.1A3.3 2.3 20 1 0 204.4 132.3ZM222 239.9A3.4 2.2 20 1 0 215.5 237.5A3.4 2.2 20 1 0 222 239.9ZM88.2 192.1A3.1 1.6 20 1 0 82.3 189.9A3.1 1.6 20 1 0 88.2 192.1ZM106.5 236.1A2.5 2.1 20 1 0 101.8 234.4A2.5 2.1 20 1 0 106.5 236.1ZM181.4 143.4A3.2 1.8 20 1 0 175.3 141.2A3.2 1.8 20 1 0 181.4 143.4ZM105.1 218.4A2.4 2.3 20 1 0 100.6 216.8A2.4 2.3 20 1 0 105.1 218.4ZM132 130.8A2.5 1.8 20 1 0 127.3 129.1A2.5 1.8 20 1 0 132 130.8ZM120.9 198.4A3.4 2.1 20 1 0 114.5 196.1A3.4 2.1 20 1 0 120.9 198.4ZM159.9 220.9A3.3 1.6 20 1 0 153.6 218.6A3.3 1.6 20 1 0 159.9 220.9ZM84 128.7A3.1 1.6 20 1 0 78.2 126.6A3.1 1.6 20 1 0 84 128.7ZM146.9 125.9A3.1 2.2 20 1 0 141.1 123.8A3.1 2.2 20 1 0 146.9 125.9ZM158.5 199.4A2.9 2.1 20 1 0 153.1 197.5A2.9 2.1 20 1 0 158.5 199.4ZM106.6 178.1A2.8 1.9 20 1 0 101.4 176.2A2.8 1.9 20 1 0 106.6 178.1ZM133.4 186.3A3.4 1.9 20 1 0 127 184A3.4 1.9 20 1 0 133.4 186.3ZM151 204.6A2.4 1.9 20 1 0 146.5 203A2.4 1.9 20 1 0 151 204.6ZM130.1 223.7A3 1.6 20 1 0 124.5 221.7A3 1.6 20 1 0 130.1 223.7ZM142.9 201.2A2.8 1.7 20 1 0 137.7 199.3A2.8 1.7 20 1 0 142.9 201.2ZM142.5 221A3.1 2 20 1 0 136.6 218.9A3.1 2 20 1 0 142.5 221ZM93.3 254.6A2.5 2 20 1 0 88.5 252.8A2.5 2 20 1 0 93.3 254.6ZM158.5 251.2A3.3 1.9 20 1 0 152.3 248.9A3.3 1.9 20 1 0 158.5 251.2ZM103.9 166.5A3.4 1.9 20 1 0 97.5 164.2A3.4 1.9 20 1 0 103.9 166.5ZM164 146.2A2.6 2 20 1 0 159.2 144.4A2.6 2 20 1 0 164 146.2ZM86.9 231.2A3.4 1.6 20 1 0 80.4 228.8A3.4 1.6 20 1 0 86.9 231.2ZM159.8 158.7A2.6 2.2 20 1 0 154.9 156.9A2.6 2.2 20 1 0 159.8 158.7ZM195.1 219.6A3.1 1.8 20 1 0 189.3 217.5A3.1 1.8 20 1 0 195.1 219.6ZM124.1 142.1A3.1 2.1 20 1 0 118.3 140.1A3.1 2.1 20 1 0 124.1 142.1ZM107 140.8A2.5 2.3 20 1 0 102.2 139.1A2.5 2.3 20 1 0 107 140.8ZM132.5 173.6A3.5 2.2 20 1 0 126 171.2A3.5 2.2 20 1 0 132.5 173.6ZM143.4 166.4A2.8 2.2 20 1 0 138.2 164.5A2.8 2.2 20 1 0 143.4 166.4ZM165.6 125.8A2.5 1.7 20 1 0 161 124.1A2.5 1.7 20 1 0 165.6 125.8ZM114.4 249A2.9 1.7 20 1 0 109 247A2.9 1.7 20 1 0 114.4 249ZM83 160.8A2.8 1.9 20 1 0 77.7 158.8A2.8 1.9 20 1 0 83 160.8ZM193.8 128.1A2.7 2.1 20 1 0 188.7 126.2A2.7 2.1 20 1 0 193.8 128.1ZM144.4 147.4A3.4 2.1 20 1 0 138.1 145.1A3.4 2.1 20 1 0 144.4 147.4ZM160.4 124.2A3.5 1.9 20 1 0 153.8 121.8A3.5 1.9 20 1 0 160.4 124.2ZM186.4 189.9A3.2 1.9 20 1 0 180.4 187.7A3.2 1.9 20 1 0 186.4 189.9ZM183.2 219.2A3.1 2.2 20 1 0 177.3 217.1A3.1 2.2 20 1 0 183.2 219.2ZM192.9 202.8A2.7 1.8 20 1 0 187.7 200.9A2.7 1.8 20 1 0 192.9 202.8ZM130.2 161.5A3.1 1.8 20 1 0 124.4 159.4A3.1 1.8 20 1 0 130.2 161.5ZM114.1 211.4A2.6 1.7 20 1 0 109.2 209.6A2.6 1.7 20 1 0 114.1 211.4ZM74.4 175.2A3.4 1.6 20 1 0 68.1 172.9A3.4 1.6 20 1 0 74.4 175.2ZM145.8 103.4A2.5 2.2 20 1 0 141.1 101.7A2.5 2.2 20 1 0 145.8 103.4ZM164.2 170.8A2.8 2.1 20 1 0 158.9 168.9A2.8 2.1 20 1 0 164.2 170.8ZM161.2 130.4A2.8 2.3 20 1 0 156 128.5A2.8 2.3 20 1 0 161.2 130.4ZM199 135.9A2.9 2.1 20 1 0 193.5 133.9A2.9 2.1 20 1 0 199 135.9ZM188.7 134.7A2.9 2 20 1 0 183.3 132.7A2.9 2 20 1 0 188.7 134.7ZM150.6 154.1A2.5 1.8 20 1 0 145.9 152.4A2.5 1.8 20 1 0 150.6 154.1ZM110.6 156.2A2.7 1.8 20 1 0 105.6 154.4A2.7 1.8 20 1 0 110.6 156.2ZM151.7 191.1A3.2 1.8 20 1 0 145.6 188.9A3.2 1.8 20 1 0 151.7 191.1ZM198.2 239.5A2.9 1.9 20 1 0 192.7 237.5A2.9 1.9 20 1 0 198.2 239.5ZM196.9 192.9A2.8 2.2 20 1 0 191.6 191A2.8 2.2 20 1 0 196.9 192.9ZM170.8 225.5A3 2.3 20 1 0 165.1 223.4A3 2.3 20 1 0 170.8 225.5ZM177.3 252.3A3.4 1.9 20 1 0 170.9 250A3.4 1.9 20 1 0 177.3 252.3ZM192.7 182.4A3.3 1.7 20 1 0 186.4 180.1A3.3 1.7 20 1 0 192.7 182.4ZM173.9 128.9A3.3 1.7 20 1 0 167.7 126.6A3.3 1.7 20 1 0 173.9 128.9ZM167.9 121.4A2.5 2.1 20 1 0 163.2 119.7A2.5 2.1 20 1 0 167.9 121.4ZM137 230.1A2.6 2.1 20 1 0 132 228.3A2.6 2.1 20 1 0 137 230.1ZM137.8 198.1A2.9 2 20 1 0 132.3 196.1A2.9 2 20 1 0 137.8 198.1ZM152.8 180.5A2.7 2.2 20 1 0 147.7 178.6A2.7 2.2 20 1 0 152.8 180.5ZM199.8 209.4A2.7 1.7 20 1 0 194.7 207.5A2.7 1.7 20 1 0 199.8 209.4ZM175.4 102.6A2.9 1.7 20 1 0 170.1 100.7A2.9 1.7 20 1 0 175.4 102.6ZM192.6 226.4A2.7 1.7 20 1 0 187.5 224.5A2.7 1.7 20 1 0 192.6 226.4ZM151.6 210.2A3.3 2.3 20 1 0 145.4 207.9A3.3 2.3 20 1 0 151.6 210.2ZM159.3 183.1A3.3 2.2 20 1 0 153.1 180.8A3.3 2.2 20 1 0 159.3 183.1ZM174.1 208.8A3.2 2.2 20 1 0 168.1 206.6A3.2 2.2 20 1 0 174.1 208.8ZM178.4 191A3 2.1 20 1 0 172.8 189A3 2.1 20 1 0 178.4 191ZM116.9 171.5A3.3 2.1 20 1 0 110.6 169.2A3.3 2.1 20 1 0 116.9 171.5ZM203 179.5A3 2.1 20 1 0 197.4 177.5A3 2.1 20 1 0 203 179.5ZM106.6 106.8A2.4 1.8 20 1 0 102.1 105.2A2.4 1.8 20 1 0 106.6 106.8ZM168.8 204A3.2 2.1 20 1 0 162.9 201.9A3.2 2.1 20 1 0 168.8 204ZM133.4 254.2A2.7 2.1 20 1 0 128.3 252.4A2.7 2.1 20 1 0 133.4 254.2ZM125.9 172.2A3.5 1.7 20 1 0 119.4 169.8A3.5 1.7 20 1 0 125.9 172.2ZM229.2 127.7A3 1.7 20 1 0 223.5 125.7A3 1.7 20 1 0 229.2 127.7ZM176 197.3A3.2 1.8 20 1 0 170 195.2A3.2 1.8 20 1 0 176 197.3ZM125.6 174.9A2.8 1.9 20 1 0 120.4 173A2.8 1.9 20 1 0 125.6 174.9ZM177.4 137.2A3.2 2.3 20 1 0 171.5 135A3.2 2.3 20 1 0 177.4 137.2ZM180.5 179.4A3.2 1.7 20 1 0 174.5 177.3A3.2 1.7 20 1 0 180.5 179.4ZM137.5 136.9A3.3 2 20 1 0 131.2 134.6A3.3 2 20 1 0 137.5 136.9ZM201.4 221.9A2.5 2.2 20 1 0 196.7 220.2A2.5 2.2 20 1 0 201.4 221.9ZM229.9 177.5A2.9 1.9 20 1 0 224.5 175.5A2.9 1.9 20 1 0 229.9 177.5ZM128.7 211.9A2.6 2 20 1 0 123.8 210.1A2.6 2 20 1 0 128.7 211.9ZM183.4 127.6A3.3 2.1 20 1 0 177.3 125.4A3.3 2.1 20 1 0 183.4 127.6ZM113 126.4A2.5 2.2 20 1 0 108.4 124.7A2.5 2.2 20 1 0 113 126.4ZM117.1 226.8A2.9 1.7 20 1 0 111.5 224.8A2.9 1.7 20 1 0 117.1 226.8ZM187.6 169.1A2.9 1.8 20 1 0 182.2 167.1A2.9 1.8 20 1 0 187.6 169.1ZM221.1 212.8A3 1.6 20 1 0 215.5 210.7A3 1.6 20 1 0 221.1 212.8ZM151.8 126.2A2.5 2 20 1 0 147.1 124.5A2.5 2 20 1 0 151.8 126.2ZM129.1 148.7A2.7 1.7 20 1 0 124.1 146.9A2.7 1.7 20 1 0 129.1 148.7ZM126.8 234.9A2.9 2.2 20 1 0 121.3 232.9A2.9 2.2 20 1 0 126.8 234.9ZM146.3 133.1A3.3 1.9 20 1 0 140.1 130.8A3.3 1.9 20 1 0 146.3 133.1ZM168.8 183.8A2.5 1.9 20 1 0 164 182.1A2.5 1.9 20 1 0 168.8 183.8ZM203.4 147.1A2.5 1.8 20 1 0 198.6 145.4A2.5 1.8 20 1 0 203.4 147.1ZM182 156A3.3 2.1 20 1 0 175.8 153.7A3.3 2.1 20 1 0 182 156ZM200.2 112.7A3.2 1.7 20 1 0 194.3 110.6A3.2 1.7 20 1 0 200.2 112.7ZM183.6 202A2.5 1.8 20 1 0 179 200.3A2.5 1.8 20 1 0 183.6 202ZM145.1 120.7A3.1 2 20 1 0 139.3 118.6A3.1 2 20 1 0 145.1 120.7ZM218 159A3 1.8 20 1 0 212.4 157A3 1.8 20 1 0 218 159Z" fill="rgb(95,85,220)" fill-opacity="0.3"/>
</g>
</g>
<g clip-path="url(#cp2)">
<rect x="14" y="233" width="87.6" height="101" fill="#360510"/>
<g filter="url(#bl3)">
<ellipse cx="75.3" cy="337.5" rx="12.5" ry="3.5" transform="rotate(22 75.3 337.5)" fill="rgb(213,19,42)" fill-opacity="0.5"/>
<ellipse cx="14.4" cy="336.9" rx="12.3" ry="3.4" transform="rotate(22 14.4 336.9)" fill="rgb(165,14,33)" fill-opacity="0.5"/>
<ellipse cx="77.8" cy="283.3" rx="8.1" ry="2.3" transform="rotate(22 77.8 283.3)" fill="rgb(195,17,39)" fill-opacity="0.3"/>
<ellipse cx="47.6" cy="297" rx="11.8" ry="3.3" transform="rotate(22 47.6 297)" fill="rgb(195,17,39)" fill-opacity="0.5"/>
<ellipse cx="95.4" cy="328.2" rx="10.7" ry="3" transform="rotate(22 95.4 328.2)" fill="rgb(176,15,35)" fill-opacity="0.3"/>
<ellipse cx="65.4" cy="285.3" rx="5.4" ry="1.5" transform="rotate(22 65.4 285.3)" fill="rgb(169,15,33)" fill-opacity="0.5"/>
<ellipse cx="81.8" cy="327.6" rx="8.3" ry="2.3" transform="rotate(22 81.8 327.6)" fill="rgb(188,16,37)" fill-opacity="0.4"/>
<ellipse cx="48.5" cy="232.4" rx="9.6" ry="2.7" transform="rotate(22 48.5 232.4)" fill="rgb(203,18,40)" fill-opacity="0.4"/>
<ellipse cx="98.3" cy="330.7" rx="5.7" ry="1.6" transform="rotate(22 98.3 330.7)" fill="rgb(187,16,37)" fill-opacity="0.5"/>
<ellipse cx="49" cy="335.6" rx="8.1" ry="2.3" transform="rotate(22 49 335.6)" fill="rgb(218,19,43)" fill-opacity="0.4"/>
<ellipse cx="94.8" cy="240" rx="13.1" ry="3.6" transform="rotate(22 94.8 240)" fill="rgb(214,19,42)" fill-opacity="0.4"/>
<ellipse cx="39.1" cy="271.5" rx="6.5" ry="1.8" transform="rotate(22 39.1 271.5)" fill="rgb(178,16,35)" fill-opacity="0.4"/>
<ellipse cx="59.9" cy="280.3" rx="13.3" ry="3.7" transform="rotate(22 59.9 280.3)" fill="rgb(173,15,34)" fill-opacity="0.5"/>
<ellipse cx="92.4" cy="267.7" rx="5.9" ry="1.6" transform="rotate(22 92.4 267.7)" fill="rgb(213,19,42)" fill-opacity="0.5"/>
<ellipse cx="56.3" cy="329.9" rx="7.7" ry="2.2" transform="rotate(22 56.3 329.9)" fill="rgb(207,18,41)" fill-opacity="0.5"/>
<ellipse cx="47" cy="313.9" rx="6.4" ry="1.8" transform="rotate(22 47 313.9)" fill="rgb(180,16,36)" fill-opacity="0.4"/>
<ellipse cx="102.2" cy="312.1" rx="5.9" ry="1.6" transform="rotate(22 102.2 312.1)" fill="rgb(200,18,40)" fill-opacity="0.3"/>
<ellipse cx="47.3" cy="334.1" rx="7.9" ry="2.2" transform="rotate(22 47.3 334.1)" fill="rgb(166,14,33)" fill-opacity="0.5"/>
<ellipse cx="30.4" cy="293.1" rx="7.8" ry="2.2" transform="rotate(22 30.4 293.1)" fill="rgb(221,19,44)" fill-opacity="0.5"/>
<ellipse cx="86.5" cy="240.1" rx="8.7" ry="2.4" transform="rotate(22 86.5 240.1)" fill="rgb(215,19,43)" fill-opacity="0.4"/>
<ellipse cx="20.3" cy="322.3" rx="7.8" ry="2.2" transform="rotate(22 20.3 322.3)" fill="rgb(198,17,39)" fill-opacity="0.3"/>
<ellipse cx="21.6" cy="282.7" rx="11.2" ry="3.1" transform="rotate(22 21.6 282.7)" fill="rgb(210,18,42)" fill-opacity="0.5"/>
<ellipse cx="59.7" cy="303.9" rx="8.2" ry="2.3" transform="rotate(22 59.7 303.9)" fill="rgb(218,19,43)" fill-opacity="0.4"/>
<ellipse cx="13.6" cy="251.9" rx="6.7" ry="1.9" transform="rotate(22 13.6 251.9)" fill="rgb(201,18,40)" fill-opacity="0.3"/>
<ellipse cx="53.6" cy="264.8" rx="12.6" ry="3.5" transform="rotate(22 53.6 264.8)" fill="rgb(178,16,35)" fill-opacity="0.4"/>
<ellipse cx="37.6" cy="249.8" rx="11.3" ry="3.1" transform="rotate(22 37.6 249.8)" fill="rgb(193,17,38)" fill-opacity="0.5"/>
<ellipse cx="21.1" cy="316.4" rx="10.3" ry="2.9" transform="rotate(22 21.1 316.4)" fill="rgb(223,20,44)" fill-opacity="0.5"/>
<ellipse cx="11.4" cy="294.6" rx="7.7" ry="2.1" transform="rotate(22 11.4 294.6)" fill="rgb(205,18,41)" fill-opacity="0.3"/>
<ellipse cx="64.2" cy="312" rx="10.5" ry="2.9" transform="rotate(22 64.2 312)" fill="rgb(179,16,35)" fill-opacity="0.5"/>
<ellipse cx="99.3" cy="259.1" rx="6.4" ry="1.8" transform="rotate(22 99.3 259.1)" fill="rgb(185,16,37)" fill-opacity="0.4"/>
<ellipse cx="47.5" cy="332.4" rx="7.6" ry="2.1" transform="rotate(22 47.5 332.4)" fill="rgb(163,14,32)" fill-opacity="0.3"/>
<ellipse cx="56.1" cy="258.3" rx="9.8" ry="2.7" transform="rotate(22 56.1 258.3)" fill="rgb(205,18,41)" fill-opacity="0.4"/>
<ellipse cx="22.4" cy="328.4" rx="7.1" ry="2" transform="rotate(22 22.4 328.4)" fill="rgb(180,16,36)" fill-opacity="0.3"/>
<ellipse cx="68.5" cy="255" rx="12.1" ry="3.4" transform="rotate(22 68.5 255)" fill="rgb(187,16,37)" fill-opacity="0.5"/>
<ellipse cx="42" cy="314.1" rx="6" ry="1.7" transform="rotate(22 42 314.1)" fill="rgb(183,16,36)" fill-opacity="0.4"/>
<ellipse cx="49" cy="252.7" rx="8" ry="2.2" transform="rotate(22 49 252.7)" fill="rgb(223,20,44)" fill-opacity="0.3"/>
<ellipse cx="57.4" cy="327.7" rx="9.6" ry="2.7" transform="rotate(22 57.4 327.7)" fill="rgb(188,16,37)" fill-opacity="0.4"/>
<ellipse cx="22.8" cy="250.8" rx="11.7" ry="3.3" transform="rotate(22 22.8 250.8)" fill="rgb(198,17,39)" fill-opacity="0.4"/>
<ellipse cx="56" cy="336.5" rx="7.2" ry="2" transform="rotate(22 56 336.5)" fill="rgb(211,18,42)" fill-opacity="0.5"/>
<ellipse cx="61.7" cy="246.6" rx="9.7" ry="2.7" transform="rotate(22 61.7 246.6)" fill="rgb(210,18,42)" fill-opacity="0.5"/>
<ellipse cx="90.5" cy="283.8" rx="5.5" ry="1.5" transform="rotate(22 90.5 283.8)" fill="rgb(162,14,32)" fill-opacity="0.5"/>
<ellipse cx="61.3" cy="328.1" rx="13" ry="3.6" transform="rotate(22 61.3 328.1)" fill="rgb(201,18,40)" fill-opacity="0.4"/>
<ellipse cx="84.1" cy="247.6" rx="8.7" ry="2.4" transform="rotate(22 84.1 247.6)" fill="rgb(201,18,40)" fill-opacity="0.4"/>
<ellipse cx="25.9" cy="264.4" rx="6.6" ry="1.8" transform="rotate(22 25.9 264.4)" fill="rgb(214,19,42)" fill-opacity="0.3"/>
<ellipse cx="72" cy="247.4" rx="6.5" ry="1.8" transform="rotate(22 72 247.4)" fill="rgb(162,14,32)" fill-opacity="0.4"/>
<ellipse cx="90" cy="328.1" rx="10.2" ry="2.8" transform="rotate(22 90 328.1)" fill="rgb(216,19,43)" fill-opacity="0.5"/>
<ellipse cx="101.6" cy="251.8" rx="7.7" ry="2.1" transform="rotate(22 101.6 251.8)" fill="rgb(177,15,35)" fill-opacity="0.5"/>
<ellipse cx="99.5" cy="313.5" rx="14.1" ry="3.9" transform="rotate(22 99.5 313.5)" fill="rgb(160,14,32)" fill-opacity="0.3"/>
<ellipse cx="24.6" cy="265" rx="8.7" ry="2.4" transform="rotate(22 24.6 265)" fill="rgb(186,16,37)" fill-opacity="0.3"/>
<ellipse cx="60.2" cy="300.7" rx="12.7" ry="3.5" transform="rotate(22 60.2 300.7)" fill="rgb(169,15,33)" fill-opacity="0.5"/>
<ellipse cx="34.7" cy="274.5" rx="13.5" ry="3.8" transform="rotate(22 34.7 274.5)" fill="rgb(169,15,33)" fill-opacity="0.4"/>
<ellipse cx="43.6" cy="238.6" rx="5.8" ry="1.6" transform="rotate(22 43.6 238.6)" fill="rgb(173,15,34)" fill-opacity="0.4"/>
<ellipse cx="14.4" cy="250.8" rx="13.9" ry="3.9" transform="rotate(22 14.4 250.8)" fill="rgb(191,17,38)" fill-opacity="0.4"/>
<ellipse cx="103.7" cy="306.9" rx="8.5" ry="2.4" transform="rotate(22 103.7 306.9)" fill="rgb(214,19,42)" fill-opacity="0.3"/>
<ellipse cx="40.3" cy="332.7" rx="10.1" ry="2.8" transform="rotate(22 40.3 332.7)" fill="rgb(166,14,33)" fill-opacity="0.3"/>
<ellipse cx="100" cy="270.5" rx="13.4" ry="3.7" transform="rotate(22 100 270.5)" fill="rgb(176,15,35)" fill-opacity="0.4"/>
<ellipse cx="32.6" cy="321.5" rx="12.5" ry="3.5" transform="rotate(22 32.6 321.5)" fill="rgb(223,20,44)" fill-opacity="0.4"/>
<ellipse cx="83" cy="239.1" rx="10.9" ry="3" transform="rotate(22 83 239.1)" fill="rgb(208,18,41)" fill-opacity="0.5"/>
<ellipse cx="36.6" cy="230.8" rx="10.9" ry="3" transform="rotate(22 36.6 230.8)" fill="rgb(209,18,41)" fill-opacity="0.4"/>
<ellipse cx="27.1" cy="273.1" rx="7.4" ry="2.1" transform="rotate(22 27.1 273.1)" fill="rgb(217,19,43)" fill-opacity="0.5"/>
<ellipse cx="68.4" cy="307.5" rx="14.3" ry="4" transform="rotate(22 68.4 307.5)" fill="rgb(222,19,44)" fill-opacity="0.3"/>
<ellipse cx="14.4" cy="337.5" rx="8.7" ry="2.4" transform="rotate(22 14.4 337.5)" fill="rgb(207,18,41)" fill-opacity="0.4"/>
<ellipse cx="86.1" cy="310.8" rx="8.1" ry="2.2" transform="rotate(22 86.1 310.8)" fill="rgb(207,18,41)" fill-opacity="0.3"/>
<ellipse cx="14.4" cy="284.9" rx="13.7" ry="3.8" transform="rotate(22 14.4 284.9)" fill="rgb(224,20,44)" fill-opacity="0.3"/>
<ellipse cx="41.4" cy="243.4" rx="13.4" ry="3.7" transform="rotate(22 41.4 243.4)" fill="rgb(185,16,37)" fill-opacity="0.4"/>
<ellipse cx="51.7" cy="271" rx="10.1" ry="2.8" transform="rotate(22 51.7 271)" fill="rgb(165,14,33)" fill-opacity="0.3"/>
<ellipse cx="35.5" cy="242.3" rx="14.1" ry="3.9" transform="rotate(22 35.5 242.3)" fill="rgb(170,15,34)" fill-opacity="0.5"/>
<ellipse cx="38.8" cy="337.2" rx="6.7" ry="1.9" transform="rotate(22 38.8 337.2)" fill="rgb(197,17,39)" fill-opacity="0.5"/>
<ellipse cx="12.5" cy="288.8" rx="9.9" ry="2.7" transform="rotate(22 12.5 288.8)" fill="rgb(212,19,42)" fill-opacity="0.4"/>
<ellipse cx="57.2" cy="231.8" rx="11.6" ry="3.2" transform="rotate(22 57.2 231.8)" fill="rgb(222,19,44)" fill-opacity="0.5"/>
<ellipse cx="86.3" cy="311.2" rx="7.5" ry="2.1" transform="rotate(22 86.3 311.2)" fill="rgb(221,19,44)" fill-opacity="0.3"/>
<ellipse cx="55.4" cy="318.5" rx="12" ry="3.3" transform="rotate(22 55.4 318.5)" fill="rgb(175,15,35)" fill-opacity="0.4"/>
<ellipse cx="61.7" cy="270.5" rx="6.7" ry="1.9" transform="rotate(22 61.7 270.5)" fill="rgb(177,15,35)" fill-opacity="0.5"/>
<ellipse cx="53.7" cy="284.6" rx="6.5" ry="1.8" transform="rotate(22 53.7 284.6)" fill="rgb(161,14,32)" fill-opacity="0.5"/>
<ellipse cx="90.8" cy="282.6" rx="11.3" ry="3.1" transform="rotate(22 90.8 282.6)" fill="rgb(203,18,40)" fill-opacity="0.4"/>
<ellipse cx="19.6" cy="231.5" rx="12.1" ry="3.4" transform="rotate(22 19.6 231.5)" fill="rgb(213,19,42)" fill-opacity="0.3"/>
<ellipse cx="87.7" cy="231.1" rx="13.3" ry="3.7" transform="rotate(22 87.7 231.1)" fill="rgb(192,17,38)" fill-opacity="0.4"/>
<ellipse cx="105.2" cy="309.7" rx="10.2" ry="2.8" transform="rotate(22 105.2 309.7)" fill="rgb(215,19,43)" fill-opacity="0.4"/>
<ellipse cx="37.1" cy="316.6" rx="12.8" ry="3.6" transform="rotate(22 37.1 316.6)" fill="rgb(199,17,39)" fill-opacity="0.4"/>
<ellipse cx="104.1" cy="317.4" rx="6.9" ry="1.9" transform="rotate(22 104.1 317.4)" fill="rgb(202,18,40)" fill-opacity="0.4"/>
<ellipse cx="14.2" cy="303" rx="6.2" ry="1.7" transform="rotate(22 14.2 303)" fill="rgb(203,18,40)" fill-opacity="0.5"/>
<ellipse cx="94.4" cy="260.6" rx="10.6" ry="2.9" transform="rotate(22 94.4 260.6)" fill="rgb(207,18,41)" fill-opacity="0.3"/>
<ellipse cx="28.8" cy="294.5" rx="13.1" ry="3.6" transform="rotate(22 28.8 294.5)" fill="rgb(187,16,37)" fill-opacity="0.5"/>
<ellipse cx="105.1" cy="272" rx="8.7" ry="2.4" transform="rotate(22 105.1 272)" fill="rgb(202,18,40)" fill-opacity="0.5"/>
<ellipse cx="97.3" cy="250.8" rx="13.7" ry="3.8" transform="rotate(22 97.3 250.8)" fill="rgb(190,17,38)" fill-opacity="0.4"/>
<ellipse cx="47.1" cy="252.4" rx="8" ry="2.2" transform="rotate(22 47.1 252.4)" fill="rgb(209,18,41)" fill-opacity="0.4"/>
<ellipse cx="95" cy="301.7" rx="9" ry="2.5" transform="rotate(22 95 301.7)" fill="rgb(186,16,37)" fill-opacity="0.4"/>
<ellipse cx="67.7" cy="262.5" rx="5.6" ry="1.6" transform="rotate(22 67.7 262.5)" fill="rgb(196,17,39)" fill-opacity="0.4"/>
<ellipse cx="84.2" cy="325.7" rx="8.5" ry="2.4" transform="rotate(22 84.2 325.7)" fill="rgb(183,16,36)" fill-opacity="0.5"/>
<ellipse cx="85.5" cy="314.4" rx="7.6" ry="2.1" transform="rotate(22 85.5 314.4)" fill="rgb(220,19,44)" fill-opacity="0.4"/>
</g>
<g filter="url(#bl1)">
<path d="M48.9 252.5l11.3 5M31.6 302.6l4.7 2.5M2.9 264.6l8.9 8.1M28.1 315.8l12.5 4.5M54.7 241.9l8.5 3.9M104.5 306.3l3.3 2.7M37.7 253.4l2.5 4" stroke="rgb(200,16,30)" stroke-width="1.2" stroke-opacity="0.6" stroke-linecap="round" fill="none"/>
<path d="M64.7 227.5l2.9 4.8M82.6 313.4l5.6 8.3M34.5 327.5l7.4 6.5M15.8 232.4l5 3.5M46.5 301.2l10.7 -0.4M79.7 274.2l11.6 7.5M28.8 252.6l11.4 9.8" stroke="rgb(240,19,36)" stroke-width="0.8" stroke-opacity="0.6" stroke-linecap="round" fill="none"/>
<path d="M56.1 302.2l4.1 1.4M52.3 257l11.3 8.5M38 227.8l12.6 8M24.5 264.7l8.5 2.4M46.6 293.6l4.9 2.3M85.1 244.5l4.5 1.8M18.2 305.3l4.1 -0.2M79.4 230.8l11.1 4.7" stroke="rgb(240,19,36)" stroke-width="0.8" stroke-opacity="0.4" stroke-linecap="round" fill="none"/>
<path d="M44.1 281.3l4.5 0.4M33.9 268.9l4.9 2.2M73 268.6l8.4 4.4M22.3 309.6l5.5 3.5M77.4 275.6l13.6 5.5M17.6 229.7l5 5.7" stroke="rgb(200,16,30)" stroke-width="0.8" stroke-opacity="0.4" stroke-linecap="round" fill="none"/>
<path d="M25.2 254.5l15 1.5M5.5 233.6l7.8 2.5" stroke="rgb(220,17,33)" stroke-width="0.8" stroke-opacity="0.8" stroke-linecap="round" fill="none"/>
<path d="M78.7 248.9l10 4.2M53.5 246l5.7 3.9" stroke="rgb(160,12,24)" stroke-width="1.2" stroke-opacity="0.4" stroke-linecap="round" fill="none"/>
<path d="M74.4 237.9l9.5 0.8M74 290.5l3.6 4.7M63.7 270.1l8.2 9.2M9 332.3l14.1 2.4M30.1 226.3l5.9 4.5" stroke="rgb(220,17,33)" stroke-width="0.8" stroke-opacity="0.4" stroke-linecap="round" fill="none"/>
<path d="M24.4 233.3l15.8 1.7M10.4 234.2l10.6 5.9M60.4 258.1l4.9 2.2M16.1 321.7l8.3 1" stroke="rgb(240,19,36)" stroke-width="1.2" stroke-opacity="0.8" stroke-linecap="round" fill="none"/>
<path d="M47.6 285.8l14.6 5.2M79.1 300.4l6.3 4.4M21.8 251.7l13.4 4M11.2 325.7l7.4 1.1M42 337.2l10.3 3.5M43.5 244.9l12.3 3.3M96.6 319.6l13 2.6" stroke="rgb(240,19,36)" stroke-width="1.2" stroke-opacity="0.6" stroke-linecap="round" fill="none"/>
<path d="M87.8 284.1l13.4 7.9M54.3 326.5l9.3 6.5M65.8 314.1l11.3 9.5M58 294.4l7.1 4.3M90.2 252.9l4.5 1.7M99.5 274l9.3 8.3M90.8 280.1l6.5 1.3M40.4 317l10.3 7.1" stroke="rgb(200,16,30)" stroke-width="1.2" stroke-opacity="0.4" stroke-linecap="round" fill="none"/>
<path d="M25.9 324.2l7.1 2.2M39.5 336.3l6.9 3.8M18.6 255.2l10.3 -0.3M66.4 283.6l5.3 4.4M16.7 326.1l5.9 8.3" stroke="rgb(180,14,27)" stroke-width="1.2" stroke-opacity="0.4" stroke-linecap="round" fill="none"/>
<path d="M78.7 226.8l2.9 4.3" stroke="rgb(180,14,27)" stroke-width="1.2" stroke-opacity="0.8" stroke-linecap="round" fill="none"/>
<path d="M99.6 333.7l12.3 7.9M3.8 313.5l13.9 2.2M3.9 280.5l5.2 9M64.7 254.7l6.1 5M57.6 286l12.8 9.3M102.2 243.8l5.1 8.1M72.4 310.5l14 4.8M34.5 335.1l13 -1.6M84.6 229.4l3.1 5.2M62.5 308.6l13 8.3" stroke="rgb(220,17,33)" stroke-width="1.2" stroke-opacity="0.6" stroke-linecap="round" fill="none"/>
<path d="M90.8 274.1l4.9 3.5" stroke="rgb(160,12,24)" stroke-width="1.6" stroke-opacity="0.4" stroke-linecap="round" fill="none"/>
<path d="M57.6 313.1l10.7 7.9M44.9 271.2l9.4 5.4M38.1 232.1l13.1 2.1M90.2 235l12 5.8M94.1 337.1l6.8 3.4M38.4 270.4l5.5 6.2" stroke="rgb(180,14,27)" stroke-width="0.8" stroke-opacity="0.6" stroke-linecap="round" fill="none"/>
<path d="M9.9 244.4l4.8 2.7" stroke="rgb(220,17,33)" stroke-width="1.6" stroke-opacity="0.4" stroke-linecap="round" fill="none"/>
<path d="M88.6 260.8l7.8 9.2M22.6 324.6l12.4 1.6M76.5 291.7l8.1 2.1M63 313.9l7.4 3.3M71.6 320.7l6.9 4.4" stroke="rgb(180,14,27)" stroke-width="0.8" stroke-opacity="0.4" stroke-linecap="round" fill="none"/>
<path d="M32.8 305.7l6 8.3M35.9 329.3l9.8 6.8M68.5 304.1l13 3.4M6.9 232.6l6 9.1M96.2 269l5.8 1.7M77.4 281.5l7.4 3.7M45.1 333.6l14 -4.1M58.5 324l3.5 7.8M77.5 283.7l4.3 1.4" stroke="rgb(220,17,33)" stroke-width="0.8" stroke-opacity="0.6" stroke-linecap="round" fill="none"/>
<path d="M42.4 317.4l9.8 3.2M67.2 327.8l8.7 1.6M79.2 314.7l6.1 4.1M59.6 232.3l11.1 3.6M38 262.6l6.4 3.5M34.4 323.8l9.9 0.6M54.5 334.4l5.7 -0.1M81.1 252.8l5.1 2" stroke="rgb(200,16,30)" stroke-width="0.8" stroke-opacity="0.6" stroke-linecap="round" fill="none"/>
<path d="M67.8 256.5l12.5 6M81.6 283.4l4 3.2M90.7 320.5l14 2M19.1 265.2l6.5 1.9" stroke="rgb(240,19,36)" stroke-width="0.8" stroke-opacity="0.8" stroke-linecap="round" fill="none"/>
<path d="M23.2 321.6l4.5 5.4M22.2 270.1l9.2 3.9M40.6 314.5l11.2 6" stroke="rgb(220,17,33)" stroke-width="1.6" stroke-opacity="0.6" stroke-linecap="round" fill="none"/>
<path d="M34.4 264.1l3.1 3.5M5.9 308l9.3 4.2M34.8 301l7.6 4M77 326.2l13.8 1.5M59.6 312.4l7.4 4.2" stroke="rgb(180,14,27)" stroke-width="1.2" stroke-opacity="0.6" stroke-linecap="round" fill="none"/>
<path d="M43.7 275.9l3.3 2.4M65.8 258.3l9.1 4.9M1.8 268.4l10.9 7.4M73.8 311.2l8.3 2.2M37.1 310l10.4 4.4M61.1 229.8l3.6 2.5M15.7 319.2l11.5 5" stroke="rgb(220,17,33)" stroke-width="1.2" stroke-opacity="0.4" stroke-linecap="round" fill="none"/>
<path d="M11.1 334.5l4.5 2.9M36.1 280.4l8.5 3.8" stroke="rgb(180,14,27)" stroke-width="1.6" stroke-opacity="0.4" stroke-linecap="round" fill="none"/>
<path d="M7.2 258.2l8.2 4.3M8.6 237.7l6.3 3M37 240.5l5.4 3.5M24.6 235l6.7 1.4M88.5 260.6l5.1 2.9" stroke="rgb(180,14,27)" stroke-width="0.8" stroke-opacity="0.8" stroke-linecap="round" fill="none"/>
<path d="M102.9 299.8l12.4 4.9M56.8 317.6l9.3 5.4M64.1 306l4.9 1.7M37.2 302.5l11.5 10.2M75.1 246.9l6.8 7" stroke="rgb(160,12,24)" stroke-width="1.2" stroke-opacity="0.8" stroke-linecap="round" fill="none"/>
<path d="M48.6 235l5.5 5.5M11.6 276.8l8.3 2M5.8 327l5.9 2.1M83.9 243.3l5.4 2.9M6.5 238.3l9.5 2.7M59.2 335.7l6.2 -0.9" stroke="rgb(160,12,24)" stroke-width="0.8" stroke-opacity="0.4" stroke-linecap="round" fill="none"/>
<path d="M11.2 301.9l15.2 4.3M66.8 264.8l5.4 3.8M7.5 318.9l5.5 2.5M3.9 283.7l3.4 2.7" stroke="rgb(220,17,33)" stroke-width="1.2" stroke-opacity="0.8" stroke-linecap="round" fill="none"/>
<path d="M3.7 312.7l10.8 2.6" stroke="rgb(240,19,36)" stroke-width="1.6" stroke-opacity="0.8" stroke-linecap="round" fill="none"/>
<path d="M69.2 296.3l4.9 4.9M23.4 333.9l10.1 7.7M29.6 237.5l6.7 3.4M69 314.5l12.7 0.9M4 321l9.6 2.8M57.8 247.7l10.7 9.3" stroke="rgb(240,19,36)" stroke-width="1.2" stroke-opacity="0.4" stroke-linecap="round" fill="none"/>
<path d="M57.3 233l13.5 4.5M98.7 279l7.1 2.5" stroke="rgb(160,12,24)" stroke-width="0.8" stroke-opacity="0.8" stroke-linecap="round" fill="none"/>
<path d="M78.4 283.1l11.3 3.5" stroke="rgb(200,16,30)" stroke-width="0.8" stroke-opacity="0.8" stroke-linecap="round" fill="none"/>
<path d="M67.1 289.9l12.5 8.9" stroke="rgb(240,19,36)" stroke-width="1.6" stroke-opacity="0.6" stroke-linecap="round" fill="none"/>
<path d="M39.2 261.3l7.2 3.2" stroke="rgb(160,12,24)" stroke-width="1.2" stroke-opacity="0.6" stroke-linecap="round" fill="none"/>
<path d="M19.6 337.2l5.4 1.6M39.9 258.7l10.9 6.6" stroke="rgb(200,16,30)" stroke-width="1.6" stroke-opacity="0.6" stroke-linecap="round" fill="none"/>
<path d="M18.1 257.3l8.1 2" stroke="rgb(200,16,30)" stroke-width="1.6" stroke-opacity="0.4" stroke-linecap="round" fill="none"/>
<path d="M82.6 258.1l12 6.4M77.3 274.1l8.3 3.4" stroke="rgb(200,16,30)" stroke-width="1.2" stroke-opacity="0.8" stroke-linecap="round" fill="none"/>
</g>
<g filter="url(#bl2)">
<path d="M5.9 225A2.6 2.4 154 1 0 10.5 222.7A2.6 2.4 154 1 0 5.9 225ZM10.2 232.7A3 2.3 168 1 0 16 231.5A3 2.3 168 1 0 10.2 232.7ZM39.8 233.1A3 2.5 56 1 0 36.5 228.1A3 2.5 56 1 0 39.8 233.1ZM46.5 276A2.6 1.8 138 1 0 50.4 272.5A2.6 1.8 138 1 0 46.5 276ZM71.2 329.2A3.2 1.9 36 1 0 66.1 325.4A3.2 1.9 36 1 0 71.2 329.2Z" fill="rgb(90, 45, 180)" fill-opacity="0.70"/>
<path d="M23.2 224.9A2.8 2.3 33 1 0 18.6 221.9A2.8 2.3 33 1 0 23.2 224.9ZM19.9 287.5A3.2 2.5 69 1 0 17.7 281.6A3.2 2.5 69 1 0 19.9 287.5ZM32.2 305.3A2.8 2.1 17 1 0 26.9 303.7A2.8 2.1 17 1 0 32.2 305.3Z" fill="rgb(75, 45, 195)" fill-opacity="0.80"/>
<path d="M32.1 222.5A2.5 2.4 129 1 0 35.3 218.5A2.5 2.4 129 1 0 32.1 222.5ZM97.2 236.2A2.6 2.1 10 1 0 92.1 235.3A2.6 2.1 10 1 0 97.2 236.2ZM26.1 318.6A2.4 1.9 133 1 0 29.4 315.1A2.4 1.9 133 1 0 26.1 318.6Z" fill="rgb(75, 60, 195)" fill-opacity="0.80"/>
<path d="M39.1 221.6A3 2.5 155 1 0 44.6 219.1A3 2.5 155 1 0 39.1 221.6ZM68.3 232.6A3 2 179 1 0 74.3 232.6A3 2 179 1 0 68.3 232.6ZM55.7 289.2A2.4 2.3 65 1 0 53.7 284.9A2.4 2.3 65 1 0 55.7 289.2ZM57 309.4A2.9 2.3 19 1 0 51.4 307.5A2.9 2.3 19 1 0 57 309.4Z" fill="rgb(90, 45, 195)" fill-opacity="0.60"/>
<path d="M54.8 226.7A3 2 76 1 0 53.4 220.9A3 2 76 1 0 54.8 226.7ZM115.6 289A2.9 2.5 38 1 0 111.1 285.3A2.9 2.5 38 1 0 115.6 289ZM32.6 330.4A3.1 2.2 30 1 0 27.3 327.3A3.1 2.2 30 1 0 32.6 330.4Z" fill="rgb(90, 60, 195)" fill-opacity="0.60"/>
<path d="M64.2 224.9A2.4 1.9 129 1 0 67.3 221.2A2.4 1.9 129 1 0 64.2 224.9ZM86.2 227.5A2.8 2 115 1 0 88.6 222.5A2.8 2 115 1 0 86.2 227.5ZM52.7 265.6A3.1 2.3 173 1 0 58.8 264.8A3.1 2.3 173 1 0 52.7 265.6Z" fill="rgb(90, 45, 195)" fill-opacity="0.80"/>
<path d="M99.6 226.3A3.2 2.3 127 1 0 103.6 221.2A3.2 2.3 127 1 0 99.6 226.3ZM20.6 278.7A2.7 2.4 160 1 0 25.7 276.9A2.7 2.4 160 1 0 20.6 278.7Z" fill="rgb(90, 45, 210)" fill-opacity="0.80"/>
<path d="M112.8 226.3A3.2 2.5 69 1 0 110.5 220.2A3.2 2.5 69 1 0 112.8 226.3ZM76.4 246.6A2.8 2.3 154 1 0 81.4 244.3A2.8 2.3 154 1 0 76.4 246.6Z" fill="rgb(75, 45, 165)" fill-opacity="0.60"/>
<path d="M27.2 233.4A2.6 2.5 35 1 0 23 230.4A2.6 2.5 35 1 0 27.2 233.4ZM114.9 277.1A2.6 2.1 91 1 0 115.1 271.8A2.6 2.1 91 1 0 114.9 277.1ZM69.8 344.9A2.9 2 138 1 0 74.1 341.1A2.9 2 138 1 0 69.8 344.9Z" fill="rgb(90, 60, 195)" fill-opacity="0.80"/>
<path d="M49.1 234.7A2.7 2.1 104 1 0 50.4 229.4A2.7 2.1 104 1 0 49.1 234.7ZM123.6 244.1A3.2 2 32 1 0 118.2 240.6A3.2 2 32 1 0 123.6 244.1ZM104.4 253A3 1.9 155 1 0 110 250.5A3 1.9 155 1 0 104.4 253ZM107.6 275.8A2.4 2.3 5 1 0 102.8 275.4A2.4 2.3 5 1 0 107.6 275.8ZM99 331.2A2.7 2.3 112 1 0 101.1 326.2A2.7 2.3 112 1 0 99 331.2Z" fill="rgb(75, 45, 180)" fill-opacity="0.60"/>
<path d="M61.7 232.2A2.8 1.9 25 1 0 56.7 229.8A2.8 1.9 25 1 0 61.7 232.2ZM65 246.3A2.6 2.3 175 1 0 70.2 245.9A2.6 2.3 175 1 0 65 246.3ZM16.3 300.1A2.7 1.9 20 1 0 11.1 298.1A2.7 1.9 20 1 0 16.3 300.1ZM26.3 297.3A2.5 2 1 1 0 21.3 297.2A2.5 2 1 1 0 26.3 297.3Z" fill="rgb(75, 60, 180)" fill-opacity="0.60"/>
<path d="M85.6 234.2A3 2.1 40 1 0 81 230.2A3 2.1 40 1 0 85.6 234.2ZM63.4 253.3A2.5 2.1 12 1 0 58.4 252.2A2.5 2.1 12 1 0 63.4 253.3Z" fill="rgb(90, 45, 180)" fill-opacity="0.80"/>
<path d="M8.3 247A2.5 2.4 109 1 0 10 242.2A2.5 2.4 109 1 0 8.3 247ZM7.7 265.1A2.7 2.4 122 1 0 10.6 260.5A2.7 2.4 122 1 0 7.7 265.1ZM94.5 301.3A3 2.5 108 1 0 96.5 295.6A3 2.5 108 1 0 94.5 301.3ZM115.8 326.6A3 2 16 1 0 110.1 324.9A3 2 16 1 0 115.8 326.6ZM94.3 343.3A3.2 2.2 70 1 0 92.2 337.2A3.2 2.2 70 1 0 94.3 343.3Z" fill="rgb(75, 45, 195)" fill-opacity="0.60"/>
<path d="M17.1 243A3 2.3 132 1 0 21.2 238.6A3 2.3 132 1 0 17.1 243ZM104.6 318.5A2.5 1.9 155 1 0 109 316.4A2.5 1.9 155 1 0 104.6 318.5ZM59.3 345A3 2.3 124 1 0 62.8 340A3 2.3 124 1 0 59.3 345Z" fill="rgb(90, 60, 210)" fill-opacity="0.60"/>
<path d="M43.4 246.8A2.8 2.1 63 1 0 41 241.9A2.8 2.1 63 1 0 43.4 246.8Z" fill="rgb(75, 45, 180)" fill-opacity="0.80"/>
<path d="M58.4 243.2A2.7 2.3 5 1 0 53.1 242.6A2.7 2.3 5 1 0 58.4 243.2ZM27.9 266.6A3.2 1.8 159 1 0 33.9 264.4A3.2 1.8 159 1 0 27.9 266.6Z" fill="rgb(75, 60, 195)" fill-opacity="0.60"/>
<path d="M114.5 244.3A2.7 1.9 45 1 0 110.8 240.4A2.7 1.9 45 1 0 114.5 244.3Z" fill="rgb(75, 60, 210)" fill-opacity="0.70"/>
<path d="M0.7 256.8A2.9 1.9 144 1 0 5.4 253.4A2.9 1.9 144 1 0 0.7 256.8Z" fill="rgb(75, 60, 210)" fill-opacity="0.60"/>
<path d="M38.5 258.1A3.1 2.1 59 1 0 35.3 252.7A3.1 2.1 59 1 0 38.5 258.1Z" fill="rgb(75, 45, 165)" fill-opacity="0.70"/>
<path d="M51.6 257A2.6 1.9 61 1 0 49.1 252.5A2.6 1.9 61 1 0 51.6 257ZM60.7 279.7A2.9 2.2 102 1 0 62 274.1A2.9 2.2 102 1 0 60.7 279.7Z" fill="rgb(90, 45, 195)" fill-opacity="0.70"/>
<path d="M66.9 256A3.1 2.2 155 1 0 72.5 253.5A3.1 2.2 155 1 0 66.9 256ZM86.4 256.6A2.6 2.1 24 1 0 81.6 254.4A2.6 2.1 24 1 0 86.4 256.6ZM39.7 311.9A2.8 2.1 140 1 0 44.1 308.3A2.8 2.1 140 1 0 39.7 311.9ZM104.8 308.8A3.2 2.5 22 1 0 98.9 306.3A3.2 2.5 22 1 0 104.8 308.8ZM120.1 320.5A2.7 2.2 43 1 0 116.1 316.8A2.7 2.2 43 1 0 120.1 320.5Z" fill="rgb(75, 45, 180)" fill-opacity="0.70"/>
<path d="M114.8 256.9A2.5 2.2 131 1 0 118 253.2A2.5 2.2 131 1 0 114.8 256.9ZM81.7 300.5A2.7 2.5 134 1 0 85.4 296.7A2.7 2.5 134 1 0 81.7 300.5ZM112.5 311.1A2.9 2 83 1 0 111.8 305.4A2.9 2 83 1 0 112.5 311.1ZM115.4 342.8A2.6 2.2 165 1 0 120.4 341.5A2.6 2.2 165 1 0 115.4 342.8Z" fill="rgb(75, 45, 195)" fill-opacity="0.70"/>
<path d="M19.6 265.8A2.4 2.4 144 1 0 23.5 263A2.4 2.4 144 1 0 19.6 265.8ZM43.4 265.5A2.6 1.9 100 1 0 44.3 260.4A2.6 1.9 100 1 0 43.4 265.5ZM64.4 267.1A2.4 2.3 95 1 0 64.8 262.3A2.4 2.3 95 1 0 64.4 267.1ZM99.6 289.8A3.1 2.3 67 1 0 97.4 284.1A3.1 2.3 67 1 0 99.6 289.8ZM86.3 310.1A2.5 2.2 159 1 0 91 308.3A2.5 2.2 159 1 0 86.3 310.1Z" fill="rgb(90, 45, 210)" fill-opacity="0.70"/>
<path d="M71.5 264.2A2.5 2.4 178 1 0 76.5 264.1A2.5 2.4 178 1 0 71.5 264.2Z" fill="rgb(90, 60, 165)" fill-opacity="0.80"/>
<path d="M97.1 265.1A2.7 2.5 173 1 0 102.4 264.6A2.7 2.5 173 1 0 97.1 265.1ZM5.1 305.9A2.6 1.9 142 1 0 9.2 302.7A2.6 1.9 142 1 0 5.1 305.9Z" fill="rgb(75, 60, 195)" fill-opacity="0.70"/>
<path d="M40.2 279.4A2.7 2.1 35 1 0 35.7 276.2A2.7 2.1 35 1 0 40.2 279.4Z" fill="rgb(90, 60, 210)" fill-opacity="0.70"/>
<path d="M10.3 289.1A2.8 2.1 98 1 0 11.1 283.5A2.8 2.1 98 1 0 10.3 289.1ZM49.6 298.7A3 2.3 28 1 0 44.4 295.9A3 2.3 28 1 0 49.6 298.7ZM119.8 330A2.7 1.9 168 1 0 125.1 328.9A2.7 1.9 168 1 0 119.8 330Z" fill="rgb(75, 45, 210)" fill-opacity="0.80"/>
<path d="M42.3 288.7A2.9 2.4 107 1 0 44 283.1A2.9 2.4 107 1 0 42.3 288.7ZM79.1 311.7A2.7 2.3 90 1 0 79.2 306.4A2.7 2.3 90 1 0 79.1 311.7Z" fill="rgb(75, 45, 210)" fill-opacity="0.70"/>
<path d="M122.3 290.4A3 2.5 114 1 0 124.8 285A3 2.5 114 1 0 122.3 290.4Z" fill="rgb(90, 60, 180)" fill-opacity="0.70"/>
<path d="M1.5 298.2A3.2 1.9 119 1 0 4.7 292.7A3.2 1.9 119 1 0 1.5 298.2Z" fill="rgb(90, 45, 210)" fill-opacity="0.60"/>
<path d="M60.8 300.3A2.7 2.5 82 1 0 60.1 295A2.7 2.5 82 1 0 60.8 300.3Z" fill="rgb(90, 60, 210)" fill-opacity="0.80"/>
<path d="M113.7 297.6A2.6 2.5 171 1 0 118.8 296.9A2.6 2.5 171 1 0 113.7 297.6Z" fill="rgb(75, 60, 180)" fill-opacity="0.70"/>
<path d="M19 312.6A2.4 2 40 1 0 15.4 309.4A2.4 2 40 1 0 19 312.6Z" fill="rgb(75, 45, 210)" fill-opacity="0.60"/>
<path d="M38.5 320.3A2.4 2.3 69 1 0 36.8 315.7A2.4 2.3 69 1 0 38.5 320.3Z" fill="rgb(90, 45, 180)" fill-opacity="0.60"/>
<path d="M51.7 329A3.1 2.2 169 1 0 57.7 327.8A3.1 2.2 169 1 0 51.7 329Z" fill="rgb(90, 60, 180)" fill-opacity="0.60"/>
<path d="M80.9 332.9A3.2 2.5 41 1 0 76.1 328.7A3.2 2.5 41 1 0 80.9 332.9Z" fill="rgb(75, 60, 165)" fill-opacity="0.80"/>
<path d="M12.6 341.7A3.1 2.4 109 1 0 14.6 335.9A3.1 2.4 109 1 0 12.6 341.7Z" fill="rgb(90, 60, 195)" fill-opacity="0.70"/>
</g>
</g>
<g clip-path="url(#cq2)">
<rect x="104.4" y="233" width="89.9" height="101" fill="#0a0814"/>
<g filter="url(#bl4)">
<path d="M111.4,281.7 L-52.2,236 L-3.6,256.1 L85.2,283.7 L111.7,285.9Z" fill="rgb(48,103,56)"/>
<path d="M118.6,232.6 L115.2,235 L116.8,236 L121.5,235.6 L126.5,235Z" fill="rgb(52,74,119)"/>
<path d="M133.8,241.8 L134.4,245.2 L139.5,245.9 L136.3,240.9Z" fill="rgb(110,16,40)"/>
<path d="M208.4,235.1 L314.3,270.9 L307.1,263 L269.1,232.7 L239.6,220.1 L195.8,228.2Z" fill="rgb(120,103,54)"/>
<path d="M113.6,247.8 L76.1,231.6 L33.4,219.6 L101.2,246.3 L118.2,250.2 L117.8,249.9Z" fill="rgb(88,139,71)"/>
<path d="M177,341.3 L178.1,336.7 L179.4,336.5 L178.9,337.6 L196.5,337.5 L326.4,402.1 L316.7,404.2 L284.9,403.8 L286.4,405.3 L178.8,342.7Z" fill="rgb(81,89,155)"/>
<path d="M121,335.5 L97.7,330.5 L102,336.5 L149.5,353.9 L155.8,357.4 L141.1,344.8Z" fill="rgb(140,144,50)"/>
<path d="M140.4,334.1 L141.3,335 L119.9,324.4 L115.3,320.1 L128.6,319Z" fill="rgb(136,130,144)"/>
<path d="M178.6,335.7 L169,327.1 L158.1,321.9 L158.1,322.6 L177.9,336.6Z" fill="rgb(138,136,60)"/>
<path d="M177.4,340.5 L156.6,333.7 L158.3,338.1 L164.4,342.2 L179.5,343.3Z" fill="rgb(100,56,166)"/>
<path d="M198.2,238.4 L201.9,243.6 L258.3,276.3 L341.5,305.5 L337,298.1 L197.5,238.3Z" fill="rgb(61,46,118)"/>
<path d="M128.8,294.5 L130.5,295.6 L132.3,296.4 L149.7,299.9 L144.3,290.3 L142.3,289.1 L128.5,291.3Z" fill="rgb(68,153,166)"/>
<path d="M190.3,262.2 L189.1,261.2 L222,265 L242.9,270.1 L261.7,277.2 L348.5,308.5 L354.4,315.2 L366.5,334.5 L366.2,341.5 L295.1,318.7 L242.8,294.7 L210.7,277.6Z" fill="rgb(103,42,116)"/>
<path d="M188.4,241.6 L202.5,241.6 L262.9,278.1 L242.6,271.6 L214.3,257.2 L187.9,243Z" fill="rgb(66,84,139)"/>
<path d="M188.9,243.4 L185.1,237 L170.3,229.3 L156.2,229.7 L157.1,231 L156.9,233.4 L183.6,241.8 L190.5,241.3Z" fill="rgb(91,65,142)"/>
<path d="M13,287.6 L-34.7,267.5 L-29.2,279.8 L-7.8,302.1 L91.9,336.8 L101.6,337 L98.3,329.6Z" fill="rgb(12,10,18)"/>
<path d="M165.1,289.8 L174.5,289.7 L194.8,301.9 L192.7,303.1 L185.6,303.6 L177.5,301.1Z" fill="rgb(67,44,118)"/>
<path d="M188.4,307.9 L188.3,311.6 L192.8,314.8 L244.4,329.5 L195.9,309.2Z" fill="rgb(79,48,114)"/>
<path d="M158.7,338.1 L139.5,332.5 L149.6,329.6 L157.6,333.8Z" fill="rgb(65,149,164)"/>
<path d="M118.8,243.7 L114.8,246.4 L76.2,231.1 L99.2,233.2 L116.5,241.2Z" fill="rgb(80,152,87)"/>
<path d="M100.9,340.9 L113,372.5 L143.5,383.7 L198.1,394 L217.4,395.3 L184,374.6 L155.5,359.1 L147.4,356.3Z" fill="rgb(100,133,110)"/>
<path d="M191.5,277 L242.1,295.8 L293.1,317.8 L241.7,304.4 L183.4,282.7 L181.1,281.7Z" fill="rgb(102,89,48)"/>
<path d="M100.9,264 L97.5,258.6 L101.5,263.8Z" fill="rgb(49,59,135)"/>
<path d="M140.6,335.4 L162.4,343.9 L183.8,374 L157.3,358.2 L141.9,343.3Z" fill="rgb(54,97,62)"/>
<path d="M136.5,267.5 L134.6,267.6 L130.9,268.3 L100.8,246.6 L119.4,250.7Z" fill="rgb(12,10,18)"/>
<path d="M141.6,333.2 L119.4,323.3 L112.4,327.6 L122.8,337.6 L142.1,347.8 L140.7,334.7Z" fill="rgb(93,95,120)"/>
<path d="M195.9,235.1 L197,237.2 L336.2,296.5 L330,289.4 L313,272.4 L208,234.7Z" fill="rgb(116,137,112)"/>
<path d="M115,296.1 L111.1,292.1 L132.5,296.1 L130.3,296.7 L134.4,301Z" fill="rgb(81,45,109)"/>
<path d="M164.8,286.8 L178.5,303.4 L173.6,303.8 L171,304 L147.8,288.2 L149.6,286.7 L157.5,286Z" fill="rgb(34,87,129)"/>
<path d="M191.4,263.5 L188,261.8 L190.6,260.7 L168.3,256.2 L166.9,259.9 L183.6,264.9Z" fill="rgb(62,46,100)"/>
<path d="M128.2,305.5 L138.1,303.8 L135.4,300.2 L115.6,295.4Z" fill="rgb(86,67,144)"/>
<path d="M101.7,343.2 L149.3,354.1 L101.5,337.2 L92.8,338.2Z" fill="rgb(164,131,157)"/>
<path d="M158.7,258.5 L175.7,271.8 L184.9,274 L185.3,267.9 L182.5,264.8 L166.5,259.8 L159.3,259Z" fill="rgb(76,52,134)"/>
<path d="M118,222.7 L111.4,217.7 L154.9,231.8 L155.9,230.8 L156.5,233.4 L158.5,238.1 L140.6,234.4Z" fill="rgb(63,48,134)"/>
<path d="M110.9,272.5 L115.9,270.9 L121.6,275.6 L131.7,285 L127,284Z" fill="rgb(99,51,145)"/>
<path d="M116.5,231.5 L95,213.6 L107.2,232.9 L117.4,234.8Z" fill="rgb(61,74,180)"/>
<path d="M204.1,297.4 L240.7,303.8 L289.7,316.6 L357.1,339.4 L364.4,347.9 L367.5,364.6 L363.3,373 L250.3,331.8 L202,305.8Z" fill="rgb(74,120,175)"/>
<path d="M159.9,316.7 L168.9,319.2 L178.9,315.4 L168,311.2 L155.8,313.5Z" fill="rgb(69,147,72)"/>
<path d="M169.2,227.6 L169.2,227.7 L157.5,231 L109.6,187.4 L147,211Z" fill="rgb(94,70,136)"/>
<path d="M123.1,337.4 L98.9,328.9 L7.1,282.9 L44.2,296.7 L114.2,327.3Z" fill="rgb(76,119,59)"/>
<path d="M194,302.2 L201.1,304.6 L254.9,332.1 L248.9,330.2 L196.7,308.6 L191.3,303.3Z" fill="rgb(51,105,112)"/>
<path d="M158.9,287.5 L145.6,274.7 L135.8,267.5 L131.3,267.1 L123.2,265 L115.7,269.8 L114.6,270.8 L121.6,276 L150.8,288Z" fill="rgb(53,63,170)"/>
<path d="M188.9,224.3 L189.6,222.2 L116.8,173.9 L101,171 L96.4,171.5 L188.5,223.8Z" fill="rgb(70,125,63)"/>
<path d="M188.6,241.5 L202,243.3 L196.7,238.9 L186.1,237.2Z" fill="rgb(107,31,58)"/>
<path d="M121.8,282.9 L127,283 L111.5,270.1 L102.1,269.6 L93.7,270.5 L109.9,278.6Z" fill="rgb(72,122,58)"/>
<path d="M187,318.1 L191.3,315.1 L246.8,331.5 L250.5,331.6 L360.4,370.9 L362.5,377.5 L358.4,381.8 L222.9,334.8 L194.8,323.2Z" fill="rgb(120,56,114)"/>
<path d="M188.6,224.1 L189,221.1 L215.5,205.8 L214.7,206.1 L238.9,219.3 L196.8,226.7Z" fill="rgb(133,51,137)"/>
<path d="M142.3,303.6 L160.1,305.2 L168.8,310.6 L157.1,313.3Z" fill="rgb(90,51,137)"/>
<path d="M147.2,211.2 L109.1,188.5 L86.2,171.8 L97.5,170.8 L187.2,222.8 L184.6,224.8Z" fill="rgb(88,71,131)"/>
<path d="M121.7,286 L130.9,292.2 L128.7,294.4 L114.6,287.4Z" fill="rgb(104,63,59)"/>
<path d="M190.2,261.7 L174.9,249.3 L170.7,249 L163.2,246.7 L161.7,245.1 L168.8,256Z" fill="rgb(49,109,129)"/>
<path d="M141.3,317.3 L152.8,323.2 L151,325.4 L146.7,326.8 L131.7,320.2Z" fill="rgb(91,152,57)"/>
<path d="M132.3,240.9 L120.7,236.8 L127.5,236.2 L132.8,237.8 L140,241.4 L136.7,242.1Z" fill="rgb(55,117,130)"/>
<path d="M179.5,336.6 L197.2,338.1 L192.9,333.3 L168.4,326.8Z" fill="rgb(106,153,121)"/>
<path d="M141.5,317.8 L133.3,322.4 L129.9,321.6 L126.8,310.9Z" fill="rgb(113,88,47)"/>
<path d="M178.1,341.8 L282.9,404.6 L244.5,400.8 L217.2,395.2 L184.9,372.6 L163.8,342.2 L163.3,342Z" fill="rgb(94,45,58)"/>
<path d="M179,291.7 L181.5,283 L183.3,284.1 L243.6,303.2 L203.2,297.4Z" fill="rgb(130,124,58)"/>
<path d="M118.3,243.1 L113.8,247 L118,249.4 L139.9,253.3 L133.7,250Z" fill="rgb(139,129,158)"/>
<path d="M128.3,320.6 L114.7,312.6 L110.7,311.8 L100.6,313.8 L115.3,320.7 L128.9,319.7Z" fill="rgb(118,86,111)"/>
<path d="M120.3,285.7 L130.5,293.1 L143.6,288.8 L132.7,285.3 L126.8,283 L122,283Z" fill="rgb(89,59,126)"/>
<path d="M154.7,230.5 L110.6,217.6 L92.2,207.1 L21.2,162.7 L52.7,165 L83,170.4 L107.5,186.6 L157,229.8Z" fill="rgb(61,161,158)"/>
<path d="M184.6,241.2 L180,245.6 L158.6,233.1 L158.1,231.6Z" fill="rgb(103,124,104)"/>
<path d="M129.9,245.4 L133.2,245.1 L141.2,247.5 L148,248.6 L161.6,258.5 L162.1,260.3 L149.7,259 L137.2,252.5 L134.2,246.9Z" fill="rgb(84,76,146)"/>
<path d="M159.3,305.4 L160.5,306.6 L168.2,310.5 L177.3,315.8 L188.2,319.8 L195,316.5 L187.8,311.6 L173.5,305.2Z" fill="rgb(59,78,183)"/>
<path d="M192.4,332.3 L191.5,332.2 L222.5,335.1 L359.6,381.7 L357,389 L341.2,399.2 L327.1,401.5 L197.7,337.4Z" fill="rgb(142,137,41)"/>
<path d="M114.6,243.5 L99.3,234.2 L107.9,232.4 L116.2,235.8 L116.6,235.1 L125.2,241.9Z" fill="rgb(136,59,129)"/>
<path d="M177.7,268.4 L184.5,273.3 L193.3,276.6 L184.3,280.6 L172.7,272.6Z" fill="rgb(72,123,71)"/>
<path d="M140.2,302.2 L141.2,303.6 L159.1,305.1 L160.2,305.2 L150.5,298.5 L150.6,296.7 L132.5,296.2 L136.2,300.6Z" fill="rgb(24,16,10)"/>
<path d="M132.2,321.3 L146.8,326.3 L149.7,330.2 L140.2,333 L137.7,333.8 L128.3,320.4 L129.1,318.6 L130.3,319.7Z" fill="rgb(110,51,151)"/>
<path d="M147.6,326.7 L150.1,329.8 L159.1,333.2 L176.8,339.4 L176.8,336.6 L150.9,325.7Z" fill="rgb(12,10,18)"/>
<path d="M109.5,279.6 L93.3,271 L-53.2,227.2 L-47.9,237.5 L-37,241.2 L110.1,281.1Z" fill="rgb(84,124,74)"/>
<path d="M131.3,245.6 L132.9,245.4 L131.5,241.8 L120.2,238.1 L116.4,235 L124.6,242.4Z" fill="rgb(109,85,41)"/>
<path d="M117.9,244.7 L133.7,249 L131.7,245.3 L124.6,242.7 L113.1,241.9Z" fill="rgb(12,10,18)"/>
<path d="M172.6,302.8 L173.3,305.7 L160.7,304.4 L153.1,300 L171.5,302.5Z" fill="rgb(86,107,175)"/>
<path d="M121.8,285.3 L113.1,287.7 L111.5,285.7 L109.4,281.3 L110.9,279.4 L122.6,283.5Z" fill="rgb(122,103,126)"/>
<path d="M98.4,233.6 L108.7,233.2 L94.2,214.1 L90.6,207.8 L16.8,162 L14.6,162.3 L-19.6,160.4 L-43.5,165.7 L-55.6,177.6 L-57,189.2 L36.6,219.1 L78.5,229.2Z" fill="rgb(149,67,149)"/>
<path d="M102.6,342 L111.9,372.3 L81.5,361.6 L28,332.9 L-5.7,304.2 L-8.6,304.1 L92.2,335.8Z" fill="rgb(91,85,104)"/>
<path d="M174.3,303.1 L175.5,307.3 L189.2,312.2 L188.8,309.5 L184.7,303.9 L179.2,301.6Z" fill="rgb(125,101,56)"/>
<path d="M158.1,321.5 L156.6,318 L160.4,316.6 L169.6,319.8 L189.5,330.1 L191.2,332.6 L191.2,332.5 L168.2,327Z" fill="rgb(81,139,76)"/>
<path d="M191.5,264.4 L183.5,265.9 L186.3,266.2 L211.8,276.4Z" fill="rgb(95,154,82)"/>
<path d="M164.9,288 L174.6,290.2 L178.6,291.6 L182.7,283.3 L173.1,278.9 L145.3,275 L157.5,286Z" fill="rgb(69,70,190)"/>
<path d="M102.5,270.8 L97.9,262.6 L52.6,237.8 L-64.8,186.1 L-67.5,188.7 L-72.6,201.9 L-70.3,218.1 L-64.5,222.4 L93.7,267.9Z" fill="rgb(73,113,81)"/>
<path d="M157.3,232.7 L158.2,239.5 L162.7,245.1 L173,248.3 L182.5,248.3 L179.5,244.3Z" fill="rgb(119,90,120)"/>
<path d="M158.1,337.3 L139.5,333.2 L139.7,333 L138.5,333.7 L139.9,333.2 L162.8,343.8 L165.4,342.8Z" fill="rgb(100,94,97)"/>
<path d="M194.3,323 L225.5,335.3 L191,331.3 L187.9,329.2Z" fill="rgb(87,47,163)"/>
<path d="M113.4,286.8 L131.1,294.8 L132.6,298.3 L110.2,292.6 L87.6,281.7 L111.5,285.5Z" fill="rgb(109,89,60)"/>
<path d="M100.6,264.1 L96.9,257.5 L94.4,255.6 L57.3,238.9 L98.1,262.8Z" fill="rgb(56,51,108)"/>
<path d="M189.4,259.3 L175.2,249.4 L220.1,266.5 L190,260.1Z" fill="rgb(107,79,107)"/>
<path d="M117.7,221.5 L133.6,235.5 L139.6,240.3 L150.9,243.8 L154.2,243.7 L140.1,232.2Z" fill="rgb(83,50,126)"/>
<path d="M127.5,303.9 L127.2,305.5 L155.9,317.7 L161,315 L157.8,313.5 L142.1,303.4 L140.5,302.4Z" fill="rgb(65,157,179)"/>
<path d="M170.4,227.3 L185.1,229.7 L183.6,225.4 L146.8,211.5Z" fill="rgb(103,145,118)"/>
<path d="M127.3,304.9 L129.1,306.1 L124.6,307.8 L120.1,307.3 L85.6,293.7 L4,257.9 L88.9,283.3 L109.6,293.3 L114.4,295.3Z" fill="rgb(74,96,146)"/>
<path d="M142.4,316.9 L151.6,321.9 L156.7,322.6 L157.2,321.9 L156.9,316.8 L128.5,306.3 L125.6,307.1 L128.3,307Z" fill="rgb(105,122,121)"/>
<path d="M189.1,223.4 L118.6,174.7 L155.7,183.7 L215.4,205.4Z" fill="rgb(66,42,150)"/>
<path d="M148.1,289.6 L143.6,288.6 L150.9,299.9 L151.2,298 L171,303.2Z" fill="rgb(82,123,98)"/>
<path d="M174.8,291.7 L178.9,289.5 L205.4,296.4 L202.2,306 L194.1,303.5Z" fill="rgb(75,133,147)"/>
<path d="M185.6,229.5 L194.9,233.9 L207.4,235.9 L195.6,228.8 L188.4,223.1 L186.8,223.5 L183.6,225.4Z" fill="rgb(99,131,94)"/>
<path d="M128.5,309.5 L124.8,306.8 L120.5,305.8 L115.8,312.4 L129.8,320.7 L130.5,320.2Z" fill="rgb(84,133,70)"/>
<path d="M189.5,241.3 L215.1,257.1 L181.7,248.9 L177.7,244.7 L184.4,242Z" fill="rgb(60,108,55)"/>
<path d="M142.5,264.2 L164.1,270.6 L174.9,279.1 L144.3,275.7 L134,268.7 L137.2,266.8Z" fill="rgb(131,137,145)"/>
<path d="M99.9,248.9 L131.8,267.2 L121.9,264.8 L94.9,255.8 L54.6,237.6 L-57.6,189.7 L-56.9,189.2 L37.1,218.6Z" fill="rgb(12,10,18)"/>
<path d="M117.9,231.4 L94.9,214.8 L93.1,205.9 L111.2,216.6 L118.5,224 L132.9,237.1 L126.9,234.5Z" fill="rgb(132,70,137)"/>
<path d="M178.4,315.3 L171.3,319.4 L189.8,329.5 L194.9,322.7 L187.5,317.7Z" fill="rgb(91,115,86)"/>
<path d="M184.3,303.5 L190.5,308.2 L194.1,308.8 L191.8,302.2Z" fill="rgb(135,139,53)"/>
<path d="M120.2,324.3 L115.3,319.8 L98.5,311.7 L41.5,295.4 L115.2,328.8Z" fill="rgb(12,10,18)"/>
<path d="M171.6,272.9 L183.4,281.8 L183.8,281.7 L181.8,282.9 L172.7,279.9 L163.4,273Z" fill="rgb(88,53,142)"/>
<path d="M118.1,248.6 L120,251 L138.9,267.2 L145.3,265.5 L148.1,258.4 L137.1,252.7Z" fill="rgb(98,152,77)"/>
<path d="M115.7,313.3 L120,307.1 L84.7,293.9 L109.7,309.8Z" fill="rgb(121,51,109)"/>
<path d="M101.1,272.1 L97.5,261.8 L99.8,265.1 L102,263.4 L113.6,269.9 L115.1,271.1 L110.9,273Z" fill="rgb(119,114,61)"/>
<path d="M110.7,310.3 L100.1,312.4 L43.9,297.3 L6.5,283.8 L-41.8,265.1 L-52.1,253 L-60.1,236.1 L-60.8,230.9 L-46.9,238.1 L-0.7,253.7 L86.2,293.7Z" fill="rgb(87,46,154)"/>
<path d="M139.7,234.1 L158.2,238.3 L163.1,244.3 L160.7,245.8 L152.2,244.5Z" fill="rgb(74,67,142)"/>
<path d="M115,270.2 L124.5,265.6 L93.9,256.1 L97.6,257.9 L102.2,264.5Z" fill="rgb(127,121,64)"/>
<path d="M150.4,326.4 L176.5,336.8 L175.8,335.7 L158.4,323.3 L151.3,323.6Z" fill="rgb(93,68,133)"/>
<path d="M215.4,257 L181.5,248.1 L172.6,248.3 L173.6,248.7 L223.5,264.2 L241.5,269.3Z" fill="rgb(59,96,132)"/>
<path d="M136.9,240.6 L139.4,239.9 L148.5,243.3 L149,249.3 L140.6,246Z" fill="rgb(68,57,109)"/>
<path d="M159.2,258.9 L177.9,270.1 L171.7,272.1 L163.9,273.4 L142.8,264.7 L146.2,257.2Z" fill="rgb(89,128,71)"/>
<path d="M209.3,277.3 L239.9,294.7 L192,275.9 L186.1,273.1 L184.7,267.1Z" fill="rgb(57,90,125)"/>
<path d="M169.8,227.6 L169.1,228.7 L187.3,238.3 L196.8,238.1 L196.7,237.4 L195.4,232.7 L185.5,230.2Z" fill="rgb(114,111,125)"/>
<path d="M148.7,287.5 L144.3,288.8 L142.4,289.6 L133.8,283.3 L121.9,274.6 L149.4,288.8Z" fill="rgb(75,74,194)"/>
<path d="M148.1,249.2 L150.1,244.3 L154.3,245.4 L159.1,245.5 L169.6,256.2 L166.3,259 L161.3,259.9Z" fill="rgb(129,59,118)"/>
<path d="M53.5 267.5A3.2 2.1 158 1 0 47.6 269.8A3.2 2.1 158 1 0 53.5 267.5ZM122.9 233.6A3.4 1.8 158 1 0 116.6 236.1A3.4 1.8 158 1 0 122.9 233.6ZM139.4 242.1A3.7 2.2 158 1 0 132.6 244.8A3.7 2.2 158 1 0 139.4 242.1ZM259.7 240.1A4.3 2 158 1 0 251.8 243.3A4.3 2 158 1 0 259.7 240.1ZM96.7 239.6A3.5 1.8 158 1 0 90.1 242.2A3.5 1.8 158 1 0 96.7 239.6ZM234.1 363.2A4.1 1.9 158 1 0 226.5 366.3A4.1 1.9 158 1 0 234.1 363.2ZM130.6 342A3 2.3 158 1 0 125.1 344.2A3 2.3 158 1 0 130.6 342ZM132.1 325.3A3.3 2.3 158 1 0 126.1 327.8A3.3 2.3 158 1 0 132.1 325.3ZM171.2 327.7A3 2.2 158 1 0 165.6 329.9A3 2.2 158 1 0 171.2 327.7ZM170.2 338.4A3.2 2.1 158 1 0 164.3 340.7A3.2 2.1 158 1 0 170.2 338.4ZM259.1 265.3A3.7 2 158 1 0 252.4 268.1A3.7 2 158 1 0 259.1 265.3ZM139.4 292.7A3 1.7 158 1 0 133.9 295A3 1.7 158 1 0 139.4 292.7ZM277 292.7A3 2.2 158 1 0 271.4 295A3 2.2 158 1 0 277 292.7ZM219.5 254.3A3.3 1.9 158 1 0 213.4 256.7A3.3 1.9 158 1 0 219.5 254.3ZM176.7 234.6A3.3 2 158 1 0 170.5 237.1A3.3 2 158 1 0 176.7 234.6ZM36.3 304.6A3.2 1.9 158 1 0 30.4 307A3.2 1.9 158 1 0 36.3 304.6ZM184.6 297A3.2 1.7 158 1 0 178.7 299.4A3.2 1.7 158 1 0 184.6 297ZM204.8 313.4A3.1 1.8 158 1 0 199.1 315.7A3.1 1.8 158 1 0 204.8 313.4ZM154.3 332.3A3.2 2.3 158 1 0 148.4 334.7A3.2 2.3 158 1 0 154.3 332.3ZM108.7 237.7A3.9 1.7 158 1 0 101.5 240.6A3.9 1.7 158 1 0 108.7 237.7ZM160.5 370.8A3.2 1.7 158 1 0 154.5 373.3A3.2 1.7 158 1 0 160.5 370.8ZM225 292.1A3.1 1.7 158 1 0 219.2 294.4A3.1 1.7 158 1 0 225 292.1ZM103.6 260.7A3.9 2 158 1 0 96.3 263.6A3.9 2 158 1 0 103.6 260.7ZM160.4 349.7A3.5 1.7 158 1 0 154 352.3A3.5 1.7 158 1 0 160.4 349.7ZM128.4 258.6A4.2 2 158 1 0 120.5 261.7A4.2 2 158 1 0 128.4 258.6ZM133.5 332.5A3.9 1.6 158 1 0 126.2 335.5A3.9 1.6 158 1 0 133.5 332.5ZM266.8 259.5A3.7 1.9 158 1 0 259.9 262.3A3.7 1.9 158 1 0 266.8 259.5ZM128.2 294.9A3.9 1.7 158 1 0 121 297.8A3.9 1.7 158 1 0 128.2 294.9ZM166.6 292.8A3.6 1.9 158 1 0 159.9 295.5A3.6 1.9 158 1 0 166.6 292.8ZM184.3 260A3 1.8 158 1 0 178.7 262.3A3 1.8 158 1 0 184.3 260ZM132.2 300.1A3.1 1.9 158 1 0 126.4 302.4A3.1 1.9 158 1 0 132.2 300.1ZM114.1 342A3 2.2 158 1 0 108.6 344.3A3 2.2 158 1 0 114.1 342ZM176.5 263.8A3.5 1.9 158 1 0 170 266.4A3.5 1.9 158 1 0 176.5 263.8ZM145.5 228.6A3.5 1.7 158 1 0 139 231.1A3.5 1.7 158 1 0 145.5 228.6ZM124.7 276.3A3.5 1.7 158 1 0 118.2 278.9A3.5 1.7 158 1 0 124.7 276.3ZM112.1 226.9A3.3 1.8 158 1 0 106 229.4A3.3 1.8 158 1 0 112.1 226.9ZM297 329.6A4.1 1.6 158 1 0 289.4 332.7A4.1 1.6 158 1 0 297 329.6ZM170.3 313.6A4.3 1.7 158 1 0 162.3 316.8A4.3 1.7 158 1 0 170.3 313.6ZM153.7 215.6A3.5 1.9 158 1 0 147.3 218.3A3.5 1.9 158 1 0 153.7 215.6ZM80.5 313.4A3.2 1.8 158 1 0 74.6 315.8A3.2 1.8 158 1 0 80.5 313.4ZM217.3 312.4A3 1.6 158 1 0 211.7 314.6A3 1.6 158 1 0 217.3 312.4ZM136.1 272.8A3.3 2 158 1 0 130 275.3A3.3 2 158 1 0 136.1 272.8ZM150.1 196.5A3.5 2 158 1 0 143.6 199.1A3.5 2 158 1 0 150.1 196.5ZM196.7 238.9A3.6 2.3 158 1 0 190 241.6A3.6 2.3 158 1 0 196.7 238.9ZM114.4 274.4A3.7 1.7 158 1 0 107.6 277.2A3.7 1.7 158 1 0 114.4 274.4ZM267.2 341.4A3.6 2.3 158 1 0 260.5 344.1A3.6 2.3 158 1 0 267.2 341.4ZM211.1 215.6A4.2 1.8 158 1 0 203.4 218.7A4.2 1.8 158 1 0 211.1 215.6ZM160.8 306.6A4.1 2.2 158 1 0 153.3 309.7A4.1 2.2 158 1 0 160.8 306.6ZM139.2 196.8A4.2 1.7 158 1 0 131.4 199.9A4.2 1.7 158 1 0 139.2 196.8ZM127.6 288.5A3.9 2 158 1 0 120.3 291.5A3.9 2 158 1 0 127.6 288.5ZM174.5 250.1A3.1 1.9 158 1 0 168.7 252.5A3.1 1.9 158 1 0 174.5 250.1ZM147.5 321.5A3 1.7 158 1 0 141.9 323.7A3 1.7 158 1 0 147.5 321.5ZM135.3 237.8A3.9 2 158 1 0 128 240.7A3.9 2 158 1 0 135.3 237.8ZM188.1 332.2A3.9 1.7 158 1 0 180.9 335.2A3.9 1.7 158 1 0 188.1 332.2ZM135.7 317A3.1 1.7 158 1 0 130 319.3A3.1 1.7 158 1 0 135.7 317ZM208.9 369.7A4.3 1.9 158 1 0 201 372.9A4.3 1.9 158 1 0 208.9 369.7ZM202 290.3A4.2 1.6 158 1 0 194.3 293.4A4.2 1.6 158 1 0 202 290.3ZM128.5 247.1A4 1.7 158 1 0 121 250.1A4 1.7 158 1 0 128.5 247.1ZM120 315.1A3.8 2.2 158 1 0 112.9 318A3.8 2.2 158 1 0 120 315.1ZM133.2 284.9A4.2 2.1 158 1 0 125.4 288.1A4.2 2.1 158 1 0 133.2 284.9ZM100.6 194.9A3.5 2 158 1 0 94.1 197.5A3.5 2 158 1 0 100.6 194.9ZM173.1 236.7A3 2.1 158 1 0 167.5 239A3 2.1 158 1 0 173.1 236.7ZM147.4 250.2A3.6 1.9 158 1 0 140.8 252.9A3.6 1.9 158 1 0 147.4 250.2ZM180 309.9A4.1 1.8 158 1 0 172.5 312.9A4.1 1.8 158 1 0 180 309.9ZM277.3 362.1A4 2.1 158 1 0 269.9 365A4 2.1 158 1 0 277.3 362.1ZM117 235.7A3.9 1.7 158 1 0 109.7 238.6A3.9 1.7 158 1 0 117 235.7ZM185.3 273.2A3.1 1.6 158 1 0 179.6 275.5A3.1 1.6 158 1 0 185.3 273.2ZM150 299.5A4 2 158 1 0 142.6 302.5A4 2 158 1 0 150 299.5ZM140.1 324.1A3.6 1.8 158 1 0 133.5 326.8A3.6 1.8 158 1 0 140.1 324.1ZM163.3 330.7A3.3 2 158 1 0 157.2 333.1A3.3 2 158 1 0 163.3 330.7ZM32 255.1A3.1 1.9 158 1 0 26.2 257.4A3.1 1.9 158 1 0 32 255.1ZM129.4 240A3.5 2 158 1 0 122.9 242.7A3.5 2 158 1 0 129.4 240ZM128 243.2A4 2 158 1 0 120.5 246.2A4 2 158 1 0 128 243.2ZM169.6 301.8A3.6 2.2 158 1 0 162.9 304.4A3.6 2.2 158 1 0 169.6 301.8ZM118.3 282.4A3.7 2.2 158 1 0 111.5 285.2A3.7 2.2 158 1 0 118.3 282.4ZM34 194.7A4.1 1.6 158 1 0 26.5 197.7A4.1 1.6 158 1 0 34 194.7ZM61.4 334.5A4.3 2.3 158 1 0 53.4 337.7A4.3 2.3 158 1 0 61.4 334.5ZM184.8 305.1A3.1 1.6 158 1 0 179.1 307.4A3.1 1.6 158 1 0 184.8 305.1ZM176.8 323.2A4 2 158 1 0 169.4 326.3A4 2 158 1 0 176.8 323.2ZM197 266.7A4 2.1 158 1 0 189.5 269.7A4 2.1 158 1 0 197 266.7ZM172 283.1A4.2 1.8 158 1 0 164.2 286.3A4.2 1.8 158 1 0 172 283.1ZM4.6 227A4.1 1.9 158 1 0 -3 230A4.1 1.9 158 1 0 4.6 227ZM172.3 241.6A3.7 1.9 158 1 0 165.4 244.4A3.7 1.9 158 1 0 172.3 241.6ZM152.5 335.3A3.7 2.2 158 1 0 145.8 338.1A3.7 2.2 158 1 0 152.5 335.3ZM202.6 328.5A3.2 1.9 158 1 0 196.7 330.9A3.2 1.9 158 1 0 202.6 328.5ZM118.3 288.4A4.2 2 158 1 0 110.5 291.5A4.2 2 158 1 0 118.3 288.4ZM92.6 254.5A3.4 2 158 1 0 86.4 257.1A3.4 2 158 1 0 92.6 254.5ZM196.9 257.5A3.5 2.3 158 1 0 190.4 260.1A3.5 2.3 158 1 0 196.9 257.5ZM142.4 235A3.3 2.1 158 1 0 136.3 237.4A3.3 2.1 158 1 0 142.4 235ZM148.3 307.2A4.1 1.7 158 1 0 140.8 310.3A4.1 1.7 158 1 0 148.3 307.2ZM174.9 222.1A3.8 1.7 158 1 0 168 224.9A3.8 1.7 158 1 0 174.9 222.1ZM103.1 293.3A3 1.7 158 1 0 97.6 295.5A3 1.7 158 1 0 103.1 293.3ZM147.3 313.5A4.2 1.7 158 1 0 139.5 316.6A4.2 1.7 158 1 0 147.3 313.5ZM172.7 195.6A3.3 1.9 158 1 0 166.7 198A3.3 1.9 158 1 0 172.7 195.6ZM156.1 294.6A3.3 2.2 158 1 0 149.9 297.1A3.3 2.2 158 1 0 156.1 294.6ZM194.2 296.2A3.3 1.7 158 1 0 188 298.7A3.3 1.7 158 1 0 194.2 296.2ZM195.7 227A4.2 1.7 158 1 0 187.8 230.2A4.2 1.7 158 1 0 195.7 227ZM128.4 311.2A3.7 2.3 158 1 0 121.5 314A3.7 2.3 158 1 0 128.4 311.2ZM193.5 245.2A4.1 2.3 158 1 0 185.9 248.3A4.1 2.3 158 1 0 193.5 245.2ZM153.4 269.3A4.2 2.2 158 1 0 145.6 272.4A4.2 2.2 158 1 0 153.4 269.3ZM56.2 232.8A3.2 1.7 158 1 0 50.2 235.2A3.2 1.7 158 1 0 56.2 232.8ZM117.4 221.9A4.1 2 158 1 0 109.9 225A4.1 2 158 1 0 117.4 221.9ZM187.3 319.7A3.2 1.9 158 1 0 181.4 322.1A3.2 1.9 158 1 0 187.3 319.7ZM193.4 304.4A3.5 1.9 158 1 0 186.9 307A3.5 1.9 158 1 0 193.4 304.4ZM101.7 314.6A3.8 2 158 1 0 94.6 317.4A3.8 2 158 1 0 101.7 314.6ZM179.2 277.5A3.3 2.2 158 1 0 173 280A3.3 2.2 158 1 0 179.2 277.5ZM137.9 255.9A3.5 1.6 158 1 0 131.3 258.5A3.5 1.6 158 1 0 137.9 255.9ZM111 304.7A3.7 2 158 1 0 104.1 307.4A3.7 2 158 1 0 111 304.7ZM109.3 266.6A3.9 1.9 158 1 0 102.1 269.5A3.9 1.9 158 1 0 109.3 266.6ZM11.5 268.9A4 1.8 158 1 0 4 271.9A4 1.8 158 1 0 11.5 268.9ZM158.3 240A3.8 1.8 158 1 0 151.3 242.8A3.8 1.8 158 1 0 158.3 240ZM110.3 261.4A3.9 2 158 1 0 103 264.3A3.9 2 158 1 0 110.3 261.4ZM165.8 327.8A3.6 1.9 158 1 0 159.2 330.5A3.6 1.9 158 1 0 165.8 327.8ZM205.1 254.4A4 2 158 1 0 197.6 257.5A4 2 158 1 0 205.1 254.4ZM145.8 242.6A3.1 1.8 158 1 0 140 245A3.1 1.8 158 1 0 145.8 242.6ZM164.1 264.5A4.2 1.7 158 1 0 156.4 267.6A4.2 1.7 158 1 0 164.1 264.5ZM205.3 276.5A3.1 1.8 158 1 0 199.5 278.8A3.1 1.8 158 1 0 205.3 276.5ZM188.7 232.1A3.2 1.7 158 1 0 182.8 234.5A3.2 1.7 158 1 0 188.7 232.1ZM143.8 283.9A4.1 2.2 158 1 0 136.3 287A4.1 2.2 158 1 0 143.8 283.9ZM161.4 250.2A3.2 1.7 158 1 0 155.4 252.6A3.2 1.7 158 1 0 161.4 250.2Z" fill="rgb(95,85,220)" fill-opacity="0.3"/>
</g>
</g>
<text x="17.7" y="37" font-family="Liberation Sans, sans-serif" font-size="5.8" fill="#f6f0f6" stroke="#f6f0f6" stroke-width="0.2" textLength="34.3" lengthAdjust="spacingAndGlyphs">Unstretch flat</text>
<text x="17.8" y="116.4" font-family="Liberation Sans, sans-serif" font-size="5.8" fill="#f6f0f6" stroke="#f6f0f6" stroke-width="0.2" textLength="43.2" lengthAdjust="spacingAndGlyphs">DAPI and F-actin</text>
<text x="110.9" y="116.6" font-family="Liberation Sans, sans-serif" font-size="5.8" fill="#f6f0f6" stroke="#f6f0f6" stroke-width="0.2" textLength="23" lengthAdjust="spacingAndGlyphs">Cellpose</text>
<text x="17.8" y="138.6" font-family="Liberation Sans, sans-serif" font-size="5.8" fill="#f6f0f6" stroke="#f6f0f6" stroke-width="0.2" textLength="38.3" lengthAdjust="spacingAndGlyphs">Nanopatterned</text>
<text x="17.8" y="145.6" font-family="Liberation Sans, sans-serif" font-size="5.8" fill="#f6f0f6" stroke="#f6f0f6" stroke-width="0.2">unstretch</text>
<text x="17.8" y="241.9" font-family="Liberation Sans, sans-serif" font-size="5.8" fill="#f6f0f6" stroke="#f6f0f6" stroke-width="0.2" textLength="54" lengthAdjust="spacingAndGlyphs">Stretch flat 10% 24h</text>
<rect x="93.6" y="120.1" width="5.4" height="1" fill="#f0e8f0"/>
<rect x="93.8" y="121.8" width="5" height="1.6" fill="#e8d8e8" opacity="0.85"/>
<rect x="93.6" y="224" width="5.4" height="1" fill="#f0e8f0"/>
<rect x="93.8" y="225.7" width="5" height="1.6" fill="#e8d8e8" opacity="0.85"/>
<rect x="93.6" y="328.4" width="5.4" height="1" fill="#f0e8f0"/>
<rect x="93.8" y="330.1" width="5" height="1.6" fill="#e8d8e8" opacity="0.85"/>
<rect x="110.7" y="33.1" width="27.4" height="1.3" fill="#f4f0f4"/>
<rect x="110.7" y="242.9" width="27.4" height="1.3" fill="#f4f0f4"/>
<path d="M111.3,140.2 H117 V136.6 H122.4 V140.2 H125.4 V136.6 H133.4 V140.2 H137.8" fill="none" stroke="#f4f0f4" stroke-width="1.1"/>
<rect x="16.9" y="159.4" width="42.1" height="3.2" fill="#e0d0e0" opacity="0.9"/>
<line x1="21.2" y1="276" x2="21.2" y2="307" stroke="#f4f0f4" stroke-width="0.9"/>
<path d="M21.2,273 L18.9,277.3 L23.5,277.3Z M21.2,310 L18.9,305.7 L23.5,305.7Z" fill="#f4f0f4"/>
<rect x="239.5" y="109.2" width="0.9" height="1.6" fill="rgb(186,165,165)"/>
<rect x="239.5" y="105.2" width="0.9" height="4.1" fill="rgb(172,210,233)"/>
<rect x="240.7" y="106.1" width="0.9" height="4.7" fill="rgb(186,165,165)"/>
<rect x="240.7" y="102" width="0.9" height="4.1" fill="rgb(172,210,233)"/>
<rect x="241.8" y="102.2" width="0.9" height="8.6" fill="rgb(186,165,165)"/>
<rect x="241.8" y="98.3" width="0.9" height="3.8" fill="rgb(172,210,233)"/>
<rect x="243" y="98.4" width="0.9" height="12.4" fill="rgb(186,165,165)"/>
<rect x="243" y="93.7" width="0.9" height="4.6" fill="rgb(172,210,233)"/>
<rect x="244.1" y="91" width="0.9" height="19.8" fill="rgb(186,165,165)"/>
<rect x="244.1" y="88.5" width="0.9" height="2.5" fill="rgb(172,210,233)"/>
<rect x="245.3" y="90.2" width="0.9" height="20.6" fill="rgb(186,165,165)"/>
<rect x="245.3" y="78.9" width="0.9" height="11.3" fill="rgb(172,210,233)"/>
<rect x="246.4" y="84.4" width="0.9" height="26.4" fill="rgb(186,165,165)"/>
<rect x="246.4" y="70.1" width="0.9" height="14.3" fill="rgb(172,210,233)"/>
<rect x="247.6" y="76.6" width="0.9" height="34.2" fill="rgb(186,165,165)"/>
<rect x="247.6" y="65.3" width="0.9" height="11.3" fill="rgb(172,210,233)"/>
<rect x="248.7" y="78.2" width="0.9" height="32.6" fill="rgb(186,165,165)"/>
<rect x="248.7" y="57.6" width="0.9" height="20.6" fill="rgb(172,210,233)"/>
<rect x="249.9" y="72.2" width="0.9" height="38.6" fill="rgb(186,165,165)"/>
<rect x="249.9" y="37.2" width="0.9" height="35" fill="rgb(172,210,233)"/>
<rect x="251" y="72.2" width="0.9" height="38.6" fill="rgb(186,165,165)"/>
<rect x="251" y="37.2" width="0.9" height="34.9" fill="rgb(172,210,233)"/>
<rect x="252.1" y="67.5" width="0.9" height="43.3" fill="rgb(186,165,165)"/>
<rect x="252.1" y="41.8" width="0.9" height="25.7" fill="rgb(172,210,233)"/>
<rect x="253.3" y="67" width="0.9" height="43.8" fill="rgb(186,165,165)"/>
<rect x="253.3" y="39.4" width="0.9" height="27.7" fill="rgb(172,210,233)"/>
<rect x="254.4" y="71.1" width="0.9" height="39.7" fill="rgb(186,165,165)"/>
<rect x="254.4" y="34.7" width="0.9" height="36.4" fill="rgb(172,210,233)"/>
<rect x="255.6" y="71.2" width="0.9" height="39.6" fill="rgb(186,165,165)"/>
<rect x="255.6" y="42.4" width="0.9" height="28.8" fill="rgb(172,210,233)"/>
<rect x="256.7" y="80.2" width="0.9" height="30.6" fill="rgb(186,165,165)"/>
<rect x="256.7" y="51.5" width="0.9" height="28.8" fill="rgb(172,210,233)"/>
<rect x="257.9" y="75.5" width="0.9" height="35.3" fill="rgb(186,165,165)"/>
<rect x="257.9" y="65.4" width="0.9" height="10" fill="rgb(172,210,233)"/>
<rect x="259" y="75.9" width="0.9" height="34.9" fill="rgb(186,165,165)"/>
<rect x="259" y="73.2" width="0.9" height="2.7" fill="rgb(172,210,233)"/>
<rect x="260.2" y="82.3" width="0.9" height="28.5" fill="rgb(186,165,165)"/>
<rect x="260.2" y="80.3" width="0.9" height="1.9" fill="rgb(172,210,233)"/>
<rect x="261.3" y="91" width="0.9" height="19.8" fill="rgb(186,165,165)"/>
<rect x="261.3" y="82.7" width="0.9" height="8.4" fill="rgb(245,195,172)"/>
<rect x="262.4" y="94.8" width="0.9" height="16" fill="rgb(186,165,165)"/>
<rect x="262.4" y="85.1" width="0.9" height="9.7" fill="rgb(245,195,172)"/>
<rect x="263.6" y="100.5" width="0.9" height="10.3" fill="rgb(186,165,165)"/>
<rect x="263.6" y="83.1" width="0.9" height="17.4" fill="rgb(245,195,172)"/>
<rect x="264.7" y="103" width="0.9" height="7.8" fill="rgb(186,165,165)"/>
<rect x="264.7" y="89.9" width="0.9" height="13.1" fill="rgb(245,195,172)"/>
<rect x="265.9" y="106.6" width="0.9" height="4.2" fill="rgb(186,165,165)"/>
<rect x="265.9" y="90.9" width="0.9" height="15.8" fill="rgb(245,195,172)"/>
<rect x="267" y="107.9" width="0.9" height="2.9" fill="rgb(186,165,165)"/>
<rect x="267" y="94.9" width="0.9" height="12.9" fill="rgb(245,195,172)"/>
<rect x="268.2" y="109" width="0.9" height="1.8" fill="rgb(186,165,165)"/>
<rect x="268.2" y="93.7" width="0.9" height="15.3" fill="rgb(245,195,172)"/>
<rect x="269.3" y="109.9" width="0.9" height="0.9" fill="rgb(186,165,165)"/>
<rect x="269.3" y="94" width="0.9" height="15.9" fill="rgb(245,195,172)"/>
<rect x="270.5" y="110.2" width="0.9" height="0.6" fill="rgb(186,165,165)"/>
<rect x="270.5" y="93.9" width="0.9" height="16.4" fill="rgb(245,195,172)"/>
<rect x="271.6" y="110.5" width="0.9" height="0.3" fill="rgb(186,165,165)"/>
<rect x="271.6" y="95.3" width="0.9" height="15.2" fill="rgb(245,195,172)"/>
<rect x="272.8" y="99.1" width="0.9" height="11.7" fill="rgb(245,195,172)"/>
<rect x="273.9" y="97.6" width="0.9" height="13.2" fill="rgb(245,195,172)"/>
<rect x="275" y="101.5" width="0.9" height="9.3" fill="rgb(245,195,172)"/>
<rect x="276.2" y="100.3" width="0.9" height="10.5" fill="rgb(245,195,172)"/>
<rect x="277.3" y="103.1" width="0.9" height="7.7" fill="rgb(245,195,172)"/>
<rect x="278.5" y="103.1" width="0.9" height="7.7" fill="rgb(245,195,172)"/>
<rect x="279.6" y="104.6" width="0.9" height="6.2" fill="rgb(245,195,172)"/>
<rect x="280.8" y="103.4" width="0.9" height="7.4" fill="rgb(245,195,172)"/>
<rect x="281.9" y="104.1" width="0.9" height="6.7" fill="rgb(245,195,172)"/>
<rect x="283.1" y="106" width="0.9" height="4.8" fill="rgb(245,195,172)"/>
<rect x="284.2" y="105.7" width="0.9" height="5.1" fill="rgb(245,195,172)"/>
<rect x="285.4" y="106.6" width="0.9" height="4.2" fill="rgb(245,195,172)"/>
<rect x="286.5" y="106.6" width="0.9" height="4.2" fill="rgb(245,195,172)"/>
<rect x="287.6" y="106.9" width="0.9" height="3.9" fill="rgb(245,195,172)"/>
<rect x="288.8" y="107.8" width="0.9" height="3" fill="rgb(245,195,172)"/>
<rect x="289.9" y="107.2" width="0.9" height="3.6" fill="rgb(245,195,172)"/>
<rect x="291.1" y="108.1" width="0.9" height="2.7" fill="rgb(245,195,172)"/>
<rect x="292.2" y="108.2" width="0.9" height="2.6" fill="rgb(245,195,172)"/>
<rect x="293.4" y="108.7" width="0.9" height="2.1" fill="rgb(245,195,172)"/>
<rect x="294.5" y="108.9" width="0.9" height="1.9" fill="rgb(245,195,172)"/>
<rect x="295.7" y="109" width="0.9" height="1.8" fill="rgb(245,195,172)"/>
<rect x="296.8" y="109" width="0.9" height="1.8" fill="rgb(245,195,172)"/>
<rect x="298" y="108.9" width="0.9" height="1.9" fill="rgb(245,195,172)"/>
<rect x="299.1" y="109" width="0.9" height="1.8" fill="rgb(245,195,172)"/>
<rect x="300.2" y="109.4" width="0.9" height="1.4" fill="rgb(245,195,172)"/>
<rect x="301.4" y="109.5" width="0.9" height="1.3" fill="rgb(245,195,172)"/>
<rect x="302.5" y="109.5" width="0.9" height="1.3" fill="rgb(245,195,172)"/>
<rect x="303.7" y="109.6" width="0.9" height="1.2" fill="rgb(245,195,172)"/>
<rect x="304.8" y="109.9" width="0.9" height="0.9" fill="rgb(245,195,172)"/>
<rect x="306" y="109.8" width="0.9" height="1" fill="rgb(245,195,172)"/>
<rect x="307.1" y="110" width="0.9" height="0.8" fill="rgb(245,195,172)"/>
<rect x="308.3" y="110" width="0.9" height="0.8" fill="rgb(245,195,172)"/>
<rect x="309.4" y="110" width="0.9" height="0.8" fill="rgb(245,195,172)"/>
<rect x="310.6" y="110.1" width="0.9" height="0.7" fill="rgb(245,195,172)"/>
<rect x="311.7" y="110.2" width="0.9" height="0.6" fill="rgb(245,195,172)"/>
<path d="M240.2,104.7 L240.5,104 L240.8,103.2 L241,102.4 L241.3,101.5 L241.6,100.5 L241.8,99.4 L242.1,98.3 L242.4,97.1 L242.7,95.8 L242.9,94.4 L243.2,92.9 L243.5,91.4 L243.7,89.7 L244,88 L244.3,86.2 L244.6,84.3 L244.8,82.3 L245.1,80.3 L245.4,78.1 L245.7,76 L245.9,73.7 L246.2,71.4 L246.5,69.1 L246.7,66.7 L247,64.4 L247.3,62 L247.6,59.6 L247.8,57.2 L248.1,54.8 L248.4,52.4 L248.7,50.1 L248.9,47.9 L249.2,45.7 L249.5,43.7 L249.7,41.7 L250,39.8 L250.3,38 L250.6,36.4 L250.8,34.9 L251.1,33.6 L251.4,32.5 L251.7,31.5 L251.9,30.7 L252.2,30 L252.5,29.6 L252.7,29.3 L253,29.3 L253.3,29.4 L253.6,29.7 L253.8,30.2 L254.1,30.9 L254.4,31.7 L254.6,32.7 L254.9,33.9 L255.2,35.2 L255.5,36.7 L255.7,38.3 L256,40 L256.3,41.9 L256.6,43.8 L256.8,45.9 L257.1,48 L257.4,50.2 L257.6,52.4 L257.9,54.7 L258.2,57 L258.5,59.3 L258.7,61.7 L259,64 L259.3,66.4 L259.6,68.7 L259.8,71 L260.1,73.2 L260.4,75.4 L260.6,77.5 L260.9,79.6 L261.2,81.6 L261.5,83.6 L261.7,85.5 L262,87.3 L262.3,89 L262.5,90.6 L262.8,92.2 L263.1,93.7 L263.4,95.1 L263.6,96.4 L263.9,97.6 L264.2,98.8 L264.5,99.8 L264.7,100.9 L265,101.8 L265.3,102.7 L265.5,103.4 L265.8,104.2 L266.1,104.9 L266.4,105.5 L266.6,106 L266.9,106.6 L267.2,107 L267.5,107.4 L267.7,107.8 L268,108.2 L268.3,108.5 L268.5,108.8 L268.8,109 L269.1,109.2 L269.4,109.4 L269.6,109.6 L269.9,109.8 L270.2,109.9 L270.5,110 L270.7,110.1 L271,110.2 L271.3,110.3 L271.5,110.4 L271.8,110.4 L272.1,110.5 L272.4,110.5 L272.6,110.6" fill="none" stroke="#2b70b2" stroke-width="1.4" stroke-linejoin="round" stroke-opacity="1"/><path d="M240.2,104.7 L240.5,104 L240.8,103.2 L241,102.4 L241.3,101.5 L241.6,100.5 L241.8,99.4 L242.1,98.3 L242.4,97.1 L242.7,95.8 L242.9,94.4 L243.2,92.9 L243.5,91.4 L243.7,89.7 L244,88 L244.3,86.2 L244.6,84.3 L244.8,82.3 L245.1,80.3 L245.4,78.1 L245.7,76 L245.9,73.7 L246.2,71.4 L246.5,69.1 L246.7,66.7 L247,64.4 L247.3,62 L247.6,59.6 L247.8,57.2 L248.1,54.8 L248.4,52.4 L248.7,50.1 L248.9,47.9 L249.2,45.7 L249.5,43.7 L249.7,41.7 L250,39.8 L250.3,38 L250.6,36.4 L250.8,34.9 L251.1,33.6 L251.4,32.5 L251.7,31.5 L251.9,30.7 L252.2,30 L252.5,29.6 L252.7,29.3 L253,29.3 L253.3,29.4 L253.6,29.7 L253.8,30.2 L254.1,30.9 L254.4,31.7 L254.6,32.7 L254.9,33.9 L255.2,35.2 L255.5,36.7 L255.7,38.3 L256,40 L256.3,41.9 L256.6,43.8 L256.8,45.9 L257.1,48 L257.4,50.2 L257.6,52.4 L257.9,54.7 L258.2,57 L258.5,59.3 L258.7,61.7 L259,64 L259.3,66.4 L259.6,68.7 L259.8,71 L260.1,73.2 L260.4,75.4 L260.6,77.5 L260.9,79.6 L261.2,81.6 L261.5,83.6 L261.7,85.5 L262,87.3 L262.3,89 L262.5,90.6 L262.8,92.2 L263.1,93.7 L263.4,95.1 L263.6,96.4 L263.9,97.6 L264.2,98.8 L264.5,99.8 L264.7,100.9 L265,101.8 L265.3,102.7 L265.5,103.4 L265.8,104.2 L266.1,104.9 L266.4,105.5 L266.6,106 L266.9,106.6 L267.2,107 L267.5,107.4 L267.7,107.8 L268,108.2 L268.3,108.5 L268.5,108.8 L268.8,109 L269.1,109.2 L269.4,109.4 L269.6,109.6 L269.9,109.8 L270.2,109.9 L270.5,110 L270.7,110.1 L271,110.2 L271.3,110.3 L271.5,110.4 L271.8,110.4 L272.1,110.5 L272.4,110.5 L272.6,110.6" fill="none" stroke="#5a6478" stroke-width="1.4" stroke-linejoin="round" clip-path="url(#uc1)"/>
<path d="M240.6,107.8 L241,106.7 L241.4,105.4 L241.8,103.9 L242.3,102.2 L242.7,100.4 L243.1,98.5 L243.5,96.4 L244,94.4 L244.4,92.3 L244.8,90.2 L245.2,88.1 L245.7,86.1 L246.1,84.2 L246.5,82.3 L246.9,80.5 L247.4,78.9 L247.8,77.4 L248.2,75.9 L248.7,74.7 L249.1,73.5 L249.5,72.5 L249.9,71.6 L250.4,70.9 L250.8,70.3 L251.2,69.8 L251.6,69.4 L252.1,69.1 L252.5,68.9 L252.9,68.9 L253.3,68.9 L253.8,69 L254.2,69.2 L254.6,69.4 L255,69.8 L255.5,70.2 L255.9,70.6 L256.3,71.1 L256.7,71.6 L257.2,72.2 L257.6,72.8 L258,73.5 L258.4,74.1 L258.9,74.8 L259.3,75.5 L259.7,76.3 L260.1,77 L260.6,77.8 L261,78.5 L261.4,79.3 L261.9,80 L262.3,80.8 L262.7,81.5 L263.1,82.3 L263.6,83 L264,83.8 L264.4,84.5 L264.8,85.2 L265.3,85.9 L265.7,86.6 L266.1,87.3 L266.5,88 L267,88.7 L267.4,89.3 L267.8,90 L268.2,90.6 L268.7,91.2 L269.1,91.8 L269.5,92.4 L269.9,93 L270.4,93.5 L270.8,94 L271.2,94.6 L271.6,95.1 L272.1,95.6 L272.5,96.1 L272.9,96.5 L273.3,97 L273.8,97.5 L274.2,97.9 L274.6,98.3 L275.1,98.7 L275.5,99.1 L275.9,99.5 L276.3,99.9 L276.8,100.2 L277.2,100.6 L277.6,100.9 L278,101.2 L278.5,101.6 L278.9,101.9 L279.3,102.2 L279.7,102.4 L280.2,102.7 L280.6,103 L281,103.3 L281.4,103.5 L281.9,103.7 L282.3,104 L282.7,104.2 L283.1,104.4 L283.6,104.6 L284,104.8 L284.4,105 L284.8,105.2 L285.3,105.4 L285.7,105.6 L286.1,105.8 L286.5,105.9 L287,106.1 L287.4,106.3 L287.8,106.4 L288.2,106.6 L288.7,106.7 L289.1,106.8 L289.5,107 L290,107.1 L290.4,107.2 L290.8,107.3 L291.2,107.5 L291.7,107.6 L292.1,107.7 L292.5,107.8 L292.9,107.9 L293.4,108 L293.8,108.1 L294.2,108.2 L294.6,108.2 L295.1,108.3 L295.5,108.4 L295.9,108.5 L296.3,108.6 L296.8,108.6 L297.2,108.7 L297.6,108.8 L298,108.8 L298.5,108.9 L298.9,109 L299.3,109 L299.7,109.1 L300.2,109.1 L300.6,109.2 L301,109.2 L301.4,109.3 L301.9,109.3 L302.3,109.4 L302.7,109.4 L303.2,109.5 L303.6,109.5 L304,109.6 L304.4,109.6 L304.9,109.6 L305.3,109.7 L305.7,109.7 L306.1,109.7 L306.6,109.8 L307,109.8 L307.4,109.8 L307.8,109.9 L308.3,109.9" fill="none" stroke="#d35a28" stroke-width="1.6" stroke-linejoin="round" stroke-opacity="1"/>
<line x1="237" y1="26" x2="237" y2="111.4" stroke="#2e2e2e" stroke-width="1.3"/>
<line x1="234.4" y1="110.8" x2="353.5" y2="110.8" stroke="#2e2e2e" stroke-width="1.3"/>
<line x1="234.6" y1="110.8" x2="237" y2="110.8" stroke="#2e2e2e" stroke-width="0.9"/>
<text x="231.1" y="113.1" font-family="Liberation Sans, sans-serif" font-size="6.4" fill="#1a1a1a" stroke="#1a1a1a" stroke-width="0.18" text-anchor="end">0</text>
<line x1="234.6" y1="83.1" x2="237" y2="83.1" stroke="#2e2e2e" stroke-width="0.9"/>
<text x="231.1" y="85.4" font-family="Liberation Sans, sans-serif" font-size="6.4" fill="#1a1a1a" stroke="#1a1a1a" stroke-width="0.18" text-anchor="end">50</text>
<line x1="234.6" y1="55.3" x2="237" y2="55.3" stroke="#2e2e2e" stroke-width="0.9"/>
<text x="231.1" y="57.6" font-family="Liberation Sans, sans-serif" font-size="6.4" fill="#1a1a1a" stroke="#1a1a1a" stroke-width="0.18" text-anchor="end">100</text>
<line x1="234.6" y1="27.6" x2="237" y2="27.6" stroke="#2e2e2e" stroke-width="0.9"/>
<text x="231.1" y="29.9" font-family="Liberation Sans, sans-serif" font-size="6.4" fill="#1a1a1a" stroke="#1a1a1a" stroke-width="0.18" text-anchor="end">150</text>
<line x1="237" y1="110.8" x2="237" y2="113.1" stroke="#2e2e2e" stroke-width="0.9"/>
<text font-family="Liberation Sans, sans-serif" font-size="6.4" fill="#1a1a1a" stroke="#1a1a1a" stroke-width="0.18" text-anchor="end" transform="translate(240.3,120.7) rotate(-45)">0</text>
<line x1="249.7" y1="110.8" x2="249.7" y2="113.1" stroke="#2e2e2e" stroke-width="0.9"/>
<text font-family="Liberation Sans, sans-serif" font-size="6.4" fill="#1a1a1a" stroke="#1a1a1a" stroke-width="0.18" text-anchor="end" transform="translate(253,120.7) rotate(-45)">500</text>
<line x1="262.4" y1="110.8" x2="262.4" y2="113.1" stroke="#2e2e2e" stroke-width="0.9"/>
<text font-family="Liberation Sans, sans-serif" font-size="6.4" fill="#1a1a1a" stroke="#1a1a1a" stroke-width="0.18" text-anchor="end" transform="translate(265.8,120.7) rotate(-45)">1000</text>
<line x1="275.2" y1="110.8" x2="275.2" y2="113.1" stroke="#2e2e2e" stroke-width="0.9"/>
<text font-family="Liberation Sans, sans-serif" font-size="6.4" fill="#1a1a1a" stroke="#1a1a1a" stroke-width="0.18" text-anchor="end" transform="translate(278.5,120.7) rotate(-45)">1500</text>
<line x1="287.9" y1="110.8" x2="287.9" y2="113.1" stroke="#2e2e2e" stroke-width="0.9"/>
<text font-family="Liberation Sans, sans-serif" font-size="6.4" fill="#1a1a1a" stroke="#1a1a1a" stroke-width="0.18" text-anchor="end" transform="translate(291.2,120.7) rotate(-45)">2000</text>
<line x1="300.6" y1="110.8" x2="300.6" y2="113.1" stroke="#2e2e2e" stroke-width="0.9"/>
<text font-family="Liberation Sans, sans-serif" font-size="6.4" fill="#1a1a1a" stroke="#1a1a1a" stroke-width="0.18" text-anchor="end" transform="translate(303.9,120.7) rotate(-45)">2500</text>
<line x1="313.4" y1="110.8" x2="313.4" y2="113.1" stroke="#2e2e2e" stroke-width="0.9"/>
<text font-family="Liberation Sans, sans-serif" font-size="6.4" fill="#1a1a1a" stroke="#1a1a1a" stroke-width="0.18" text-anchor="end" transform="translate(316.7,120.7) rotate(-45)">3000</text>
<line x1="326.1" y1="110.8" x2="326.1" y2="113.1" stroke="#2e2e2e" stroke-width="0.9"/>
<text font-family="Liberation Sans, sans-serif" font-size="6.4" fill="#1a1a1a" stroke="#1a1a1a" stroke-width="0.18" text-anchor="end" transform="translate(329.4,120.7) rotate(-45)">3500</text>
<line x1="338.8" y1="110.8" x2="338.8" y2="113.1" stroke="#2e2e2e" stroke-width="0.9"/>
<text font-family="Liberation Sans, sans-serif" font-size="6.4" fill="#1a1a1a" stroke="#1a1a1a" stroke-width="0.18" text-anchor="end" transform="translate(342.1,120.7) rotate(-45)">4000</text>
<line x1="351.5" y1="110.8" x2="351.5" y2="113.1" stroke="#2e2e2e" stroke-width="0.9"/>
<text font-family="Liberation Sans, sans-serif" font-size="6.4" fill="#1a1a1a" stroke="#1a1a1a" stroke-width="0.18" text-anchor="end" transform="translate(354.8,120.7) rotate(-45)">4500</text>
<text x="295.6" y="141.2" font-family="Liberation Sans, sans-serif" font-size="7" font-weight="bold" fill="#1e1e1e" text-anchor="middle" textLength="25.3" lengthAdjust="spacingAndGlyphs">Area [µ2]</text>
<text font-family="Liberation Sans, sans-serif" font-size="6.6" fill="#151515" stroke="#151515" stroke-width="0.12" text-anchor="middle" textLength="26.6" lengthAdjust="spacingAndGlyphs" font-weight="bold" transform="translate(215,67.5) rotate(-90)">Frequency</text>
<rect x="396.5" y="110.2" width="0.9" height="0.6" fill="rgb(182,152,182)"/>
<rect x="396.5" y="105.3" width="0.9" height="4.9" fill="rgb(172,210,233)"/>
<rect x="397.7" y="108.7" width="0.9" height="2.1" fill="rgb(182,152,182)"/>
<rect x="397.7" y="103.4" width="0.9" height="5.3" fill="rgb(172,210,233)"/>
<rect x="398.8" y="105.1" width="0.9" height="5.7" fill="rgb(182,152,182)"/>
<rect x="398.8" y="99.6" width="0.9" height="5.5" fill="rgb(172,210,233)"/>
<rect x="400" y="101.9" width="0.9" height="8.9" fill="rgb(182,152,182)"/>
<rect x="400" y="94.3" width="0.9" height="7.6" fill="rgb(172,210,233)"/>
<rect x="401.1" y="92.6" width="0.9" height="18.2" fill="rgb(182,152,182)"/>
<rect x="401.1" y="87.7" width="0.9" height="5" fill="rgb(172,210,233)"/>
<rect x="402.3" y="87.3" width="0.9" height="23.5" fill="rgb(182,152,182)"/>
<rect x="402.3" y="80.2" width="0.9" height="7.1" fill="rgb(172,210,233)"/>
<rect x="403.4" y="79.1" width="0.9" height="31.7" fill="rgb(182,152,182)"/>
<rect x="403.4" y="73.4" width="0.9" height="5.7" fill="rgb(172,210,233)"/>
<rect x="404.6" y="68.6" width="0.9" height="42.2" fill="rgb(182,152,182)"/>
<rect x="404.6" y="63.4" width="0.9" height="5.3" fill="rgb(172,210,233)"/>
<rect x="405.7" y="64.8" width="0.9" height="46" fill="rgb(182,152,182)"/>
<rect x="405.7" y="50.3" width="0.9" height="14.4" fill="rgb(172,210,233)"/>
<rect x="406.9" y="42.3" width="0.9" height="68.5" fill="rgb(182,152,182)"/>
<rect x="406.9" y="38.9" width="0.9" height="3.4" fill="rgb(172,210,233)"/>
<rect x="408" y="49.6" width="0.9" height="61.2" fill="rgb(182,152,182)"/>
<rect x="408" y="42" width="0.9" height="7.6" fill="rgb(172,210,233)"/>
<rect x="409.1" y="52.1" width="0.9" height="58.7" fill="rgb(182,152,182)"/>
<rect x="409.1" y="39.7" width="0.9" height="12.4" fill="rgb(172,210,233)"/>
<rect x="410.3" y="56.4" width="0.9" height="54.4" fill="rgb(182,152,182)"/>
<rect x="410.3" y="39.7" width="0.9" height="16.7" fill="rgb(172,210,233)"/>
<rect x="411.4" y="57.1" width="0.9" height="53.7" fill="rgb(182,152,182)"/>
<rect x="411.4" y="39.2" width="0.9" height="17.9" fill="rgb(172,210,233)"/>
<rect x="412.6" y="57.4" width="0.9" height="53.4" fill="rgb(182,152,182)"/>
<rect x="412.6" y="44" width="0.9" height="13.4" fill="rgb(172,210,233)"/>
<rect x="413.7" y="58.2" width="0.9" height="52.6" fill="rgb(182,152,182)"/>
<rect x="413.7" y="50.3" width="0.9" height="7.9" fill="rgb(172,210,233)"/>
<rect x="414.9" y="65.6" width="0.9" height="45.2" fill="rgb(182,152,182)"/>
<rect x="414.9" y="60.5" width="0.9" height="5.1" fill="rgb(235,180,196)"/>
<rect x="416" y="71.4" width="0.9" height="39.4" fill="rgb(182,152,182)"/>
<rect x="416" y="61" width="0.9" height="10.4" fill="rgb(235,180,196)"/>
<rect x="417.2" y="82.5" width="0.9" height="28.3" fill="rgb(182,152,182)"/>
<rect x="417.2" y="68.6" width="0.9" height="13.9" fill="rgb(235,180,196)"/>
<rect x="418.3" y="87.3" width="0.9" height="23.5" fill="rgb(182,152,182)"/>
<rect x="418.3" y="81.5" width="0.9" height="5.8" fill="rgb(235,180,196)"/>
<rect x="419.4" y="96" width="0.9" height="14.8" fill="rgb(182,152,182)"/>
<rect x="419.4" y="82.6" width="0.9" height="13.4" fill="rgb(235,180,196)"/>
<rect x="420.6" y="99" width="0.9" height="11.8" fill="rgb(182,152,182)"/>
<rect x="420.6" y="84.8" width="0.9" height="14.2" fill="rgb(235,180,196)"/>
<rect x="421.7" y="103.6" width="0.9" height="7.2" fill="rgb(182,152,182)"/>
<rect x="421.7" y="94.4" width="0.9" height="9.2" fill="rgb(235,180,196)"/>
<rect x="422.9" y="106" width="0.9" height="4.8" fill="rgb(182,152,182)"/>
<rect x="422.9" y="93.3" width="0.9" height="12.6" fill="rgb(235,180,196)"/>
<rect x="424" y="108" width="0.9" height="2.8" fill="rgb(182,152,182)"/>
<rect x="424" y="98.5" width="0.9" height="9.5" fill="rgb(235,180,196)"/>
<rect x="425.2" y="109.2" width="0.9" height="1.6" fill="rgb(182,152,182)"/>
<rect x="425.2" y="99.4" width="0.9" height="9.8" fill="rgb(235,180,196)"/>
<rect x="426.3" y="109.9" width="0.9" height="0.9" fill="rgb(182,152,182)"/>
<rect x="426.3" y="102.9" width="0.9" height="7" fill="rgb(235,180,196)"/>
<rect x="427.5" y="110.3" width="0.9" height="0.5" fill="rgb(182,152,182)"/>
<rect x="427.5" y="103.8" width="0.9" height="6.6" fill="rgb(235,180,196)"/>
<rect x="428.6" y="110.6" width="0.9" height="0.2" fill="rgb(182,152,182)"/>
<rect x="428.6" y="105.4" width="0.9" height="5.2" fill="rgb(235,180,196)"/>
<rect x="429.8" y="107" width="0.9" height="3.8" fill="rgb(235,180,196)"/>
<rect x="430.9" y="107.1" width="0.9" height="3.7" fill="rgb(235,180,196)"/>
<rect x="432" y="107.8" width="0.9" height="3" fill="rgb(235,180,196)"/>
<rect x="433.2" y="108.7" width="0.9" height="2.1" fill="rgb(235,180,196)"/>
<rect x="434.3" y="109.2" width="0.9" height="1.6" fill="rgb(235,180,196)"/>
<rect x="435.5" y="109.3" width="0.9" height="1.5" fill="rgb(235,180,196)"/>
<rect x="436.6" y="109.8" width="0.9" height="1" fill="rgb(235,180,196)"/>
<rect x="437.8" y="109.9" width="0.9" height="0.9" fill="rgb(235,180,196)"/>
<rect x="438.9" y="110.2" width="0.9" height="0.6" fill="rgb(235,180,196)"/>
<rect x="440.1" y="110.3" width="0.9" height="0.5" fill="rgb(235,180,196)"/>
<rect x="441.2" y="110.4" width="0.9" height="0.4" fill="rgb(235,180,196)"/>
<rect x="442.4" y="110.5" width="0.9" height="0.3" fill="rgb(235,180,196)"/>
<rect x="443.5" y="110.6" width="0.9" height="0.2" fill="rgb(235,180,196)"/>
<rect x="444.6" y="110.6" width="0.9" height="0.2" fill="rgb(235,180,196)"/>
<rect x="445.8" y="110.7" width="0.9" height="0.1" fill="rgb(235,180,196)"/>
<rect x="446.9" y="110.7" width="0.9" height="0.1" fill="rgb(235,180,196)"/>
<rect x="448.1" y="110.7" width="0.9" height="0.1" fill="rgb(235,180,196)"/>
<rect x="449.2" y="110.7" width="0.9" height="0.1" fill="rgb(235,180,196)"/>
<rect x="450.4" y="110.8" width="0.9" height="0" fill="rgb(235,180,196)"/>
<rect x="451.5" y="110.8" width="0.9" height="0" fill="rgb(235,180,196)"/>
<rect x="452.7" y="110.8" width="0.9" height="0" fill="rgb(235,180,196)"/>
<rect x="453.8" y="110.8" width="0.9" height="0" fill="rgb(235,180,196)"/>
<rect x="455" y="110.8" width="0.9" height="0" fill="rgb(235,180,196)"/>
<rect x="456.1" y="110.8" width="0.9" height="0" fill="rgb(235,180,196)"/>
<rect x="457.2" y="110.8" width="0.9" height="0" fill="rgb(235,180,196)"/>
<rect x="458.4" y="110.8" width="0.9" height="0" fill="rgb(235,180,196)"/>
<rect x="459.5" y="110.8" width="0.9" height="0" fill="rgb(235,180,196)"/>
<rect x="460.7" y="110.8" width="0.9" height="0" fill="rgb(235,180,196)"/>
<rect x="461.8" y="110.8" width="0.9" height="0" fill="rgb(235,180,196)"/>
<rect x="463" y="110.8" width="0.9" height="0" fill="rgb(235,180,196)"/>
<rect x="464.1" y="110.8" width="0.9" height="0" fill="rgb(235,180,196)"/>
<rect x="465.3" y="110.8" width="0.9" height="0" fill="rgb(235,180,196)"/>
<rect x="466.4" y="110.8" width="0.9" height="0" fill="rgb(235,180,196)"/>
<rect x="467.6" y="110.8" width="0.9" height="0" fill="rgb(235,180,196)"/>
<rect x="468.7" y="110.8" width="0.9" height="0" fill="rgb(235,180,196)"/>
<path d="M397.2,104.7 L397.5,104 L397.8,103.2 L398,102.4 L398.3,101.5 L398.6,100.5 L398.8,99.4 L399.1,98.3 L399.4,97.1 L399.7,95.8 L399.9,94.4 L400.2,92.9 L400.5,91.4 L400.7,89.7 L401,88 L401.3,86.2 L401.6,84.3 L401.8,82.3 L402.1,80.3 L402.4,78.1 L402.7,76 L402.9,73.7 L403.2,71.4 L403.5,69.1 L403.7,66.7 L404,64.4 L404.3,62 L404.6,59.6 L404.8,57.2 L405.1,54.8 L405.4,52.4 L405.7,50.1 L405.9,47.9 L406.2,45.7 L406.5,43.7 L406.7,41.7 L407,39.8 L407.3,38 L407.6,36.4 L407.8,34.9 L408.1,33.6 L408.4,32.5 L408.7,31.5 L408.9,30.7 L409.2,30 L409.5,29.6 L409.7,29.3 L410,29.3 L410.3,29.4 L410.6,29.7 L410.8,30.2 L411.1,30.9 L411.4,31.7 L411.6,32.7 L411.9,33.9 L412.2,35.2 L412.5,36.7 L412.7,38.3 L413,40 L413.3,41.9 L413.6,43.8 L413.8,45.9 L414.1,48 L414.4,50.2 L414.6,52.4 L414.9,54.7 L415.2,57 L415.5,59.3 L415.7,61.7 L416,64 L416.3,66.4 L416.6,68.7 L416.8,71 L417.1,73.2 L417.4,75.4 L417.6,77.5 L417.9,79.6 L418.2,81.6 L418.5,83.6 L418.7,85.5 L419,87.3 L419.3,89 L419.5,90.6 L419.8,92.2 L420.1,93.7 L420.4,95.1 L420.6,96.4 L420.9,97.6 L421.2,98.8 L421.5,99.8 L421.7,100.9 L422,101.8 L422.3,102.7 L422.5,103.4 L422.8,104.2 L423.1,104.9 L423.4,105.5 L423.6,106 L423.9,106.6 L424.2,107 L424.5,107.4 L424.7,107.8 L425,108.2 L425.3,108.5 L425.5,108.8 L425.8,109 L426.1,109.2 L426.4,109.4 L426.6,109.6 L426.9,109.8 L427.2,109.9 L427.5,110 L427.7,110.1 L428,110.2 L428.3,110.3 L428.5,110.4 L428.8,110.4 L429.1,110.5 L429.4,110.5 L429.6,110.6" fill="none" stroke="#2b70b2" stroke-width="1.4" stroke-linejoin="round" stroke-opacity="1"/><path d="M397.2,104.7 L397.5,104 L397.8,103.2 L398,102.4 L398.3,101.5 L398.6,100.5 L398.8,99.4 L399.1,98.3 L399.4,97.1 L399.7,95.8 L399.9,94.4 L400.2,92.9 L400.5,91.4 L400.7,89.7 L401,88 L401.3,86.2 L401.6,84.3 L401.8,82.3 L402.1,80.3 L402.4,78.1 L402.7,76 L402.9,73.7 L403.2,71.4 L403.5,69.1 L403.7,66.7 L404,64.4 L404.3,62 L404.6,59.6 L404.8,57.2 L405.1,54.8 L405.4,52.4 L405.7,50.1 L405.9,47.9 L406.2,45.7 L406.5,43.7 L406.7,41.7 L407,39.8 L407.3,38 L407.6,36.4 L407.8,34.9 L408.1,33.6 L408.4,32.5 L408.7,31.5 L408.9,30.7 L409.2,30 L409.5,29.6 L409.7,29.3 L410,29.3 L410.3,29.4 L410.6,29.7 L410.8,30.2 L411.1,30.9 L411.4,31.7 L411.6,32.7 L411.9,33.9 L412.2,35.2 L412.5,36.7 L412.7,38.3 L413,40 L413.3,41.9 L413.6,43.8 L413.8,45.9 L414.1,48 L414.4,50.2 L414.6,52.4 L414.9,54.7 L415.2,57 L415.5,59.3 L415.7,61.7 L416,64 L416.3,66.4 L416.6,68.7 L416.8,71 L417.1,73.2 L417.4,75.4 L417.6,77.5 L417.9,79.6 L418.2,81.6 L418.5,83.6 L418.7,85.5 L419,87.3 L419.3,89 L419.5,90.6 L419.8,92.2 L420.1,93.7 L420.4,95.1 L420.6,96.4 L420.9,97.6 L421.2,98.8 L421.5,99.8 L421.7,100.9 L422,101.8 L422.3,102.7 L422.5,103.4 L422.8,104.2 L423.1,104.9 L423.4,105.5 L423.6,106 L423.9,106.6 L424.2,107 L424.5,107.4 L424.7,107.8 L425,108.2 L425.3,108.5 L425.5,108.8 L425.8,109 L426.1,109.2 L426.4,109.4 L426.6,109.6 L426.9,109.8 L427.2,109.9 L427.5,110 L427.7,110.1 L428,110.2 L428.3,110.3 L428.5,110.4 L428.8,110.4 L429.1,110.5 L429.4,110.5 L429.6,110.6" fill="none" stroke="#7a86b0" stroke-width="1.4" stroke-linejoin="round" clip-path="url(#uc2)"/>
<path d="M397.6,109.6 L397.8,109.2 L398.1,108.9 L398.3,108.4 L398.6,107.8 L398.8,107.2 L399.1,106.4 L399.3,105.6 L399.6,104.7 L399.8,103.6 L400.1,102.5 L400.3,101.2 L400.6,99.8 L400.8,98.3 L401.1,96.7 L401.3,94.9 L401.6,93.1 L401.8,91.2 L402.1,89.2 L402.3,87.1 L402.6,84.9 L402.8,82.7 L403.1,80.4 L403.3,78.1 L403.6,75.7 L403.8,73.4 L404.1,71 L404.3,68.6 L404.6,66.3 L404.8,64 L405.1,61.7 L405.3,59.5 L405.6,57.4 L405.8,55.3 L406.1,53.3 L406.3,51.5 L406.6,49.7 L406.8,48 L407.1,46.5 L407.3,45 L407.6,43.7 L407.8,42.5 L408.1,41.4 L408.3,40.5 L408.5,39.7 L408.8,39 L409,38.5 L409.3,38.1 L409.5,37.8 L409.8,37.6 L410,37.6 L410.3,37.7 L410.5,37.8 L410.8,38.1 L411,38.5 L411.3,39 L411.5,39.6 L411.8,40.3 L412,41 L412.3,41.9 L412.5,42.8 L412.8,43.8 L413,44.8 L413.3,45.9 L413.5,47 L413.8,48.2 L414,49.4 L414.3,50.7 L414.5,52 L414.8,53.3 L415,54.6 L415.3,56 L415.5,57.3 L415.8,58.7 L416,60.1 L416.3,61.5 L416.5,62.8 L416.8,64.2 L417,65.6 L417.3,66.9 L417.5,68.3 L417.8,69.6 L418,70.9 L418.3,72.2 L418.5,73.5 L418.8,74.7 L419,76 L419.3,77.2 L419.5,78.4 L419.8,79.5 L420,80.7 L420.3,81.8 L420.5,82.9 L420.8,83.9 L421,84.9 L421.3,85.9 L421.5,86.9 L421.8,87.8 L422,88.8 L422.3,89.6 L422.5,90.5 L422.8,91.3 L423,92.1 L423.3,92.9 L423.5,93.7 L423.8,94.4 L424,95.1 L424.3,95.8 L424.5,96.4 L424.8,97 L425,97.6 L425.3,98.2 L425.5,98.8 L425.8,99.3 L426,99.8 L426.3,100.3 L426.5,100.8 L426.8,101.2 L427,101.7 L427.3,102.1 L427.5,102.5 L427.8,102.9 L428,103.3 L428.3,103.6 L428.5,104 L428.8,104.3 L429,104.6 L429.3,104.9 L429.5,105.2 L429.8,105.4 L430,105.7 L430.3,105.9 L430.5,106.2 L430.8,106.4 L431,106.6 L431.3,106.8 L431.5,107 L431.8,107.2 L432,107.4 L432.3,107.6 L432.5,107.7 L432.8,107.9 L433,108 L433.3,108.2 L433.5,108.3 L433.8,108.4 L434,108.5 L434.3,108.6 L434.5,108.8 L434.8,108.9 L435,109 L435.3,109.1 L435.5,109.1 L435.8,109.2 L436,109.3 L436.3,109.4 L436.5,109.5 L436.8,109.5 L437,109.6 L437.3,109.7" fill="none" stroke="#8e1038" stroke-width="1.8" stroke-linejoin="round" stroke-opacity="1"/>
<line x1="394" y1="26" x2="394" y2="111.4" stroke="#2e2e2e" stroke-width="1.3"/>
<line x1="391.4" y1="110.8" x2="510.5" y2="110.8" stroke="#2e2e2e" stroke-width="1.3"/>
<line x1="391.6" y1="110.8" x2="394" y2="110.8" stroke="#2e2e2e" stroke-width="0.9"/>
<text x="388.1" y="113.1" font-family="Liberation Sans, sans-serif" font-size="6.4" fill="#1a1a1a" stroke="#1a1a1a" stroke-width="0.18" text-anchor="end">0</text>
<line x1="391.6" y1="83.1" x2="394" y2="83.1" stroke="#2e2e2e" stroke-width="0.9"/>
<text x="388.1" y="85.4" font-family="Liberation Sans, sans-serif" font-size="6.4" fill="#1a1a1a" stroke="#1a1a1a" stroke-width="0.18" text-anchor="end">50</text>
<line x1="391.6" y1="55.3" x2="394" y2="55.3" stroke="#2e2e2e" stroke-width="0.9"/>
<text x="388.1" y="57.6" font-family="Liberation Sans, sans-serif" font-size="6.4" fill="#1a1a1a" stroke="#1a1a1a" stroke-width="0.18" text-anchor="end">100</text>
<line x1="391.6" y1="27.6" x2="394" y2="27.6" stroke="#2e2e2e" stroke-width="0.9"/>
<text x="388.1" y="29.9" font-family="Liberation Sans, sans-serif" font-size="6.4" fill="#1a1a1a" stroke="#1a1a1a" stroke-width="0.18" text-anchor="end">150</text>
<line x1="394" y1="110.8" x2="394" y2="113.1" stroke="#2e2e2e" stroke-width="0.9"/>
<text font-family="Liberation Sans, sans-serif" font-size="6.4" fill="#1a1a1a" stroke="#1a1a1a" stroke-width="0.18" text-anchor="end" transform="translate(397.3,120.7) rotate(-45)">0</text>
<line x1="406.7" y1="110.8" x2="406.7" y2="113.1" stroke="#2e2e2e" stroke-width="0.9"/>
<text font-family="Liberation Sans, sans-serif" font-size="6.4" fill="#1a1a1a" stroke="#1a1a1a" stroke-width="0.18" text-anchor="end" transform="translate(410,120.7) rotate(-45)">500</text>
<line x1="419.4" y1="110.8" x2="419.4" y2="113.1" stroke="#2e2e2e" stroke-width="0.9"/>
<text font-family="Liberation Sans, sans-serif" font-size="6.4" fill="#1a1a1a" stroke="#1a1a1a" stroke-width="0.18" text-anchor="end" transform="translate(422.8,120.7) rotate(-45)">1000</text>
<line x1="432.2" y1="110.8" x2="432.2" y2="113.1" stroke="#2e2e2e" stroke-width="0.9"/>
<text font-family="Liberation Sans, sans-serif" font-size="6.4" fill="#1a1a1a" stroke="#1a1a1a" stroke-width="0.18" text-anchor="end" transform="translate(435.5,120.7) rotate(-45)">1500</text>
<line x1="444.9" y1="110.8" x2="444.9" y2="113.1" stroke="#2e2e2e" stroke-width="0.9"/>
<text font-family="Liberation Sans, sans-serif" font-size="6.4" fill="#1a1a1a" stroke="#1a1a1a" stroke-width="0.18" text-anchor="end" transform="translate(448.2,120.7) rotate(-45)">2000</text>
<line x1="457.6" y1="110.8" x2="457.6" y2="113.1" stroke="#2e2e2e" stroke-width="0.9"/>
<text font-family="Liberation Sans, sans-serif" font-size="6.4" fill="#1a1a1a" stroke="#1a1a1a" stroke-width="0.18" text-anchor="end" transform="translate(460.9,120.7) rotate(-45)">2500</text>
<line x1="470.4" y1="110.8" x2="470.4" y2="113.1" stroke="#2e2e2e" stroke-width="0.9"/>
<text font-family="Liberation Sans, sans-serif" font-size="6.4" fill="#1a1a1a" stroke="#1a1a1a" stroke-width="0.18" text-anchor="end" transform="translate(473.7,120.7) rotate(-45)">3000</text>
<line x1="483.1" y1="110.8" x2="483.1" y2="113.1" stroke="#2e2e2e" stroke-width="0.9"/>
<text font-family="Liberation Sans, sans-serif" font-size="6.4" fill="#1a1a1a" stroke="#1a1a1a" stroke-width="0.18" text-anchor="end" transform="translate(486.4,120.7) rotate(-45)">3500</text>
<line x1="495.8" y1="110.8" x2="495.8" y2="113.1" stroke="#2e2e2e" stroke-width="0.9"/>
<text font-family="Liberation Sans, sans-serif" font-size="6.4" fill="#1a1a1a" stroke="#1a1a1a" stroke-width="0.18" text-anchor="end" transform="translate(499.1,120.7) rotate(-45)">4000</text>
<line x1="508.5" y1="110.8" x2="508.5" y2="113.1" stroke="#2e2e2e" stroke-width="0.9"/>
<text font-family="Liberation Sans, sans-serif" font-size="6.4" fill="#1a1a1a" stroke="#1a1a1a" stroke-width="0.18" text-anchor="end" transform="translate(511.8,120.7) rotate(-45)">4500</text>
<text x="452.6" y="141.2" font-family="Liberation Sans, sans-serif" font-size="7" font-weight="bold" fill="#1e1e1e" text-anchor="middle" textLength="25.3" lengthAdjust="spacingAndGlyphs">Area [µ2]</text>
<text font-family="Liberation Sans, sans-serif" font-size="6.6" fill="#151515" stroke="#151515" stroke-width="0.12" text-anchor="middle" textLength="26.6" lengthAdjust="spacingAndGlyphs" font-weight="bold" transform="translate(372,67.5) rotate(-90)">Frequency</text>
<rect x="255.9" y="232.8" width="1.1" height="11.6" fill="rgb(186,165,165)"/>
<rect x="255.9" y="232.2" width="1.1" height="0.6" fill="rgb(245,195,172)"/>
<rect x="257.2" y="232.5" width="1.1" height="11.9" fill="rgb(186,165,165)"/>
<rect x="257.2" y="214.6" width="1.1" height="17.9" fill="rgb(172,210,233)"/>
<rect x="258.6" y="226.7" width="1.1" height="17.7" fill="rgb(186,165,165)"/>
<rect x="258.6" y="202.2" width="1.1" height="24.6" fill="rgb(172,210,233)"/>
<rect x="259.9" y="229.6" width="1.1" height="14.8" fill="rgb(186,165,165)"/>
<rect x="259.9" y="188.7" width="1.1" height="40.9" fill="rgb(172,210,233)"/>
<rect x="261.2" y="227.2" width="1.1" height="17.2" fill="rgb(186,165,165)"/>
<rect x="261.2" y="179.6" width="1.1" height="47.6" fill="rgb(172,210,233)"/>
<rect x="262.6" y="225.3" width="1.1" height="19.1" fill="rgb(186,165,165)"/>
<rect x="262.6" y="182.7" width="1.1" height="42.5" fill="rgb(172,210,233)"/>
<rect x="263.9" y="215.3" width="1.1" height="29.1" fill="rgb(186,165,165)"/>
<rect x="263.9" y="196.8" width="1.1" height="18.5" fill="rgb(172,210,233)"/>
<rect x="265.2" y="214.5" width="1.1" height="29.9" fill="rgb(186,165,165)"/>
<rect x="265.2" y="202.5" width="1.1" height="12" fill="rgb(172,210,233)"/>
<rect x="266.5" y="221.4" width="1.1" height="23" fill="rgb(186,165,165)"/>
<rect x="266.5" y="209.4" width="1.1" height="12" fill="rgb(172,210,233)"/>
<rect x="267.9" y="217.1" width="1.1" height="27.3" fill="rgb(186,165,165)"/>
<rect x="267.9" y="210.5" width="1.1" height="6.6" fill="rgb(245,195,172)"/>
<rect x="269.2" y="221.6" width="1.1" height="22.8" fill="rgb(186,165,165)"/>
<rect x="269.2" y="217.7" width="1.1" height="3.9" fill="rgb(245,195,172)"/>
<rect x="270.5" y="226.6" width="1.1" height="17.8" fill="rgb(186,165,165)"/>
<rect x="270.5" y="217" width="1.1" height="9.5" fill="rgb(245,195,172)"/>
<rect x="271.9" y="232.5" width="1.1" height="11.9" fill="rgb(186,165,165)"/>
<rect x="271.9" y="213.5" width="1.1" height="19" fill="rgb(245,195,172)"/>
<rect x="273.2" y="235.3" width="1.1" height="9.1" fill="rgb(186,165,165)"/>
<rect x="273.2" y="218.2" width="1.1" height="17.1" fill="rgb(245,195,172)"/>
<rect x="274.5" y="238.3" width="1.1" height="6.1" fill="rgb(186,165,165)"/>
<rect x="274.5" y="210.4" width="1.1" height="27.9" fill="rgb(245,195,172)"/>
<rect x="275.9" y="239.5" width="1.1" height="4.9" fill="rgb(186,165,165)"/>
<rect x="275.9" y="218" width="1.1" height="21.5" fill="rgb(245,195,172)"/>
<rect x="277.2" y="240.2" width="1.1" height="4.2" fill="rgb(186,165,165)"/>
<rect x="277.2" y="217.1" width="1.1" height="23.2" fill="rgb(245,195,172)"/>
<rect x="278.5" y="241.7" width="1.1" height="2.7" fill="rgb(186,165,165)"/>
<rect x="278.5" y="218.5" width="1.1" height="23.2" fill="rgb(245,195,172)"/>
<rect x="279.8" y="242.4" width="1.1" height="2" fill="rgb(186,165,165)"/>
<rect x="279.8" y="222.6" width="1.1" height="19.8" fill="rgb(245,195,172)"/>
<rect x="281.2" y="242.9" width="1.1" height="1.5" fill="rgb(186,165,165)"/>
<rect x="281.2" y="220.2" width="1.1" height="22.7" fill="rgb(245,195,172)"/>
<rect x="282.5" y="243.3" width="1.1" height="1.1" fill="rgb(186,165,165)"/>
<rect x="282.5" y="219.9" width="1.1" height="23.4" fill="rgb(245,195,172)"/>
<rect x="283.8" y="243.6" width="1.1" height="0.8" fill="rgb(186,165,165)"/>
<rect x="283.8" y="224.7" width="1.1" height="18.9" fill="rgb(245,195,172)"/>
<rect x="285.2" y="243.9" width="1.1" height="0.5" fill="rgb(186,165,165)"/>
<rect x="285.2" y="229.7" width="1.1" height="14.2" fill="rgb(245,195,172)"/>
<rect x="286.5" y="244" width="1.1" height="0.4" fill="rgb(186,165,165)"/>
<rect x="286.5" y="226.7" width="1.1" height="17.3" fill="rgb(245,195,172)"/>
<rect x="287.8" y="244.1" width="1.1" height="0.3" fill="rgb(186,165,165)"/>
<rect x="287.8" y="229.1" width="1.1" height="15" fill="rgb(245,195,172)"/>
<rect x="289.2" y="244.2" width="1.1" height="0.2" fill="rgb(186,165,165)"/>
<rect x="289.2" y="231.5" width="1.1" height="12.7" fill="rgb(245,195,172)"/>
<rect x="290.5" y="244.2" width="1.1" height="0.2" fill="rgb(186,165,165)"/>
<rect x="290.5" y="232.1" width="1.1" height="12.2" fill="rgb(245,195,172)"/>
<rect x="291.8" y="244.3" width="1.1" height="0.1" fill="rgb(186,165,165)"/>
<rect x="291.8" y="234.9" width="1.1" height="9.4" fill="rgb(245,195,172)"/>
<rect x="293.1" y="244.3" width="1.1" height="0.1" fill="rgb(186,165,165)"/>
<rect x="293.1" y="235.8" width="1.1" height="8.5" fill="rgb(245,195,172)"/>
<rect x="294.5" y="244.3" width="1.1" height="0.1" fill="rgb(186,165,165)"/>
<rect x="294.5" y="236.1" width="1.1" height="8.2" fill="rgb(245,195,172)"/>
<rect x="295.8" y="244.3" width="1.1" height="0.1" fill="rgb(186,165,165)"/>
<rect x="295.8" y="238.3" width="1.1" height="6" fill="rgb(245,195,172)"/>
<rect x="297.1" y="244.4" width="1.1" height="0" fill="rgb(186,165,165)"/>
<rect x="297.1" y="237.8" width="1.1" height="6.6" fill="rgb(245,195,172)"/>
<rect x="298.5" y="244.4" width="1.1" height="0" fill="rgb(186,165,165)"/>
<rect x="298.5" y="239.5" width="1.1" height="4.9" fill="rgb(245,195,172)"/>
<rect x="299.8" y="244.4" width="1.1" height="0" fill="rgb(186,165,165)"/>
<rect x="299.8" y="239.9" width="1.1" height="4.4" fill="rgb(245,195,172)"/>
<rect x="301.1" y="244.4" width="1.1" height="0" fill="rgb(186,165,165)"/>
<rect x="301.1" y="239.5" width="1.1" height="4.9" fill="rgb(245,195,172)"/>
<rect x="302.5" y="244.4" width="1.1" height="0" fill="rgb(186,165,165)"/>
<rect x="302.5" y="240.5" width="1.1" height="3.8" fill="rgb(245,195,172)"/>
<rect x="303.8" y="244.4" width="1.1" height="0" fill="rgb(186,165,165)"/>
<rect x="303.8" y="241.5" width="1.1" height="2.9" fill="rgb(245,195,172)"/>
<rect x="305.1" y="244.4" width="1.1" height="0" fill="rgb(186,165,165)"/>
<rect x="305.1" y="241.4" width="1.1" height="3" fill="rgb(245,195,172)"/>
<rect x="306.4" y="244.4" width="1.1" height="0" fill="rgb(186,165,165)"/>
<rect x="306.4" y="241.5" width="1.1" height="2.9" fill="rgb(245,195,172)"/>
<rect x="307.8" y="244.4" width="1.1" height="0" fill="rgb(186,165,165)"/>
<rect x="307.8" y="242" width="1.1" height="2.4" fill="rgb(245,195,172)"/>
<rect x="309.1" y="244.4" width="1.1" height="0" fill="rgb(186,165,165)"/>
<rect x="309.1" y="242.4" width="1.1" height="2" fill="rgb(245,195,172)"/>
<rect x="310.4" y="244.4" width="1.1" height="0" fill="rgb(186,165,165)"/>
<rect x="310.4" y="243" width="1.1" height="1.4" fill="rgb(245,195,172)"/>
<rect x="311.8" y="244.4" width="1.1" height="0" fill="rgb(186,165,165)"/>
<rect x="311.8" y="243" width="1.1" height="1.4" fill="rgb(245,195,172)"/>
<rect x="313.1" y="244.4" width="1.1" height="0" fill="rgb(186,165,165)"/>
<rect x="313.1" y="243.2" width="1.1" height="1.2" fill="rgb(245,195,172)"/>
<rect x="314.4" y="244.4" width="1.1" height="0" fill="rgb(186,165,165)"/>
<rect x="314.4" y="243.6" width="1.1" height="0.8" fill="rgb(245,195,172)"/>
<rect x="315.8" y="244.4" width="1.1" height="0" fill="rgb(186,165,165)"/>
<rect x="315.8" y="243.5" width="1.1" height="0.9" fill="rgb(245,195,172)"/>
<rect x="317.1" y="244.4" width="1.1" height="0" fill="rgb(186,165,165)"/>
<rect x="317.1" y="243.7" width="1.1" height="0.7" fill="rgb(245,195,172)"/>
<rect x="318.4" y="244.4" width="1.1" height="0" fill="rgb(186,165,165)"/>
<rect x="318.4" y="243.8" width="1.1" height="0.6" fill="rgb(245,195,172)"/>
<rect x="319.7" y="244.4" width="1.1" height="0" fill="rgb(186,165,165)"/>
<rect x="319.7" y="243.8" width="1.1" height="0.6" fill="rgb(245,195,172)"/>
<rect x="321.1" y="244.4" width="1.1" height="0" fill="rgb(186,165,165)"/>
<rect x="321.1" y="244" width="1.1" height="0.4" fill="rgb(245,195,172)"/>
<rect x="322.4" y="244.4" width="1.1" height="0" fill="rgb(186,165,165)"/>
<rect x="322.4" y="244.1" width="1.1" height="0.3" fill="rgb(245,195,172)"/>
<path d="M255.9,236.8 L256.3,233.6 L256.6,229.7 L257,225.4 L257.3,220.7 L257.7,215.8 L258,210.7 L258.4,205.7 L258.7,200.9 L259.1,196.4 L259.4,192.3 L259.8,188.7 L260.1,185.7 L260.5,183.1 L260.8,181.2 L261.2,179.8 L261.5,179 L261.9,178.7 L262.2,178.8 L262.6,179.4 L262.9,180.3 L263.3,181.6 L263.6,183.2 L264,185 L264.3,187 L264.7,189.1 L265,191.3 L265.4,193.6 L265.7,196 L266.1,198.4 L266.4,200.8 L266.8,203.1 L267.1,205.4 L267.5,207.7 L267.8,209.9 L268.2,212 L268.5,214 L268.9,215.9 L269.2,217.8 L269.6,219.6 L270,221.3 L270.3,222.9 L270.7,224.4 L271,225.8 L271.4,227.1 L271.7,228.3 L272.1,229.5 L272.4,230.6 L272.8,231.6 L273.1,232.6 L273.5,233.5 L273.8,234.3 L274.2,235.1 L274.5,235.8 L274.9,236.4 L275.2,237 L275.6,237.6 L275.9,238.1 L276.3,238.6 L276.6,239.1 L277,239.5 L277.3,239.9 L277.7,240.2 L278,240.6 L278.4,240.9 L278.7,241.1 L279.1,241.4 L279.4,241.6 L279.8,241.9 L280.1,242.1 L280.5,242.2 L280.8,242.4 L281.2,242.6 L281.5,242.7 L281.9,242.8 L282.2,243 L282.6,243.1 L282.9,243.2 L283.3,243.3 L283.6,243.4 L284,243.5 L284.4,243.5 L284.7,243.6 L285.1,243.7 L285.4,243.7 L285.8,243.8 L286.1,243.8 L286.5,243.9 L286.8,243.9 L287.2,243.9 L287.5,244 L287.9,244 L288.2,244 L288.6,244.1 L288.9,244.1 L289.3,244.1 L289.6,244.1 L290,244.2 L290.3,244.2 L290.7,244.2 L291,244.2 L291.4,244.2 L291.7,244.2 L292.1,244.3 L292.4,244.3 L292.8,244.3 L293.1,244.3 L293.5,244.3 L293.8,244.3 L294.2,244.3 L294.5,244.3 L294.9,244.3 L295.2,244.3 L295.6,244.3 L295.9,244.3 L296.3,244.3 L296.6,244.3 L297,244.4 L297.3,244.4 L297.7,244.4" fill="none" stroke="#2b70b2" stroke-width="1.4" stroke-linejoin="round" stroke-opacity="1"/><path d="M255.9,236.8 L256.3,233.6 L256.6,229.7 L257,225.4 L257.3,220.7 L257.7,215.8 L258,210.7 L258.4,205.7 L258.7,200.9 L259.1,196.4 L259.4,192.3 L259.8,188.7 L260.1,185.7 L260.5,183.1 L260.8,181.2 L261.2,179.8 L261.5,179 L261.9,178.7 L262.2,178.8 L262.6,179.4 L262.9,180.3 L263.3,181.6 L263.6,183.2 L264,185 L264.3,187 L264.7,189.1 L265,191.3 L265.4,193.6 L265.7,196 L266.1,198.4 L266.4,200.8 L266.8,203.1 L267.1,205.4 L267.5,207.7 L267.8,209.9 L268.2,212 L268.5,214 L268.9,215.9 L269.2,217.8 L269.6,219.6 L270,221.3 L270.3,222.9 L270.7,224.4 L271,225.8 L271.4,227.1 L271.7,228.3 L272.1,229.5 L272.4,230.6 L272.8,231.6 L273.1,232.6 L273.5,233.5 L273.8,234.3 L274.2,235.1 L274.5,235.8 L274.9,236.4 L275.2,237 L275.6,237.6 L275.9,238.1 L276.3,238.6 L276.6,239.1 L277,239.5 L277.3,239.9 L277.7,240.2 L278,240.6 L278.4,240.9 L278.7,241.1 L279.1,241.4 L279.4,241.6 L279.8,241.9 L280.1,242.1 L280.5,242.2 L280.8,242.4 L281.2,242.6 L281.5,242.7 L281.9,242.8 L282.2,243 L282.6,243.1 L282.9,243.2 L283.3,243.3 L283.6,243.4 L284,243.5 L284.4,243.5 L284.7,243.6 L285.1,243.7 L285.4,243.7 L285.8,243.8 L286.1,243.8 L286.5,243.9 L286.8,243.9 L287.2,243.9 L287.5,244 L287.9,244 L288.2,244 L288.6,244.1 L288.9,244.1 L289.3,244.1 L289.6,244.1 L290,244.2 L290.3,244.2 L290.7,244.2 L291,244.2 L291.4,244.2 L291.7,244.2 L292.1,244.3 L292.4,244.3 L292.8,244.3 L293.1,244.3 L293.5,244.3 L293.8,244.3 L294.2,244.3 L294.5,244.3 L294.9,244.3 L295.2,244.3 L295.6,244.3 L295.9,244.3 L296.3,244.3 L296.6,244.3 L297,244.4 L297.3,244.4 L297.7,244.4" fill="none" stroke="#5a6478" stroke-width="1.4" stroke-linejoin="round" clip-path="url(#uc3)"/>
<path d="M255.7,234.3 L256.1,233.5 L256.5,232.7 L257,231.9 L257.4,231.1 L257.8,230.3 L258.2,229.4 L258.6,228.6 L259.1,227.7 L259.5,226.9 L259.9,226 L260.3,225.2 L260.7,224.3 L261.2,223.5 L261.6,222.6 L262,221.8 L262.4,221 L262.8,220.3 L263.3,219.5 L263.7,218.8 L264.1,218.1 L264.5,217.4 L264.9,216.8 L265.4,216.2 L265.8,215.6 L266.2,215.1 L266.6,214.6 L267,214.2 L267.5,213.8 L267.9,213.4 L268.3,213.1 L268.7,212.8 L269.1,212.5 L269.6,212.3 L270,212.2 L270.4,212 L270.8,212 L271.2,211.9 L271.6,211.9 L272.1,211.9 L272.5,212 L272.9,212.1 L273.3,212.3 L273.7,212.4 L274.2,212.6 L274.6,212.9 L275,213.2 L275.4,213.5 L275.8,213.8 L276.3,214.1 L276.7,214.5 L277.1,214.9 L277.5,215.3 L277.9,215.7 L278.4,216.2 L278.8,216.7 L279.2,217.1 L279.6,217.6 L280,218.1 L280.5,218.6 L280.9,219.2 L281.3,219.7 L281.7,220.2 L282.1,220.8 L282.6,221.3 L283,221.9 L283.4,222.4 L283.8,223 L284.2,223.5 L284.7,224 L285.1,224.6 L285.5,225.1 L285.9,225.7 L286.3,226.2 L286.7,226.7 L287.2,227.2 L287.6,227.8 L288,228.3 L288.4,228.8 L288.8,229.3 L289.3,229.7 L289.7,230.2 L290.1,230.7 L290.5,231.1 L290.9,231.6 L291.4,232 L291.8,232.4 L292.2,232.9 L292.6,233.3 L293,233.7 L293.5,234.1 L293.9,234.4 L294.3,234.8 L294.7,235.2 L295.1,235.5 L295.6,235.8 L296,236.2 L296.4,236.5 L296.8,236.8 L297.2,237.1 L297.7,237.4 L298.1,237.7 L298.5,237.9 L298.9,238.2 L299.3,238.5 L299.8,238.7 L300.2,238.9 L300.6,239.2 L301,239.4 L301.4,239.6 L301.8,239.8 L302.3,240 L302.7,240.2 L303.1,240.4 L303.5,240.5 L303.9,240.7 L304.4,240.9 L304.8,241 L305.2,241.2 L305.6,241.3 L306,241.5 L306.5,241.6 L306.9,241.7 L307.3,241.8 L307.7,242 L308.1,242.1 L308.6,242.2 L309,242.3 L309.4,242.4 L309.8,242.5 L310.2,242.6 L310.7,242.6 L311.1,242.7 L311.5,242.8 L311.9,242.9 L312.3,243 L312.8,243 L313.2,243.1 L313.6,243.2 L314,243.2 L314.4,243.3 L314.9,243.3 L315.3,243.4 L315.7,243.4 L316.1,243.5 L316.5,243.5 L316.9,243.6 L317.4,243.6 L317.8,243.6 L318.2,243.7 L318.6,243.7 L319,243.8 L319.5,243.8 L319.9,243.8 L320.3,243.8 L320.7,243.9 L321.1,243.9 L321.6,243.9 L322,243.9 L322.4,244" fill="none" stroke="#d35a28" stroke-width="1.6" stroke-linejoin="round" stroke-opacity="1"/>
<line x1="236.9" y1="158.5" x2="236.9" y2="245" stroke="#2e2e2e" stroke-width="1.3"/>
<line x1="234.3" y1="244.4" x2="353.2" y2="244.4" stroke="#2e2e2e" stroke-width="1.3"/>
<line x1="234.5" y1="244.4" x2="236.9" y2="244.4" stroke="#2e2e2e" stroke-width="0.9"/>
<text x="231" y="246.7" font-family="Liberation Sans, sans-serif" font-size="6.4" fill="#1a1a1a" stroke="#1a1a1a" stroke-width="0.18" text-anchor="end">0</text>
<line x1="234.5" y1="216.6" x2="236.9" y2="216.6" stroke="#2e2e2e" stroke-width="0.9"/>
<text x="231" y="218.9" font-family="Liberation Sans, sans-serif" font-size="6.4" fill="#1a1a1a" stroke="#1a1a1a" stroke-width="0.18" text-anchor="end">50</text>
<line x1="234.5" y1="188.8" x2="236.9" y2="188.8" stroke="#2e2e2e" stroke-width="0.9"/>
<text x="231" y="191.1" font-family="Liberation Sans, sans-serif" font-size="6.4" fill="#1a1a1a" stroke="#1a1a1a" stroke-width="0.18" text-anchor="end">100</text>
<line x1="234.5" y1="161" x2="236.9" y2="161" stroke="#2e2e2e" stroke-width="0.9"/>
<text x="231" y="163.3" font-family="Liberation Sans, sans-serif" font-size="6.4" fill="#1a1a1a" stroke="#1a1a1a" stroke-width="0.18" text-anchor="end">150</text>
<line x1="236.9" y1="244.4" x2="236.9" y2="246.7" stroke="#2e2e2e" stroke-width="0.9"/>
<text x="236.9" y="255.8" font-family="Liberation Sans, sans-serif" font-size="6.4" fill="#1a1a1a" stroke="#1a1a1a" stroke-width="0.18" text-anchor="middle">0</text>
<line x1="255.9" y1="244.4" x2="255.9" y2="246.7" stroke="#2e2e2e" stroke-width="0.9"/>
<text x="255.9" y="255.8" font-family="Liberation Sans, sans-serif" font-size="6.4" fill="#1a1a1a" stroke="#1a1a1a" stroke-width="0.18" text-anchor="middle">1</text>
<line x1="274.9" y1="244.4" x2="274.9" y2="246.7" stroke="#2e2e2e" stroke-width="0.9"/>
<text x="274.9" y="255.8" font-family="Liberation Sans, sans-serif" font-size="6.4" fill="#1a1a1a" stroke="#1a1a1a" stroke-width="0.18" text-anchor="middle">2</text>
<line x1="293.9" y1="244.4" x2="293.9" y2="246.7" stroke="#2e2e2e" stroke-width="0.9"/>
<text x="293.9" y="255.8" font-family="Liberation Sans, sans-serif" font-size="6.4" fill="#1a1a1a" stroke="#1a1a1a" stroke-width="0.18" text-anchor="middle">3</text>
<line x1="312.9" y1="244.4" x2="312.9" y2="246.7" stroke="#2e2e2e" stroke-width="0.9"/>
<text x="312.9" y="255.8" font-family="Liberation Sans, sans-serif" font-size="6.4" fill="#1a1a1a" stroke="#1a1a1a" stroke-width="0.18" text-anchor="middle">4</text>
<line x1="331.9" y1="244.4" x2="331.9" y2="246.7" stroke="#2e2e2e" stroke-width="0.9"/>
<text x="331.9" y="255.8" font-family="Liberation Sans, sans-serif" font-size="6.4" fill="#1a1a1a" stroke="#1a1a1a" stroke-width="0.18" text-anchor="middle">5</text>
<line x1="350.9" y1="244.4" x2="350.9" y2="246.7" stroke="#2e2e2e" stroke-width="0.9"/>
<text x="350.9" y="255.8" font-family="Liberation Sans, sans-serif" font-size="6.4" fill="#1a1a1a" stroke="#1a1a1a" stroke-width="0.18" text-anchor="middle">6</text>
<text x="295.2" y="266.4" font-family="Liberation Sans, sans-serif" font-size="7" font-weight="bold" fill="#1e1e1e" text-anchor="middle" textLength="48.1" lengthAdjust="spacingAndGlyphs">Aspect ratio [adim]</text>
<text font-family="Liberation Sans, sans-serif" font-size="6.6" fill="#151515" stroke="#151515" stroke-width="0.12" text-anchor="middle" textLength="25.2" lengthAdjust="spacingAndGlyphs" font-weight="bold" transform="translate(214.9,201.2) rotate(-90)">Frequency</text>
<rect x="412.9" y="229.5" width="1.1" height="14.9" fill="rgb(182,152,182)"/>
<rect x="412.9" y="226.1" width="1.1" height="3.4" fill="rgb(235,180,196)"/>
<rect x="414.2" y="216.3" width="1.1" height="28.1" fill="rgb(182,152,182)"/>
<rect x="414.2" y="202.6" width="1.1" height="13.8" fill="rgb(235,180,196)"/>
<rect x="415.6" y="201.3" width="1.1" height="43.1" fill="rgb(182,152,182)"/>
<rect x="415.6" y="186.4" width="1.1" height="14.8" fill="rgb(235,180,196)"/>
<rect x="416.9" y="193.8" width="1.1" height="50.6" fill="rgb(182,152,182)"/>
<rect x="416.9" y="184.1" width="1.1" height="9.8" fill="rgb(235,180,196)"/>
<rect x="418.2" y="190.6" width="1.1" height="53.8" fill="rgb(182,152,182)"/>
<rect x="418.2" y="186.7" width="1.1" height="3.9" fill="rgb(172,210,233)"/>
<rect x="419.5" y="185.1" width="1.1" height="59.3" fill="rgb(182,152,182)"/>
<rect x="419.5" y="183.9" width="1.1" height="1.2" fill="rgb(235,180,196)"/>
<rect x="420.9" y="198.9" width="1.1" height="45.5" fill="rgb(182,152,182)"/>
<rect x="420.9" y="188.1" width="1.1" height="10.8" fill="rgb(235,180,196)"/>
<rect x="422.2" y="205" width="1.1" height="39.4" fill="rgb(182,152,182)"/>
<rect x="422.2" y="203" width="1.1" height="2" fill="rgb(172,210,233)"/>
<rect x="423.5" y="211.1" width="1.1" height="33.3" fill="rgb(182,152,182)"/>
<rect x="423.5" y="210.9" width="1.1" height="0.2" fill="rgb(235,180,196)"/>
<rect x="424.9" y="218.9" width="1.1" height="25.5" fill="rgb(182,152,182)"/>
<rect x="424.9" y="210.9" width="1.1" height="7.9" fill="rgb(235,180,196)"/>
<rect x="426.2" y="220.9" width="1.1" height="23.5" fill="rgb(182,152,182)"/>
<rect x="426.2" y="219.5" width="1.1" height="1.4" fill="rgb(235,180,196)"/>
<rect x="427.5" y="225.8" width="1.1" height="18.6" fill="rgb(182,152,182)"/>
<rect x="427.5" y="215.5" width="1.1" height="10.3" fill="rgb(235,180,196)"/>
<rect x="428.9" y="230.6" width="1.1" height="13.8" fill="rgb(182,152,182)"/>
<rect x="428.9" y="220.2" width="1.1" height="10.4" fill="rgb(235,180,196)"/>
<rect x="430.2" y="235.3" width="1.1" height="9.1" fill="rgb(182,152,182)"/>
<rect x="430.2" y="223.6" width="1.1" height="11.6" fill="rgb(235,180,196)"/>
<rect x="431.5" y="238.3" width="1.1" height="6.1" fill="rgb(182,152,182)"/>
<rect x="431.5" y="229" width="1.1" height="9.3" fill="rgb(235,180,196)"/>
<rect x="432.9" y="239.6" width="1.1" height="4.8" fill="rgb(182,152,182)"/>
<rect x="432.9" y="229.1" width="1.1" height="10.4" fill="rgb(235,180,196)"/>
<rect x="434.2" y="240.7" width="1.1" height="3.7" fill="rgb(182,152,182)"/>
<rect x="434.2" y="232.9" width="1.1" height="7.7" fill="rgb(235,180,196)"/>
<rect x="435.5" y="241.8" width="1.1" height="2.6" fill="rgb(182,152,182)"/>
<rect x="435.5" y="234.2" width="1.1" height="7.6" fill="rgb(235,180,196)"/>
<rect x="436.8" y="242.3" width="1.1" height="2.1" fill="rgb(182,152,182)"/>
<rect x="436.8" y="236.7" width="1.1" height="5.6" fill="rgb(235,180,196)"/>
<rect x="438.2" y="242.8" width="1.1" height="1.6" fill="rgb(182,152,182)"/>
<rect x="438.2" y="237.9" width="1.1" height="4.9" fill="rgb(235,180,196)"/>
<rect x="439.5" y="243.2" width="1.1" height="1.2" fill="rgb(182,152,182)"/>
<rect x="439.5" y="237.1" width="1.1" height="6.1" fill="rgb(235,180,196)"/>
<rect x="440.8" y="243.6" width="1.1" height="0.8" fill="rgb(182,152,182)"/>
<rect x="440.8" y="239.1" width="1.1" height="4.5" fill="rgb(235,180,196)"/>
<rect x="442.2" y="243.9" width="1.1" height="0.5" fill="rgb(182,152,182)"/>
<rect x="442.2" y="238.2" width="1.1" height="5.7" fill="rgb(235,180,196)"/>
<rect x="443.5" y="243.9" width="1.1" height="0.5" fill="rgb(182,152,182)"/>
<rect x="443.5" y="239.6" width="1.1" height="4.3" fill="rgb(235,180,196)"/>
<rect x="444.8" y="244.1" width="1.1" height="0.3" fill="rgb(182,152,182)"/>
<rect x="444.8" y="240.2" width="1.1" height="3.9" fill="rgb(235,180,196)"/>
<rect x="446.2" y="244.2" width="1.1" height="0.2" fill="rgb(182,152,182)"/>
<rect x="446.2" y="240.2" width="1.1" height="3.9" fill="rgb(235,180,196)"/>
<rect x="447.5" y="244.2" width="1.1" height="0.2" fill="rgb(182,152,182)"/>
<rect x="447.5" y="241.4" width="1.1" height="2.8" fill="rgb(235,180,196)"/>
<rect x="448.8" y="244.3" width="1.1" height="0.1" fill="rgb(182,152,182)"/>
<rect x="448.8" y="242.1" width="1.1" height="2.2" fill="rgb(235,180,196)"/>
<rect x="450.1" y="244.3" width="1.1" height="0.1" fill="rgb(182,152,182)"/>
<rect x="450.1" y="242.2" width="1.1" height="2.1" fill="rgb(235,180,196)"/>
<rect x="451.5" y="244.3" width="1.1" height="0.1" fill="rgb(182,152,182)"/>
<rect x="451.5" y="242.2" width="1.1" height="2.1" fill="rgb(235,180,196)"/>
<rect x="452.8" y="244.4" width="1.1" height="0" fill="rgb(182,152,182)"/>
<rect x="452.8" y="242.7" width="1.1" height="1.7" fill="rgb(235,180,196)"/>
<rect x="454.1" y="244.4" width="1.1" height="0" fill="rgb(182,152,182)"/>
<rect x="454.1" y="242.8" width="1.1" height="1.6" fill="rgb(235,180,196)"/>
<rect x="455.5" y="244.4" width="1.1" height="0" fill="rgb(182,152,182)"/>
<rect x="455.5" y="242.7" width="1.1" height="1.7" fill="rgb(235,180,196)"/>
<rect x="456.8" y="244.4" width="1.1" height="0" fill="rgb(182,152,182)"/>
<rect x="456.8" y="243" width="1.1" height="1.3" fill="rgb(235,180,196)"/>
<rect x="458.1" y="244.4" width="1.1" height="0" fill="rgb(182,152,182)"/>
<rect x="458.1" y="243.2" width="1.1" height="1.2" fill="rgb(235,180,196)"/>
<rect x="459.5" y="244.4" width="1.1" height="0" fill="rgb(182,152,182)"/>
<rect x="459.5" y="243.4" width="1.1" height="1" fill="rgb(235,180,196)"/>
<rect x="460.8" y="244.4" width="1.1" height="0" fill="rgb(182,152,182)"/>
<rect x="460.8" y="243.4" width="1.1" height="1" fill="rgb(235,180,196)"/>
<rect x="462.1" y="244.4" width="1.1" height="0" fill="rgb(182,152,182)"/>
<rect x="462.1" y="243.3" width="1.1" height="1.1" fill="rgb(235,180,196)"/>
<rect x="463.4" y="244.4" width="1.1" height="0" fill="rgb(182,152,182)"/>
<rect x="463.4" y="243.7" width="1.1" height="0.7" fill="rgb(235,180,196)"/>
<rect x="464.8" y="244.4" width="1.1" height="0" fill="rgb(182,152,182)"/>
<rect x="464.8" y="243.5" width="1.1" height="0.9" fill="rgb(235,180,196)"/>
<rect x="466.1" y="244.4" width="1.1" height="0" fill="rgb(182,152,182)"/>
<rect x="466.1" y="243.6" width="1.1" height="0.8" fill="rgb(235,180,196)"/>
<rect x="467.4" y="244.4" width="1.1" height="0" fill="rgb(182,152,182)"/>
<rect x="467.4" y="243.8" width="1.1" height="0.6" fill="rgb(235,180,196)"/>
<rect x="468.8" y="244.4" width="1.1" height="0" fill="rgb(182,152,182)"/>
<rect x="468.8" y="243.8" width="1.1" height="0.6" fill="rgb(235,180,196)"/>
<rect x="470.1" y="244.4" width="1.1" height="0" fill="rgb(182,152,182)"/>
<rect x="470.1" y="243.9" width="1.1" height="0.5" fill="rgb(235,180,196)"/>
<rect x="471.4" y="244.4" width="1.1" height="0" fill="rgb(182,152,182)"/>
<rect x="471.4" y="244" width="1.1" height="0.4" fill="rgb(235,180,196)"/>
<rect x="472.8" y="244.4" width="1.1" height="0" fill="rgb(182,152,182)"/>
<rect x="472.8" y="244" width="1.1" height="0.4" fill="rgb(235,180,196)"/>
<rect x="474.1" y="244.4" width="1.1" height="0" fill="rgb(182,152,182)"/>
<rect x="474.1" y="243.9" width="1.1" height="0.5" fill="rgb(235,180,196)"/>
<rect x="475.4" y="244.4" width="1.1" height="0" fill="rgb(182,152,182)"/>
<rect x="475.4" y="244" width="1.1" height="0.4" fill="rgb(235,180,196)"/>
<rect x="476.7" y="244.4" width="1.1" height="0" fill="rgb(182,152,182)"/>
<rect x="476.7" y="244.1" width="1.1" height="0.3" fill="rgb(235,180,196)"/>
<rect x="478.1" y="244.4" width="1.1" height="0" fill="rgb(182,152,182)"/>
<rect x="478.1" y="244.1" width="1.1" height="0.3" fill="rgb(235,180,196)"/>
<rect x="479.4" y="244.4" width="1.1" height="0" fill="rgb(182,152,182)"/>
<rect x="479.4" y="244.1" width="1.1" height="0.3" fill="rgb(235,180,196)"/>
<path d="M412.9,236.8 L413.3,233.6 L413.6,229.7 L414,225.4 L414.3,220.7 L414.7,215.8 L415,210.7 L415.4,205.7 L415.7,200.9 L416.1,196.4 L416.4,192.3 L416.8,188.7 L417.1,185.7 L417.5,183.1 L417.8,181.2 L418.2,179.8 L418.5,179 L418.9,178.7 L419.2,178.8 L419.6,179.4 L419.9,180.3 L420.3,181.6 L420.6,183.2 L421,185 L421.3,187 L421.7,189.1 L422,191.3 L422.4,193.6 L422.7,196 L423.1,198.4 L423.4,200.8 L423.8,203.1 L424.1,205.4 L424.5,207.7 L424.8,209.9 L425.2,212 L425.5,214 L425.9,215.9 L426.2,217.8 L426.6,219.6 L427,221.3 L427.3,222.9 L427.7,224.4 L428,225.8 L428.4,227.1 L428.7,228.3 L429.1,229.5 L429.4,230.6 L429.8,231.6 L430.1,232.6 L430.5,233.5 L430.8,234.3 L431.2,235.1 L431.5,235.8 L431.9,236.4 L432.2,237 L432.6,237.6 L432.9,238.1 L433.3,238.6 L433.6,239.1 L434,239.5 L434.3,239.9 L434.7,240.2 L435,240.6 L435.4,240.9 L435.7,241.1 L436.1,241.4 L436.4,241.6 L436.8,241.9 L437.1,242.1 L437.5,242.2 L437.8,242.4 L438.2,242.6 L438.5,242.7 L438.9,242.8 L439.2,243 L439.6,243.1 L439.9,243.2 L440.3,243.3 L440.6,243.4 L441,243.5 L441.4,243.5 L441.7,243.6 L442.1,243.7 L442.4,243.7 L442.8,243.8 L443.1,243.8 L443.5,243.9 L443.8,243.9 L444.2,243.9 L444.5,244 L444.9,244 L445.2,244 L445.6,244.1 L445.9,244.1 L446.3,244.1 L446.6,244.1 L447,244.2 L447.3,244.2 L447.7,244.2 L448,244.2 L448.4,244.2 L448.7,244.2 L449.1,244.3 L449.4,244.3 L449.8,244.3 L450.1,244.3 L450.5,244.3 L450.8,244.3 L451.2,244.3 L451.5,244.3 L451.9,244.3 L452.2,244.3 L452.6,244.3 L452.9,244.3 L453.3,244.3 L453.6,244.3 L454,244.4 L454.3,244.4 L454.7,244.4" fill="none" stroke="#2b70b2" stroke-width="1.4" stroke-linejoin="round" stroke-opacity="1"/><path d="M412.9,236.8 L413.3,233.6 L413.6,229.7 L414,225.4 L414.3,220.7 L414.7,215.8 L415,210.7 L415.4,205.7 L415.7,200.9 L416.1,196.4 L416.4,192.3 L416.8,188.7 L417.1,185.7 L417.5,183.1 L417.8,181.2 L418.2,179.8 L418.5,179 L418.9,178.7 L419.2,178.8 L419.6,179.4 L419.9,180.3 L420.3,181.6 L420.6,183.2 L421,185 L421.3,187 L421.7,189.1 L422,191.3 L422.4,193.6 L422.7,196 L423.1,198.4 L423.4,200.8 L423.8,203.1 L424.1,205.4 L424.5,207.7 L424.8,209.9 L425.2,212 L425.5,214 L425.9,215.9 L426.2,217.8 L426.6,219.6 L427,221.3 L427.3,222.9 L427.7,224.4 L428,225.8 L428.4,227.1 L428.7,228.3 L429.1,229.5 L429.4,230.6 L429.8,231.6 L430.1,232.6 L430.5,233.5 L430.8,234.3 L431.2,235.1 L431.5,235.8 L431.9,236.4 L432.2,237 L432.6,237.6 L432.9,238.1 L433.3,238.6 L433.6,239.1 L434,239.5 L434.3,239.9 L434.7,240.2 L435,240.6 L435.4,240.9 L435.7,241.1 L436.1,241.4 L436.4,241.6 L436.8,241.9 L437.1,242.1 L437.5,242.2 L437.8,242.4 L438.2,242.6 L438.5,242.7 L438.9,242.8 L439.2,243 L439.6,243.1 L439.9,243.2 L440.3,243.3 L440.6,243.4 L441,243.5 L441.4,243.5 L441.7,243.6 L442.1,243.7 L442.4,243.7 L442.8,243.8 L443.1,243.8 L443.5,243.9 L443.8,243.9 L444.2,243.9 L444.5,244 L444.9,244 L445.2,244 L445.6,244.1 L445.9,244.1 L446.3,244.1 L446.6,244.1 L447,244.2 L447.3,244.2 L447.7,244.2 L448,244.2 L448.4,244.2 L448.7,244.2 L449.1,244.3 L449.4,244.3 L449.8,244.3 L450.1,244.3 L450.5,244.3 L450.8,244.3 L451.2,244.3 L451.5,244.3 L451.9,244.3 L452.2,244.3 L452.6,244.3 L452.9,244.3 L453.3,244.3 L453.6,244.3 L454,244.4 L454.3,244.4 L454.7,244.4" fill="none" stroke="#7a86b0" stroke-width="1.4" stroke-linejoin="round" clip-path="url(#uc4)"/>
<path d="M412.7,237.4 L413.1,231.4 L413.4,224.4 L413.8,217 L414.1,209.8 L414.4,203.1 L414.8,197.1 L415.1,192 L415.5,187.8 L415.8,184.3 L416.2,181.7 L416.5,179.7 L416.9,178.3 L417.2,177.6 L417.6,177.2 L417.9,177.3 L418.3,177.8 L418.6,178.5 L419,179.4 L419.3,180.6 L419.7,181.9 L420,183.3 L420.4,184.9 L420.7,186.5 L421.1,188.1 L421.4,189.8 L421.8,191.4 L422.1,193.1 L422.4,194.8 L422.8,196.5 L423.1,198.1 L423.5,199.7 L423.8,201.3 L424.2,202.9 L424.5,204.4 L424.9,205.8 L425.2,207.3 L425.6,208.6 L425.9,210 L426.3,211.3 L426.6,212.5 L427,213.7 L427.3,214.9 L427.7,216 L428,217.1 L428.4,218.1 L428.7,219.1 L429.1,220.1 L429.4,221 L429.7,221.9 L430.1,222.7 L430.4,223.5 L430.8,224.3 L431.1,225.1 L431.5,225.8 L431.8,226.5 L432.2,227.2 L432.5,227.8 L432.9,228.4 L433.2,229 L433.6,229.6 L433.9,230.1 L434.3,230.7 L434.6,231.2 L435,231.7 L435.3,232.1 L435.7,232.6 L436,233 L436.4,233.4 L436.7,233.8 L437.1,234.2 L437.4,234.5 L437.7,234.9 L438.1,235.2 L438.4,235.5 L438.8,235.9 L439.1,236.2 L439.5,236.4 L439.8,236.7 L440.2,237 L440.5,237.2 L440.9,237.5 L441.2,237.7 L441.6,237.9 L441.9,238.2 L442.3,238.4 L442.6,238.6 L443,238.8 L443.3,239 L443.7,239.1 L444,239.3 L444.4,239.5 L444.7,239.6 L445,239.8 L445.4,239.9 L445.7,240.1 L446.1,240.2 L446.4,240.4 L446.8,240.5 L447.1,240.6 L447.5,240.7 L447.8,240.8 L448.2,241 L448.5,241.1 L448.9,241.2 L449.2,241.3 L449.6,241.4 L449.9,241.5 L450.3,241.5 L450.6,241.6 L451,241.7 L451.3,241.8 L451.7,241.9 L452,242 L452.4,242 L452.7,242.1 L453,242.2 L453.4,242.2 L453.7,242.3 L454.1,242.4 L454.4,242.4 L454.8,242.5 L455.1,242.5 L455.5,242.6 L455.8,242.6 L456.2,242.7 L456.5,242.7 L456.9,242.8 L457.2,242.8 L457.6,242.9 L457.9,242.9 L458.3,243 L458.6,243 L459,243 L459.3,243.1 L459.7,243.1 L460,243.1 L460.3,243.2 L460.7,243.2 L461,243.2 L461.4,243.3 L461.7,243.3 L462.1,243.3 L462.4,243.4 L462.8,243.4 L463.1,243.4 L463.5,243.4 L463.8,243.5 L464.2,243.5 L464.5,243.5 L464.9,243.5 L465.2,243.6 L465.6,243.6 L465.9,243.6 L466.3,243.6 L466.6,243.6 L467,243.7 L467.3,243.7 L467.7,243.7 L468,243.7" fill="none" stroke="#8e1038" stroke-width="2.0" stroke-linejoin="round" stroke-opacity="1"/>
<line x1="393.9" y1="158.5" x2="393.9" y2="245" stroke="#2e2e2e" stroke-width="1.3"/>
<line x1="391.3" y1="244.4" x2="510.2" y2="244.4" stroke="#2e2e2e" stroke-width="1.3"/>
<line x1="391.5" y1="244.4" x2="393.9" y2="244.4" stroke="#2e2e2e" stroke-width="0.9"/>
<text x="388" y="246.7" font-family="Liberation Sans, sans-serif" font-size="6.4" fill="#1a1a1a" stroke="#1a1a1a" stroke-width="0.18" text-anchor="end">0</text>
<line x1="391.5" y1="216.6" x2="393.9" y2="216.6" stroke="#2e2e2e" stroke-width="0.9"/>
<text x="388" y="218.9" font-family="Liberation Sans, sans-serif" font-size="6.4" fill="#1a1a1a" stroke="#1a1a1a" stroke-width="0.18" text-anchor="end">50</text>
<line x1="391.5" y1="188.8" x2="393.9" y2="188.8" stroke="#2e2e2e" stroke-width="0.9"/>
<text x="388" y="191.1" font-family="Liberation Sans, sans-serif" font-size="6.4" fill="#1a1a1a" stroke="#1a1a1a" stroke-width="0.18" text-anchor="end">100</text>
<line x1="391.5" y1="161" x2="393.9" y2="161" stroke="#2e2e2e" stroke-width="0.9"/>
<text x="388" y="163.3" font-family="Liberation Sans, sans-serif" font-size="6.4" fill="#1a1a1a" stroke="#1a1a1a" stroke-width="0.18" text-anchor="end">150</text>
<line x1="393.9" y1="244.4" x2="393.9" y2="246.7" stroke="#2e2e2e" stroke-width="0.9"/>
<text x="393.9" y="255.8" font-family="Liberation Sans, sans-serif" font-size="6.4" fill="#1a1a1a" stroke="#1a1a1a" stroke-width="0.18" text-anchor="middle">0</text>
<line x1="412.9" y1="244.4" x2="412.9" y2="246.7" stroke="#2e2e2e" stroke-width="0.9"/>
<text x="412.9" y="255.8" font-family="Liberation Sans, sans-serif" font-size="6.4" fill="#1a1a1a" stroke="#1a1a1a" stroke-width="0.18" text-anchor="middle">1</text>
<line x1="431.9" y1="244.4" x2="431.9" y2="246.7" stroke="#2e2e2e" stroke-width="0.9"/>
<text x="431.9" y="255.8" font-family="Liberation Sans, sans-serif" font-size="6.4" fill="#1a1a1a" stroke="#1a1a1a" stroke-width="0.18" text-anchor="middle">2</text>
<line x1="450.9" y1="244.4" x2="450.9" y2="246.7" stroke="#2e2e2e" stroke-width="0.9"/>
<text x="450.9" y="255.8" font-family="Liberation Sans, sans-serif" font-size="6.4" fill="#1a1a1a" stroke="#1a1a1a" stroke-width="0.18" text-anchor="middle">3</text>
<line x1="469.9" y1="244.4" x2="469.9" y2="246.7" stroke="#2e2e2e" stroke-width="0.9"/>
<text x="469.9" y="255.8" font-family="Liberation Sans, sans-serif" font-size="6.4" fill="#1a1a1a" stroke="#1a1a1a" stroke-width="0.18" text-anchor="middle">4</text>
<line x1="488.9" y1="244.4" x2="488.9" y2="246.7" stroke="#2e2e2e" stroke-width="0.9"/>
<text x="488.9" y="255.8" font-family="Liberation Sans, sans-serif" font-size="6.4" fill="#1a1a1a" stroke="#1a1a1a" stroke-width="0.18" text-anchor="middle">5</text>
<line x1="507.9" y1="244.4" x2="507.9" y2="246.7" stroke="#2e2e2e" stroke-width="0.9"/>
<text x="507.9" y="255.8" font-family="Liberation Sans, sans-serif" font-size="6.4" fill="#1a1a1a" stroke="#1a1a1a" stroke-width="0.18" text-anchor="middle">6</text>
<text x="452.2" y="266.4" font-family="Liberation Sans, sans-serif" font-size="7" font-weight="bold" fill="#1e1e1e" text-anchor="middle" textLength="48.1" lengthAdjust="spacingAndGlyphs">Aspect ratio [adim]</text>
<text font-family="Liberation Sans, sans-serif" font-size="6.6" fill="#151515" stroke="#151515" stroke-width="0.12" text-anchor="middle" textLength="25.2" lengthAdjust="spacingAndGlyphs" font-weight="bold" transform="translate(371.9,201.2) rotate(-90)">Frequency</text>
<rect x="242.4" y="366.2" width="1.7" height="2.4" fill="rgb(186,165,165)"/>
<rect x="242.4" y="358.6" width="1.7" height="7.6" fill="rgb(172,210,233)"/>
<rect x="244.4" y="365.1" width="1.7" height="3.5" fill="rgb(186,165,165)"/>
<rect x="244.4" y="356.7" width="1.7" height="8.5" fill="rgb(172,210,233)"/>
<rect x="246.4" y="364.8" width="1.7" height="3.8" fill="rgb(186,165,165)"/>
<rect x="246.4" y="349.1" width="1.7" height="15.6" fill="rgb(172,210,233)"/>
<rect x="248.5" y="363.7" width="1.7" height="4.9" fill="rgb(186,165,165)"/>
<rect x="248.5" y="352.1" width="1.7" height="11.6" fill="rgb(172,210,233)"/>
<rect x="250.5" y="365.5" width="1.7" height="3.1" fill="rgb(186,165,165)"/>
<rect x="250.5" y="350.4" width="1.7" height="15.1" fill="rgb(172,210,233)"/>
<rect x="252.6" y="365.9" width="1.7" height="2.7" fill="rgb(186,165,165)"/>
<rect x="252.6" y="353.2" width="1.7" height="12.7" fill="rgb(172,210,233)"/>
<rect x="254.6" y="364.6" width="1.7" height="4" fill="rgb(186,165,165)"/>
<rect x="254.6" y="358" width="1.7" height="6.6" fill="rgb(172,210,233)"/>
<rect x="256.7" y="365" width="1.7" height="3.6" fill="rgb(186,165,165)"/>
<rect x="256.7" y="353.1" width="1.7" height="11.9" fill="rgb(172,210,233)"/>
<rect x="258.7" y="363.8" width="1.7" height="4.8" fill="rgb(186,165,165)"/>
<rect x="258.7" y="352.1" width="1.7" height="11.7" fill="rgb(172,210,233)"/>
<rect x="260.8" y="361.2" width="1.7" height="7.4" fill="rgb(186,165,165)"/>
<rect x="260.8" y="357.3" width="1.7" height="3.9" fill="rgb(172,210,233)"/>
<rect x="262.8" y="360.5" width="1.7" height="8.1" fill="rgb(186,165,165)"/>
<rect x="262.8" y="353.3" width="1.7" height="7.2" fill="rgb(172,210,233)"/>
<rect x="264.9" y="358.9" width="1.7" height="9.7" fill="rgb(186,165,165)"/>
<rect x="264.9" y="348.6" width="1.7" height="10.3" fill="rgb(172,210,233)"/>
<rect x="266.9" y="357.2" width="1.7" height="11.4" fill="rgb(186,165,165)"/>
<rect x="266.9" y="357.1" width="1.7" height="0.1" fill="rgb(172,210,233)"/>
<rect x="268.9" y="357.1" width="1.7" height="11.5" fill="rgb(186,165,165)"/>
<rect x="268.9" y="353.3" width="1.7" height="3.8" fill="rgb(245,195,172)"/>
<rect x="271" y="356.3" width="1.7" height="12.3" fill="rgb(186,165,165)"/>
<rect x="271" y="352.2" width="1.7" height="4.1" fill="rgb(245,195,172)"/>
<rect x="273" y="350.5" width="1.7" height="18.1" fill="rgb(186,165,165)"/>
<rect x="273" y="350.3" width="1.7" height="0.1" fill="rgb(172,210,233)"/>
<rect x="275.1" y="348" width="1.7" height="20.6" fill="rgb(186,165,165)"/>
<rect x="275.1" y="342.3" width="1.7" height="5.7" fill="rgb(245,195,172)"/>
<rect x="277.1" y="355.1" width="1.7" height="13.5" fill="rgb(186,165,165)"/>
<rect x="277.1" y="342.5" width="1.7" height="12.5" fill="rgb(245,195,172)"/>
<rect x="279.2" y="348" width="1.7" height="20.6" fill="rgb(186,165,165)"/>
<rect x="279.2" y="327.3" width="1.7" height="20.7" fill="rgb(245,195,172)"/>
<rect x="281.2" y="354" width="1.7" height="14.6" fill="rgb(186,165,165)"/>
<rect x="281.2" y="324" width="1.7" height="30" fill="rgb(245,195,172)"/>
<rect x="283.3" y="350.6" width="1.7" height="18" fill="rgb(186,165,165)"/>
<rect x="283.3" y="326.5" width="1.7" height="24.2" fill="rgb(245,195,172)"/>
<rect x="285.3" y="348.2" width="1.7" height="20.4" fill="rgb(186,165,165)"/>
<rect x="285.3" y="312.1" width="1.7" height="36.1" fill="rgb(245,195,172)"/>
<rect x="287.3" y="354.4" width="1.7" height="14.2" fill="rgb(186,165,165)"/>
<rect x="287.3" y="309" width="1.7" height="45.4" fill="rgb(245,195,172)"/>
<rect x="289.4" y="350.8" width="1.7" height="17.8" fill="rgb(186,165,165)"/>
<rect x="289.4" y="324.5" width="1.7" height="26.3" fill="rgb(245,195,172)"/>
<rect x="291.4" y="346.8" width="1.7" height="21.8" fill="rgb(186,165,165)"/>
<rect x="291.4" y="313.8" width="1.7" height="33.1" fill="rgb(245,195,172)"/>
<rect x="293.5" y="351.9" width="1.7" height="16.7" fill="rgb(186,165,165)"/>
<rect x="293.5" y="321" width="1.7" height="30.9" fill="rgb(245,195,172)"/>
<rect x="295.5" y="347.5" width="1.7" height="21.1" fill="rgb(186,165,165)"/>
<rect x="295.5" y="307.9" width="1.7" height="39.6" fill="rgb(245,195,172)"/>
<rect x="297.6" y="351" width="1.7" height="17.6" fill="rgb(186,165,165)"/>
<rect x="297.6" y="324.2" width="1.7" height="26.8" fill="rgb(245,195,172)"/>
<rect x="299.6" y="346.3" width="1.7" height="22.3" fill="rgb(186,165,165)"/>
<rect x="299.6" y="320.3" width="1.7" height="26" fill="rgb(245,195,172)"/>
<rect x="301.7" y="351.8" width="1.7" height="16.8" fill="rgb(186,165,165)"/>
<rect x="301.7" y="333.9" width="1.7" height="17.9" fill="rgb(245,195,172)"/>
<rect x="303.7" y="347.8" width="1.7" height="20.8" fill="rgb(186,165,165)"/>
<rect x="303.7" y="332.8" width="1.7" height="15" fill="rgb(245,195,172)"/>
<rect x="305.7" y="355.4" width="1.7" height="13.2" fill="rgb(186,165,165)"/>
<rect x="305.7" y="337.5" width="1.7" height="17.9" fill="rgb(245,195,172)"/>
<rect x="307.8" y="353" width="1.7" height="15.6" fill="rgb(186,165,165)"/>
<rect x="307.8" y="345.9" width="1.7" height="7.2" fill="rgb(245,195,172)"/>
<rect x="309.8" y="355.2" width="1.7" height="13.4" fill="rgb(186,165,165)"/>
<rect x="309.8" y="354.2" width="1.7" height="1" fill="rgb(245,195,172)"/>
<rect x="311.9" y="352.9" width="1.7" height="15.7" fill="rgb(186,165,165)"/>
<rect x="311.9" y="348.3" width="1.7" height="4.6" fill="rgb(245,195,172)"/>
<rect x="313.9" y="357.4" width="1.7" height="11.2" fill="rgb(186,165,165)"/>
<rect x="313.9" y="353.1" width="1.7" height="4.3" fill="rgb(172,210,233)"/>
<rect x="316" y="361.4" width="1.7" height="7.2" fill="rgb(186,165,165)"/>
<rect x="316" y="354.9" width="1.7" height="6.4" fill="rgb(172,210,233)"/>
<rect x="318" y="361.1" width="1.7" height="7.5" fill="rgb(186,165,165)"/>
<rect x="318" y="353.4" width="1.7" height="7.8" fill="rgb(172,210,233)"/>
<rect x="320.1" y="363" width="1.7" height="5.6" fill="rgb(186,165,165)"/>
<rect x="320.1" y="351" width="1.7" height="12" fill="rgb(172,210,233)"/>
<rect x="322.1" y="362.5" width="1.7" height="6.1" fill="rgb(186,165,165)"/>
<rect x="322.1" y="352.2" width="1.7" height="10.4" fill="rgb(172,210,233)"/>
<rect x="324.1" y="363.1" width="1.7" height="5.5" fill="rgb(186,165,165)"/>
<rect x="324.1" y="355.6" width="1.7" height="7.4" fill="rgb(172,210,233)"/>
<rect x="326.2" y="363.4" width="1.7" height="5.2" fill="rgb(186,165,165)"/>
<rect x="326.2" y="351.1" width="1.7" height="12.3" fill="rgb(172,210,233)"/>
<rect x="328.2" y="365" width="1.7" height="3.6" fill="rgb(186,165,165)"/>
<rect x="328.2" y="351.3" width="1.7" height="13.7" fill="rgb(172,210,233)"/>
<rect x="330.3" y="366.3" width="1.7" height="2.3" fill="rgb(186,165,165)"/>
<rect x="330.3" y="354.2" width="1.7" height="12.1" fill="rgb(172,210,233)"/>
<rect x="332.3" y="364.5" width="1.7" height="4.1" fill="rgb(186,165,165)"/>
<rect x="332.3" y="353.9" width="1.7" height="10.6" fill="rgb(172,210,233)"/>
<rect x="334.4" y="365.3" width="1.7" height="3.3" fill="rgb(186,165,165)"/>
<rect x="334.4" y="356.8" width="1.7" height="8.5" fill="rgb(172,210,233)"/>
<rect x="336.4" y="366" width="1.7" height="2.6" fill="rgb(186,165,165)"/>
<rect x="336.4" y="350.3" width="1.7" height="15.7" fill="rgb(172,210,233)"/>
<rect x="338.5" y="365.4" width="1.7" height="3.2" fill="rgb(186,165,165)"/>
<rect x="338.5" y="355.1" width="1.7" height="10.3" fill="rgb(172,210,233)"/>
<rect x="340.5" y="367.6" width="1.7" height="1" fill="rgb(186,165,165)"/>
<rect x="340.5" y="355.7" width="1.7" height="11.9" fill="rgb(172,210,233)"/>
<rect x="342.6" y="365.1" width="1.7" height="3.5" fill="rgb(186,165,165)"/>
<rect x="342.6" y="349.5" width="1.7" height="15.6" fill="rgb(172,210,233)"/>
<rect x="344.6" y="367.3" width="1.7" height="1.3" fill="rgb(186,165,165)"/>
<rect x="344.6" y="355.6" width="1.7" height="11.7" fill="rgb(172,210,233)"/>
<path d="M242.2,368.6 L242.9,368.5 L243.6,368.5 L244.3,368.5 L245,368.5 L245.8,368.5 L246.5,368.4 L247.2,368.4 L247.9,368.4 L248.6,368.3 L249.3,368.3 L250,368.2 L250.7,368.1 L251.4,368.1 L252.1,368 L252.8,367.9 L253.5,367.7 L254.2,367.6 L254.9,367.4 L255.6,367.2 L256.3,367 L257,366.8 L257.7,366.5 L258.4,366.2 L259.1,365.8 L259.8,365.4 L260.5,365 L261.2,364.5 L261.9,363.9 L262.6,363.3 L263.3,362.7 L264,361.9 L264.7,361.2 L265.4,360.3 L266.1,359.4 L266.8,358.4 L267.5,357.3 L268.2,356.1 L268.9,354.9 L269.6,353.5 L270.3,352.1 L271,350.6 L271.7,349.1 L272.4,347.4 L273.1,345.7 L273.8,344 L274.5,342.1 L275.2,340.2 L275.9,338.3 L276.6,336.3 L277.3,334.3 L278,332.3 L278.7,330.2 L279.4,328.2 L280.1,326.2 L280.8,324.2 L281.5,322.2 L282.2,320.3 L282.9,318.5 L283.6,316.7 L284.3,315 L285,313.5 L285.7,312 L286.4,310.7 L287.1,309.6 L287.8,308.5 L288.5,307.7 L289.2,307 L289.9,306.4 L290.6,306.1 L291.3,305.9 L292,305.9 L292.7,306.1 L293.4,306.5 L294.1,307 L294.9,307.7 L295.6,308.6 L296.3,309.7 L297,310.8 L297.7,312.2 L298.4,313.6 L299.1,315.2 L299.8,316.9 L300.5,318.6 L301.2,320.5 L301.9,322.4 L302.6,324.3 L303.3,326.3 L304,328.4 L304.7,330.4 L305.4,332.5 L306.1,334.5 L306.8,336.5 L307.5,338.5 L308.2,340.4 L308.9,342.3 L309.6,344.1 L310.3,345.9 L311,347.6 L311.7,349.2 L312.4,350.8 L313.1,352.3 L313.8,353.7 L314.5,355 L315.2,356.2 L315.9,357.4 L316.6,358.5 L317.3,359.5 L318,360.4 L318.7,361.2 L319.4,362 L320.1,362.7 L320.8,363.4 L321.5,364 L322.2,364.5 L322.9,365 L323.6,365.4 L324.3,365.8 L325,366.2 L325.7,366.5 L326.4,366.8 L327.1,367 L327.8,367.2 L328.5,367.4 L329.2,367.6 L329.9,367.7 L330.6,367.9 L331.3,368 L332,368.1 L332.7,368.2 L333.4,368.2 L334.1,368.3 L334.8,368.3 L335.5,368.4 L336.2,368.4 L336.9,368.4 L337.6,368.5 L338.3,368.5 L339,368.5 L339.7,368.5 L340.4,368.5 L341.1,368.6 L341.8,368.6 L342.5,368.6 L343.2,368.6 L344,368.6 L344.7,368.6 L345.4,368.6 L346.1,368.6 L346.8,368.6" fill="none" stroke="#d35a28" stroke-width="1.6" stroke-linejoin="round" stroke-opacity="1"/>
<line x1="236.9" y1="284" x2="236.9" y2="369.2" stroke="#2e2e2e" stroke-width="1.3"/>
<line x1="234.3" y1="368.6" x2="353.2" y2="368.6" stroke="#2e2e2e" stroke-width="1.3"/>
<line x1="234.5" y1="368.6" x2="236.9" y2="368.6" stroke="#2e2e2e" stroke-width="0.9"/>
<text x="231" y="370.9" font-family="Liberation Sans, sans-serif" font-size="6.4" fill="#1a1a1a" stroke="#1a1a1a" stroke-width="0.18" text-anchor="end">0</text>
<line x1="234.5" y1="352.1" x2="236.9" y2="352.1" stroke="#2e2e2e" stroke-width="0.9"/>
<text x="231" y="354.4" font-family="Liberation Sans, sans-serif" font-size="6.4" fill="#1a1a1a" stroke="#1a1a1a" stroke-width="0.18" text-anchor="end">20</text>
<line x1="234.5" y1="335.6" x2="236.9" y2="335.6" stroke="#2e2e2e" stroke-width="0.9"/>
<text x="231" y="337.9" font-family="Liberation Sans, sans-serif" font-size="6.4" fill="#1a1a1a" stroke="#1a1a1a" stroke-width="0.18" text-anchor="end">40</text>
<line x1="234.5" y1="319.1" x2="236.9" y2="319.1" stroke="#2e2e2e" stroke-width="0.9"/>
<text x="231" y="321.4" font-family="Liberation Sans, sans-serif" font-size="6.4" fill="#1a1a1a" stroke="#1a1a1a" stroke-width="0.18" text-anchor="end">60</text>
<line x1="234.5" y1="302.6" x2="236.9" y2="302.6" stroke="#2e2e2e" stroke-width="0.9"/>
<text x="231" y="304.9" font-family="Liberation Sans, sans-serif" font-size="6.4" fill="#1a1a1a" stroke="#1a1a1a" stroke-width="0.18" text-anchor="end">80</text>
<line x1="234.5" y1="286.1" x2="236.9" y2="286.1" stroke="#2e2e2e" stroke-width="0.9"/>
<text x="231" y="288.4" font-family="Liberation Sans, sans-serif" font-size="6.4" fill="#1a1a1a" stroke="#1a1a1a" stroke-width="0.18" text-anchor="end">100</text>
<line x1="237.7" y1="368.6" x2="237.7" y2="370.9" stroke="#2e2e2e" stroke-width="0.9"/>
<text x="237.7" y="380.5" font-family="Liberation Sans, sans-serif" font-size="6.4" fill="#1a1a1a" stroke="#1a1a1a" stroke-width="0.18" text-anchor="middle">−100</text>
<line x1="266.1" y1="368.6" x2="266.1" y2="370.9" stroke="#2e2e2e" stroke-width="0.9"/>
<text x="266.1" y="380.5" font-family="Liberation Sans, sans-serif" font-size="6.4" fill="#1a1a1a" stroke="#1a1a1a" stroke-width="0.18" text-anchor="middle">−50</text>
<line x1="294.5" y1="368.6" x2="294.5" y2="370.9" stroke="#2e2e2e" stroke-width="0.9"/>
<text x="294.5" y="380.5" font-family="Liberation Sans, sans-serif" font-size="6.4" fill="#1a1a1a" stroke="#1a1a1a" stroke-width="0.18" text-anchor="middle">0</text>
<line x1="322.9" y1="368.6" x2="322.9" y2="370.9" stroke="#2e2e2e" stroke-width="0.9"/>
<text x="322.9" y="380.5" font-family="Liberation Sans, sans-serif" font-size="6.4" fill="#1a1a1a" stroke="#1a1a1a" stroke-width="0.18" text-anchor="middle">50</text>
<line x1="351.3" y1="368.6" x2="351.3" y2="370.9" stroke="#2e2e2e" stroke-width="0.9"/>
<text x="351.3" y="380.5" font-family="Liberation Sans, sans-serif" font-size="6.4" fill="#1a1a1a" stroke="#1a1a1a" stroke-width="0.18" text-anchor="middle">100</text>
<text x="295.2" y="391.3" font-family="Liberation Sans, sans-serif" font-size="7" font-weight="bold" fill="#1e1e1e" text-anchor="middle" textLength="42.5" lengthAdjust="spacingAndGlyphs">Orientation [deg]</text>
<text font-family="Liberation Sans, sans-serif" font-size="6.6" fill="#151515" stroke="#151515" stroke-width="0.12" text-anchor="middle" textLength="26.6" lengthAdjust="spacingAndGlyphs" font-weight="bold" transform="translate(214.9,325.3) rotate(-90)">Frequency</text>
<rect x="399.4" y="362.8" width="1.7" height="5.8" fill="rgb(182,152,182)"/>
<rect x="399.4" y="353.6" width="1.7" height="9.2" fill="rgb(172,210,233)"/>
<rect x="401.4" y="363.4" width="1.7" height="5.2" fill="rgb(182,152,182)"/>
<rect x="401.4" y="357.9" width="1.7" height="5.5" fill="rgb(172,210,233)"/>
<rect x="403.4" y="363.8" width="1.7" height="4.8" fill="rgb(182,152,182)"/>
<rect x="403.4" y="357.9" width="1.7" height="5.9" fill="rgb(172,210,233)"/>
<rect x="405.5" y="359.6" width="1.7" height="9" fill="rgb(182,152,182)"/>
<rect x="405.5" y="355.3" width="1.7" height="4.3" fill="rgb(172,210,233)"/>
<rect x="407.5" y="358" width="1.7" height="10.6" fill="rgb(182,152,182)"/>
<rect x="407.5" y="356.8" width="1.7" height="1.2" fill="rgb(172,210,233)"/>
<rect x="409.6" y="358.2" width="1.7" height="10.4" fill="rgb(182,152,182)"/>
<rect x="409.6" y="353.5" width="1.7" height="4.7" fill="rgb(172,210,233)"/>
<rect x="411.6" y="357.2" width="1.7" height="11.4" fill="rgb(182,152,182)"/>
<rect x="411.6" y="349.1" width="1.7" height="8.1" fill="rgb(172,210,233)"/>
<rect x="413.7" y="356.3" width="1.7" height="12.3" fill="rgb(182,152,182)"/>
<rect x="413.7" y="353.7" width="1.7" height="2.6" fill="rgb(235,180,196)"/>
<rect x="415.7" y="358.3" width="1.7" height="10.3" fill="rgb(182,152,182)"/>
<rect x="415.7" y="348.5" width="1.7" height="9.8" fill="rgb(172,210,233)"/>
<rect x="417.8" y="354.7" width="1.7" height="13.9" fill="rgb(182,152,182)"/>
<rect x="417.8" y="354.7" width="1.7" height="0" fill="rgb(172,210,233)"/>
<rect x="419.8" y="349.9" width="1.7" height="18.7" fill="rgb(182,152,182)"/>
<rect x="419.8" y="349.8" width="1.7" height="0.1" fill="rgb(172,210,233)"/>
<rect x="421.9" y="352.7" width="1.7" height="15.9" fill="rgb(182,152,182)"/>
<rect x="421.9" y="349.1" width="1.7" height="3.6" fill="rgb(235,180,196)"/>
<rect x="423.9" y="350" width="1.7" height="18.6" fill="rgb(182,152,182)"/>
<rect x="423.9" y="344.3" width="1.7" height="5.7" fill="rgb(235,180,196)"/>
<rect x="425.9" y="349" width="1.7" height="19.6" fill="rgb(182,152,182)"/>
<rect x="425.9" y="346.7" width="1.7" height="2.2" fill="rgb(235,180,196)"/>
<rect x="428" y="349" width="1.7" height="19.6" fill="rgb(182,152,182)"/>
<rect x="428" y="345.9" width="1.7" height="3.1" fill="rgb(235,180,196)"/>
<rect x="430" y="355.6" width="1.7" height="13" fill="rgb(182,152,182)"/>
<rect x="430" y="346.6" width="1.7" height="9" fill="rgb(235,180,196)"/>
<rect x="432.1" y="348" width="1.7" height="20.6" fill="rgb(182,152,182)"/>
<rect x="432.1" y="337.9" width="1.7" height="10.1" fill="rgb(235,180,196)"/>
<rect x="434.1" y="355.4" width="1.7" height="13.2" fill="rgb(182,152,182)"/>
<rect x="434.1" y="339.5" width="1.7" height="15.9" fill="rgb(235,180,196)"/>
<rect x="436.2" y="349.1" width="1.7" height="19.5" fill="rgb(182,152,182)"/>
<rect x="436.2" y="345.5" width="1.7" height="3.6" fill="rgb(235,180,196)"/>
<rect x="438.2" y="355.7" width="1.7" height="12.9" fill="rgb(182,152,182)"/>
<rect x="438.2" y="329.7" width="1.7" height="26" fill="rgb(235,180,196)"/>
<rect x="440.3" y="353" width="1.7" height="15.6" fill="rgb(182,152,182)"/>
<rect x="440.3" y="334.3" width="1.7" height="18.7" fill="rgb(235,180,196)"/>
<rect x="442.3" y="354.5" width="1.7" height="14.1" fill="rgb(182,152,182)"/>
<rect x="442.3" y="340.7" width="1.7" height="13.7" fill="rgb(235,180,196)"/>
<rect x="444.3" y="349.5" width="1.7" height="19.1" fill="rgb(182,152,182)"/>
<rect x="444.3" y="335.3" width="1.7" height="14.2" fill="rgb(235,180,196)"/>
<rect x="446.4" y="352.4" width="1.7" height="16.2" fill="rgb(182,152,182)"/>
<rect x="446.4" y="342.2" width="1.7" height="10.2" fill="rgb(235,180,196)"/>
<rect x="448.4" y="349.8" width="1.7" height="18.8" fill="rgb(182,152,182)"/>
<rect x="448.4" y="330.6" width="1.7" height="19.2" fill="rgb(235,180,196)"/>
<rect x="450.5" y="353.2" width="1.7" height="15.4" fill="rgb(182,152,182)"/>
<rect x="450.5" y="335.3" width="1.7" height="18" fill="rgb(235,180,196)"/>
<rect x="452.5" y="351.5" width="1.7" height="17.1" fill="rgb(182,152,182)"/>
<rect x="452.5" y="327.5" width="1.7" height="24" fill="rgb(235,180,196)"/>
<rect x="454.6" y="346.6" width="1.7" height="22" fill="rgb(182,152,182)"/>
<rect x="454.6" y="334.7" width="1.7" height="11.9" fill="rgb(235,180,196)"/>
<rect x="456.6" y="349.7" width="1.7" height="18.9" fill="rgb(182,152,182)"/>
<rect x="456.6" y="343.6" width="1.7" height="6.1" fill="rgb(235,180,196)"/>
<rect x="458.7" y="350.9" width="1.7" height="17.7" fill="rgb(182,152,182)"/>
<rect x="458.7" y="341.9" width="1.7" height="9" fill="rgb(235,180,196)"/>
<rect x="460.7" y="348.8" width="1.7" height="19.8" fill="rgb(182,152,182)"/>
<rect x="460.7" y="337.8" width="1.7" height="10.9" fill="rgb(235,180,196)"/>
<rect x="462.7" y="346.3" width="1.7" height="22.3" fill="rgb(182,152,182)"/>
<rect x="462.7" y="338.8" width="1.7" height="7.5" fill="rgb(235,180,196)"/>
<rect x="464.8" y="353.1" width="1.7" height="15.5" fill="rgb(182,152,182)"/>
<rect x="464.8" y="335" width="1.7" height="18.1" fill="rgb(235,180,196)"/>
<rect x="466.8" y="355.5" width="1.7" height="13.1" fill="rgb(182,152,182)"/>
<rect x="466.8" y="345.1" width="1.7" height="10.4" fill="rgb(235,180,196)"/>
<rect x="468.9" y="354.5" width="1.7" height="14.1" fill="rgb(182,152,182)"/>
<rect x="468.9" y="347.8" width="1.7" height="6.7" fill="rgb(235,180,196)"/>
<rect x="470.9" y="355.5" width="1.7" height="13.1" fill="rgb(182,152,182)"/>
<rect x="470.9" y="345.7" width="1.7" height="9.8" fill="rgb(235,180,196)"/>
<rect x="473" y="353.3" width="1.7" height="15.3" fill="rgb(182,152,182)"/>
<rect x="473" y="342" width="1.7" height="11.3" fill="rgb(235,180,196)"/>
<rect x="475" y="350.2" width="1.7" height="18.4" fill="rgb(182,152,182)"/>
<rect x="475" y="341.9" width="1.7" height="8.3" fill="rgb(235,180,196)"/>
<rect x="477.1" y="350.1" width="1.7" height="18.5" fill="rgb(182,152,182)"/>
<rect x="477.1" y="344.5" width="1.7" height="5.7" fill="rgb(235,180,196)"/>
<rect x="479.1" y="356.8" width="1.7" height="11.8" fill="rgb(182,152,182)"/>
<rect x="479.1" y="352.1" width="1.7" height="4.7" fill="rgb(235,180,196)"/>
<rect x="481.1" y="356.4" width="1.7" height="12.2" fill="rgb(182,152,182)"/>
<rect x="481.1" y="355.5" width="1.7" height="0.9" fill="rgb(235,180,196)"/>
<rect x="483.2" y="357.5" width="1.7" height="11.1" fill="rgb(182,152,182)"/>
<rect x="483.2" y="354.6" width="1.7" height="2.9" fill="rgb(172,210,233)"/>
<rect x="485.2" y="355.9" width="1.7" height="12.7" fill="rgb(182,152,182)"/>
<rect x="485.2" y="349.9" width="1.7" height="5.9" fill="rgb(172,210,233)"/>
<rect x="487.3" y="355.2" width="1.7" height="13.4" fill="rgb(182,152,182)"/>
<rect x="487.3" y="353.6" width="1.7" height="1.6" fill="rgb(172,210,233)"/>
<rect x="489.3" y="358.7" width="1.7" height="9.9" fill="rgb(182,152,182)"/>
<rect x="489.3" y="353.1" width="1.7" height="5.5" fill="rgb(172,210,233)"/>
<rect x="491.4" y="356.8" width="1.7" height="11.8" fill="rgb(182,152,182)"/>
<rect x="491.4" y="355.6" width="1.7" height="1.2" fill="rgb(172,210,233)"/>
<rect x="493.4" y="361.7" width="1.7" height="6.9" fill="rgb(182,152,182)"/>
<rect x="493.4" y="353.1" width="1.7" height="8.6" fill="rgb(172,210,233)"/>
<rect x="495.5" y="361.7" width="1.7" height="6.9" fill="rgb(182,152,182)"/>
<rect x="495.5" y="352.6" width="1.7" height="9.1" fill="rgb(172,210,233)"/>
<rect x="497.5" y="358.7" width="1.7" height="9.9" fill="rgb(182,152,182)"/>
<rect x="497.5" y="355.3" width="1.7" height="3.4" fill="rgb(172,210,233)"/>
<rect x="499.6" y="361" width="1.7" height="7.6" fill="rgb(182,152,182)"/>
<rect x="499.6" y="352.7" width="1.7" height="8.3" fill="rgb(172,210,233)"/>
<rect x="501.6" y="360.4" width="1.7" height="8.2" fill="rgb(182,152,182)"/>
<rect x="501.6" y="351.2" width="1.7" height="9.2" fill="rgb(172,210,233)"/>
<path d="M399.2,364.8 L399.9,364.5 L400.6,364.3 L401.3,364 L402,363.7 L402.8,363.4 L403.5,363.1 L404.2,362.7 L404.9,362.4 L405.6,362 L406.3,361.7 L407,361.3 L407.7,360.9 L408.4,360.5 L409.1,360 L409.8,359.6 L410.5,359.1 L411.2,358.6 L411.9,358.1 L412.6,357.6 L413.3,357.1 L414,356.5 L414.7,356 L415.4,355.4 L416.1,354.8 L416.8,354.2 L417.5,353.6 L418.2,353 L418.9,352.4 L419.6,351.7 L420.3,351.1 L421,350.4 L421.7,349.7 L422.4,349 L423.1,348.3 L423.8,347.6 L424.5,346.9 L425.2,346.2 L425.9,345.5 L426.6,344.8 L427.3,344.1 L428,343.4 L428.7,342.7 L429.4,342 L430.1,341.3 L430.8,340.6 L431.5,339.9 L432.2,339.2 L432.9,338.5 L433.6,337.9 L434.3,337.2 L435,336.6 L435.7,336 L436.4,335.3 L437.1,334.8 L437.8,334.2 L438.5,333.6 L439.2,333.1 L439.9,332.6 L440.6,332.2 L441.3,331.7 L442,331.3 L442.7,330.9 L443.4,330.5 L444.1,330.2 L444.8,329.9 L445.5,329.6 L446.2,329.4 L446.9,329.1 L447.6,329 L448.3,328.8 L449,328.7 L449.7,328.6 L450.4,328.6 L451.1,328.6 L451.9,328.6 L452.6,328.7 L453.3,328.8 L454,328.9 L454.7,329.1 L455.4,329.3 L456.1,329.5 L456.8,329.8 L457.5,330.1 L458.2,330.4 L458.9,330.7 L459.6,331.1 L460.3,331.5 L461,332 L461.7,332.4 L462.4,332.9 L463.1,333.4 L463.8,334 L464.5,334.5 L465.2,335.1 L465.9,335.7 L466.6,336.3 L467.3,337 L468,337.6 L468.7,338.3 L469.4,338.9 L470.1,339.6 L470.8,340.3 L471.5,341 L472.2,341.7 L472.9,342.4 L473.6,343.1 L474.3,343.8 L475,344.5 L475.7,345.3 L476.4,346 L477.1,346.7 L477.8,347.4 L478.5,348.1 L479.2,348.8 L479.9,349.5 L480.6,350.1 L481.3,350.8 L482,351.5 L482.7,352.1 L483.4,352.8 L484.1,353.4 L484.8,354 L485.5,354.6 L486.2,355.2 L486.9,355.8 L487.6,356.3 L488.3,356.9 L489,357.4 L489.7,357.9 L490.4,358.4 L491.1,358.9 L491.8,359.4 L492.5,359.9 L493.2,360.3 L493.9,360.7 L494.6,361.1 L495.3,361.5 L496,361.9 L496.7,362.3 L497.4,362.6 L498.1,363 L498.8,363.3 L499.5,363.6 L500.2,363.9 L501,364.2 L501.7,364.4 L502.4,364.7 L503.1,364.9 L503.8,365.2" fill="none" stroke="#8e1038" stroke-width="1.7" stroke-linejoin="round" stroke-opacity="1"/>
<line x1="393.9" y1="284" x2="393.9" y2="369.2" stroke="#2e2e2e" stroke-width="1.3"/>
<line x1="391.3" y1="368.6" x2="510.2" y2="368.6" stroke="#2e2e2e" stroke-width="1.3"/>
<line x1="391.5" y1="368.6" x2="393.9" y2="368.6" stroke="#2e2e2e" stroke-width="0.9"/>
<text x="388" y="370.9" font-family="Liberation Sans, sans-serif" font-size="6.4" fill="#1a1a1a" stroke="#1a1a1a" stroke-width="0.18" text-anchor="end">0</text>
<line x1="391.5" y1="352.1" x2="393.9" y2="352.1" stroke="#2e2e2e" stroke-width="0.9"/>
<text x="388" y="354.4" font-family="Liberation Sans, sans-serif" font-size="6.4" fill="#1a1a1a" stroke="#1a1a1a" stroke-width="0.18" text-anchor="end">20</text>
<line x1="391.5" y1="335.6" x2="393.9" y2="335.6" stroke="#2e2e2e" stroke-width="0.9"/>
<text x="388" y="337.9" font-family="Liberation Sans, sans-serif" font-size="6.4" fill="#1a1a1a" stroke="#1a1a1a" stroke-width="0.18" text-anchor="end">40</text>
<line x1="391.5" y1="319.1" x2="393.9" y2="319.1" stroke="#2e2e2e" stroke-width="0.9"/>
<text x="388" y="321.4" font-family="Liberation Sans, sans-serif" font-size="6.4" fill="#1a1a1a" stroke="#1a1a1a" stroke-width="0.18" text-anchor="end">60</text>
<line x1="391.5" y1="302.6" x2="393.9" y2="302.6" stroke="#2e2e2e" stroke-width="0.9"/>
<text x="388" y="304.9" font-family="Liberation Sans, sans-serif" font-size="6.4" fill="#1a1a1a" stroke="#1a1a1a" stroke-width="0.18" text-anchor="end">80</text>
<line x1="391.5" y1="286.1" x2="393.9" y2="286.1" stroke="#2e2e2e" stroke-width="0.9"/>
<text x="388" y="288.4" font-family="Liberation Sans, sans-serif" font-size="6.4" fill="#1a1a1a" stroke="#1a1a1a" stroke-width="0.18" text-anchor="end">100</text>
<line x1="394.7" y1="368.6" x2="394.7" y2="370.9" stroke="#2e2e2e" stroke-width="0.9"/>
<text x="394.7" y="380.5" font-family="Liberation Sans, sans-serif" font-size="6.4" fill="#1a1a1a" stroke="#1a1a1a" stroke-width="0.18" text-anchor="middle">−100</text>
<line x1="423.1" y1="368.6" x2="423.1" y2="370.9" stroke="#2e2e2e" stroke-width="0.9"/>
<text x="423.1" y="380.5" font-family="Liberation Sans, sans-serif" font-size="6.4" fill="#1a1a1a" stroke="#1a1a1a" stroke-width="0.18" text-anchor="middle">−50</text>
<line x1="451.5" y1="368.6" x2="451.5" y2="370.9" stroke="#2e2e2e" stroke-width="0.9"/>
<text x="451.5" y="380.5" font-family="Liberation Sans, sans-serif" font-size="6.4" fill="#1a1a1a" stroke="#1a1a1a" stroke-width="0.18" text-anchor="middle">0</text>
<line x1="479.9" y1="368.6" x2="479.9" y2="370.9" stroke="#2e2e2e" stroke-width="0.9"/>
<text x="479.9" y="380.5" font-family="Liberation Sans, sans-serif" font-size="6.4" fill="#1a1a1a" stroke="#1a1a1a" stroke-width="0.18" text-anchor="middle">50</text>
<line x1="508.3" y1="368.6" x2="508.3" y2="370.9" stroke="#2e2e2e" stroke-width="0.9"/>
<text x="508.3" y="380.5" font-family="Liberation Sans, sans-serif" font-size="6.4" fill="#1a1a1a" stroke="#1a1a1a" stroke-width="0.18" text-anchor="middle">100</text>
<text x="452.2" y="391.3" font-family="Liberation Sans, sans-serif" font-size="7" font-weight="bold" fill="#1e1e1e" text-anchor="middle" textLength="42.5" lengthAdjust="spacingAndGlyphs">Orientation [deg]</text>
<text font-family="Liberation Sans, sans-serif" font-size="6.6" fill="#151515" stroke="#151515" stroke-width="0.12" text-anchor="middle" textLength="26.6" lengthAdjust="spacingAndGlyphs" font-weight="bold" transform="translate(371.9,325.3) rotate(-90)">Frequency</text>
<rect x="440.8" y="19.6" width="5.5" height="5.2" fill="rgb(90,150,210)"/>
<text x="449" y="24.1" font-family="Liberation Sans, sans-serif" font-size="5.9" fill="#1e1e1e" stroke="#1e1e1e" stroke-width="0.12">Unstretch flat</text>
<rect x="440.8" y="29.3" width="5.5" height="5.2" fill="rgb(176,56,76)"/>
<text x="449" y="33.8" font-family="Liberation Sans, sans-serif" font-size="5.9" fill="#1e1e1e" stroke="#1e1e1e" stroke-width="0.12">Nanopatterned unstretch</text>
<rect x="440.8" y="39" width="5.5" height="5.2" fill="rgb(238,150,125)"/>
<text x="449" y="43.5" font-family="Liberation Sans, sans-serif" font-size="5.9" fill="#1e1e1e" stroke="#1e1e1e" stroke-width="0.12">Stretch flat 10% 24h</text>
<text x="6.3" y="15.6" font-family="Liberation Sans, sans-serif" font-size="10.5" font-weight="bold" fill="#111">A</text>
<text x="208.4" y="15.7" font-family="Liberation Sans, sans-serif" font-size="10.5" font-weight="bold" fill="#111">B</text>
<rect x="0.7" y="0.7" width="518.6" height="398.6" fill="none" stroke="#5e5e5e" stroke-width="1.4"/>
</svg>
</body></html>
